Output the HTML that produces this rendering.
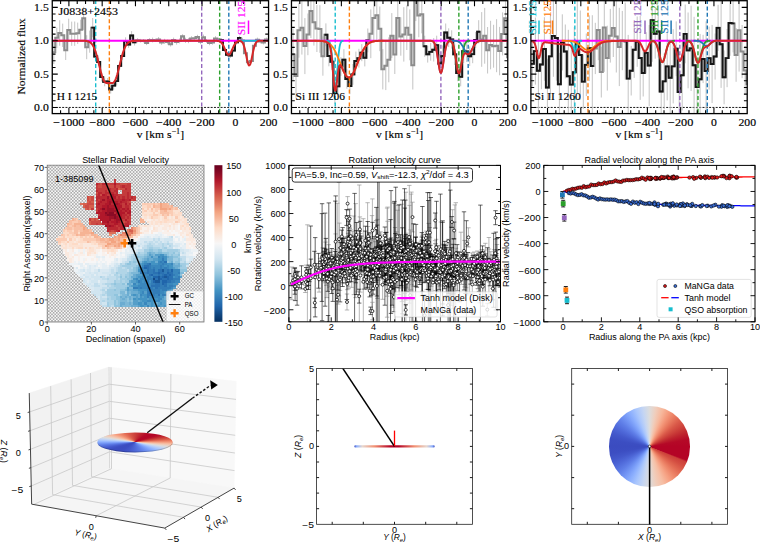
<!DOCTYPE html>
<html><head><meta charset="utf-8"><style>
html,body{margin:0;padding:0;background:#fff;width:760px;height:545px;overflow:hidden;position:relative}
svg{display:block}
</style></head><body>
<svg width="760" height="545" viewBox="0 0 760 545">
<rect width="760" height="545" fill="#fff"/>
<clipPath id="sp0"><rect x="52.26" y="0" width="216.3" height="113.6"/></clipPath>
<g clip-path="url(#sp0)">
<line x1="52.26" y1="107.45" x2="268.56" y2="107.45" stroke="#000" stroke-width="0.9" stroke-dasharray="2,1.3"/>
<path d="M53.8 40.6V64.1M56.8 27.6V48.1M59.7 20.2V45.7M62.7 23.6V47M65.7 40.7V60M68.7 18.7V41.4M71.7 21.6V45.8M74.7 21.5V45.9M77.7 22.6V44M80.7 19.7V39.7M83.7 6.8V29.9M86.7 35.2V59.2M89.7 30.6V52.7M92.7 18V37.3M95.7 52.7V60.4M98.7 58V66.1M101.7 72.8V81.4M104.7 77.5V86.3M107.7 78V85M110.7 85.4V93.6M113.7 81.7V89.6M116.7 76.7V85.5M119.7 62.2V69.6M122.6 51.8V60.2M125.6 37.3V44.7M128.6 41.1V47.8M131.6 31.1V39.8M134.6 38.8V45.5M137.6 38.2V42.3M140.6 38.9V42.5M143.6 39V42.5M146.6 40.9V45.1M149.6 38.1V42.1M152.6 37.6V42.4M155.6 38.5V42M158.6 37V42.1M161.6 39.9V44.9M164.6 38.8V43.9M167.6 39.6V44.5M170.6 41.8V46.5M173.6 37.6V42.4M176.6 39.5V44.6M179.6 38.4V43.4M182.6 34.2V38.2M185.5 37.7V42.9M188.5 37.9V43.2M191.5 36.2V41M194.5 36V40.6M197.5 34.8V39.4M200.5 39.4V44.2M203.5 34.6V39.7M206.5 39V43M209.5 41V45.2M212.5 40.6V44.6M215.5 36.2V41M218.5 37.7V41.3M221.5 38.1V42.4M224.5 47.8V52.1M227.5 52.6V56.9M230.5 53.2V57.8M233.5 48.6V52.6M236.5 39.7V44.8M239.5 35.8V40M242.5 37.8V43M245.5 50.6V55.8M248.4 60.1V64.2M251.4 58.8V63M254.4 43.4V48M257.4 37.6V41.8M260.4 39.7V43.4M263.4 40.5V44.5M266.4 37.5V41.4M269.4 39V43.2" stroke="#c4c4c4" stroke-width="1" fill="none"/>
<polyline points="52.26,52.33 55.26,52.33 55.26,37.85 58.25,37.85 58.25,32.94 61.25,32.94 61.25,35.31 64.24,35.31 64.24,50.37 67.24,50.37 67.24,30.03 70.23,30.03 70.23,33.73 73.23,33.73 73.23,33.7 76.22,33.7 76.22,33.3 79.22,33.3 79.22,29.71 82.21,29.71 82.21,18.37 85.21,18.37 85.21,47.18 88.2,47.18 88.2,41.63 91.2,41.63 91.2,27.66 94.19,27.66 94.19,56.57 97.19,56.57 97.19,62.01 100.18,62.01 100.18,77.1 103.18,77.1 103.18,81.88 106.17,81.88 106.17,81.52 109.17,81.52 109.17,89.52 112.16,89.52 112.16,85.65 115.16,85.65 115.16,81.11 118.15,81.11 118.15,65.91 121.15,65.91 121.15,55.99 124.14,55.99 124.14,41 127.14,41 127.14,44.44 130.14,44.44 130.14,35.44 133.13,35.44 133.13,42.18 136.13,42.18 136.13,40.22 139.12,40.22 139.12,40.67 142.12,40.67 142.12,40.73 145.11,40.73 145.11,43.01 148.11,43.01 148.11,40.08 151.1,40.08 151.1,39.98 154.1,39.98 154.1,40.27 157.09,40.27 157.09,39.51 160.09,39.51 160.09,42.39 163.08,42.39 163.08,41.35 166.08,41.35 166.08,42.07 169.07,42.07 169.07,44.16 172.07,44.16 172.07,40.01 175.06,40.01 175.06,42.02 178.06,42.02 178.06,40.91 181.05,40.91 181.05,36.25 184.05,36.25 184.05,40.29 187.04,40.29 187.04,40.54 190.04,40.54 190.04,38.6 193.03,38.6 193.03,38.26 196.03,38.26 196.03,37.12 199.02,37.12 199.02,41.79 202.02,41.79 202.02,37.16 205.02,37.16 205.02,41.01 208.01,41.01 208.01,43.07 211.01,43.07 211.01,42.61 214,42.61 214,38.56 217,38.56 217,39.52 219.99,39.52 219.99,40.26 222.99,40.26 222.99,49.94 225.98,49.94 225.98,54.75 228.98,54.75 228.98,55.51 231.97,55.51 231.97,50.58 234.97,50.58 234.97,42.22 237.96,42.22 237.96,37.88 240.96,37.88 240.96,40.38 243.95,40.38 243.95,53.21 246.95,53.21 246.95,62.16 249.94,62.16 249.94,60.92 252.94,60.92 252.94,45.73 255.93,45.73 255.93,39.7 258.93,39.7 258.93,41.59 261.92,41.59 261.92,42.52 264.92,42.52 264.92,39.45 267.91,39.45 267.91,41.1 270.91,41.1" fill="none" stroke="#8c8c8c" stroke-width="2.0" />
<polyline points="91.2,27.66 94.19,27.66 94.19,56.57 97.19,56.57 97.19,62.01 100.18,62.01 100.18,77.1 103.18,77.1 103.18,81.88 106.17,81.88 106.17,81.52 109.17,81.52 109.17,89.52 112.16,89.52 112.16,85.65 115.16,85.65 115.16,81.11 118.15,81.11 118.15,65.91 121.15,65.91 121.15,55.99 124.14,55.99 124.14,41 127.14,41 127.14,44.44 130.14,44.44 130.14,35.44 133.13,35.44 133.13,42.18 136.13,42.18" fill="none" stroke="#161616" stroke-width="1.9" />
<polyline points="219.99,40.26 222.99,40.26 222.99,49.94 225.98,49.94 225.98,54.75 228.98,54.75 228.98,55.51 231.97,55.51 231.97,50.58 234.97,50.58 234.97,42.22 237.96,42.22 237.96,37.88 240.96,37.88" fill="none" stroke="#161616" stroke-width="1.9" />
<line x1="95.69" y1="0" x2="95.69" y2="114" stroke="#17becf" stroke-width="1.4" stroke-dasharray="4,2.4"/>
<line x1="109.34" y1="0" x2="109.34" y2="114" stroke="#ff7f0e" stroke-width="1.4" stroke-dasharray="4,2.4"/>
<line x1="201.69" y1="0" x2="201.69" y2="114" stroke="#9467bd" stroke-width="1.4" stroke-dasharray="4,2.4"/>
<line x1="219.66" y1="0" x2="219.66" y2="114" stroke="#2ca02c" stroke-width="1.4" stroke-dasharray="4,2.4"/>
<line x1="228.81" y1="0" x2="228.81" y2="114" stroke="#1f77b4" stroke-width="1.4" stroke-dasharray="4,2.4"/>
<polyline points="52.26,40.75 268.58,40.75" fill="none" stroke="#ff00ff" stroke-width="2.0" />
<polyline points="238.63,40.75 268.58,40.75" fill="none" stroke="#17becf" stroke-width="2.0" />
<polyline points="52.26,40.75 52.69,40.75 53.13,40.75 53.56,40.75 53.99,40.75 54.43,40.75 54.86,40.75 55.29,40.75 55.73,40.75 56.16,40.75 56.6,40.75 57.03,40.75 57.46,40.75 57.9,40.75 58.33,40.75 58.76,40.75 59.2,40.75 59.63,40.75 60.06,40.75 60.5,40.75 60.93,40.75 61.36,40.75 61.8,40.75 62.23,40.75 62.66,40.75 63.1,40.75 63.53,40.75 63.96,40.75 64.4,40.75 64.83,40.75 65.27,40.75 65.7,40.75 66.13,40.75 66.57,40.75 67,40.75 67.43,40.75 67.87,40.75 68.3,40.75 68.73,40.75 69.17,40.75 69.6,40.75 70.03,40.75 70.47,40.75 70.9,40.75 71.33,40.75 71.77,40.75 72.2,40.75 72.63,40.75 73.07,40.75 73.5,40.75 73.94,40.75 74.37,40.75 74.8,40.75 75.24,40.75 75.67,40.75 76.1,40.75 76.54,40.75 76.97,40.75 77.4,40.75 77.84,40.75 78.27,40.75 78.7,40.75 79.14,40.75 79.57,40.75 80,40.75 80.44,40.76 80.87,40.76 81.3,40.76 81.74,40.77 82.17,40.77 82.61,40.78 83.04,40.79 83.47,40.8 83.91,40.81 84.34,40.83 84.77,40.86 85.21,40.89 85.64,40.93 86.07,40.97 86.51,41.03 86.94,41.11 87.37,41.2 87.81,41.3 88.24,41.44 88.67,41.59 89.11,41.78 89.54,42.01 89.98,42.27 90.41,42.58 90.84,42.95 91.28,43.37 91.71,43.85 92.14,44.4 92.58,45.02 93.01,45.73 93.44,46.52 93.88,47.4 94.31,48.37 94.74,49.44 95.18,50.61 95.61,51.87 96.04,53.22 96.48,54.66 96.91,56.19 97.34,57.79 97.78,59.45 98.21,61.17 98.65,62.93 99.08,64.7 99.51,66.49 99.95,68.26 100.38,69.99 100.81,71.67 101.25,73.28 101.68,74.8 102.11,76.21 102.55,77.5 102.98,78.66 103.41,79.68 103.85,80.55 104.28,81.28 104.71,81.86 105.15,82.32 105.58,82.65 106.01,82.88 106.45,83.02 106.88,83.1 107.32,83.12 107.75,83.1 108.18,83.08 108.62,83.05 109.05,83.03 109.48,83.02 109.92,83.03 110.35,83.06 110.78,83.09 111.22,83.11 111.65,83.11 112.08,83.08 112.52,82.99 112.95,82.83 113.38,82.57 113.82,82.2 114.25,81.7 114.69,81.08 115.12,80.3 115.55,79.39 115.99,78.33 116.42,77.13 116.85,75.8 117.29,74.36 117.72,72.81 118.15,71.18 118.59,69.48 119.02,67.73 119.45,65.96 119.89,64.17 120.32,62.4 120.75,60.65 121.19,58.95 121.62,57.3 122.05,55.72 122.49,54.22 122.92,52.81 123.36,51.48 123.79,50.25 124.22,49.11 124.66,48.07 125.09,47.13 125.52,46.28 125.96,45.51 126.39,44.83 126.82,44.23 127.26,43.7 127.69,43.23 128.12,42.83 128.56,42.49 128.99,42.19 129.42,41.94 129.86,41.72 130.29,41.54 130.72,41.39 131.16,41.27 131.59,41.17 132.03,41.08 132.46,41.01 132.89,40.96 133.33,40.91 133.76,40.88 134.19,40.85 134.63,40.83 135.06,40.81 135.49,40.79 135.93,40.78 136.36,40.78 136.79,40.77 137.23,40.76 137.66,40.76 138.09,40.76 138.53,40.76 138.96,40.75 139.39,40.75 139.83,40.75 140.26,40.75 140.7,40.75 141.13,40.75 141.56,40.75 142,40.75 142.43,40.75 142.86,40.75 143.3,40.75 143.73,40.75 144.16,40.75 144.6,40.75 145.03,40.75 145.46,40.75 145.9,40.75 146.33,40.75 146.76,40.75 147.2,40.75 147.63,40.75 148.07,40.75 148.5,40.75 148.93,40.75 149.37,40.75 149.8,40.75 150.23,40.75 150.67,40.75 151.1,40.75 151.53,40.75 151.97,40.75 152.4,40.75 152.83,40.75 153.27,40.75 153.7,40.75 154.13,40.75 154.57,40.75 155,40.75 155.43,40.75 155.87,40.75 156.3,40.75 156.74,40.75 157.17,40.75 157.6,40.75 158.04,40.75 158.47,40.75 158.9,40.75 159.34,40.75 159.77,40.75 160.2,40.75 160.64,40.75 161.07,40.75 161.5,40.75 161.94,40.75 162.37,40.75 162.8,40.75 163.24,40.75 163.67,40.75 164.1,40.75 164.54,40.75 164.97,40.75 165.41,40.75 165.84,40.75 166.27,40.75 166.71,40.75 167.14,40.75 167.57,40.75 168.01,40.75 168.44,40.75 168.87,40.75 169.31,40.75 169.74,40.75 170.17,40.75 170.61,40.75 171.04,40.75 171.47,40.75 171.91,40.75 172.34,40.75 172.77,40.75 173.21,40.75 173.64,40.75 174.08,40.75 174.51,40.75 174.94,40.75 175.38,40.75 175.81,40.75 176.24,40.75 176.68,40.75 177.11,40.75 177.54,40.75 177.98,40.75 178.41,40.75 178.84,40.75 179.28,40.75 179.71,40.75 180.14,40.75 180.58,40.75 181.01,40.75 181.45,40.75 181.88,40.75 182.31,40.75 182.75,40.75 183.18,40.75 183.61,40.75 184.05,40.75 184.48,40.75 184.91,40.75 185.35,40.75 185.78,40.75 186.21,40.75 186.65,40.75 187.08,40.75 187.51,40.75 187.95,40.75 188.38,40.75 188.81,40.75 189.25,40.75 189.68,40.75 190.12,40.75 190.55,40.75 190.98,40.75 191.42,40.75 191.85,40.75 192.28,40.75 192.72,40.75 193.15,40.75 193.58,40.75 194.02,40.75 194.45,40.75 194.88,40.75 195.32,40.75 195.75,40.75 196.18,40.75 196.62,40.75 197.05,40.75 197.48,40.75 197.92,40.75 198.35,40.75 198.79,40.75 199.22,40.75 199.65,40.75 200.09,40.75 200.52,40.75 200.95,40.75 201.39,40.75 201.82,40.75 202.25,40.75 202.69,40.75 203.12,40.75 203.55,40.75 203.99,40.75 204.42,40.75 204.85,40.75 205.29,40.75 205.72,40.75 206.15,40.75 206.59,40.75 207.02,40.75 207.46,40.75 207.89,40.75 208.32,40.75 208.76,40.75 209.19,40.75 209.62,40.75 210.06,40.75 210.49,40.75 210.92,40.75 211.36,40.75 211.79,40.75 212.22,40.75 212.66,40.75 213.09,40.75 213.52,40.75 213.96,40.75 214.39,40.76 214.83,40.76 215.26,40.77 215.69,40.78 216.13,40.79 216.56,40.81 216.99,40.84 217.43,40.88 217.86,40.93 218.29,41.01 218.73,41.11 219.16,41.24 219.59,41.41 220.03,41.63 220.46,41.9 220.89,42.24 221.33,42.65 221.76,43.14 222.19,43.72 222.63,44.38 223.06,45.13 223.5,45.96 223.93,46.86 224.36,47.82 224.8,48.81 225.23,49.82 225.66,50.8 226.1,51.74 226.53,52.61 226.96,53.36 227.4,53.97 227.83,54.42 228.26,54.68 228.7,54.76 229.13,54.63 229.56,54.32 230,53.83 230.43,53.18 230.86,52.4 231.3,51.52 231.73,50.56 232.17,49.57 232.6,48.56 233.03,47.58 233.47,46.63 233.9,45.75 234.33,44.94 234.77,44.21 235.2,43.57 235.63,43.01 236.07,42.54 236.5,42.15 236.93,41.83 237.37,41.58 237.8,41.38 238.23,41.23 238.67,41.13 239.1,41.06 239.54,41.04 239.97,41.06 240.4,41.14 240.84,41.27 241.27,41.48 241.7,41.78 242.14,42.2 242.57,42.77 243,43.51 243.44,44.44 243.87,45.59 244.3,46.97 244.74,48.57 245.17,50.39 245.6,52.38 246.04,54.5 246.47,56.66 246.9,58.78 247.34,60.76 247.77,62.5 248.21,63.9 248.64,64.87 249.07,65.37 249.51,65.36 249.94,64.83 250.37,63.83 250.81,62.42 251.24,60.66 251.67,58.67 252.11,56.55 252.54,54.39 252.97,52.28 253.41,50.29 253.84,48.48 254.27,46.89 254.71,45.52 255.14,44.38 255.57,43.46 256.01,42.73 256.44,42.16 256.88,41.74 257.31,41.43 257.74,41.2 258.18,41.05 258.61,40.94 259.04,40.87 259.48,40.82 259.91,40.8 260.34,40.78 260.78,40.77 261.21,40.76 261.64,40.75 262.08,40.75 262.51,40.75 262.94,40.75 263.38,40.75 263.81,40.75 264.24,40.75 264.68,40.75 265.11,40.75 265.55,40.75 265.98,40.75 266.41,40.75 266.85,40.75 267.28,40.75 267.71,40.75 268.15,40.75 268.58,40.75" fill="none" stroke="#d62728" stroke-width="2.0" />
</g>
<rect x="52.26" y="0.7" width="216.3" height="112.9" fill="none" stroke="#000" stroke-width="1.3"/>
<path d="M60.58 113.6v-3.3M60.58 0.7v3.3M68.9 113.6v-5.5M68.9 0.7v5.5M77.22 113.6v-3.3M77.22 0.7v3.3M85.54 113.6v-3.3M85.54 0.7v3.3M93.86 113.6v-3.3M93.86 0.7v3.3M102.18 113.6v-5.5M102.18 0.7v5.5M110.5 113.6v-3.3M110.5 0.7v3.3M118.82 113.6v-3.3M118.82 0.7v3.3M127.14 113.6v-3.3M127.14 0.7v3.3M135.46 113.6v-5.5M135.46 0.7v5.5M143.78 113.6v-3.3M143.78 0.7v3.3M152.1 113.6v-3.3M152.1 0.7v3.3M160.42 113.6v-3.3M160.42 0.7v3.3M168.74 113.6v-5.5M168.74 0.7v5.5M177.06 113.6v-3.3M177.06 0.7v3.3M185.38 113.6v-3.3M185.38 0.7v3.3M193.7 113.6v-3.3M193.7 0.7v3.3M202.02 113.6v-5.5M202.02 0.7v5.5M210.34 113.6v-3.3M210.34 0.7v3.3M218.66 113.6v-3.3M218.66 0.7v3.3M226.98 113.6v-3.3M226.98 0.7v3.3M235.3 113.6v-5.5M235.3 0.7v5.5M243.62 113.6v-3.3M243.62 0.7v3.3M251.94 113.6v-3.3M251.94 0.7v3.3M260.26 113.6v-3.3M260.26 0.7v3.3M52.26 107.45h5.5M268.56 107.45h-5.5M52.26 100.78h3.3M268.56 100.78h-3.3M52.26 94.11h3.3M268.56 94.11h-3.3M52.26 87.44h3.3M268.56 87.44h-3.3M52.26 80.77h3.3M268.56 80.77h-3.3M52.26 74.1h5.5M268.56 74.1h-5.5M52.26 67.43h3.3M268.56 67.43h-3.3M52.26 60.76h3.3M268.56 60.76h-3.3M52.26 54.09h3.3M268.56 54.09h-3.3M52.26 47.42h3.3M268.56 47.42h-3.3M52.26 40.75h5.5M268.56 40.75h-5.5M52.26 34.08h3.3M268.56 34.08h-3.3M52.26 27.41h3.3M268.56 27.41h-3.3M52.26 20.74h3.3M268.56 20.74h-3.3M52.26 14.07h3.3M268.56 14.07h-3.3M52.26 7.4h5.5M268.56 7.4h-5.5" stroke="#000" stroke-width="1.1" fill="none"/>
<text x="68.9" y="125.7" font-size="10.24" text-anchor="middle" font-family="'Liberation Serif', serif" fill="#000" stroke="#000" stroke-width="0.15" textLength="31.12" lengthAdjust="spacingAndGlyphs" >−1000</text>
<text x="102.18" y="125.7" font-size="10.24" text-anchor="middle" font-family="'Liberation Serif', serif" fill="#000" stroke="#000" stroke-width="0.15" textLength="25.27" lengthAdjust="spacingAndGlyphs" >−800</text>
<text x="135.46" y="125.7" font-size="10.24" text-anchor="middle" font-family="'Liberation Serif', serif" fill="#000" stroke="#000" stroke-width="0.15" textLength="25.27" lengthAdjust="spacingAndGlyphs" >−600</text>
<text x="168.74" y="125.7" font-size="10.24" text-anchor="middle" font-family="'Liberation Serif', serif" fill="#000" stroke="#000" stroke-width="0.15" textLength="25.27" lengthAdjust="spacingAndGlyphs" >−400</text>
<text x="202.02" y="125.7" font-size="10.24" text-anchor="middle" font-family="'Liberation Serif', serif" fill="#000" stroke="#000" stroke-width="0.15" textLength="25.27" lengthAdjust="spacingAndGlyphs" >−200</text>
<text x="235.3" y="125.7" font-size="10.24" text-anchor="middle" font-family="'Liberation Serif', serif" fill="#000" stroke="#000" stroke-width="0.15" textLength="5.85" lengthAdjust="spacingAndGlyphs" >0</text>
<text x="268.58" y="125.7" font-size="10.24" text-anchor="middle" font-family="'Liberation Serif', serif" fill="#000" stroke="#000" stroke-width="0.15" textLength="17.56" lengthAdjust="spacingAndGlyphs" >200</text>
<text x="48.76" y="110.85" font-size="10.24" text-anchor="end" font-family="'Liberation Serif', serif" fill="#000" stroke="#000" stroke-width="0.15" textLength="14.63" lengthAdjust="spacingAndGlyphs" >0.0</text>
<text x="48.76" y="77.5" font-size="10.24" text-anchor="end" font-family="'Liberation Serif', serif" fill="#000" stroke="#000" stroke-width="0.15" textLength="14.63" lengthAdjust="spacingAndGlyphs" >0.5</text>
<text x="48.76" y="44.15" font-size="10.24" text-anchor="end" font-family="'Liberation Serif', serif" fill="#000" stroke="#000" stroke-width="0.15" textLength="14.63" lengthAdjust="spacingAndGlyphs" >1.0</text>
<text x="48.76" y="10.8" font-size="10.24" text-anchor="end" font-family="'Liberation Serif', serif" fill="#000" stroke="#000" stroke-width="0.15" textLength="14.63" lengthAdjust="spacingAndGlyphs" >1.5</text>
<text x="160.41" y="137.7" font-size="10.35" text-anchor="middle" font-family="'Liberation Serif', serif" fill="#000" stroke="#000" stroke-width="0.15" textLength="47.25" lengthAdjust="spacingAndGlyphs" ><tspan>v [km s</tspan><tspan font-size="7.25" dy="-3.8">−1</tspan><tspan dy="3.8">]</tspan></text>
<clipPath id="sp1"><rect x="291.46" y="0" width="216.3" height="113.6"/></clipPath>
<g clip-path="url(#sp1)">
<line x1="291.46" y1="107.45" x2="507.76" y2="107.45" stroke="#000" stroke-width="0.9" stroke-dasharray="2,1.3"/>
<path d="M293 28.7V80.2M296 53.9V98.1M298.9 2.9V57.7M301.9 1.1V54.6M304.9 18.1V74.1M307.9 13.5V55.2M310.9 -15.8V38M313.9 -0.8V45.6M316.9 5V52M319.9 5.2V52.8M322.9 36.5V75.7M325.9 23.4V46.2M328.9 45.7V66.3M331.9 53.4V70M334.9 82.3V104M337.9 78V94.7M340.9 57.1V75.9M343.9 49.2V70.3M346.9 69.2V88.7M349.9 77.9V94.2M352.9 64V84.8M355.9 51.6V70.3M358.9 48.8V67.6M361.8 44.1V61.2M364.8 49.1V66.4M367.8 28.5V52.3M370.8 9.4V58.2M373.8 -6.2V42.3M376.8 -10.9V41.2M379.8 6.5V51.2M382.8 49.1V89.4M385.8 41.2V90.1M388.8 37.3V82.3M391.8 13.1V58.1M394.8 34.9V74M397.8 -4.6V40.7M400.8 17.3V55.7M403.8 7.2V61.6M406.8 5.5V50M409.8 9.4V60.3M412.8 41V89.5M415.8 -24.6V21.1M418.8 -6.5V37.3M421.8 -4.7V33.4M424.7 35.7V56.8M427.7 46V62.6M430.7 43V60.7M433.7 38.1V61.5M436.7 35.7V54.5M439.7 54.2V72.9M442.7 45.4V66.7M445.7 23.5V41.5M448.7 28.3V47.1M451.7 30.3V48.6M454.7 43.7V65M457.7 64.7V81.2M460.7 67.4V86.3M463.7 39.2V63M466.7 41V62M469.7 46.4V66M472.7 45.1V63.2M475.7 32V48.1M478.7 20.2V43.3M481.7 12.1V66.8M484.7 7.9V63.7M487.6 27V73.5M490.6 20.8V69.3M493.6 24.8V67.7M496.6 19.2V72.2M499.6 26.9V75.3M502.6 12.4V55.4M505.6 -3.3V39.7M508.6 35.1V79.2" stroke="#c4c4c4" stroke-width="1" fill="none"/>
<polyline points="291.46,54.45 294.46,54.45 294.46,76.03 297.45,76.03 297.45,30.29 300.45,30.29 300.45,27.84 303.44,27.84 303.44,46.12 306.44,46.12 306.44,34.38 309.43,34.38 309.43,11.09 312.43,11.09 312.43,22.36 315.42,22.36 315.42,28.52 318.42,28.52 318.42,28.96 321.41,28.96 321.41,56.13 324.41,56.13 324.41,34.77 327.4,34.77 327.4,56.03 330.4,56.03 330.4,61.69 333.39,61.69 333.39,93.17 336.39,93.17 336.39,86.34 339.38,86.34 339.38,66.5 342.38,66.5 342.38,59.76 345.37,59.76 345.37,78.97 348.37,78.97 348.37,86.05 351.36,86.05 351.36,74.4 354.36,74.4 354.36,60.96 357.35,60.96 357.35,58.19 360.35,58.19 360.35,52.68 363.34,52.68 363.34,57.76 366.34,57.76 366.34,40.39 369.34,40.39 369.34,33.79 372.33,33.79 372.33,18.06 375.33,18.06 375.33,15.13 378.32,15.13 378.32,28.87 381.32,28.87 381.32,69.25 384.31,69.25 384.31,65.65 387.31,65.65 387.31,59.79 390.3,59.79 390.3,35.64 393.3,35.64 393.3,54.4 396.29,54.4 396.29,18.04 399.29,18.04 399.29,36.52 402.28,36.52 402.28,34.42 405.28,34.42 405.28,27.73 408.27,27.73 408.27,34.85 411.27,34.85 411.27,65.21 414.26,65.21 414.26,-1.77 417.26,-1.77 417.26,15.38 420.25,15.38 420.25,14.34 423.25,14.34 423.25,46.23 426.24,46.23 426.24,54.31 429.24,54.31 429.24,51.86 432.23,51.86 432.23,49.79 435.23,49.79 435.23,45.14 438.22,45.14 438.22,63.56 441.22,63.56 441.22,56.02 444.22,56.02 444.22,32.5 447.21,32.5 447.21,37.68 450.21,37.68 450.21,39.48 453.2,39.48 453.2,54.33 456.2,54.33 456.2,72.94 459.19,72.94 459.19,76.83 462.19,76.83 462.19,51.09 465.18,51.09 465.18,51.49 468.18,51.49 468.18,56.24 471.17,56.24 471.17,54.14 474.17,54.14 474.17,40.04 477.16,40.04 477.16,31.72 480.16,31.72 480.16,39.41 483.15,39.41 483.15,35.83 486.15,35.83 486.15,50.26 489.14,50.26 489.14,45.06 492.14,45.06 492.14,46.24 495.13,46.24 495.13,45.69 498.13,45.69 498.13,51.11 501.12,51.11 501.12,33.88 504.12,33.88 504.12,18.21 507.11,18.21 507.11,57.18 510.11,57.18" fill="none" stroke="#8c8c8c" stroke-width="2.0" />
<polyline points="324.41,34.77 327.4,34.77 327.4,56.03 330.4,56.03 330.4,61.69 333.39,61.69 333.39,93.17 336.39,93.17 336.39,86.34 339.38,86.34 339.38,66.5 342.38,66.5 342.38,59.76 345.37,59.76 345.37,78.97 348.37,78.97 348.37,86.05 351.36,86.05 351.36,74.4 354.36,74.4 354.36,60.96 357.35,60.96 357.35,58.19 360.35,58.19 360.35,52.68 363.34,52.68 363.34,57.76 366.34,57.76 366.34,40.39 369.34,40.39" fill="none" stroke="#161616" stroke-width="1.9" />
<polyline points="423.25,46.23 426.24,46.23 426.24,54.31 429.24,54.31 429.24,51.86 432.23,51.86 432.23,49.79 435.23,49.79 435.23,45.14 438.22,45.14 438.22,63.56 441.22,63.56 441.22,56.02 444.22,56.02 444.22,32.5 447.21,32.5 447.21,37.68 450.21,37.68 450.21,39.48 453.2,39.48 453.2,54.33 456.2,54.33 456.2,72.94 459.19,72.94 459.19,76.83 462.19,76.83 462.19,51.09 465.18,51.09 465.18,51.49 468.18,51.49 468.18,56.24 471.17,56.24 471.17,54.14 474.17,54.14 474.17,40.04 477.16,40.04 477.16,31.72 480.16,31.72" fill="none" stroke="#161616" stroke-width="1.9" />
<line x1="335.22" y1="0" x2="335.22" y2="114" stroke="#17becf" stroke-width="1.4" stroke-dasharray="4,2.4"/>
<line x1="349.37" y1="0" x2="349.37" y2="114" stroke="#ff7f0e" stroke-width="1.4" stroke-dasharray="4,2.4"/>
<line x1="440.89" y1="0" x2="440.89" y2="114" stroke="#9467bd" stroke-width="1.4" stroke-dasharray="4,2.4"/>
<line x1="458.86" y1="0" x2="458.86" y2="114" stroke="#2ca02c" stroke-width="1.4" stroke-dasharray="4,2.4"/>
<line x1="468.18" y1="0" x2="468.18" y2="114" stroke="#1f77b4" stroke-width="1.4" stroke-dasharray="4,2.4"/>
<polyline points="291.46,40.75 507.78,40.75" fill="none" stroke="#ff00ff" stroke-width="2.0" />
<polyline points="326.57,40.77 327.01,40.78 327.44,40.82 327.87,40.9 328.31,41.03 328.74,41.27 329.18,41.69 329.61,42.36 330.04,43.4 330.48,44.95 330.91,47.14 331.34,50.09 331.78,53.87 332.21,58.44 332.64,63.68 333.08,69.29 333.51,74.87 333.94,79.95 334.38,84 334.81,86.6 335.24,87.44 335.68,86.42 336.11,83.67 336.54,79.49 336.98,74.35 337.41,68.74 337.85,63.15 338.28,57.97 338.71,53.46 339.15,49.77 339.58,46.9 340.01,44.77 340.45,43.28 340.88,42.28 341.31,41.64 341.75,41.24 342.18,41.01 342.61,40.89 343.05,40.82 343.48,40.78" fill="none" stroke="#17becf" stroke-width="1.8" />
<polyline points="314.44,40.76 314.87,40.77 315.3,40.77 315.74,40.77 316.17,40.78 316.6,40.79 317.04,40.79 317.47,40.8 317.9,40.81 318.34,40.82 318.77,40.84 319.2,40.85 319.64,40.87 320.07,40.89 320.5,40.92 320.94,40.95 321.37,40.99 321.81,41.03 322.24,41.07 322.67,41.13 323.11,41.19 323.54,41.26 323.97,41.33 324.41,41.42 324.84,41.53 325.27,41.64 325.71,41.77 326.14,41.92 326.57,42.08 327.01,42.26 327.44,42.46 327.87,42.68 328.31,42.93 328.74,43.2 329.18,43.5 329.61,43.83 330.04,44.19 330.48,44.58 330.91,45.01 331.34,45.47 331.78,45.96 332.21,46.5 332.64,47.07 333.08,47.69 333.51,48.34 333.94,49.04 334.38,49.78 334.81,50.55 335.24,51.37 335.68,52.23 336.11,53.12 336.54,54.06 336.98,55.02 337.41,56.02 337.85,57.05 338.28,58.1 338.71,59.17 339.15,60.26 339.58,61.37 340.01,62.48 340.45,63.59 340.88,64.71 341.31,65.81 341.75,66.9 342.18,67.96 342.61,69 343.05,70.01 343.48,70.97 343.91,71.89 344.35,72.76 344.78,73.56 345.21,74.31 345.65,74.98 346.08,75.58 346.52,76.1 346.95,76.54 347.38,76.9 347.82,77.16 348.25,77.34 348.68,77.43 349.12,77.42 349.55,77.32 349.98,77.13 350.42,76.85 350.85,76.48 351.28,76.03 351.72,75.5 352.15,74.89 352.58,74.2 353.02,73.45 353.45,72.63 353.89,71.76 354.32,70.83 354.75,69.86 355.19,68.85 355.62,67.81 356.05,66.74 356.49,65.65 356.92,64.54 357.35,63.43 357.79,62.32 358.22,61.21 358.65,60.1 359.09,59.01 359.52,57.94 359.95,56.89 360.39,55.87 360.82,54.88 361.25,53.92 361.69,52.99 362.12,52.1 362.56,51.25 362.99,50.44 363.42,49.67 363.86,48.93 364.29,48.24 364.72,47.6 365.16,46.99 365.59,46.42 366.02,45.89 366.46,45.4 366.89,44.94 367.32,44.52 367.76,44.14 368.19,43.78 368.62,43.46 369.06,43.16 369.49,42.89 369.92,42.65 370.36,42.43 370.79,42.23 371.23,42.05 371.66,41.89 372.09,41.75 372.53,41.62 372.96,41.51 373.39,41.41 373.83,41.32 374.26,41.24 374.69,41.18 375.13,41.12 375.56,41.06 375.99,41.02 376.43,40.98 376.86,40.95 377.29,40.92 377.73,40.89 378.16,40.87 378.59,40.85 379.03,40.83 379.46,40.82 379.9,40.81 380.33,40.8 380.76,40.79 381.2,40.78 381.63,40.78 382.06,40.77 382.5,40.77 382.93,40.77 383.36,40.76" fill="none" stroke="#ff7f0e" stroke-width="1.8" />
<polyline points="429.75,40.76 430.18,40.77 430.62,40.79 431.05,40.83 431.48,40.88 431.92,40.96 432.35,41.09 432.78,41.28 433.22,41.56 433.65,41.96 434.08,42.53 434.52,43.29 434.95,44.29 435.38,45.58 435.82,47.18 436.25,49.11 436.68,51.37 437.12,53.93 437.55,56.73 437.99,59.67 438.42,62.63 438.85,65.47 439.29,68.03 439.72,70.15 440.15,71.71 440.59,72.59 441.02,72.73 441.45,72.13 441.89,70.83 442.32,68.91 442.75,66.5 443.19,63.75 443.62,60.82 444.05,57.86 444.49,54.99 444.92,52.33 445.35,49.95 445.79,47.89 446.22,46.16 446.66,44.75 447.09,43.64 447.52,42.79 447.96,42.16 448.39,41.7 448.82,41.38 449.26,41.15 449.69,41 450.12,40.91 450.56,40.84 450.99,40.8 451.42,40.78 451.86,40.77" fill="none" stroke="#9467bd" stroke-width="1.8" />
<polyline points="447.96,40.77 448.39,40.78 448.82,40.81 449.26,40.85 449.69,40.92 450.12,41.02 450.56,41.18 450.99,41.42 451.42,41.76 451.86,42.25 452.29,42.91 452.72,43.8 453.16,44.95 453.59,46.41 454.03,48.19 454.46,50.3 454.89,52.73 455.33,55.43 455.76,58.32 456.19,61.29 456.63,64.2 457.06,66.91 457.49,69.25 457.93,71.08 458.36,72.27 458.79,72.76 459.23,72.5 459.66,71.5 460.09,69.85 460.53,67.65 460.96,65.04 461.39,62.17 461.83,59.2 462.26,56.28 462.7,53.51 463.13,50.99 463.56,48.78 464,46.9 464.43,45.35 464.86,44.12 465.3,43.15 465.73,42.43 466.16,41.89 466.6,41.51 467.03,41.24 467.46,41.06 467.9,40.94 468.33,40.87 468.76,40.82 469.2,40.79 469.63,40.77 470.06,40.76" fill="none" stroke="#2ca02c" stroke-width="1.8" />
<polyline points="451.86,40.76 452.29,40.76 452.72,40.76 453.16,40.77 453.59,40.78 454.03,40.79 454.46,40.81 454.89,40.83 455.33,40.86 455.76,40.9 456.19,40.96 456.63,41.03 457.06,41.13 457.49,41.24 457.93,41.39 458.36,41.57 458.79,41.8 459.23,42.07 459.66,42.39 460.09,42.77 460.53,43.21 460.96,43.71 461.39,44.28 461.83,44.91 462.26,45.6 462.7,46.35 463.13,47.14 463.56,47.96 464,48.8 464.43,49.64 464.86,50.46 465.3,51.25 465.73,51.97 466.16,52.62 466.6,53.16 467.03,53.59 467.46,53.9 467.9,54.06 468.33,54.08 468.76,53.96 469.2,53.69 469.63,53.3 470.06,52.78 470.5,52.17 470.93,51.46 471.37,50.69 471.8,49.88 472.23,49.04 472.67,48.2 473.1,47.37 473.53,46.57 473.97,45.81 474.4,45.11 474.83,44.46 475.27,43.87 475.7,43.35 476.13,42.89 476.57,42.49 477,42.16 477.43,41.87 477.87,41.63 478.3,41.44 478.74,41.28 479.17,41.16 479.6,41.06 480.04,40.98 480.47,40.92 480.9,40.87 481.34,40.84 481.77,40.81 482.2,40.8 482.64,40.78 483.07,40.77 483.5,40.77 483.94,40.76 484.37,40.76 484.8,40.75" fill="none" stroke="#1f77b4" stroke-width="1.8" />
<polyline points="291.46,40.75 291.89,40.75 292.33,40.75 292.76,40.75 293.19,40.75 293.63,40.75 294.06,40.75 294.49,40.75 294.93,40.75 295.36,40.75 295.8,40.75 296.23,40.75 296.66,40.75 297.1,40.75 297.53,40.75 297.96,40.75 298.4,40.75 298.83,40.75 299.26,40.75 299.7,40.75 300.13,40.75 300.56,40.75 301,40.75 301.43,40.75 301.86,40.75 302.3,40.75 302.73,40.75 303.16,40.75 303.6,40.75 304.03,40.75 304.47,40.75 304.9,40.75 305.33,40.75 305.77,40.75 306.2,40.75 306.63,40.75 307.07,40.75 307.5,40.75 307.93,40.75 308.37,40.75 308.8,40.75 309.23,40.75 309.67,40.75 310.1,40.75 310.53,40.75 310.97,40.75 311.4,40.75 311.83,40.75 312.27,40.75 312.7,40.76 313.14,40.76 313.57,40.76 314,40.76 314.44,40.76 314.87,40.77 315.3,40.77 315.74,40.77 316.17,40.78 316.6,40.79 317.04,40.79 317.47,40.8 317.9,40.81 318.34,40.82 318.77,40.84 319.2,40.85 319.64,40.87 320.07,40.89 320.5,40.92 320.94,40.95 321.37,40.99 321.81,41.03 322.24,41.07 322.67,41.13 323.11,41.19 323.54,41.26 323.97,41.33 324.41,41.42 324.84,41.53 325.27,41.64 325.71,41.77 326.14,41.92 326.57,42.09 327.01,42.29 327.44,42.53 327.87,42.82 328.31,43.2 328.74,43.71 329.18,44.4 329.61,45.37 330.04,46.71 330.48,48.54 330.91,50.99 331.34,54.15 331.78,58.06 332.21,62.67 332.64,67.83 333.08,73.26 333.51,78.58 333.94,83.36 334.38,87.18 334.81,89.66 335.24,90.62 335.68,90.04 336.11,88.08 336.54,85.07 336.98,81.43 337.41,77.6 337.85,73.97 338.28,70.84 338.71,68.38 339.15,66.65 339.58,65.62 340.01,65.19 340.45,65.26 340.88,65.69 341.31,66.36 341.75,67.2 342.18,68.12 342.61,69.08 343.05,70.04 343.48,70.99 343.91,71.9 344.35,72.76 344.78,73.56 345.21,74.31 345.65,74.98 346.08,75.58 346.52,76.1 346.95,76.54 347.38,76.9 347.82,77.16 348.25,77.34 348.68,77.43 349.12,77.42 349.55,77.32 349.98,77.13 350.42,76.85 350.85,76.48 351.28,76.03 351.72,75.5 352.15,74.89 352.58,74.2 353.02,73.45 353.45,72.63 353.89,71.76 354.32,70.83 354.75,69.86 355.19,68.85 355.62,67.81 356.05,66.74 356.49,65.65 356.92,64.54 357.35,63.43 357.79,62.32 358.22,61.21 358.65,60.1 359.09,59.01 359.52,57.94 359.95,56.89 360.39,55.87 360.82,54.88 361.25,53.92 361.69,52.99 362.12,52.1 362.56,51.25 362.99,50.44 363.42,49.67 363.86,48.93 364.29,48.24 364.72,47.6 365.16,46.99 365.59,46.42 366.02,45.89 366.46,45.4 366.89,44.94 367.32,44.52 367.76,44.14 368.19,43.78 368.62,43.46 369.06,43.16 369.49,42.89 369.92,42.65 370.36,42.43 370.79,42.23 371.23,42.05 371.66,41.89 372.09,41.75 372.53,41.62 372.96,41.51 373.39,41.41 373.83,41.32 374.26,41.24 374.69,41.18 375.13,41.12 375.56,41.06 375.99,41.02 376.43,40.98 376.86,40.95 377.29,40.92 377.73,40.89 378.16,40.87 378.59,40.85 379.03,40.83 379.46,40.82 379.9,40.81 380.33,40.8 380.76,40.79 381.2,40.78 381.63,40.78 382.06,40.77 382.5,40.77 382.93,40.77 383.36,40.76 383.8,40.76 384.23,40.76 384.66,40.76 385.1,40.76 385.53,40.75 385.96,40.75 386.4,40.75 386.83,40.75 387.27,40.75 387.7,40.75 388.13,40.75 388.57,40.75 389,40.75 389.43,40.75 389.87,40.75 390.3,40.75 390.73,40.75 391.17,40.75 391.6,40.75 392.03,40.75 392.47,40.75 392.9,40.75 393.33,40.75 393.77,40.75 394.2,40.75 394.63,40.75 395.07,40.75 395.5,40.75 395.94,40.75 396.37,40.75 396.8,40.75 397.24,40.75 397.67,40.75 398.1,40.75 398.54,40.75 398.97,40.75 399.4,40.75 399.84,40.75 400.27,40.75 400.7,40.75 401.14,40.75 401.57,40.75 402,40.75 402.44,40.75 402.87,40.75 403.3,40.75 403.74,40.75 404.17,40.75 404.61,40.75 405.04,40.75 405.47,40.75 405.91,40.75 406.34,40.75 406.77,40.75 407.21,40.75 407.64,40.75 408.07,40.75 408.51,40.75 408.94,40.75 409.37,40.75 409.81,40.75 410.24,40.75 410.67,40.75 411.11,40.75 411.54,40.75 411.97,40.75 412.41,40.75 412.84,40.75 413.28,40.75 413.71,40.75 414.14,40.75 414.58,40.75 415.01,40.75 415.44,40.75 415.88,40.75 416.31,40.75 416.74,40.75 417.18,40.75 417.61,40.75 418.04,40.75 418.48,40.75 418.91,40.75 419.34,40.75 419.78,40.75 420.21,40.75 420.65,40.75 421.08,40.75 421.51,40.75 421.95,40.75 422.38,40.75 422.81,40.75 423.25,40.75 423.68,40.75 424.11,40.75 424.55,40.75 424.98,40.75 425.41,40.75 425.85,40.75 426.28,40.75 426.71,40.75 427.15,40.75 427.58,40.75 428.01,40.75 428.45,40.75 428.88,40.75 429.32,40.76 429.75,40.76 430.18,40.77 430.62,40.79 431.05,40.83 431.48,40.88 431.92,40.96 432.35,41.09 432.78,41.28 433.22,41.56 433.65,41.96 434.08,42.53 434.52,43.29 434.95,44.29 435.38,45.58 435.82,47.18 436.25,49.11 436.68,51.37 437.12,53.93 437.55,56.73 437.99,59.67 438.42,62.63 438.85,65.47 439.29,68.03 439.72,70.15 440.15,71.71 440.59,72.59 441.02,72.73 441.45,72.13 441.89,70.83 442.32,68.91 442.75,66.5 443.19,63.75 443.62,60.82 444.05,57.86 444.49,54.99 444.92,52.33 445.35,49.95 445.79,47.89 446.22,46.16 446.66,44.76 447.09,43.65 447.52,42.8 447.96,42.18 448.39,41.73 448.82,41.43 449.26,41.25 449.69,41.17 450.12,41.18 450.56,41.28 450.99,41.48 451.42,41.8 451.86,42.27 452.29,42.93 452.72,43.82 453.16,44.97 453.59,46.44 454.03,48.22 454.46,50.35 454.89,52.8 455.33,55.52 455.76,58.43 456.19,61.43 456.63,64.38 457.06,67.13 457.49,69.53 457.93,71.43 458.36,72.71 458.79,73.3 459.23,73.19 459.66,72.39 460.09,70.99 460.53,69.12 460.96,66.92 461.39,64.57 461.83,62.21 462.26,60 462.7,58.04 463.13,56.4 463.56,55.13 464,54.21 464.43,53.63 464.86,53.34 465.3,53.27 465.73,53.36 466.16,53.55 466.6,53.78 467.03,53.99 467.46,54.15 467.9,54.22 468.33,54.17 468.76,54.01 469.2,53.73 469.63,53.32 470.06,52.79 470.5,52.17 470.93,51.47 471.37,50.7 471.8,49.88 472.23,49.04 472.67,48.2 473.1,47.37 473.53,46.57 473.97,45.81 474.4,45.11 474.83,44.46 475.27,43.87 475.7,43.35 476.13,42.89 476.57,42.49 477,42.16 477.43,41.87 477.87,41.63 478.3,41.44 478.74,41.28 479.17,41.16 479.6,41.06 480.04,40.98 480.47,40.92 480.9,40.87 481.34,40.84 481.77,40.81 482.2,40.8 482.64,40.78 483.07,40.77 483.5,40.77 483.94,40.76 484.37,40.76 484.8,40.75 485.24,40.75 485.67,40.75 486.1,40.75 486.54,40.75 486.97,40.75 487.41,40.75 487.84,40.75 488.27,40.75 488.71,40.75 489.14,40.75 489.57,40.75 490.01,40.75 490.44,40.75 490.87,40.75 491.31,40.75 491.74,40.75 492.17,40.75 492.61,40.75 493.04,40.75 493.47,40.75 493.91,40.75 494.34,40.75 494.77,40.75 495.21,40.75 495.64,40.75 496.08,40.75 496.51,40.75 496.94,40.75 497.38,40.75 497.81,40.75 498.24,40.75 498.68,40.75 499.11,40.75 499.54,40.75 499.98,40.75 500.41,40.75 500.84,40.75 501.28,40.75 501.71,40.75 502.14,40.75 502.58,40.75 503.01,40.75 503.44,40.75 503.88,40.75 504.31,40.75 504.75,40.75 505.18,40.75 505.61,40.75 506.05,40.75 506.48,40.75 506.91,40.75 507.35,40.75 507.78,40.75" fill="none" stroke="#d62728" stroke-width="2.0" />
</g>
<rect x="291.46" y="0.7" width="216.3" height="112.9" fill="none" stroke="#000" stroke-width="1.3"/>
<path d="M299.78 113.6v-3.3M299.78 0.7v3.3M308.1 113.6v-5.5M308.1 0.7v5.5M316.42 113.6v-3.3M316.42 0.7v3.3M324.74 113.6v-3.3M324.74 0.7v3.3M333.06 113.6v-3.3M333.06 0.7v3.3M341.38 113.6v-5.5M341.38 0.7v5.5M349.7 113.6v-3.3M349.7 0.7v3.3M358.02 113.6v-3.3M358.02 0.7v3.3M366.34 113.6v-3.3M366.34 0.7v3.3M374.66 113.6v-5.5M374.66 0.7v5.5M382.98 113.6v-3.3M382.98 0.7v3.3M391.3 113.6v-3.3M391.3 0.7v3.3M399.62 113.6v-3.3M399.62 0.7v3.3M407.94 113.6v-5.5M407.94 0.7v5.5M416.26 113.6v-3.3M416.26 0.7v3.3M424.58 113.6v-3.3M424.58 0.7v3.3M432.9 113.6v-3.3M432.9 0.7v3.3M441.22 113.6v-5.5M441.22 0.7v5.5M449.54 113.6v-3.3M449.54 0.7v3.3M457.86 113.6v-3.3M457.86 0.7v3.3M466.18 113.6v-3.3M466.18 0.7v3.3M474.5 113.6v-5.5M474.5 0.7v5.5M482.82 113.6v-3.3M482.82 0.7v3.3M491.14 113.6v-3.3M491.14 0.7v3.3M499.46 113.6v-3.3M499.46 0.7v3.3M291.46 107.45h5.5M507.76 107.45h-5.5M291.46 100.78h3.3M507.76 100.78h-3.3M291.46 94.11h3.3M507.76 94.11h-3.3M291.46 87.44h3.3M507.76 87.44h-3.3M291.46 80.77h3.3M507.76 80.77h-3.3M291.46 74.1h5.5M507.76 74.1h-5.5M291.46 67.43h3.3M507.76 67.43h-3.3M291.46 60.76h3.3M507.76 60.76h-3.3M291.46 54.09h3.3M507.76 54.09h-3.3M291.46 47.42h3.3M507.76 47.42h-3.3M291.46 40.75h5.5M507.76 40.75h-5.5M291.46 34.08h3.3M507.76 34.08h-3.3M291.46 27.41h3.3M507.76 27.41h-3.3M291.46 20.74h3.3M507.76 20.74h-3.3M291.46 14.07h3.3M507.76 14.07h-3.3M291.46 7.4h5.5M507.76 7.4h-5.5" stroke="#000" stroke-width="1.1" fill="none"/>
<text x="308.1" y="125.7" font-size="10.24" text-anchor="middle" font-family="'Liberation Serif', serif" fill="#000" stroke="#000" stroke-width="0.15" textLength="31.12" lengthAdjust="spacingAndGlyphs" >−1000</text>
<text x="341.38" y="125.7" font-size="10.24" text-anchor="middle" font-family="'Liberation Serif', serif" fill="#000" stroke="#000" stroke-width="0.15" textLength="25.27" lengthAdjust="spacingAndGlyphs" >−800</text>
<text x="374.66" y="125.7" font-size="10.24" text-anchor="middle" font-family="'Liberation Serif', serif" fill="#000" stroke="#000" stroke-width="0.15" textLength="25.27" lengthAdjust="spacingAndGlyphs" >−600</text>
<text x="407.94" y="125.7" font-size="10.24" text-anchor="middle" font-family="'Liberation Serif', serif" fill="#000" stroke="#000" stroke-width="0.15" textLength="25.27" lengthAdjust="spacingAndGlyphs" >−400</text>
<text x="441.22" y="125.7" font-size="10.24" text-anchor="middle" font-family="'Liberation Serif', serif" fill="#000" stroke="#000" stroke-width="0.15" textLength="25.27" lengthAdjust="spacingAndGlyphs" >−200</text>
<text x="474.5" y="125.7" font-size="10.24" text-anchor="middle" font-family="'Liberation Serif', serif" fill="#000" stroke="#000" stroke-width="0.15" textLength="5.85" lengthAdjust="spacingAndGlyphs" >0</text>
<text x="507.78" y="125.7" font-size="10.24" text-anchor="middle" font-family="'Liberation Serif', serif" fill="#000" stroke="#000" stroke-width="0.15" textLength="17.56" lengthAdjust="spacingAndGlyphs" >200</text>
<text x="287.96" y="110.85" font-size="10.24" text-anchor="end" font-family="'Liberation Serif', serif" fill="#000" stroke="#000" stroke-width="0.15" textLength="14.63" lengthAdjust="spacingAndGlyphs" >0.0</text>
<text x="287.96" y="77.5" font-size="10.24" text-anchor="end" font-family="'Liberation Serif', serif" fill="#000" stroke="#000" stroke-width="0.15" textLength="14.63" lengthAdjust="spacingAndGlyphs" >0.5</text>
<text x="287.96" y="44.15" font-size="10.24" text-anchor="end" font-family="'Liberation Serif', serif" fill="#000" stroke="#000" stroke-width="0.15" textLength="14.63" lengthAdjust="spacingAndGlyphs" >1.0</text>
<text x="287.96" y="10.8" font-size="10.24" text-anchor="end" font-family="'Liberation Serif', serif" fill="#000" stroke="#000" stroke-width="0.15" textLength="14.63" lengthAdjust="spacingAndGlyphs" >1.5</text>
<text x="399.61" y="137.7" font-size="10.35" text-anchor="middle" font-family="'Liberation Serif', serif" fill="#000" stroke="#000" stroke-width="0.15" textLength="47.25" lengthAdjust="spacingAndGlyphs" ><tspan>v [km s</tspan><tspan font-size="7.25" dy="-3.8">−1</tspan><tspan dy="3.8">]</tspan></text>
<clipPath id="sp2"><rect x="530.9" y="0" width="216.3" height="113.6"/></clipPath>
<g clip-path="url(#sp2)">
<line x1="530.9" y1="107.45" x2="747.2" y2="107.45" stroke="#000" stroke-width="0.9" stroke-dasharray="2,1.3"/>
<path d="M532.4 41V86.7M535.4 17.5V84.7M538.4 30.4V111.3M541.4 39.8V89.2M544.4 17.2V80.8M547.4 58.7V116.1M550.4 14.1V98.6M553.4 -5V76.8M556.4 -4.7V80.7M559.4 52.9V115.5M562.3 14.3V70.5M565.3 24.5V78.4M568.3 29.8V122.7M571.3 49.9V119.3M574.3 27.1V117.4M577.3 -10.5V93M580.3 10.5V99.6M583.3 54.5V108.8M586.3 33.5V96.1M589.3 15.4V81.1M592.3 15.2V116.9M595.3 22.8V74.1M598.3 -0.5V60.2M601.3 46.7V97.5M604.3 -17V71.9M607.3 25.7V90.6M610.3 8.9V62.6M613.3 -1.1V57M616.3 0.5V72.5M619.3 7.8V86.1M622.3 10.9V70.2M625.2 2.6V79.7M628.2 34.9V122.3M631.2 45.9V95.5M634.2 21.5V77.9M637.2 16.5V66.8M640.2 16V99.9M643.2 49.5V96.5M646.2 32.2V73.5M649.2 25V106M652.2 -21.3V61.8M655.2 8.9V58.7M658.2 5.3V57.7M661.2 63.4V119.6M664.2 53.5V109.2M667.2 32.4V100.4M670.2 40.2V115.2M673.2 29.2V103.4M676.2 21.4V76.2M679.2 53.9V130.1M682.2 40V110.5M685.2 4.5V63.3M688.1 12.5V88.3M691.1 5.7V91M694.1 16.8V113.5M697.1 57.6V116.6M700.1 33.9V124.5M703.1 34.8V83.1M706.1 21.4V120.6M709.1 26.6V89.7M712.1 24.9V103.1M715.1 33.5V79.6M718.1 4.8V51M721.1 0.5V87.9M724.1 50.4V104.3M727.1 29V87.2M730.1 -9.7V55.8M733.1 -5.7V52.4M736.1 28V81.8M739.1 -11V71.6M742.1 25V78.2M745.1 45.8V95.1M748.1 45.9V122.3" stroke="#c4c4c4" stroke-width="1" fill="none"/>
<polyline points="530.9,63.84 533.9,63.84 533.9,51.1 536.89,51.1 536.89,70.82 539.89,70.82 539.89,64.47 542.88,64.47 542.88,49.02 545.88,49.02 545.88,87.43 548.87,87.43 548.87,56.37 551.87,56.37 551.87,35.88 554.86,35.88 554.86,38.03 557.86,38.03 557.86,84.25 560.85,84.25 560.85,42.39 563.85,42.39 563.85,51.44 566.84,51.44 566.84,76.24 569.84,76.24 569.84,84.62 572.83,84.62 572.83,72.22 575.83,72.22 575.83,41.24 578.82,41.24 578.82,55.03 581.82,55.03 581.82,81.64 584.81,81.64 584.81,64.83 587.81,64.83 587.81,48.28 590.8,48.28 590.8,66.05 593.8,66.05 593.8,48.42 596.79,48.42 596.79,29.89 599.79,29.89 599.79,72.1 602.78,72.1 602.78,27.48 605.78,27.48 605.78,58.12 608.78,58.12 608.78,35.77 611.77,35.77 611.77,27.93 614.77,27.93 614.77,36.51 617.76,36.51 617.76,46.93 620.76,46.93 620.76,40.58 623.75,40.58 623.75,41.19 626.75,41.19 626.75,78.59 629.74,78.59 629.74,70.68 632.74,70.68 632.74,49.72 635.73,49.72 635.73,41.65 638.73,41.65 638.73,57.94 641.72,57.94 641.72,72.99 644.72,72.99 644.72,52.84 647.71,52.84 647.71,65.51 650.71,65.51 650.71,20.29 653.7,20.29 653.7,33.8 656.7,33.8 656.7,31.5 659.69,31.5 659.69,91.51 662.69,91.51 662.69,81.37 665.68,81.37 665.68,66.41 668.68,66.41 668.68,77.71 671.67,77.71 671.67,66.35 674.67,66.35 674.67,48.81 677.66,48.81 677.66,92.02 680.66,92.02 680.66,75.27 683.66,75.27 683.66,33.91 686.65,33.91 686.65,50.39 689.65,50.39 689.65,48.37 692.64,48.37 692.64,65.19 695.64,65.19 695.64,87.09 698.63,87.09 698.63,79.22 701.63,79.22 701.63,58.96 704.62,58.96 704.62,71 707.62,71 707.62,58.13 710.61,58.13 710.61,64.02 713.61,64.02 713.61,56.57 716.6,56.57 716.6,27.87 719.6,27.87 719.6,44.2 722.59,44.2 722.59,77.31 725.59,77.31 725.59,58.08 728.58,58.08 728.58,23.04 731.58,23.04 731.58,23.39 734.57,23.39 734.57,54.9 737.57,54.9 737.57,30.3 740.56,30.3 740.56,51.61 743.56,51.61 743.56,70.48 746.55,70.48 746.55,84.11 749.55,84.11" fill="none" stroke="#8c8c8c" stroke-width="2.0" />
<polyline points="530.9,63.84 533.9,63.84 533.9,51.1 536.89,51.1 536.89,70.82 539.89,70.82 539.89,64.47 542.88,64.47 542.88,49.02 545.88,49.02 545.88,87.43 548.87,87.43 548.87,56.37 551.87,56.37 551.87,35.88 554.86,35.88 554.86,38.03 557.86,38.03 557.86,84.25 560.85,84.25 560.85,42.39 563.85,42.39 563.85,51.44 566.84,51.44 566.84,76.24 569.84,76.24 569.84,84.62 572.83,84.62 572.83,72.22 575.83,72.22 575.83,41.24 578.82,41.24 578.82,55.03 581.82,55.03 581.82,81.64 584.81,81.64 584.81,64.83 587.81,64.83 587.81,48.28 590.8,48.28 590.8,66.05 593.8,66.05" fill="none" stroke="#161616" stroke-width="1.9" />
<polyline points="623.75,41.19 626.75,41.19 626.75,78.59 629.74,78.59 629.74,70.68 632.74,70.68 632.74,49.72 635.73,49.72 635.73,41.65 638.73,41.65 638.73,57.94 641.72,57.94 641.72,72.99 644.72,72.99 644.72,52.84 647.71,52.84 647.71,65.51 650.71,65.51 650.71,20.29 653.7,20.29 653.7,33.8 656.7,33.8 656.7,31.5 659.69,31.5 659.69,91.51 662.69,91.51 662.69,81.37 665.68,81.37 665.68,66.41 668.68,66.41 668.68,77.71 671.67,77.71 671.67,66.35 674.67,66.35 674.67,48.81 677.66,48.81 677.66,92.02 680.66,92.02 680.66,75.27 683.66,75.27 683.66,33.91 686.65,33.91 686.65,50.39 689.65,50.39 689.65,48.37 692.64,48.37 692.64,65.19 695.64,65.19 695.64,87.09 698.63,87.09 698.63,79.22 701.63,79.22 701.63,58.96 704.62,58.96 704.62,71 707.62,71 707.62,58.13 710.61,58.13 710.61,64.02 713.61,64.02 713.61,56.57 716.6,56.57 716.6,27.87 719.6,27.87 719.6,44.2 722.59,44.2 722.59,77.31 725.59,77.31 725.59,58.08 728.58,58.08 728.58,23.04 731.58,23.04 731.58,23.39 734.57,23.39" fill="none" stroke="#161616" stroke-width="1.9" />
<line x1="574.83" y1="0" x2="574.83" y2="114" stroke="#17becf" stroke-width="1.4" stroke-dasharray="4,2.4"/>
<line x1="587.98" y1="0" x2="587.98" y2="114" stroke="#ff7f0e" stroke-width="1.4" stroke-dasharray="4,2.4"/>
<line x1="679.83" y1="0" x2="679.83" y2="114" stroke="#9467bd" stroke-width="1.4" stroke-dasharray="4,2.4"/>
<line x1="697.97" y1="0" x2="697.97" y2="114" stroke="#2ca02c" stroke-width="1.4" stroke-dasharray="4,2.4"/>
<line x1="707.28" y1="0" x2="707.28" y2="114" stroke="#1f77b4" stroke-width="1.4" stroke-dasharray="4,2.4"/>
<polyline points="530.9,40.75 747.22,40.75" fill="none" stroke="#ff00ff" stroke-width="2.0" />
<polyline points="567.75,40.76 568.18,40.76 568.62,40.78 569.05,40.82 569.48,40.9 569.92,41.04 570.35,41.28 570.78,41.68 571.22,42.27 571.65,43.11 572.08,44.21 572.52,45.55 572.95,47.05 573.38,48.56 573.82,49.91 574.25,50.9 574.68,51.39 575.12,51.29 575.55,50.62 575.98,49.5 576.42,48.07 576.85,46.55 577.29,45.09 577.72,43.82 578.15,42.8 578.59,42.05 579.02,41.53 579.45,41.19 579.89,40.98 580.32,40.87 580.75,40.81 581.19,40.78 581.62,40.76 582.05,40.75" fill="none" stroke="#17becf" stroke-width="1.8" />
<polyline points="561.68,40.75 562.11,40.75 562.55,40.76 562.98,40.76 563.41,40.76 563.85,40.76 564.28,40.77 564.71,40.77 565.15,40.78 565.58,40.78 566.01,40.79 566.45,40.8 566.88,40.81 567.31,40.83 567.75,40.84 568.18,40.86 568.62,40.89 569.05,40.91 569.48,40.95 569.92,40.99 570.35,41.03 570.78,41.08 571.22,41.14 571.65,41.21 572.08,41.29 572.52,41.38 572.95,41.48 573.38,41.59 573.82,41.72 574.25,41.86 574.68,42.02 575.12,42.2 575.55,42.39 575.98,42.59 576.42,42.82 576.85,43.06 577.29,43.32 577.72,43.6 578.15,43.89 578.59,44.2 579.02,44.53 579.45,44.86 579.89,45.21 580.32,45.57 580.75,45.93 581.19,46.3 581.62,46.67 582.05,47.04 582.49,47.4 582.92,47.75 583.35,48.09 583.79,48.41 584.22,48.71 584.65,49 585.09,49.25 585.52,49.47 585.96,49.67 586.39,49.83 586.82,49.95 587.26,50.03 587.69,50.08 588.12,50.09 588.56,50.05 588.99,49.98 589.42,49.87 589.86,49.72 590.29,49.54 590.72,49.32 591.16,49.08 591.59,48.81 592.02,48.51 592.46,48.19 592.89,47.86 593.33,47.51 593.76,47.15 594.19,46.79 594.63,46.42 595.06,46.05 595.49,45.68 595.93,45.33 596.36,44.97 596.79,44.63 597.23,44.3 597.66,43.99 598.09,43.69 598.53,43.41 598.96,43.14 599.39,42.89 599.83,42.66 600.26,42.45 600.69,42.25 601.13,42.08 601.56,41.91 602,41.77 602.43,41.63 602.86,41.52 603.3,41.41 603.73,41.32 604.16,41.24 604.6,41.16 605.03,41.1 605.46,41.05 605.9,41 606.33,40.96 606.76,40.92 607.2,40.89 607.63,40.87 608.06,40.85 608.5,40.83 608.93,40.82 609.36,40.8 609.8,40.79 610.23,40.78 610.67,40.78 611.1,40.77 611.53,40.77 611.97,40.76 612.4,40.76 612.83,40.76 613.27,40.76 613.7,40.76 614.13,40.75 614.57,40.75" fill="none" stroke="#ff7f0e" stroke-width="1.8" />
<polyline points="650.11,40.76 650.55,40.77 650.98,40.78 651.41,40.8 651.85,40.84 652.28,40.88 652.72,40.95 653.15,41.06 653.58,41.2 654.02,41.41 654.45,41.69 654.88,42.06 655.32,42.54 655.75,43.16 656.18,43.92 656.62,44.86 657.05,45.97 657.48,47.26 657.92,48.72 658.35,50.32 658.78,52.03 659.22,53.79 659.65,55.55 660.09,57.24 660.52,58.78 660.95,60.09 661.39,61.11 661.82,61.79 662.25,62.08 662.69,61.98 663.12,61.48 663.55,60.62 663.99,59.44 664.42,58 664.85,56.37 665.29,54.64 665.72,52.87 666.15,51.12 666.59,49.46 667.02,47.94 667.45,46.56 667.89,45.37 668.32,44.35 668.76,43.5 669.19,42.82 669.62,42.27 670.06,41.85 670.49,41.53 670.92,41.29 671.36,41.12 671.79,41 672.22,40.91 672.66,40.86 673.09,40.82 673.52,40.79 673.96,40.78 674.39,40.77 674.82,40.76" fill="none" stroke="#2ca02c" stroke-width="1.8" />
<polyline points="667.45,40.76 667.89,40.77 668.32,40.78 668.76,40.79 669.19,40.82 669.62,40.86 670.06,40.92 670.49,41.01 670.92,41.13 671.36,41.3 671.79,41.54 672.22,41.86 672.66,42.28 673.09,42.82 673.52,43.49 673.96,44.32 674.39,45.31 674.82,46.47 675.26,47.79 675.69,49.25 676.12,50.83 676.56,52.47 676.99,54.13 677.43,55.74 677.86,57.23 678.29,58.53 678.73,59.58 679.16,60.32 679.59,60.7 680.03,60.72 680.46,60.36 680.89,59.66 681.33,58.63 681.76,57.35 682.19,55.87 682.63,54.27 683.06,52.61 683.49,50.96 683.93,49.38 684.36,47.91 684.79,46.57 685.23,45.4 685.66,44.4 686.1,43.55 686.53,42.87 686.96,42.32 687.4,41.89 687.83,41.56 688.26,41.32 688.7,41.14 689.13,41.01 689.56,40.92 690,40.86 690.43,40.82 690.86,40.8 691.3,40.78 691.73,40.77 692.16,40.76" fill="none" stroke="#9467bd" stroke-width="1.8" />
<polyline points="685.66,40.76 686.1,40.77 686.53,40.78 686.96,40.8 687.4,40.83 687.83,40.88 688.26,40.95 688.7,41.05 689.13,41.19 689.56,41.39 690,41.67 690.43,42.04 690.86,42.52 691.3,43.13 691.73,43.9 692.16,44.84 692.6,45.96 693.03,47.26 693.47,48.74 693.9,50.37 694.33,52.12 694.77,53.94 695.2,55.76 695.63,57.52 696.07,59.13 696.5,60.52 696.93,61.62 697.37,62.37 697.8,62.73 698.23,62.68 698.67,62.23 699.1,61.39 699.53,60.21 699.97,58.76 700.4,57.11 700.83,55.33 701.27,53.51 701.7,51.7 702.14,49.97 702.57,48.38 703,46.94 703.44,45.68 703.87,44.6 704.3,43.7 704.74,42.97 705.17,42.39 705.6,41.94 706.04,41.6 706.47,41.34 706.9,41.15 707.34,41.02 707.77,40.93 708.2,40.87 708.64,40.82 709.07,40.8 709.5,40.78 709.94,40.77 710.37,40.76" fill="none" stroke="#2ca02c" stroke-width="1.8" />
<polyline points="693.47,40.75 693.9,40.75 694.33,40.76 694.77,40.76 695.2,40.76 695.63,40.77 696.07,40.79 696.5,40.8 696.93,40.83 697.37,40.86 697.8,40.91 698.23,40.97 698.67,41.06 699.1,41.17 699.53,41.3 699.97,41.47 700.4,41.68 700.83,41.93 701.27,42.22 701.7,42.54 702.14,42.9 702.57,43.3 703,43.71 703.44,44.13 703.87,44.54 704.3,44.94 704.74,45.3 705.17,45.6 705.6,45.84 706.04,46.01 706.47,46.08 706.9,46.07 707.34,45.96 707.77,45.78 708.2,45.51 708.64,45.19 709.07,44.82 709.5,44.41 709.94,43.99 710.37,43.57 710.81,43.17 711.24,42.79 711.67,42.43 712.11,42.12 712.54,41.85 712.97,41.61 713.41,41.42 713.84,41.26 714.27,41.13 714.71,41.03 715.14,40.95 715.57,40.89 716.01,40.85 716.44,40.82 716.87,40.8 717.31,40.78 717.74,40.77 718.18,40.76 718.61,40.76 719.04,40.76 719.48,40.75 719.91,40.75" fill="none" stroke="#1f77b4" stroke-width="1.8" />
<polyline points="530.9,41.13 531.33,41.16 531.77,41.2 532.2,41.26 532.63,41.36 533.07,41.53 533.5,41.79 533.93,42.21 534.37,42.84 534.8,43.73 535.24,44.95 535.67,46.52 536.1,48.4 536.54,50.51 536.97,52.7 537.4,54.76 537.84,56.48 538.27,57.63 538.7,58.07 539.14,57.74 539.57,56.7 540,55.09 540.44,53.11 540.87,50.99 541.3,48.94 541.74,47.12 542.17,45.61 542.6,44.44 543.04,43.59 543.47,43.02 543.91,42.67 544.34,42.47 544.77,42.37 545.21,42.33 545.64,42.34 546.07,42.37 546.51,42.41 546.94,42.46 547.37,42.51 547.81,42.56 548.24,42.62 548.67,42.67 549.11,42.73 549.54,42.78 549.97,42.84 550.41,42.9 550.84,42.95 551.27,43.01 551.71,43.07 552.14,43.13 552.58,43.18 553.01,43.24 553.44,43.3 553.88,43.36 554.31,43.41 554.74,43.47 555.18,43.53 555.61,43.58 556.04,43.64 556.48,43.69 556.91,43.75 557.34,43.8 557.78,43.85 558.21,43.91 558.64,43.96 559.08,44.01 559.51,44.06 559.94,44.1 560.38,44.15 560.81,44.2 561.25,44.24 561.68,44.28 562.11,44.33 562.55,44.37 562.98,44.41 563.41,44.45 563.85,44.48 564.28,44.52 564.71,44.55 565.15,44.59 565.58,44.62 566.01,44.65 566.45,44.69 566.88,44.72 567.31,44.75 567.75,44.79 568.18,44.83 568.62,44.88 569.05,44.96 569.48,45.07 569.92,45.24 570.35,45.51 570.78,45.93 571.22,46.54 571.65,47.38 572.08,48.48 572.52,49.8 572.95,51.27 573.38,52.76 573.82,54.1 574.25,55.12 574.68,55.68 575.12,55.72 575.55,55.23 575.98,54.35 576.42,53.21 576.85,52 577.29,50.87 577.72,49.94 578.15,49.26 578.59,48.84 579.02,48.64 579.45,48.62 579.89,48.72 580.32,48.92 580.75,49.17 581.19,49.45 581.62,49.75 582.05,50.04 582.49,50.34 582.92,50.63 583.35,50.91 583.79,51.17 584.22,51.41 584.65,51.63 585.09,51.83 585.52,52 585.96,52.13 586.39,52.24 586.82,52.31 587.26,52.34 587.69,52.33 588.12,52.29 588.56,52.21 588.99,52.09 589.42,51.93 589.86,51.74 590.29,51.51 590.72,51.26 591.16,50.97 591.59,50.66 592.02,50.32 592.46,49.96 592.89,49.59 593.33,49.2 593.76,48.8 594.19,48.4 594.63,47.99 595.06,47.58 595.49,47.18 595.93,46.78 596.36,46.39 596.79,46.01 597.23,45.64 597.66,45.29 598.09,44.95 598.53,44.63 598.96,44.33 599.39,44.04 599.83,43.77 600.26,43.52 600.69,43.29 601.13,43.07 601.56,42.87 602,42.69 602.43,42.52 602.86,42.37 603.3,42.23 603.73,42.11 604.16,41.99 604.6,41.89 605.03,41.8 605.46,41.71 605.9,41.64 606.33,41.57 606.76,41.51 607.2,41.45 607.63,41.4 608.06,41.35 608.5,41.31 608.93,41.27 609.36,41.24 609.8,41.21 610.23,41.18 610.67,41.15 611.1,41.13 611.53,41.11 611.97,41.08 612.4,41.06 612.83,41.05 613.27,41.03 613.7,41.01 614.13,41 614.57,40.98 615,40.97 615.43,40.96 615.87,40.95 616.3,40.93 616.73,40.92 617.17,40.91 617.6,40.9 618.03,40.89 618.47,40.89 618.9,40.88 619.34,40.87 619.77,40.86 620.2,40.86 620.64,40.85 621.07,40.84 621.5,40.84 621.94,40.83 622.37,40.83 622.8,40.82 623.24,40.82 623.67,40.81 624.1,40.81 624.54,40.8 624.97,40.8 625.4,40.8 625.84,40.79 626.27,40.79 626.71,40.79 627.14,40.79 627.57,40.78 628.01,40.78 628.44,40.78 628.87,40.78 629.31,40.77 629.74,40.77 630.17,40.77 630.61,40.77 631.04,40.77 631.47,40.77 631.91,40.77 632.34,40.76 632.77,40.76 633.21,40.76 633.64,40.76 634.07,40.77 634.51,40.77 634.94,40.78 635.38,40.79 635.81,40.81 636.24,40.84 636.68,40.89 637.11,40.96 637.54,41.07 637.98,41.22 638.41,41.43 638.84,41.71 639.28,42.08 639.71,42.55 640.14,43.12 640.58,43.81 641.01,44.6 641.44,45.49 641.88,46.44 642.31,47.43 642.74,48.41 643.18,49.32 643.61,50.13 644.05,50.77 644.48,51.21 644.91,51.41 645.35,51.36 645.78,51.07 646.21,50.56 646.65,49.85 647.08,49 647.51,48.06 647.95,47.07 648.38,46.09 648.81,45.16 649.25,44.3 649.68,43.55 650.11,42.91 650.55,42.38 650.98,41.97 651.41,41.65 651.85,41.43 652.28,41.29 652.72,41.23 653.15,41.23 653.58,41.32 654.02,41.48 654.45,41.73 654.88,42.08 655.32,42.55 655.75,43.16 656.18,43.93 656.62,44.86 657.05,45.97 657.48,47.26 657.92,48.72 658.35,50.32 658.78,52.03 659.22,53.79 659.65,55.55 660.09,57.24 660.52,58.78 660.95,60.09 661.39,61.11 661.82,61.79 662.25,62.08 662.69,61.98 663.12,61.48 663.55,60.62 663.99,59.44 664.42,58 664.85,56.37 665.29,54.64 665.72,52.87 666.15,51.12 666.59,49.47 667.02,47.94 667.45,46.57 667.89,45.38 668.32,44.37 668.76,43.54 669.19,42.88 669.62,42.38 670.06,42.02 670.49,41.78 670.92,41.67 671.36,41.67 671.79,41.79 672.22,42.02 672.66,42.38 673.09,42.88 673.52,43.53 673.96,44.34 674.39,45.32 674.82,46.48 675.26,47.79 675.69,49.25 676.12,50.83 676.56,52.47 676.99,54.13 677.43,55.74 677.86,57.23 678.29,58.53 678.73,59.58 679.16,60.32 679.59,60.7 680.03,60.72 680.46,60.36 680.89,59.66 681.33,58.63 681.76,57.35 682.19,55.87 682.63,54.27 683.06,52.61 683.49,50.96 683.93,49.38 684.36,47.91 684.79,46.58 685.23,45.41 685.66,44.41 686.1,43.57 686.53,42.9 686.96,42.37 687.4,41.97 687.83,41.69 688.26,41.52 688.7,41.44 689.13,41.46 689.56,41.57 690,41.78 690.43,42.11 690.86,42.56 691.3,43.16 691.73,43.92 692.16,44.85 692.6,45.97 693.03,47.27 693.47,48.75 693.9,50.38 694.33,52.13 694.77,53.95 695.2,55.77 695.63,57.53 696.07,59.15 696.5,60.55 696.93,61.67 697.37,62.45 697.8,62.84 698.23,62.83 698.67,62.43 699.1,61.67 699.53,60.6 699.97,59.29 700.4,57.81 700.83,56.25 701.27,54.69 701.7,53.2 702.14,51.83 702.57,50.63 703,49.62 703.44,48.81 703.87,48.17 704.3,47.71 704.74,47.37 705.17,47.13 705.6,46.94 706.04,46.78 706.47,46.62 706.9,46.44 707.34,46.21 707.77,45.94 708.2,45.62 708.64,45.26 709.07,44.86 709.5,44.44 709.94,44.01 710.37,43.58 710.81,43.17 711.24,42.79 711.67,42.44 712.11,42.12 712.54,41.85 712.97,41.61 713.41,41.42 713.84,41.26 714.27,41.13 714.71,41.03 715.14,40.95 715.57,40.89 716.01,40.85 716.44,40.82 716.87,40.8 717.31,40.78 717.74,40.77 718.18,40.76 718.61,40.76 719.04,40.76 719.48,40.75 719.91,40.75 720.34,40.75 720.78,40.75 721.21,40.75 721.64,40.75 722.08,40.75 722.51,40.75 722.94,40.75 723.38,40.75 723.81,40.75 724.24,40.75 724.68,40.75 725.11,40.75 725.54,40.75 725.98,40.75 726.41,40.75 726.85,40.75 727.28,40.75 727.71,40.75 728.15,40.75 728.58,40.75 729.01,40.75 729.45,40.75 729.88,40.75 730.31,40.75 730.75,40.75 731.18,40.75 731.61,40.75 732.05,40.75 732.48,40.75 732.91,40.75 733.35,40.75 733.78,40.75 734.21,40.75 734.65,40.75 735.08,40.75 735.52,40.75 735.95,40.75 736.38,40.75 736.82,40.75 737.25,40.75 737.68,40.75 738.12,40.75 738.55,40.75 738.98,40.75 739.42,40.75 739.85,40.75 740.28,40.75 740.72,40.75 741.15,40.75 741.58,40.75 742.02,40.75 742.45,40.75 742.88,40.75 743.32,40.75 743.75,40.75 744.19,40.75 744.62,40.75 745.05,40.75 745.49,40.75 745.92,40.75 746.35,40.75 746.79,40.75 747.22,40.75" fill="none" stroke="#d62728" stroke-width="2.0" />
</g>
<rect x="530.9" y="0.7" width="216.3" height="112.9" fill="none" stroke="#000" stroke-width="1.3"/>
<path d="M539.22 113.6v-3.3M539.22 0.7v3.3M547.54 113.6v-5.5M547.54 0.7v5.5M555.86 113.6v-3.3M555.86 0.7v3.3M564.18 113.6v-3.3M564.18 0.7v3.3M572.5 113.6v-3.3M572.5 0.7v3.3M580.82 113.6v-5.5M580.82 0.7v5.5M589.14 113.6v-3.3M589.14 0.7v3.3M597.46 113.6v-3.3M597.46 0.7v3.3M605.78 113.6v-3.3M605.78 0.7v3.3M614.1 113.6v-5.5M614.1 0.7v5.5M622.42 113.6v-3.3M622.42 0.7v3.3M630.74 113.6v-3.3M630.74 0.7v3.3M639.06 113.6v-3.3M639.06 0.7v3.3M647.38 113.6v-5.5M647.38 0.7v5.5M655.7 113.6v-3.3M655.7 0.7v3.3M664.02 113.6v-3.3M664.02 0.7v3.3M672.34 113.6v-3.3M672.34 0.7v3.3M680.66 113.6v-5.5M680.66 0.7v5.5M688.98 113.6v-3.3M688.98 0.7v3.3M697.3 113.6v-3.3M697.3 0.7v3.3M705.62 113.6v-3.3M705.62 0.7v3.3M713.94 113.6v-5.5M713.94 0.7v5.5M722.26 113.6v-3.3M722.26 0.7v3.3M730.58 113.6v-3.3M730.58 0.7v3.3M738.9 113.6v-3.3M738.9 0.7v3.3M530.9 107.45h5.5M747.2 107.45h-5.5M530.9 100.78h3.3M747.2 100.78h-3.3M530.9 94.11h3.3M747.2 94.11h-3.3M530.9 87.44h3.3M747.2 87.44h-3.3M530.9 80.77h3.3M747.2 80.77h-3.3M530.9 74.1h5.5M747.2 74.1h-5.5M530.9 67.43h3.3M747.2 67.43h-3.3M530.9 60.76h3.3M747.2 60.76h-3.3M530.9 54.09h3.3M747.2 54.09h-3.3M530.9 47.42h3.3M747.2 47.42h-3.3M530.9 40.75h5.5M747.2 40.75h-5.5M530.9 34.08h3.3M747.2 34.08h-3.3M530.9 27.41h3.3M747.2 27.41h-3.3M530.9 20.74h3.3M747.2 20.74h-3.3M530.9 14.07h3.3M747.2 14.07h-3.3M530.9 7.4h5.5M747.2 7.4h-5.5" stroke="#000" stroke-width="1.1" fill="none"/>
<text x="547.54" y="125.7" font-size="10.24" text-anchor="middle" font-family="'Liberation Serif', serif" fill="#000" stroke="#000" stroke-width="0.15" textLength="31.12" lengthAdjust="spacingAndGlyphs" >−1000</text>
<text x="580.82" y="125.7" font-size="10.24" text-anchor="middle" font-family="'Liberation Serif', serif" fill="#000" stroke="#000" stroke-width="0.15" textLength="25.27" lengthAdjust="spacingAndGlyphs" >−800</text>
<text x="614.1" y="125.7" font-size="10.24" text-anchor="middle" font-family="'Liberation Serif', serif" fill="#000" stroke="#000" stroke-width="0.15" textLength="25.27" lengthAdjust="spacingAndGlyphs" >−600</text>
<text x="647.38" y="125.7" font-size="10.24" text-anchor="middle" font-family="'Liberation Serif', serif" fill="#000" stroke="#000" stroke-width="0.15" textLength="25.27" lengthAdjust="spacingAndGlyphs" >−400</text>
<text x="680.66" y="125.7" font-size="10.24" text-anchor="middle" font-family="'Liberation Serif', serif" fill="#000" stroke="#000" stroke-width="0.15" textLength="25.27" lengthAdjust="spacingAndGlyphs" >−200</text>
<text x="713.94" y="125.7" font-size="10.24" text-anchor="middle" font-family="'Liberation Serif', serif" fill="#000" stroke="#000" stroke-width="0.15" textLength="5.85" lengthAdjust="spacingAndGlyphs" >0</text>
<text x="747.22" y="125.7" font-size="10.24" text-anchor="middle" font-family="'Liberation Serif', serif" fill="#000" stroke="#000" stroke-width="0.15" textLength="17.56" lengthAdjust="spacingAndGlyphs" >200</text>
<text x="527.4" y="110.85" font-size="10.24" text-anchor="end" font-family="'Liberation Serif', serif" fill="#000" stroke="#000" stroke-width="0.15" textLength="14.63" lengthAdjust="spacingAndGlyphs" >0.0</text>
<text x="527.4" y="77.5" font-size="10.24" text-anchor="end" font-family="'Liberation Serif', serif" fill="#000" stroke="#000" stroke-width="0.15" textLength="14.63" lengthAdjust="spacingAndGlyphs" >0.5</text>
<text x="527.4" y="44.15" font-size="10.24" text-anchor="end" font-family="'Liberation Serif', serif" fill="#000" stroke="#000" stroke-width="0.15" textLength="14.63" lengthAdjust="spacingAndGlyphs" >1.0</text>
<text x="527.4" y="10.8" font-size="10.24" text-anchor="end" font-family="'Liberation Serif', serif" fill="#000" stroke="#000" stroke-width="0.15" textLength="14.63" lengthAdjust="spacingAndGlyphs" >1.5</text>
<text x="639.05" y="137.7" font-size="10.35" text-anchor="middle" font-family="'Liberation Serif', serif" fill="#000" stroke="#000" stroke-width="0.15" textLength="47.25" lengthAdjust="spacingAndGlyphs" ><tspan>v [km s</tspan><tspan font-size="7.25" dy="-3.8">−1</tspan><tspan dy="3.8">]</tspan></text>
<text x="25.4" y="56.5" font-size="10.46" text-anchor="middle" font-family="'Liberation Serif', serif" fill="#000" stroke="#000" stroke-width="0.15" textLength="76.06" lengthAdjust="spacingAndGlyphs" transform="rotate(-90 25.4 56.5)">Normalized flux</text>
<text x="58.5" y="14.7" font-size="10.46" text-anchor="start" font-family="'Liberation Serif', serif" fill="#000" stroke="#000" stroke-width="0.15" textLength="59.49" lengthAdjust="spacingAndGlyphs" >J0838+2453</text>
<text x="56.8" y="99.5" font-size="10.13" text-anchor="start" font-family="'Liberation Serif', serif" fill="#000" stroke="#000" stroke-width="0.15" textLength="40.48" lengthAdjust="spacingAndGlyphs" >H I 1215</text>
<text x="295.6" y="100.2" font-size="10.24" text-anchor="start" font-family="'Liberation Serif', serif" fill="#000" stroke="#000" stroke-width="0.15" textLength="49.41" lengthAdjust="spacingAndGlyphs" >Si III 1206</text>
<text x="534.6" y="99.8" font-size="10.35" text-anchor="start" font-family="'Liberation Serif', serif" fill="#000" stroke="#000" stroke-width="0.15" textLength="46.27" lengthAdjust="spacingAndGlyphs" >Si II 1260</text>
<text x="244.8" y="35.2" font-size="10.35" text-anchor="start" font-family="'Liberation Serif', serif" fill="#ff00ff" stroke="#ff00ff" stroke-width="0.15" textLength="40.34" lengthAdjust="spacingAndGlyphs" transform="rotate(-90 244.8 35.2)">SII 1250</text>
<line x1="248.5" y1="20.5" x2="248.5" y2="34" stroke="#ff00ff" stroke-width="1.5" />
<text x="535.8" y="34.6" font-size="10.35" text-anchor="start" font-family="'Liberation Serif', serif" fill="#17becf" stroke="#17becf" stroke-width="0.15" textLength="40.34" lengthAdjust="spacingAndGlyphs" transform="rotate(-90 535.8 34.6)">SII 1253</text>
<line x1="539" y1="20.5" x2="539" y2="34" stroke="#17becf" stroke-width="1.5" />
<text x="550.6" y="34.4" font-size="10.35" text-anchor="start" font-family="'Liberation Serif', serif" fill="#ff7f0e" stroke="#ff7f0e" stroke-width="0.15" textLength="40.34" lengthAdjust="spacingAndGlyphs" transform="rotate(-90 550.6 34.4)">SII 1250</text>
<line x1="552.5" y1="20.5" x2="552.5" y2="34" stroke="#ff7f0e" stroke-width="1.5" />
<text x="641.3" y="33.8" font-size="10.35" text-anchor="start" font-family="'Liberation Serif', serif" fill="#9467bd" stroke="#9467bd" stroke-width="0.15" textLength="40.34" lengthAdjust="spacingAndGlyphs" transform="rotate(-90 641.3 33.8)">SII 1259</text>
<line x1="645" y1="20.5" x2="645" y2="34" stroke="#9467bd" stroke-width="1.5" />
<text x="658" y="33.8" font-size="10.35" text-anchor="start" font-family="'Liberation Serif', serif" fill="#2ca02c" stroke="#2ca02c" stroke-width="0.15" textLength="40.34" lengthAdjust="spacingAndGlyphs" transform="rotate(-90 658 33.8)">SII 1259</text>
<line x1="661.7" y1="20.5" x2="661.7" y2="34" stroke="#2ca02c" stroke-width="1.5" />
<text x="668.3" y="33.8" font-size="10.35" text-anchor="start" font-family="'Liberation Serif', serif" fill="#1f77b4" stroke="#1f77b4" stroke-width="0.15" textLength="40.34" lengthAdjust="spacingAndGlyphs" transform="rotate(-90 668.3 33.8)">SII 1259</text>
<line x1="671.1" y1="20.5" x2="671.1" y2="34" stroke="#1f77b4" stroke-width="1.5" />
<defs><pattern id="chk" patternUnits="userSpaceOnUse" width="3.2" height="3.2"><rect width="3.2" height="3.2" fill="#f8f8f8"/><rect width="1.6" height="1.6" fill="#ababab"/><rect x="1.6" y="1.6" width="1.6" height="1.6" fill="#ababab"/></pattern></defs>
<rect x="47.2" y="165.2" width="156.8" height="156.8" fill="url(#chk)"/>
<g shape-rendering="crispEdges"><rect x="102.4" y="304.3" width="4.7" height="2.5" fill="#c2ddec"/><rect x="106.8" y="304.3" width="2.5" height="2.5" fill="#a2cde3"/><rect x="109" y="304.3" width="2.5" height="2.5" fill="#b1d5e7"/><rect x="111.2" y="304.3" width="2.5" height="2.5" fill="#c2ddec"/><rect x="113.5" y="304.3" width="6.9" height="2.5" fill="#90c4dd"/><rect x="120.1" y="304.3" width="2.5" height="2.5" fill="#6bacd1"/><rect x="122.3" y="304.3" width="9.1" height="2.5" fill="#7eb8d7"/><rect x="131.1" y="304.3" width="6.9" height="2.5" fill="#6bacd1"/><rect x="137.7" y="304.3" width="2.5" height="2.5" fill="#569fc9"/><rect x="140" y="304.3" width="4.7" height="2.5" fill="#4393c3"/><rect x="144.4" y="304.3" width="2.5" height="2.5" fill="#569fc9"/><rect x="146.6" y="304.3" width="2.5" height="2.5" fill="#3a87bd"/><rect x="148.8" y="304.3" width="2.5" height="2.5" fill="#569fc9"/><rect x="151" y="304.3" width="2.5" height="2.5" fill="#4393c3"/><rect x="153.2" y="304.3" width="4.7" height="2.5" fill="#569fc9"/><rect x="157.6" y="304.3" width="2.5" height="2.5" fill="#4393c3"/><rect x="159.8" y="304.3" width="4.7" height="2.5" fill="#569fc9"/><rect x="164.2" y="304.3" width="2.5" height="2.5" fill="#4393c3"/><rect x="100.2" y="302.1" width="2.5" height="2.5" fill="#c2ddec"/><rect x="102.4" y="302.1" width="4.7" height="2.5" fill="#d1e5f0"/><rect x="106.8" y="302.1" width="2.5" height="2.5" fill="#a2cde3"/><rect x="109" y="302.1" width="4.7" height="2.5" fill="#b1d5e7"/><rect x="113.5" y="302.1" width="2.5" height="2.5" fill="#90c4dd"/><rect x="115.7" y="302.1" width="2.5" height="2.5" fill="#a2cde3"/><rect x="117.9" y="302.1" width="2.5" height="2.5" fill="#90c4dd"/><rect x="120.1" y="302.1" width="4.7" height="2.5" fill="#6bacd1"/><rect x="124.5" y="302.1" width="4.7" height="2.5" fill="#7eb8d7"/><rect x="128.9" y="302.1" width="2.5" height="2.5" fill="#6bacd1"/><rect x="131.1" y="302.1" width="2.5" height="2.5" fill="#7eb8d7"/><rect x="133.3" y="302.1" width="4.7" height="2.5" fill="#569fc9"/><rect x="137.7" y="302.1" width="4.7" height="2.5" fill="#4393c3"/><rect x="142.2" y="302.1" width="2.5" height="2.5" fill="#569fc9"/><rect x="144.4" y="302.1" width="2.5" height="2.5" fill="#3a87bd"/><rect x="146.6" y="302.1" width="4.7" height="2.5" fill="#569fc9"/><rect x="151" y="302.1" width="2.5" height="2.5" fill="#4393c3"/><rect x="153.2" y="302.1" width="2.5" height="2.5" fill="#569fc9"/><rect x="155.4" y="302.1" width="2.5" height="2.5" fill="#6bacd1"/><rect x="157.6" y="302.1" width="2.5" height="2.5" fill="#569fc9"/><rect x="159.8" y="302.1" width="2.5" height="2.5" fill="#4393c3"/><rect x="162" y="302.1" width="4.7" height="2.5" fill="#569fc9"/><rect x="100.2" y="299.9" width="2.5" height="2.5" fill="#c2ddec"/><rect x="102.4" y="299.9" width="2.5" height="2.5" fill="#b1d5e7"/><rect x="104.6" y="299.9" width="2.5" height="2.5" fill="#c2ddec"/><rect x="106.8" y="299.9" width="6.9" height="2.5" fill="#b1d5e7"/><rect x="113.5" y="299.9" width="2.5" height="2.5" fill="#90c4dd"/><rect x="115.7" y="299.9" width="2.5" height="2.5" fill="#a2cde3"/><rect x="117.9" y="299.9" width="2.5" height="2.5" fill="#90c4dd"/><rect x="120.1" y="299.9" width="6.9" height="2.5" fill="#7eb8d7"/><rect x="126.7" y="299.9" width="2.5" height="2.5" fill="#90c4dd"/><rect x="128.9" y="299.9" width="2.5" height="2.5" fill="#7eb8d7"/><rect x="131.1" y="299.9" width="2.5" height="2.5" fill="#90c4dd"/><rect x="133.3" y="299.9" width="4.7" height="2.5" fill="#569fc9"/><rect x="137.7" y="299.9" width="2.5" height="2.5" fill="#6bacd1"/><rect x="140" y="299.9" width="2.5" height="2.5" fill="#569fc9"/><rect x="142.2" y="299.9" width="4.7" height="2.5" fill="#4393c3"/><rect x="146.6" y="299.9" width="4.7" height="2.5" fill="#3a87bd"/><rect x="151" y="299.9" width="4.7" height="2.5" fill="#4393c3"/><rect x="155.4" y="299.9" width="4.7" height="2.5" fill="#3a87bd"/><rect x="159.8" y="299.9" width="6.9" height="2.5" fill="#569fc9"/><rect x="98" y="297.7" width="2.5" height="2.5" fill="#dae9f2"/><rect x="100.2" y="297.7" width="6.9" height="2.5" fill="#c2ddec"/><rect x="106.8" y="297.7" width="2.5" height="2.5" fill="#a2cde3"/><rect x="109" y="297.7" width="2.5" height="2.5" fill="#b1d5e7"/><rect x="111.2" y="297.7" width="4.7" height="2.5" fill="#a2cde3"/><rect x="115.7" y="297.7" width="4.7" height="2.5" fill="#90c4dd"/><rect x="120.1" y="297.7" width="2.5" height="2.5" fill="#7eb8d7"/><rect x="122.3" y="297.7" width="2.5" height="2.5" fill="#6bacd1"/><rect x="124.5" y="297.7" width="2.5" height="2.5" fill="#7eb8d7"/><rect x="126.7" y="297.7" width="2.5" height="2.5" fill="#90c4dd"/><rect x="128.9" y="297.7" width="2.5" height="2.5" fill="#6bacd1"/><rect x="131.1" y="297.7" width="2.5" height="2.5" fill="#7eb8d7"/><rect x="133.3" y="297.7" width="2.5" height="2.5" fill="#4393c3"/><rect x="135.5" y="297.7" width="2.5" height="2.5" fill="#569fc9"/><rect x="137.7" y="297.7" width="9.1" height="2.5" fill="#4393c3"/><rect x="146.6" y="297.7" width="2.5" height="2.5" fill="#569fc9"/><rect x="148.8" y="297.7" width="9.1" height="2.5" fill="#4393c3"/><rect x="157.6" y="297.7" width="4.7" height="2.5" fill="#3a87bd"/><rect x="162" y="297.7" width="2.5" height="2.5" fill="#569fc9"/><rect x="164.2" y="297.7" width="2.5" height="2.5" fill="#6bacd1"/><rect x="166.5" y="297.7" width="2.5" height="2.5" fill="#569fc9"/><rect x="95.8" y="295.5" width="2.5" height="2.5" fill="#d1e5f0"/><rect x="98" y="295.5" width="2.5" height="2.5" fill="#dae9f2"/><rect x="100.2" y="295.5" width="2.5" height="2.5" fill="#c2ddec"/><rect x="102.4" y="295.5" width="4.7" height="2.5" fill="#d1e5f0"/><rect x="106.8" y="295.5" width="4.7" height="2.5" fill="#b1d5e7"/><rect x="111.2" y="295.5" width="4.7" height="2.5" fill="#a2cde3"/><rect x="115.7" y="295.5" width="4.7" height="2.5" fill="#90c4dd"/><rect x="120.1" y="295.5" width="2.5" height="2.5" fill="#6bacd1"/><rect x="122.3" y="295.5" width="2.5" height="2.5" fill="#7eb8d7"/><rect x="124.5" y="295.5" width="2.5" height="2.5" fill="#6bacd1"/><rect x="126.7" y="295.5" width="2.5" height="2.5" fill="#7eb8d7"/><rect x="128.9" y="295.5" width="2.5" height="2.5" fill="#6bacd1"/><rect x="131.1" y="295.5" width="2.5" height="2.5" fill="#7eb8d7"/><rect x="133.3" y="295.5" width="2.5" height="2.5" fill="#6bacd1"/><rect x="135.5" y="295.5" width="2.5" height="2.5" fill="#569fc9"/><rect x="137.7" y="295.5" width="2.5" height="2.5" fill="#6bacd1"/><rect x="140" y="295.5" width="2.5" height="2.5" fill="#4393c3"/><rect x="142.2" y="295.5" width="2.5" height="2.5" fill="#569fc9"/><rect x="144.4" y="295.5" width="2.5" height="2.5" fill="#4393c3"/><rect x="146.6" y="295.5" width="2.5" height="2.5" fill="#327cb7"/><rect x="148.8" y="295.5" width="2.5" height="2.5" fill="#4393c3"/><rect x="151" y="295.5" width="9.1" height="2.5" fill="#3a87bd"/><rect x="159.8" y="295.5" width="4.7" height="2.5" fill="#4393c3"/><rect x="164.2" y="295.5" width="2.5" height="2.5" fill="#6bacd1"/><rect x="166.5" y="295.5" width="2.5" height="2.5" fill="#569fc9"/><rect x="93.6" y="293.3" width="2.5" height="2.5" fill="#c2ddec"/><rect x="95.8" y="293.3" width="4.7" height="2.5" fill="#d1e5f0"/><rect x="100.2" y="293.3" width="2.5" height="2.5" fill="#c2ddec"/><rect x="102.4" y="293.3" width="2.5" height="2.5" fill="#b1d5e7"/><rect x="104.6" y="293.3" width="2.5" height="2.5" fill="#c2ddec"/><rect x="106.8" y="293.3" width="6.9" height="2.5" fill="#a2cde3"/><rect x="113.5" y="293.3" width="4.7" height="2.5" fill="#90c4dd"/><rect x="117.9" y="293.3" width="2.5" height="2.5" fill="#b1d5e7"/><rect x="120.1" y="293.3" width="2.5" height="2.5" fill="#90c4dd"/><rect x="122.3" y="293.3" width="4.7" height="2.5" fill="#7eb8d7"/><rect x="126.7" y="293.3" width="2.5" height="2.5" fill="#6bacd1"/><rect x="128.9" y="293.3" width="2.5" height="2.5" fill="#90c4dd"/><rect x="131.1" y="293.3" width="2.5" height="2.5" fill="#569fc9"/><rect x="133.3" y="293.3" width="2.5" height="2.5" fill="#4393c3"/><rect x="135.5" y="293.3" width="2.5" height="2.5" fill="#569fc9"/><rect x="137.7" y="293.3" width="2.5" height="2.5" fill="#6bacd1"/><rect x="140" y="293.3" width="2.5" height="2.5" fill="#3a87bd"/><rect x="142.2" y="293.3" width="4.7" height="2.5" fill="#4393c3"/><rect x="146.6" y="293.3" width="4.7" height="2.5" fill="#327cb7"/><rect x="151" y="293.3" width="2.5" height="2.5" fill="#3a87bd"/><rect x="153.2" y="293.3" width="2.5" height="2.5" fill="#327cb7"/><rect x="155.4" y="293.3" width="2.5" height="2.5" fill="#3a87bd"/><rect x="157.6" y="293.3" width="2.5" height="2.5" fill="#2a71b2"/><rect x="159.8" y="293.3" width="2.5" height="2.5" fill="#4393c3"/><rect x="162" y="293.3" width="4.7" height="2.5" fill="#327cb7"/><rect x="166.5" y="293.3" width="2.5" height="2.5" fill="#4393c3"/><rect x="91.4" y="291.1" width="11.3" height="2.5" fill="#d1e5f0"/><rect x="102.4" y="291.1" width="2.5" height="2.5" fill="#c2ddec"/><rect x="104.6" y="291.1" width="2.5" height="2.5" fill="#b1d5e7"/><rect x="106.8" y="291.1" width="13.5" height="2.5" fill="#a2cde3"/><rect x="120.1" y="291.1" width="4.7" height="2.5" fill="#7eb8d7"/><rect x="124.5" y="291.1" width="2.5" height="2.5" fill="#a2cde3"/><rect x="126.7" y="291.1" width="2.5" height="2.5" fill="#6bacd1"/><rect x="128.9" y="291.1" width="2.5" height="2.5" fill="#7eb8d7"/><rect x="131.1" y="291.1" width="6.9" height="2.5" fill="#6bacd1"/><rect x="137.7" y="291.1" width="2.5" height="2.5" fill="#569fc9"/><rect x="140" y="291.1" width="2.5" height="2.5" fill="#4393c3"/><rect x="142.2" y="291.1" width="2.5" height="2.5" fill="#3a87bd"/><rect x="144.4" y="291.1" width="2.5" height="2.5" fill="#569fc9"/><rect x="146.6" y="291.1" width="2.5" height="2.5" fill="#327cb7"/><rect x="148.8" y="291.1" width="2.5" height="2.5" fill="#2a71b2"/><rect x="151" y="291.1" width="2.5" height="2.5" fill="#3a87bd"/><rect x="153.2" y="291.1" width="6.9" height="2.5" fill="#327cb7"/><rect x="159.8" y="291.1" width="4.7" height="2.5" fill="#3a87bd"/><rect x="164.2" y="291.1" width="4.7" height="2.5" fill="#4393c3"/><rect x="168.7" y="291.1" width="2.5" height="2.5" fill="#3a87bd"/><rect x="91.4" y="288.9" width="2.5" height="2.5" fill="#dae9f2"/><rect x="93.6" y="288.9" width="6.9" height="2.5" fill="#d1e5f0"/><rect x="100.2" y="288.9" width="2.5" height="2.5" fill="#c2ddec"/><rect x="102.4" y="288.9" width="2.5" height="2.5" fill="#b1d5e7"/><rect x="104.6" y="288.9" width="2.5" height="2.5" fill="#d1e5f0"/><rect x="106.8" y="288.9" width="6.9" height="2.5" fill="#a2cde3"/><rect x="113.5" y="288.9" width="2.5" height="2.5" fill="#90c4dd"/><rect x="115.7" y="288.9" width="4.7" height="2.5" fill="#a2cde3"/><rect x="120.1" y="288.9" width="4.7" height="2.5" fill="#90c4dd"/><rect x="124.5" y="288.9" width="2.5" height="2.5" fill="#7eb8d7"/><rect x="126.7" y="288.9" width="2.5" height="2.5" fill="#569fc9"/><rect x="128.9" y="288.9" width="4.7" height="2.5" fill="#6bacd1"/><rect x="133.3" y="288.9" width="4.7" height="2.5" fill="#569fc9"/><rect x="137.7" y="288.9" width="9.1" height="2.5" fill="#4393c3"/><rect x="146.6" y="288.9" width="13.5" height="2.5" fill="#327cb7"/><rect x="159.8" y="288.9" width="2.5" height="2.5" fill="#3a87bd"/><rect x="162" y="288.9" width="4.7" height="2.5" fill="#327cb7"/><rect x="166.5" y="288.9" width="2.5" height="2.5" fill="#3a87bd"/><rect x="168.7" y="288.9" width="2.5" height="2.5" fill="#4393c3"/><rect x="170.9" y="288.9" width="2.5" height="2.5" fill="#569fc9"/><rect x="89.2" y="286.7" width="4.7" height="2.5" fill="#dae9f2"/><rect x="93.6" y="286.7" width="9.1" height="2.5" fill="#d1e5f0"/><rect x="102.4" y="286.7" width="6.9" height="2.5" fill="#c2ddec"/><rect x="109" y="286.7" width="6.9" height="2.5" fill="#b1d5e7"/><rect x="115.7" y="286.7" width="9.1" height="2.5" fill="#a2cde3"/><rect x="124.5" y="286.7" width="2.5" height="2.5" fill="#90c4dd"/><rect x="126.7" y="286.7" width="2.5" height="2.5" fill="#569fc9"/><rect x="128.9" y="286.7" width="4.7" height="2.5" fill="#7eb8d7"/><rect x="133.3" y="286.7" width="4.7" height="2.5" fill="#327cb7"/><rect x="137.7" y="286.7" width="2.5" height="2.5" fill="#3a87bd"/><rect x="140" y="286.7" width="2.5" height="2.5" fill="#327cb7"/><rect x="142.2" y="286.7" width="4.7" height="2.5" fill="#3a87bd"/><rect x="146.6" y="286.7" width="2.5" height="2.5" fill="#327cb7"/><rect x="148.8" y="286.7" width="2.5" height="2.5" fill="#2a71b2"/><rect x="151" y="286.7" width="2.5" height="2.5" fill="#327cb7"/><rect x="153.2" y="286.7" width="2.5" height="2.5" fill="#3a87bd"/><rect x="155.4" y="286.7" width="2.5" height="2.5" fill="#2a71b2"/><rect x="157.6" y="286.7" width="13.5" height="2.5" fill="#327cb7"/><rect x="170.9" y="286.7" width="2.5" height="2.5" fill="#3a87bd"/><rect x="173.1" y="286.7" width="2.5" height="2.5" fill="#569fc9"/><rect x="87" y="284.5" width="2.5" height="2.5" fill="#d1e5f0"/><rect x="89.2" y="284.5" width="2.5" height="2.5" fill="#dae9f2"/><rect x="91.4" y="284.5" width="2.5" height="2.5" fill="#d1e5f0"/><rect x="93.6" y="284.5" width="6.9" height="2.5" fill="#c2ddec"/><rect x="100.2" y="284.5" width="6.9" height="2.5" fill="#d1e5f0"/><rect x="106.8" y="284.5" width="2.5" height="2.5" fill="#b1d5e7"/><rect x="109" y="284.5" width="2.5" height="2.5" fill="#c2ddec"/><rect x="111.2" y="284.5" width="2.5" height="2.5" fill="#b1d5e7"/><rect x="113.5" y="284.5" width="13.5" height="2.5" fill="#a2cde3"/><rect x="126.7" y="284.5" width="2.5" height="2.5" fill="#90c4dd"/><rect x="128.9" y="284.5" width="2.5" height="2.5" fill="#6bacd1"/><rect x="131.1" y="284.5" width="2.5" height="2.5" fill="#569fc9"/><rect x="133.3" y="284.5" width="4.7" height="2.5" fill="#4393c3"/><rect x="137.7" y="284.5" width="9.1" height="2.5" fill="#3a87bd"/><rect x="146.6" y="284.5" width="2.5" height="2.5" fill="#327cb7"/><rect x="148.8" y="284.5" width="2.5" height="2.5" fill="#3a87bd"/><rect x="151" y="284.5" width="9.1" height="2.5" fill="#2a71b2"/><rect x="159.8" y="284.5" width="4.7" height="2.5" fill="#327cb7"/><rect x="164.2" y="284.5" width="2.5" height="2.5" fill="#2a71b2"/><rect x="166.5" y="284.5" width="2.5" height="2.5" fill="#3a87bd"/><rect x="168.7" y="284.5" width="4.7" height="2.5" fill="#327cb7"/><rect x="173.1" y="284.5" width="2.5" height="2.5" fill="#3a87bd"/><rect x="84.7" y="282.2" width="4.7" height="2.5" fill="#dae9f2"/><rect x="89.2" y="282.2" width="2.5" height="2.5" fill="#d1e5f0"/><rect x="91.4" y="282.2" width="2.5" height="2.5" fill="#dae9f2"/><rect x="93.6" y="282.2" width="4.7" height="2.5" fill="#c2ddec"/><rect x="98" y="282.2" width="4.7" height="2.5" fill="#d1e5f0"/><rect x="102.4" y="282.2" width="2.5" height="2.5" fill="#c2ddec"/><rect x="104.6" y="282.2" width="6.9" height="2.5" fill="#b1d5e7"/><rect x="111.2" y="282.2" width="2.5" height="2.5" fill="#a2cde3"/><rect x="113.5" y="282.2" width="2.5" height="2.5" fill="#90c4dd"/><rect x="115.7" y="282.2" width="6.9" height="2.5" fill="#a2cde3"/><rect x="122.3" y="282.2" width="2.5" height="2.5" fill="#90c4dd"/><rect x="124.5" y="282.2" width="2.5" height="2.5" fill="#b1d5e7"/><rect x="126.7" y="282.2" width="4.7" height="2.5" fill="#6bacd1"/><rect x="131.1" y="282.2" width="2.5" height="2.5" fill="#7eb8d7"/><rect x="133.3" y="282.2" width="2.5" height="2.5" fill="#3a87bd"/><rect x="135.5" y="282.2" width="2.5" height="2.5" fill="#569fc9"/><rect x="137.7" y="282.2" width="2.5" height="2.5" fill="#4393c3"/><rect x="140" y="282.2" width="6.9" height="2.5" fill="#3a87bd"/><rect x="146.6" y="282.2" width="2.5" height="2.5" fill="#327cb7"/><rect x="148.8" y="282.2" width="2.5" height="2.5" fill="#3a87bd"/><rect x="151" y="282.2" width="4.7" height="2.5" fill="#327cb7"/><rect x="155.4" y="282.2" width="4.7" height="2.5" fill="#2a71b2"/><rect x="159.8" y="282.2" width="2.5" height="2.5" fill="#327cb7"/><rect x="162" y="282.2" width="2.5" height="2.5" fill="#2065ab"/><rect x="164.2" y="282.2" width="2.5" height="2.5" fill="#2a71b2"/><rect x="166.5" y="282.2" width="6.9" height="2.5" fill="#3a87bd"/><rect x="173.1" y="282.2" width="4.7" height="2.5" fill="#4393c3"/><rect x="82.5" y="280" width="2.5" height="2.5" fill="#d1e5f0"/><rect x="84.7" y="280" width="2.5" height="2.5" fill="#dae9f2"/><rect x="87" y="280" width="2.5" height="2.5" fill="#e4eef4"/><rect x="89.2" y="280" width="2.5" height="2.5" fill="#dae9f2"/><rect x="91.4" y="280" width="6.9" height="2.5" fill="#d1e5f0"/><rect x="98" y="280" width="2.5" height="2.5" fill="#e4eef4"/><rect x="100.2" y="280" width="6.9" height="2.5" fill="#d1e5f0"/><rect x="106.8" y="280" width="6.9" height="2.5" fill="#c2ddec"/><rect x="113.5" y="280" width="2.5" height="2.5" fill="#a2cde3"/><rect x="115.7" y="280" width="4.7" height="2.5" fill="#b1d5e7"/><rect x="120.1" y="280" width="2.5" height="2.5" fill="#a2cde3"/><rect x="122.3" y="280" width="2.5" height="2.5" fill="#b1d5e7"/><rect x="124.5" y="280" width="4.7" height="2.5" fill="#a2cde3"/><rect x="128.9" y="280" width="2.5" height="2.5" fill="#6bacd1"/><rect x="131.1" y="280" width="4.7" height="2.5" fill="#569fc9"/><rect x="135.5" y="280" width="2.5" height="2.5" fill="#4393c3"/><rect x="137.7" y="280" width="2.5" height="2.5" fill="#327cb7"/><rect x="140" y="280" width="2.5" height="2.5" fill="#3a87bd"/><rect x="142.2" y="280" width="2.5" height="2.5" fill="#4393c3"/><rect x="144.4" y="280" width="2.5" height="2.5" fill="#3a87bd"/><rect x="146.6" y="280" width="2.5" height="2.5" fill="#327cb7"/><rect x="148.8" y="280" width="2.5" height="2.5" fill="#4393c3"/><rect x="151" y="280" width="2.5" height="2.5" fill="#327cb7"/><rect x="153.2" y="280" width="2.5" height="2.5" fill="#2065ab"/><rect x="155.4" y="280" width="4.7" height="2.5" fill="#1a5899"/><rect x="159.8" y="280" width="2.5" height="2.5" fill="#327cb7"/><rect x="162" y="280" width="4.7" height="2.5" fill="#2065ab"/><rect x="166.5" y="280" width="4.7" height="2.5" fill="#2a71b2"/><rect x="170.9" y="280" width="4.7" height="2.5" fill="#327cb7"/><rect x="175.3" y="280" width="4.7" height="2.5" fill="#3a87bd"/><rect x="82.5" y="277.8" width="2.5" height="2.5" fill="#d1e5f0"/><rect x="84.7" y="277.8" width="4.7" height="2.5" fill="#dae9f2"/><rect x="89.2" y="277.8" width="2.5" height="2.5" fill="#d1e5f0"/><rect x="91.4" y="277.8" width="2.5" height="2.5" fill="#dae9f2"/><rect x="93.6" y="277.8" width="9.1" height="2.5" fill="#d1e5f0"/><rect x="102.4" y="277.8" width="4.7" height="2.5" fill="#c2ddec"/><rect x="106.8" y="277.8" width="2.5" height="2.5" fill="#b1d5e7"/><rect x="109" y="277.8" width="6.9" height="2.5" fill="#c2ddec"/><rect x="115.7" y="277.8" width="2.5" height="2.5" fill="#b1d5e7"/><rect x="117.9" y="277.8" width="2.5" height="2.5" fill="#c2ddec"/><rect x="120.1" y="277.8" width="6.9" height="2.5" fill="#a2cde3"/><rect x="126.7" y="277.8" width="4.7" height="2.5" fill="#90c4dd"/><rect x="131.1" y="277.8" width="2.5" height="2.5" fill="#7eb8d7"/><rect x="133.3" y="277.8" width="2.5" height="2.5" fill="#4393c3"/><rect x="135.5" y="277.8" width="2.5" height="2.5" fill="#3a87bd"/><rect x="137.7" y="277.8" width="2.5" height="2.5" fill="#569fc9"/><rect x="140" y="277.8" width="4.7" height="2.5" fill="#3a87bd"/><rect x="144.4" y="277.8" width="2.5" height="2.5" fill="#4393c3"/><rect x="146.6" y="277.8" width="6.9" height="2.5" fill="#327cb7"/><rect x="153.2" y="277.8" width="2.5" height="2.5" fill="#124984"/><rect x="155.4" y="277.8" width="2.5" height="2.5" fill="#2a71b2"/><rect x="157.6" y="277.8" width="2.5" height="2.5" fill="#1a5899"/><rect x="159.8" y="277.8" width="2.5" height="2.5" fill="#2065ab"/><rect x="162" y="277.8" width="4.7" height="2.5" fill="#2a71b2"/><rect x="166.5" y="277.8" width="2.5" height="2.5" fill="#2065ab"/><rect x="168.7" y="277.8" width="4.7" height="2.5" fill="#2a71b2"/><rect x="173.1" y="277.8" width="6.9" height="2.5" fill="#327cb7"/><rect x="80.3" y="275.6" width="2.5" height="2.5" fill="#dae9f2"/><rect x="82.5" y="275.6" width="2.5" height="2.5" fill="#e4eef4"/><rect x="84.7" y="275.6" width="4.7" height="2.5" fill="#d1e5f0"/><rect x="89.2" y="275.6" width="2.5" height="2.5" fill="#dae9f2"/><rect x="91.4" y="275.6" width="9.1" height="2.5" fill="#d1e5f0"/><rect x="100.2" y="275.6" width="2.5" height="2.5" fill="#b1d5e7"/><rect x="102.4" y="275.6" width="2.5" height="2.5" fill="#c2ddec"/><rect x="104.6" y="275.6" width="2.5" height="2.5" fill="#d1e5f0"/><rect x="106.8" y="275.6" width="9.1" height="2.5" fill="#c2ddec"/><rect x="115.7" y="275.6" width="4.7" height="2.5" fill="#b1d5e7"/><rect x="120.1" y="275.6" width="2.5" height="2.5" fill="#90c4dd"/><rect x="122.3" y="275.6" width="2.5" height="2.5" fill="#b1d5e7"/><rect x="124.5" y="275.6" width="2.5" height="2.5" fill="#90c4dd"/><rect x="126.7" y="275.6" width="2.5" height="2.5" fill="#a2cde3"/><rect x="128.9" y="275.6" width="2.5" height="2.5" fill="#90c4dd"/><rect x="131.1" y="275.6" width="4.7" height="2.5" fill="#6bacd1"/><rect x="135.5" y="275.6" width="2.5" height="2.5" fill="#569fc9"/><rect x="137.7" y="275.6" width="4.7" height="2.5" fill="#4393c3"/><rect x="142.2" y="275.6" width="4.7" height="2.5" fill="#3a87bd"/><rect x="146.6" y="275.6" width="4.7" height="2.5" fill="#327cb7"/><rect x="151" y="275.6" width="2.5" height="2.5" fill="#3a87bd"/><rect x="153.2" y="275.6" width="4.7" height="2.5" fill="#2065ab"/><rect x="157.6" y="275.6" width="2.5" height="2.5" fill="#1a5899"/><rect x="159.8" y="275.6" width="2.5" height="2.5" fill="#2a71b2"/><rect x="162" y="275.6" width="2.5" height="2.5" fill="#2065ab"/><rect x="164.2" y="275.6" width="2.5" height="2.5" fill="#1a5899"/><rect x="166.5" y="275.6" width="2.5" height="2.5" fill="#2065ab"/><rect x="168.7" y="275.6" width="4.7" height="2.5" fill="#2a71b2"/><rect x="173.1" y="275.6" width="2.5" height="2.5" fill="#4393c3"/><rect x="175.3" y="275.6" width="2.5" height="2.5" fill="#3a87bd"/><rect x="177.5" y="275.6" width="2.5" height="2.5" fill="#327cb7"/><rect x="179.7" y="275.6" width="2.5" height="2.5" fill="#569fc9"/><rect x="78.1" y="273.4" width="2.5" height="2.5" fill="#edf2f5"/><rect x="80.3" y="273.4" width="2.5" height="2.5" fill="#e4eef4"/><rect x="82.5" y="273.4" width="2.5" height="2.5" fill="#d1e5f0"/><rect x="84.7" y="273.4" width="6.9" height="2.5" fill="#dae9f2"/><rect x="91.4" y="273.4" width="2.5" height="2.5" fill="#d1e5f0"/><rect x="93.6" y="273.4" width="2.5" height="2.5" fill="#e4eef4"/><rect x="95.8" y="273.4" width="2.5" height="2.5" fill="#d1e5f0"/><rect x="98" y="273.4" width="9.1" height="2.5" fill="#dae9f2"/><rect x="106.8" y="273.4" width="2.5" height="2.5" fill="#d1e5f0"/><rect x="109" y="273.4" width="2.5" height="2.5" fill="#c2ddec"/><rect x="111.2" y="273.4" width="2.5" height="2.5" fill="#d1e5f0"/><rect x="113.5" y="273.4" width="4.7" height="2.5" fill="#b1d5e7"/><rect x="117.9" y="273.4" width="2.5" height="2.5" fill="#c2ddec"/><rect x="120.1" y="273.4" width="2.5" height="2.5" fill="#a2cde3"/><rect x="122.3" y="273.4" width="2.5" height="2.5" fill="#b1d5e7"/><rect x="124.5" y="273.4" width="4.7" height="2.5" fill="#a2cde3"/><rect x="128.9" y="273.4" width="4.7" height="2.5" fill="#90c4dd"/><rect x="133.3" y="273.4" width="2.5" height="2.5" fill="#6bacd1"/><rect x="135.5" y="273.4" width="6.9" height="2.5" fill="#569fc9"/><rect x="142.2" y="273.4" width="6.9" height="2.5" fill="#3a87bd"/><rect x="148.8" y="273.4" width="2.5" height="2.5" fill="#2a71b2"/><rect x="151" y="273.4" width="2.5" height="2.5" fill="#2065ab"/><rect x="153.2" y="273.4" width="4.7" height="2.5" fill="#327cb7"/><rect x="157.6" y="273.4" width="2.5" height="2.5" fill="#2a71b2"/><rect x="159.8" y="273.4" width="2.5" height="2.5" fill="#327cb7"/><rect x="162" y="273.4" width="2.5" height="2.5" fill="#2a71b2"/><rect x="164.2" y="273.4" width="2.5" height="2.5" fill="#2065ab"/><rect x="166.5" y="273.4" width="2.5" height="2.5" fill="#2a71b2"/><rect x="168.7" y="273.4" width="2.5" height="2.5" fill="#2065ab"/><rect x="170.9" y="273.4" width="2.5" height="2.5" fill="#2a71b2"/><rect x="173.1" y="273.4" width="2.5" height="2.5" fill="#327cb7"/><rect x="175.3" y="273.4" width="2.5" height="2.5" fill="#3a87bd"/><rect x="177.5" y="273.4" width="2.5" height="2.5" fill="#4393c3"/><rect x="179.7" y="273.4" width="2.5" height="2.5" fill="#90c4dd"/><rect x="75.9" y="271.2" width="6.9" height="2.5" fill="#e4eef4"/><rect x="82.5" y="271.2" width="2.5" height="2.5" fill="#edf2f5"/><rect x="84.7" y="271.2" width="4.7" height="2.5" fill="#dae9f2"/><rect x="89.2" y="271.2" width="2.5" height="2.5" fill="#d1e5f0"/><rect x="91.4" y="271.2" width="2.5" height="2.5" fill="#dae9f2"/><rect x="93.6" y="271.2" width="4.7" height="2.5" fill="#d1e5f0"/><rect x="98" y="271.2" width="4.7" height="2.5" fill="#dae9f2"/><rect x="102.4" y="271.2" width="9.1" height="2.5" fill="#d1e5f0"/><rect x="111.2" y="271.2" width="4.7" height="2.5" fill="#c2ddec"/><rect x="115.7" y="271.2" width="2.5" height="2.5" fill="#a2cde3"/><rect x="117.9" y="271.2" width="9.1" height="2.5" fill="#b1d5e7"/><rect x="126.7" y="271.2" width="2.5" height="2.5" fill="#a2cde3"/><rect x="128.9" y="271.2" width="2.5" height="2.5" fill="#90c4dd"/><rect x="131.1" y="271.2" width="6.9" height="2.5" fill="#7eb8d7"/><rect x="137.7" y="271.2" width="2.5" height="2.5" fill="#6bacd1"/><rect x="140" y="271.2" width="6.9" height="2.5" fill="#327cb7"/><rect x="146.6" y="271.2" width="2.5" height="2.5" fill="#2a71b2"/><rect x="148.8" y="271.2" width="4.7" height="2.5" fill="#327cb7"/><rect x="153.2" y="271.2" width="4.7" height="2.5" fill="#2a71b2"/><rect x="157.6" y="271.2" width="2.5" height="2.5" fill="#2065ab"/><rect x="159.8" y="271.2" width="4.7" height="2.5" fill="#2a71b2"/><rect x="164.2" y="271.2" width="2.5" height="2.5" fill="#327cb7"/><rect x="166.5" y="271.2" width="2.5" height="2.5" fill="#2065ab"/><rect x="168.7" y="271.2" width="4.7" height="2.5" fill="#2a71b2"/><rect x="173.1" y="271.2" width="4.7" height="2.5" fill="#3a87bd"/><rect x="177.5" y="271.2" width="2.5" height="2.5" fill="#327cb7"/><rect x="179.7" y="271.2" width="4.7" height="2.5" fill="#7eb8d7"/><rect x="73.7" y="269" width="4.7" height="2.5" fill="#edf2f5"/><rect x="78.1" y="269" width="2.5" height="2.5" fill="#e4eef4"/><rect x="80.3" y="269" width="2.5" height="2.5" fill="#dae9f2"/><rect x="82.5" y="269" width="2.5" height="2.5" fill="#d1e5f0"/><rect x="84.7" y="269" width="2.5" height="2.5" fill="#e4eef4"/><rect x="87" y="269" width="4.7" height="2.5" fill="#dae9f2"/><rect x="91.4" y="269" width="2.5" height="2.5" fill="#e4eef4"/><rect x="93.6" y="269" width="4.7" height="2.5" fill="#dae9f2"/><rect x="98" y="269" width="2.5" height="2.5" fill="#c2ddec"/><rect x="100.2" y="269" width="9.1" height="2.5" fill="#dae9f2"/><rect x="109" y="269" width="2.5" height="2.5" fill="#d1e5f0"/><rect x="111.2" y="269" width="2.5" height="2.5" fill="#c2ddec"/><rect x="113.5" y="269" width="2.5" height="2.5" fill="#d1e5f0"/><rect x="115.7" y="269" width="2.5" height="2.5" fill="#c2ddec"/><rect x="117.9" y="269" width="9.1" height="2.5" fill="#b1d5e7"/><rect x="126.7" y="269" width="2.5" height="2.5" fill="#c2ddec"/><rect x="128.9" y="269" width="4.7" height="2.5" fill="#a2cde3"/><rect x="133.3" y="269" width="2.5" height="2.5" fill="#90c4dd"/><rect x="135.5" y="269" width="2.5" height="2.5" fill="#7eb8d7"/><rect x="137.7" y="269" width="2.5" height="2.5" fill="#4393c3"/><rect x="140" y="269" width="2.5" height="2.5" fill="#327cb7"/><rect x="142.2" y="269" width="4.7" height="2.5" fill="#3a87bd"/><rect x="146.6" y="269" width="2.5" height="2.5" fill="#2a71b2"/><rect x="148.8" y="269" width="4.7" height="2.5" fill="#327cb7"/><rect x="153.2" y="269" width="2.5" height="2.5" fill="#2a71b2"/><rect x="155.4" y="269" width="2.5" height="2.5" fill="#3a87bd"/><rect x="157.6" y="269" width="4.7" height="2.5" fill="#2a71b2"/><rect x="162" y="269" width="2.5" height="2.5" fill="#1a5899"/><rect x="164.2" y="269" width="2.5" height="2.5" fill="#327cb7"/><rect x="166.5" y="269" width="2.5" height="2.5" fill="#2a71b2"/><rect x="168.7" y="269" width="2.5" height="2.5" fill="#327cb7"/><rect x="170.9" y="269" width="2.5" height="2.5" fill="#2065ab"/><rect x="173.1" y="269" width="6.9" height="2.5" fill="#3a87bd"/><rect x="179.7" y="269" width="6.9" height="2.5" fill="#90c4dd"/><rect x="73.7" y="266.8" width="2.5" height="2.5" fill="#edf2f5"/><rect x="75.9" y="266.8" width="2.5" height="2.5" fill="#dae9f2"/><rect x="78.1" y="266.8" width="2.5" height="2.5" fill="#f7f6f6"/><rect x="80.3" y="266.8" width="2.5" height="2.5" fill="#edf2f5"/><rect x="82.5" y="266.8" width="2.5" height="2.5" fill="#e4eef4"/><rect x="84.7" y="266.8" width="2.5" height="2.5" fill="#edf2f5"/><rect x="87" y="266.8" width="2.5" height="2.5" fill="#e4eef4"/><rect x="89.2" y="266.8" width="2.5" height="2.5" fill="#dae9f2"/><rect x="91.4" y="266.8" width="4.7" height="2.5" fill="#e4eef4"/><rect x="95.8" y="266.8" width="2.5" height="2.5" fill="#edf2f5"/><rect x="98" y="266.8" width="2.5" height="2.5" fill="#e4eef4"/><rect x="100.2" y="266.8" width="2.5" height="2.5" fill="#edf2f5"/><rect x="102.4" y="266.8" width="6.9" height="2.5" fill="#e4eef4"/><rect x="109" y="266.8" width="2.5" height="2.5" fill="#dae9f2"/><rect x="111.2" y="266.8" width="4.7" height="2.5" fill="#d1e5f0"/><rect x="115.7" y="266.8" width="2.5" height="2.5" fill="#c2ddec"/><rect x="117.9" y="266.8" width="4.7" height="2.5" fill="#b1d5e7"/><rect x="122.3" y="266.8" width="2.5" height="2.5" fill="#c2ddec"/><rect x="124.5" y="266.8" width="2.5" height="2.5" fill="#b1d5e7"/><rect x="126.7" y="266.8" width="4.7" height="2.5" fill="#a2cde3"/><rect x="131.1" y="266.8" width="2.5" height="2.5" fill="#b1d5e7"/><rect x="133.3" y="266.8" width="2.5" height="2.5" fill="#90c4dd"/><rect x="135.5" y="266.8" width="2.5" height="2.5" fill="#7eb8d7"/><rect x="137.7" y="266.8" width="2.5" height="2.5" fill="#569fc9"/><rect x="140" y="266.8" width="2.5" height="2.5" fill="#4393c3"/><rect x="142.2" y="266.8" width="2.5" height="2.5" fill="#327cb7"/><rect x="144.4" y="266.8" width="2.5" height="2.5" fill="#2065ab"/><rect x="146.6" y="266.8" width="2.5" height="2.5" fill="#2a71b2"/><rect x="148.8" y="266.8" width="2.5" height="2.5" fill="#327cb7"/><rect x="151" y="266.8" width="2.5" height="2.5" fill="#3a87bd"/><rect x="153.2" y="266.8" width="2.5" height="2.5" fill="#327cb7"/><rect x="155.4" y="266.8" width="4.7" height="2.5" fill="#3a87bd"/><rect x="159.8" y="266.8" width="2.5" height="2.5" fill="#327cb7"/><rect x="162" y="266.8" width="2.5" height="2.5" fill="#3a87bd"/><rect x="164.2" y="266.8" width="2.5" height="2.5" fill="#327cb7"/><rect x="166.5" y="266.8" width="2.5" height="2.5" fill="#3a87bd"/><rect x="168.7" y="266.8" width="4.7" height="2.5" fill="#4393c3"/><rect x="173.1" y="266.8" width="2.5" height="2.5" fill="#569fc9"/><rect x="175.3" y="266.8" width="2.5" height="2.5" fill="#6bacd1"/><rect x="177.5" y="266.8" width="2.5" height="2.5" fill="#7eb8d7"/><rect x="179.7" y="266.8" width="6.9" height="2.5" fill="#a2cde3"/><rect x="71.5" y="264.6" width="2.5" height="2.5" fill="#edf2f5"/><rect x="73.7" y="264.6" width="6.9" height="2.5" fill="#f7f6f6"/><rect x="80.3" y="264.6" width="2.5" height="2.5" fill="#e4eef4"/><rect x="82.5" y="264.6" width="2.5" height="2.5" fill="#edf2f5"/><rect x="84.7" y="264.6" width="2.5" height="2.5" fill="#f7f6f6"/><rect x="87" y="264.6" width="2.5" height="2.5" fill="#e4eef4"/><rect x="89.2" y="264.6" width="2.5" height="2.5" fill="#dae9f2"/><rect x="91.4" y="264.6" width="2.5" height="2.5" fill="#e4eef4"/><rect x="93.6" y="264.6" width="2.5" height="2.5" fill="#dae9f2"/><rect x="95.8" y="264.6" width="2.5" height="2.5" fill="#e4eef4"/><rect x="98" y="264.6" width="2.5" height="2.5" fill="#f7f6f6"/><rect x="100.2" y="264.6" width="2.5" height="2.5" fill="#edf2f5"/><rect x="102.4" y="264.6" width="4.7" height="2.5" fill="#e4eef4"/><rect x="106.8" y="264.6" width="2.5" height="2.5" fill="#edf2f5"/><rect x="109" y="264.6" width="2.5" height="2.5" fill="#dae9f2"/><rect x="111.2" y="264.6" width="2.5" height="2.5" fill="#e4eef4"/><rect x="113.5" y="264.6" width="4.7" height="2.5" fill="#d1e5f0"/><rect x="117.9" y="264.6" width="2.5" height="2.5" fill="#c2ddec"/><rect x="120.1" y="264.6" width="2.5" height="2.5" fill="#b1d5e7"/><rect x="122.3" y="264.6" width="13.5" height="2.5" fill="#a2cde3"/><rect x="135.5" y="264.6" width="2.5" height="2.5" fill="#90c4dd"/><rect x="137.7" y="264.6" width="2.5" height="2.5" fill="#6bacd1"/><rect x="140" y="264.6" width="2.5" height="2.5" fill="#569fc9"/><rect x="142.2" y="264.6" width="2.5" height="2.5" fill="#3a87bd"/><rect x="144.4" y="264.6" width="4.7" height="2.5" fill="#2a71b2"/><rect x="148.8" y="264.6" width="2.5" height="2.5" fill="#327cb7"/><rect x="151" y="264.6" width="9.1" height="2.5" fill="#3a87bd"/><rect x="159.8" y="264.6" width="2.5" height="2.5" fill="#327cb7"/><rect x="162" y="264.6" width="2.5" height="2.5" fill="#3a87bd"/><rect x="164.2" y="264.6" width="2.5" height="2.5" fill="#4393c3"/><rect x="166.5" y="264.6" width="2.5" height="2.5" fill="#3a87bd"/><rect x="168.7" y="264.6" width="4.7" height="2.5" fill="#4393c3"/><rect x="173.1" y="264.6" width="6.9" height="2.5" fill="#6bacd1"/><rect x="179.7" y="264.6" width="2.5" height="2.5" fill="#90c4dd"/><rect x="181.9" y="264.6" width="4.7" height="2.5" fill="#a2cde3"/><rect x="186.3" y="264.6" width="2.5" height="2.5" fill="#d1e5f0"/><rect x="69.3" y="262.4" width="9.1" height="2.5" fill="#edf2f5"/><rect x="78.1" y="262.4" width="4.7" height="2.5" fill="#e4eef4"/><rect x="82.5" y="262.4" width="2.5" height="2.5" fill="#f7f6f6"/><rect x="84.7" y="262.4" width="4.7" height="2.5" fill="#e4eef4"/><rect x="89.2" y="262.4" width="6.9" height="2.5" fill="#edf2f5"/><rect x="95.8" y="262.4" width="2.5" height="2.5" fill="#e4eef4"/><rect x="98" y="262.4" width="4.7" height="2.5" fill="#edf2f5"/><rect x="102.4" y="262.4" width="2.5" height="2.5" fill="#e4eef4"/><rect x="104.6" y="262.4" width="2.5" height="2.5" fill="#edf2f5"/><rect x="106.8" y="262.4" width="2.5" height="2.5" fill="#f7f6f6"/><rect x="109" y="262.4" width="2.5" height="2.5" fill="#edf2f5"/><rect x="111.2" y="262.4" width="2.5" height="2.5" fill="#e4eef4"/><rect x="113.5" y="262.4" width="2.5" height="2.5" fill="#dae9f2"/><rect x="115.7" y="262.4" width="2.5" height="2.5" fill="#d1e5f0"/><rect x="117.9" y="262.4" width="2.5" height="2.5" fill="#dae9f2"/><rect x="120.1" y="262.4" width="2.5" height="2.5" fill="#b1d5e7"/><rect x="122.3" y="262.4" width="2.5" height="2.5" fill="#c2ddec"/><rect x="124.5" y="262.4" width="2.5" height="2.5" fill="#a2cde3"/><rect x="126.7" y="262.4" width="4.7" height="2.5" fill="#90c4dd"/><rect x="131.1" y="262.4" width="4.7" height="2.5" fill="#a2cde3"/><rect x="135.5" y="262.4" width="2.5" height="2.5" fill="#b1d5e7"/><rect x="137.7" y="262.4" width="2.5" height="2.5" fill="#6bacd1"/><rect x="140" y="262.4" width="2.5" height="2.5" fill="#569fc9"/><rect x="142.2" y="262.4" width="2.5" height="2.5" fill="#4393c3"/><rect x="144.4" y="262.4" width="2.5" height="2.5" fill="#3a87bd"/><rect x="146.6" y="262.4" width="2.5" height="2.5" fill="#327cb7"/><rect x="148.8" y="262.4" width="2.5" height="2.5" fill="#2a71b2"/><rect x="151" y="262.4" width="6.9" height="2.5" fill="#4393c3"/><rect x="157.6" y="262.4" width="4.7" height="2.5" fill="#3a87bd"/><rect x="162" y="262.4" width="2.5" height="2.5" fill="#327cb7"/><rect x="164.2" y="262.4" width="2.5" height="2.5" fill="#3a87bd"/><rect x="166.5" y="262.4" width="4.7" height="2.5" fill="#4393c3"/><rect x="170.9" y="262.4" width="2.5" height="2.5" fill="#3a87bd"/><rect x="173.1" y="262.4" width="2.5" height="2.5" fill="#6bacd1"/><rect x="175.3" y="262.4" width="2.5" height="2.5" fill="#7eb8d7"/><rect x="177.5" y="262.4" width="2.5" height="2.5" fill="#6bacd1"/><rect x="179.7" y="262.4" width="6.9" height="2.5" fill="#a2cde3"/><rect x="186.3" y="262.4" width="2.5" height="2.5" fill="#b1d5e7"/><rect x="69.3" y="260.2" width="2.5" height="2.5" fill="#fae9df"/><rect x="71.5" y="260.2" width="2.5" height="2.5" fill="#f9f0eb"/><rect x="73.7" y="260.2" width="2.5" height="2.5" fill="#edf2f5"/><rect x="75.9" y="260.2" width="2.5" height="2.5" fill="#f7f6f6"/><rect x="78.1" y="260.2" width="2.5" height="2.5" fill="#edf2f5"/><rect x="80.3" y="260.2" width="2.5" height="2.5" fill="#f7f6f6"/><rect x="82.5" y="260.2" width="2.5" height="2.5" fill="#f9f0eb"/><rect x="84.7" y="260.2" width="11.3" height="2.5" fill="#f7f6f6"/><rect x="95.8" y="260.2" width="2.5" height="2.5" fill="#edf2f5"/><rect x="98" y="260.2" width="2.5" height="2.5" fill="#f7f6f6"/><rect x="100.2" y="260.2" width="2.5" height="2.5" fill="#edf2f5"/><rect x="102.4" y="260.2" width="2.5" height="2.5" fill="#f7f6f6"/><rect x="104.6" y="260.2" width="2.5" height="2.5" fill="#edf2f5"/><rect x="106.8" y="260.2" width="4.7" height="2.5" fill="#f7f6f6"/><rect x="111.2" y="260.2" width="2.5" height="2.5" fill="#edf2f5"/><rect x="113.5" y="260.2" width="4.7" height="2.5" fill="#e4eef4"/><rect x="117.9" y="260.2" width="2.5" height="2.5" fill="#edf2f5"/><rect x="120.1" y="260.2" width="2.5" height="2.5" fill="#e4eef4"/><rect x="122.3" y="260.2" width="2.5" height="2.5" fill="#d1e5f0"/><rect x="124.5" y="260.2" width="4.7" height="2.5" fill="#c2ddec"/><rect x="128.9" y="260.2" width="2.5" height="2.5" fill="#90c4dd"/><rect x="131.1" y="260.2" width="2.5" height="2.5" fill="#a2cde3"/><rect x="133.3" y="260.2" width="2.5" height="2.5" fill="#90c4dd"/><rect x="135.5" y="260.2" width="2.5" height="2.5" fill="#a2cde3"/><rect x="137.7" y="260.2" width="4.7" height="2.5" fill="#7eb8d7"/><rect x="142.2" y="260.2" width="2.5" height="2.5" fill="#569fc9"/><rect x="144.4" y="260.2" width="2.5" height="2.5" fill="#4393c3"/><rect x="146.6" y="260.2" width="4.7" height="2.5" fill="#569fc9"/><rect x="151" y="260.2" width="4.7" height="2.5" fill="#4393c3"/><rect x="155.4" y="260.2" width="2.5" height="2.5" fill="#6bacd1"/><rect x="157.6" y="260.2" width="2.5" height="2.5" fill="#3a87bd"/><rect x="159.8" y="260.2" width="2.5" height="2.5" fill="#327cb7"/><rect x="162" y="260.2" width="2.5" height="2.5" fill="#3a87bd"/><rect x="164.2" y="260.2" width="2.5" height="2.5" fill="#2a71b2"/><rect x="166.5" y="260.2" width="2.5" height="2.5" fill="#90c4dd"/><rect x="168.7" y="260.2" width="2.5" height="2.5" fill="#7eb8d7"/><rect x="170.9" y="260.2" width="2.5" height="2.5" fill="#6bacd1"/><rect x="173.1" y="260.2" width="2.5" height="2.5" fill="#a2cde3"/><rect x="175.3" y="260.2" width="4.7" height="2.5" fill="#90c4dd"/><rect x="179.7" y="260.2" width="4.7" height="2.5" fill="#c2ddec"/><rect x="184.1" y="260.2" width="2.5" height="2.5" fill="#b1d5e7"/><rect x="186.3" y="260.2" width="2.5" height="2.5" fill="#dae9f2"/><rect x="188.5" y="260.2" width="2.5" height="2.5" fill="#d1e5f0"/><rect x="67.1" y="258" width="2.5" height="2.5" fill="#f9f0eb"/><rect x="69.3" y="258" width="2.5" height="2.5" fill="#fae9df"/><rect x="71.5" y="258" width="2.5" height="2.5" fill="#f9f0eb"/><rect x="73.7" y="258" width="4.7" height="2.5" fill="#f7f6f6"/><rect x="78.1" y="258" width="2.5" height="2.5" fill="#f9f0eb"/><rect x="80.3" y="258" width="2.5" height="2.5" fill="#f7f6f6"/><rect x="82.5" y="258" width="2.5" height="2.5" fill="#edf2f5"/><rect x="84.7" y="258" width="2.5" height="2.5" fill="#f9f0eb"/><rect x="87" y="258" width="4.7" height="2.5" fill="#f7f6f6"/><rect x="91.4" y="258" width="2.5" height="2.5" fill="#f9f0eb"/><rect x="93.6" y="258" width="2.5" height="2.5" fill="#f7f6f6"/><rect x="95.8" y="258" width="2.5" height="2.5" fill="#f9f0eb"/><rect x="98" y="258" width="2.5" height="2.5" fill="#edf2f5"/><rect x="100.2" y="258" width="2.5" height="2.5" fill="#f7f6f6"/><rect x="102.4" y="258" width="2.5" height="2.5" fill="#edf2f5"/><rect x="104.6" y="258" width="9.1" height="2.5" fill="#f7f6f6"/><rect x="113.5" y="258" width="2.5" height="2.5" fill="#e4eef4"/><rect x="115.7" y="258" width="2.5" height="2.5" fill="#dae9f2"/><rect x="117.9" y="258" width="2.5" height="2.5" fill="#edf2f5"/><rect x="120.1" y="258" width="2.5" height="2.5" fill="#e4eef4"/><rect x="122.3" y="258" width="4.7" height="2.5" fill="#dae9f2"/><rect x="126.7" y="258" width="4.7" height="2.5" fill="#c2ddec"/><rect x="131.1" y="258" width="2.5" height="2.5" fill="#b1d5e7"/><rect x="133.3" y="258" width="6.9" height="2.5" fill="#a2cde3"/><rect x="140" y="258" width="2.5" height="2.5" fill="#90c4dd"/><rect x="142.2" y="258" width="2.5" height="2.5" fill="#7eb8d7"/><rect x="144.4" y="258" width="2.5" height="2.5" fill="#6bacd1"/><rect x="146.6" y="258" width="2.5" height="2.5" fill="#569fc9"/><rect x="148.8" y="258" width="4.7" height="2.5" fill="#6bacd1"/><rect x="153.2" y="258" width="4.7" height="2.5" fill="#569fc9"/><rect x="157.6" y="258" width="4.7" height="2.5" fill="#4393c3"/><rect x="162" y="258" width="2.5" height="2.5" fill="#327cb7"/><rect x="164.2" y="258" width="2.5" height="2.5" fill="#4393c3"/><rect x="166.5" y="258" width="6.9" height="2.5" fill="#7eb8d7"/><rect x="173.1" y="258" width="4.7" height="2.5" fill="#a2cde3"/><rect x="177.5" y="258" width="2.5" height="2.5" fill="#90c4dd"/><rect x="179.7" y="258" width="2.5" height="2.5" fill="#b1d5e7"/><rect x="181.9" y="258" width="4.7" height="2.5" fill="#c2ddec"/><rect x="186.3" y="258" width="2.5" height="2.5" fill="#e4eef4"/><rect x="188.5" y="258" width="4.7" height="2.5" fill="#dae9f2"/><rect x="67.1" y="255.7" width="2.5" height="2.5" fill="#fae9df"/><rect x="69.3" y="255.7" width="2.5" height="2.5" fill="#f9f0eb"/><rect x="71.5" y="255.7" width="2.5" height="2.5" fill="#fae9df"/><rect x="73.7" y="255.7" width="4.7" height="2.5" fill="#f7f6f6"/><rect x="78.1" y="255.7" width="2.5" height="2.5" fill="#f9f0eb"/><rect x="80.3" y="255.7" width="13.5" height="2.5" fill="#f7f6f6"/><rect x="93.6" y="255.7" width="2.5" height="2.5" fill="#f9f0eb"/><rect x="95.8" y="255.7" width="4.7" height="2.5" fill="#e4eef4"/><rect x="100.2" y="255.7" width="2.5" height="2.5" fill="#edf2f5"/><rect x="102.4" y="255.7" width="2.5" height="2.5" fill="#e4eef4"/><rect x="104.6" y="255.7" width="4.7" height="2.5" fill="#f7f6f6"/><rect x="109" y="255.7" width="2.5" height="2.5" fill="#f9f0eb"/><rect x="111.2" y="255.7" width="2.5" height="2.5" fill="#f7f6f6"/><rect x="113.5" y="255.7" width="2.5" height="2.5" fill="#f9f0eb"/><rect x="115.7" y="255.7" width="4.7" height="2.5" fill="#f7f6f6"/><rect x="120.1" y="255.7" width="4.7" height="2.5" fill="#edf2f5"/><rect x="124.5" y="255.7" width="2.5" height="2.5" fill="#e4eef4"/><rect x="126.7" y="255.7" width="2.5" height="2.5" fill="#d1e5f0"/><rect x="128.9" y="255.7" width="2.5" height="2.5" fill="#c2ddec"/><rect x="131.1" y="255.7" width="4.7" height="2.5" fill="#b1d5e7"/><rect x="135.5" y="255.7" width="2.5" height="2.5" fill="#7eb8d7"/><rect x="137.7" y="255.7" width="6.9" height="2.5" fill="#90c4dd"/><rect x="144.4" y="255.7" width="2.5" height="2.5" fill="#7eb8d7"/><rect x="146.6" y="255.7" width="4.7" height="2.5" fill="#6bacd1"/><rect x="151" y="255.7" width="2.5" height="2.5" fill="#4393c3"/><rect x="153.2" y="255.7" width="4.7" height="2.5" fill="#6bacd1"/><rect x="157.6" y="255.7" width="2.5" height="2.5" fill="#3a87bd"/><rect x="159.8" y="255.7" width="2.5" height="2.5" fill="#4393c3"/><rect x="162" y="255.7" width="2.5" height="2.5" fill="#3a87bd"/><rect x="164.2" y="255.7" width="2.5" height="2.5" fill="#4393c3"/><rect x="166.5" y="255.7" width="2.5" height="2.5" fill="#6bacd1"/><rect x="168.7" y="255.7" width="4.7" height="2.5" fill="#7eb8d7"/><rect x="173.1" y="255.7" width="4.7" height="2.5" fill="#90c4dd"/><rect x="177.5" y="255.7" width="2.5" height="2.5" fill="#a2cde3"/><rect x="179.7" y="255.7" width="6.9" height="2.5" fill="#c2ddec"/><rect x="186.3" y="255.7" width="6.9" height="2.5" fill="#dae9f2"/><rect x="193" y="255.7" width="2.5" height="2.5" fill="#e4eef4"/><rect x="64.9" y="253.5" width="4.7" height="2.5" fill="#fae9df"/><rect x="69.3" y="253.5" width="2.5" height="2.5" fill="#f9f0eb"/><rect x="71.5" y="253.5" width="2.5" height="2.5" fill="#f7f6f6"/><rect x="73.7" y="253.5" width="4.7" height="2.5" fill="#fae9df"/><rect x="78.1" y="253.5" width="6.9" height="2.5" fill="#f9f0eb"/><rect x="84.7" y="253.5" width="2.5" height="2.5" fill="#f7f6f6"/><rect x="87" y="253.5" width="2.5" height="2.5" fill="#fce2d2"/><rect x="89.2" y="253.5" width="2.5" height="2.5" fill="#fae9df"/><rect x="91.4" y="253.5" width="4.7" height="2.5" fill="#f9f0eb"/><rect x="95.8" y="253.5" width="2.5" height="2.5" fill="#edf2f5"/><rect x="98" y="253.5" width="4.7" height="2.5" fill="#f7f6f6"/><rect x="102.4" y="253.5" width="4.7" height="2.5" fill="#f9f0eb"/><rect x="106.8" y="253.5" width="2.5" height="2.5" fill="#f7f6f6"/><rect x="109" y="253.5" width="2.5" height="2.5" fill="#f9f0eb"/><rect x="111.2" y="253.5" width="2.5" height="2.5" fill="#fae9df"/><rect x="113.5" y="253.5" width="2.5" height="2.5" fill="#f9f0eb"/><rect x="115.7" y="253.5" width="2.5" height="2.5" fill="#edf2f5"/><rect x="117.9" y="253.5" width="2.5" height="2.5" fill="#f7f6f6"/><rect x="120.1" y="253.5" width="2.5" height="2.5" fill="#edf2f5"/><rect x="122.3" y="253.5" width="2.5" height="2.5" fill="#f7f6f6"/><rect x="124.5" y="253.5" width="2.5" height="2.5" fill="#e4eef4"/><rect x="126.7" y="253.5" width="2.5" height="2.5" fill="#dae9f2"/><rect x="128.9" y="253.5" width="2.5" height="2.5" fill="#d1e5f0"/><rect x="131.1" y="253.5" width="2.5" height="2.5" fill="#c2ddec"/><rect x="133.3" y="253.5" width="2.5" height="2.5" fill="#b1d5e7"/><rect x="135.5" y="253.5" width="9.1" height="2.5" fill="#a2cde3"/><rect x="144.4" y="253.5" width="2.5" height="2.5" fill="#90c4dd"/><rect x="146.6" y="253.5" width="2.5" height="2.5" fill="#7eb8d7"/><rect x="148.8" y="253.5" width="2.5" height="2.5" fill="#569fc9"/><rect x="151" y="253.5" width="2.5" height="2.5" fill="#6bacd1"/><rect x="153.2" y="253.5" width="2.5" height="2.5" fill="#7eb8d7"/><rect x="155.4" y="253.5" width="4.7" height="2.5" fill="#569fc9"/><rect x="159.8" y="253.5" width="4.7" height="2.5" fill="#4393c3"/><rect x="164.2" y="253.5" width="2.5" height="2.5" fill="#6bacd1"/><rect x="166.5" y="253.5" width="2.5" height="2.5" fill="#90c4dd"/><rect x="168.7" y="253.5" width="2.5" height="2.5" fill="#a2cde3"/><rect x="170.9" y="253.5" width="2.5" height="2.5" fill="#90c4dd"/><rect x="173.1" y="253.5" width="4.7" height="2.5" fill="#a2cde3"/><rect x="177.5" y="253.5" width="2.5" height="2.5" fill="#90c4dd"/><rect x="179.7" y="253.5" width="2.5" height="2.5" fill="#e4eef4"/><rect x="181.9" y="253.5" width="4.7" height="2.5" fill="#dae9f2"/><rect x="186.3" y="253.5" width="2.5" height="2.5" fill="#e4eef4"/><rect x="188.5" y="253.5" width="4.7" height="2.5" fill="#edf2f5"/><rect x="193" y="253.5" width="2.5" height="2.5" fill="#f7f6f6"/><rect x="62.7" y="251.3" width="2.5" height="2.5" fill="#f7f6f6"/><rect x="64.9" y="251.3" width="4.7" height="2.5" fill="#fae9df"/><rect x="69.3" y="251.3" width="4.7" height="2.5" fill="#f9f0eb"/><rect x="73.7" y="251.3" width="2.5" height="2.5" fill="#edf2f5"/><rect x="75.9" y="251.3" width="2.5" height="2.5" fill="#f7f6f6"/><rect x="78.1" y="251.3" width="2.5" height="2.5" fill="#f9f0eb"/><rect x="80.3" y="251.3" width="2.5" height="2.5" fill="#fae9df"/><rect x="82.5" y="251.3" width="2.5" height="2.5" fill="#edf2f5"/><rect x="84.7" y="251.3" width="2.5" height="2.5" fill="#f7f6f6"/><rect x="87" y="251.3" width="4.7" height="2.5" fill="#fce2d2"/><rect x="91.4" y="251.3" width="2.5" height="2.5" fill="#fae9df"/><rect x="93.6" y="251.3" width="2.5" height="2.5" fill="#fce2d2"/><rect x="95.8" y="251.3" width="2.5" height="2.5" fill="#f9f0eb"/><rect x="98" y="251.3" width="4.7" height="2.5" fill="#f7f6f6"/><rect x="102.4" y="251.3" width="2.5" height="2.5" fill="#f9f0eb"/><rect x="104.6" y="251.3" width="2.5" height="2.5" fill="#f7f6f6"/><rect x="106.8" y="251.3" width="2.5" height="2.5" fill="#fce2d2"/><rect x="109" y="251.3" width="2.5" height="2.5" fill="#f9f0eb"/><rect x="111.2" y="251.3" width="2.5" height="2.5" fill="#fae9df"/><rect x="113.5" y="251.3" width="2.5" height="2.5" fill="#fce2d2"/><rect x="115.7" y="251.3" width="4.7" height="2.5" fill="#f7f6f6"/><rect x="120.1" y="251.3" width="2.5" height="2.5" fill="#e4eef4"/><rect x="122.3" y="251.3" width="2.5" height="2.5" fill="#edf2f5"/><rect x="124.5" y="251.3" width="9.1" height="2.5" fill="#e4eef4"/><rect x="133.3" y="251.3" width="2.5" height="2.5" fill="#d1e5f0"/><rect x="135.5" y="251.3" width="2.5" height="2.5" fill="#c2ddec"/><rect x="137.7" y="251.3" width="2.5" height="2.5" fill="#a2cde3"/><rect x="140" y="251.3" width="4.7" height="2.5" fill="#b1d5e7"/><rect x="144.4" y="251.3" width="2.5" height="2.5" fill="#a2cde3"/><rect x="146.6" y="251.3" width="2.5" height="2.5" fill="#7eb8d7"/><rect x="148.8" y="251.3" width="2.5" height="2.5" fill="#6bacd1"/><rect x="151" y="251.3" width="4.7" height="2.5" fill="#7eb8d7"/><rect x="155.4" y="251.3" width="2.5" height="2.5" fill="#90c4dd"/><rect x="157.6" y="251.3" width="4.7" height="2.5" fill="#7eb8d7"/><rect x="162" y="251.3" width="6.9" height="2.5" fill="#90c4dd"/><rect x="168.7" y="251.3" width="4.7" height="2.5" fill="#a2cde3"/><rect x="173.1" y="251.3" width="2.5" height="2.5" fill="#90c4dd"/><rect x="175.3" y="251.3" width="2.5" height="2.5" fill="#b1d5e7"/><rect x="177.5" y="251.3" width="2.5" height="2.5" fill="#a2cde3"/><rect x="179.7" y="251.3" width="2.5" height="2.5" fill="#dae9f2"/><rect x="181.9" y="251.3" width="2.5" height="2.5" fill="#c2ddec"/><rect x="184.1" y="251.3" width="2.5" height="2.5" fill="#d1e5f0"/><rect x="186.3" y="251.3" width="6.9" height="2.5" fill="#e4eef4"/><rect x="193" y="251.3" width="4.7" height="2.5" fill="#f7f6f6"/><rect x="62.7" y="249.1" width="2.5" height="2.5" fill="#f9f0eb"/><rect x="64.9" y="249.1" width="2.5" height="2.5" fill="#fae9df"/><rect x="67.1" y="249.1" width="2.5" height="2.5" fill="#f7f6f6"/><rect x="69.3" y="249.1" width="2.5" height="2.5" fill="#f9f0eb"/><rect x="71.5" y="249.1" width="2.5" height="2.5" fill="#fae9df"/><rect x="73.7" y="249.1" width="4.7" height="2.5" fill="#f7f6f6"/><rect x="78.1" y="249.1" width="2.5" height="2.5" fill="#edf2f5"/><rect x="80.3" y="249.1" width="2.5" height="2.5" fill="#f9f0eb"/><rect x="82.5" y="249.1" width="2.5" height="2.5" fill="#edf2f5"/><rect x="84.7" y="249.1" width="2.5" height="2.5" fill="#f9f0eb"/><rect x="87" y="249.1" width="2.5" height="2.5" fill="#fae9df"/><rect x="89.2" y="249.1" width="4.7" height="2.5" fill="#fce2d2"/><rect x="93.6" y="249.1" width="2.5" height="2.5" fill="#fae9df"/><rect x="95.8" y="249.1" width="4.7" height="2.5" fill="#f9f0eb"/><rect x="100.2" y="249.1" width="2.5" height="2.5" fill="#f7f6f6"/><rect x="102.4" y="249.1" width="4.7" height="2.5" fill="#fae9df"/><rect x="106.8" y="249.1" width="4.7" height="2.5" fill="#fce2d2"/><rect x="111.2" y="249.1" width="2.5" height="2.5" fill="#fddbc7"/><rect x="113.5" y="249.1" width="2.5" height="2.5" fill="#fce2d2"/><rect x="115.7" y="249.1" width="2.5" height="2.5" fill="#fae9df"/><rect x="117.9" y="249.1" width="2.5" height="2.5" fill="#f7f6f6"/><rect x="120.1" y="249.1" width="2.5" height="2.5" fill="#f9f0eb"/><rect x="122.3" y="249.1" width="2.5" height="2.5" fill="#f7f6f6"/><rect x="124.5" y="249.1" width="2.5" height="2.5" fill="#e4eef4"/><rect x="126.7" y="249.1" width="2.5" height="2.5" fill="#edf2f5"/><rect x="128.9" y="249.1" width="2.5" height="2.5" fill="#e4eef4"/><rect x="131.1" y="249.1" width="2.5" height="2.5" fill="#dae9f2"/><rect x="133.3" y="249.1" width="2.5" height="2.5" fill="#e4eef4"/><rect x="135.5" y="249.1" width="2.5" height="2.5" fill="#d1e5f0"/><rect x="137.7" y="249.1" width="6.9" height="2.5" fill="#c2ddec"/><rect x="144.4" y="249.1" width="4.7" height="2.5" fill="#a2cde3"/><rect x="148.8" y="249.1" width="4.7" height="2.5" fill="#90c4dd"/><rect x="153.2" y="249.1" width="4.7" height="2.5" fill="#a2cde3"/><rect x="157.6" y="249.1" width="4.7" height="2.5" fill="#90c4dd"/><rect x="162" y="249.1" width="4.7" height="2.5" fill="#b1d5e7"/><rect x="166.5" y="249.1" width="11.3" height="2.5" fill="#a2cde3"/><rect x="177.5" y="249.1" width="2.5" height="2.5" fill="#b1d5e7"/><rect x="179.7" y="249.1" width="4.7" height="2.5" fill="#d1e5f0"/><rect x="184.1" y="249.1" width="4.7" height="2.5" fill="#dae9f2"/><rect x="188.5" y="249.1" width="2.5" height="2.5" fill="#e4eef4"/><rect x="190.7" y="249.1" width="6.9" height="2.5" fill="#edf2f5"/><rect x="60.5" y="246.9" width="2.5" height="2.5" fill="#fae9df"/><rect x="62.7" y="246.9" width="4.7" height="2.5" fill="#fce2d2"/><rect x="67.1" y="246.9" width="4.7" height="2.5" fill="#fae9df"/><rect x="71.5" y="246.9" width="2.5" height="2.5" fill="#fddbc7"/><rect x="73.7" y="246.9" width="2.5" height="2.5" fill="#fae9df"/><rect x="75.9" y="246.9" width="2.5" height="2.5" fill="#fce2d2"/><rect x="78.1" y="246.9" width="4.7" height="2.5" fill="#fddbc7"/><rect x="82.5" y="246.9" width="2.5" height="2.5" fill="#fae9df"/><rect x="84.7" y="246.9" width="2.5" height="2.5" fill="#fddbc7"/><rect x="87" y="246.9" width="2.5" height="2.5" fill="#fae9df"/><rect x="89.2" y="246.9" width="2.5" height="2.5" fill="#fddbc7"/><rect x="91.4" y="246.9" width="2.5" height="2.5" fill="#fce2d2"/><rect x="93.6" y="246.9" width="2.5" height="2.5" fill="#fae9df"/><rect x="95.8" y="246.9" width="4.7" height="2.5" fill="#fce2d2"/><rect x="100.2" y="246.9" width="2.5" height="2.5" fill="#fae9df"/><rect x="102.4" y="246.9" width="2.5" height="2.5" fill="#fbccb4"/><rect x="104.6" y="246.9" width="2.5" height="2.5" fill="#fddbc7"/><rect x="106.8" y="246.9" width="2.5" height="2.5" fill="#f8bfa4"/><rect x="109" y="246.9" width="2.5" height="2.5" fill="#fbccb4"/><rect x="111.2" y="246.9" width="2.5" height="2.5" fill="#fddbc7"/><rect x="113.5" y="246.9" width="2.5" height="2.5" fill="#fbccb4"/><rect x="115.7" y="246.9" width="4.7" height="2.5" fill="#f8bfa4"/><rect x="120.1" y="246.9" width="2.5" height="2.5" fill="#fbccb4"/><rect x="122.3" y="246.9" width="2.5" height="2.5" fill="#fae9df"/><rect x="124.5" y="246.9" width="2.5" height="2.5" fill="#f7f6f6"/><rect x="126.7" y="246.9" width="6.9" height="2.5" fill="#e4eef4"/><rect x="133.3" y="246.9" width="2.5" height="2.5" fill="#d1e5f0"/><rect x="135.5" y="246.9" width="2.5" height="2.5" fill="#e4eef4"/><rect x="137.7" y="246.9" width="2.5" height="2.5" fill="#dae9f2"/><rect x="140" y="246.9" width="2.5" height="2.5" fill="#e4eef4"/><rect x="142.2" y="246.9" width="4.7" height="2.5" fill="#c2ddec"/><rect x="146.6" y="246.9" width="2.5" height="2.5" fill="#b1d5e7"/><rect x="148.8" y="246.9" width="4.7" height="2.5" fill="#a2cde3"/><rect x="153.2" y="246.9" width="6.9" height="2.5" fill="#b1d5e7"/><rect x="159.8" y="246.9" width="2.5" height="2.5" fill="#c2ddec"/><rect x="162" y="246.9" width="2.5" height="2.5" fill="#b1d5e7"/><rect x="164.2" y="246.9" width="2.5" height="2.5" fill="#a2cde3"/><rect x="166.5" y="246.9" width="6.9" height="2.5" fill="#c2ddec"/><rect x="173.1" y="246.9" width="2.5" height="2.5" fill="#e4eef4"/><rect x="175.3" y="246.9" width="2.5" height="2.5" fill="#dae9f2"/><rect x="177.5" y="246.9" width="2.5" height="2.5" fill="#e4eef4"/><rect x="179.7" y="246.9" width="2.5" height="2.5" fill="#dae9f2"/><rect x="181.9" y="246.9" width="4.7" height="2.5" fill="#e4eef4"/><rect x="186.3" y="246.9" width="4.7" height="2.5" fill="#f9f0eb"/><rect x="190.7" y="246.9" width="2.5" height="2.5" fill="#f7f6f6"/><rect x="193" y="246.9" width="2.5" height="2.5" fill="#f9f0eb"/><rect x="60.5" y="244.7" width="2.5" height="2.5" fill="#fce2d2"/><rect x="62.7" y="244.7" width="2.5" height="2.5" fill="#fae9df"/><rect x="64.9" y="244.7" width="2.5" height="2.5" fill="#fce2d2"/><rect x="67.1" y="244.7" width="2.5" height="2.5" fill="#fae9df"/><rect x="69.3" y="244.7" width="13.5" height="2.5" fill="#fce2d2"/><rect x="82.5" y="244.7" width="15.7" height="2.5" fill="#fae9df"/><rect x="98" y="244.7" width="4.7" height="2.5" fill="#fddbc7"/><rect x="102.4" y="244.7" width="2.5" height="2.5" fill="#fbccb4"/><rect x="104.6" y="244.7" width="2.5" height="2.5" fill="#f3a481"/><rect x="106.8" y="244.7" width="2.5" height="2.5" fill="#f6b394"/><rect x="109" y="244.7" width="4.7" height="2.5" fill="#f8bfa4"/><rect x="113.5" y="244.7" width="2.5" height="2.5" fill="#f3a481"/><rect x="115.7" y="244.7" width="2.5" height="2.5" fill="#f6b394"/><rect x="117.9" y="244.7" width="2.5" height="2.5" fill="#f3a481"/><rect x="120.1" y="244.7" width="2.5" height="2.5" fill="#f8bfa4"/><rect x="122.3" y="244.7" width="2.5" height="2.5" fill="#fddbc7"/><rect x="124.5" y="244.7" width="2.5" height="2.5" fill="#f7f6f6"/><rect x="126.7" y="244.7" width="2.5" height="2.5" fill="#edf2f5"/><rect x="128.9" y="244.7" width="2.5" height="2.5" fill="#dae9f2"/><rect x="131.1" y="244.7" width="4.7" height="2.5" fill="#e4eef4"/><rect x="135.5" y="244.7" width="2.5" height="2.5" fill="#dae9f2"/><rect x="137.7" y="244.7" width="2.5" height="2.5" fill="#c2ddec"/><rect x="140" y="244.7" width="2.5" height="2.5" fill="#dae9f2"/><rect x="142.2" y="244.7" width="2.5" height="2.5" fill="#d1e5f0"/><rect x="144.4" y="244.7" width="2.5" height="2.5" fill="#c2ddec"/><rect x="146.6" y="244.7" width="6.9" height="2.5" fill="#b1d5e7"/><rect x="153.2" y="244.7" width="9.1" height="2.5" fill="#c2ddec"/><rect x="162" y="244.7" width="2.5" height="2.5" fill="#b1d5e7"/><rect x="164.2" y="244.7" width="2.5" height="2.5" fill="#c2ddec"/><rect x="166.5" y="244.7" width="2.5" height="2.5" fill="#d1e5f0"/><rect x="168.7" y="244.7" width="2.5" height="2.5" fill="#b1d5e7"/><rect x="170.9" y="244.7" width="2.5" height="2.5" fill="#c2ddec"/><rect x="173.1" y="244.7" width="4.7" height="2.5" fill="#d1e5f0"/><rect x="177.5" y="244.7" width="2.5" height="2.5" fill="#dae9f2"/><rect x="179.7" y="244.7" width="2.5" height="2.5" fill="#edf2f5"/><rect x="181.9" y="244.7" width="4.7" height="2.5" fill="#e4eef4"/><rect x="186.3" y="244.7" width="2.5" height="2.5" fill="#f9f0eb"/><rect x="188.5" y="244.7" width="2.5" height="2.5" fill="#f7f6f6"/><rect x="190.7" y="244.7" width="4.7" height="2.5" fill="#f9f0eb"/><rect x="58.2" y="242.5" width="2.5" height="2.5" fill="#fddbc7"/><rect x="60.5" y="242.5" width="2.5" height="2.5" fill="#fae9df"/><rect x="62.7" y="242.5" width="2.5" height="2.5" fill="#fce2d2"/><rect x="64.9" y="242.5" width="2.5" height="2.5" fill="#fddbc7"/><rect x="67.1" y="242.5" width="2.5" height="2.5" fill="#fae9df"/><rect x="69.3" y="242.5" width="2.5" height="2.5" fill="#fce2d2"/><rect x="71.5" y="242.5" width="6.9" height="2.5" fill="#fddbc7"/><rect x="78.1" y="242.5" width="2.5" height="2.5" fill="#fae9df"/><rect x="80.3" y="242.5" width="2.5" height="2.5" fill="#fce2d2"/><rect x="82.5" y="242.5" width="9.1" height="2.5" fill="#fae9df"/><rect x="91.4" y="242.5" width="2.5" height="2.5" fill="#fce2d2"/><rect x="93.6" y="242.5" width="2.5" height="2.5" fill="#fddbc7"/><rect x="95.8" y="242.5" width="2.5" height="2.5" fill="#fce2d2"/><rect x="98" y="242.5" width="9.1" height="2.5" fill="#fbccb4"/><rect x="106.8" y="242.5" width="4.7" height="2.5" fill="#f3a481"/><rect x="111.2" y="242.5" width="6.9" height="2.5" fill="#f6b394"/><rect x="117.9" y="242.5" width="2.5" height="2.5" fill="#f3a481"/><rect x="120.1" y="242.5" width="2.5" height="2.5" fill="#f8bfa4"/><rect x="122.3" y="242.5" width="2.5" height="2.5" fill="#fbccb4"/><rect x="124.5" y="242.5" width="2.5" height="2.5" fill="#fae9df"/><rect x="126.7" y="242.5" width="2.5" height="2.5" fill="#edf2f5"/><rect x="128.9" y="242.5" width="2.5" height="2.5" fill="#e4eef4"/><rect x="131.1" y="242.5" width="2.5" height="2.5" fill="#edf2f5"/><rect x="133.3" y="242.5" width="6.9" height="2.5" fill="#dae9f2"/><rect x="140" y="242.5" width="2.5" height="2.5" fill="#d1e5f0"/><rect x="142.2" y="242.5" width="2.5" height="2.5" fill="#dae9f2"/><rect x="144.4" y="242.5" width="2.5" height="2.5" fill="#d1e5f0"/><rect x="146.6" y="242.5" width="2.5" height="2.5" fill="#c2ddec"/><rect x="148.8" y="242.5" width="2.5" height="2.5" fill="#b1d5e7"/><rect x="151" y="242.5" width="4.7" height="2.5" fill="#c2ddec"/><rect x="155.4" y="242.5" width="2.5" height="2.5" fill="#d1e5f0"/><rect x="157.6" y="242.5" width="4.7" height="2.5" fill="#c2ddec"/><rect x="162" y="242.5" width="2.5" height="2.5" fill="#b1d5e7"/><rect x="164.2" y="242.5" width="2.5" height="2.5" fill="#c2ddec"/><rect x="166.5" y="242.5" width="2.5" height="2.5" fill="#b1d5e7"/><rect x="168.7" y="242.5" width="4.7" height="2.5" fill="#c2ddec"/><rect x="173.1" y="242.5" width="2.5" height="2.5" fill="#e4eef4"/><rect x="175.3" y="242.5" width="4.7" height="2.5" fill="#dae9f2"/><rect x="179.7" y="242.5" width="2.5" height="2.5" fill="#e4eef4"/><rect x="181.9" y="242.5" width="2.5" height="2.5" fill="#edf2f5"/><rect x="184.1" y="242.5" width="2.5" height="2.5" fill="#dae9f2"/><rect x="186.3" y="242.5" width="2.5" height="2.5" fill="#f9f0eb"/><rect x="188.5" y="242.5" width="2.5" height="2.5" fill="#fae9df"/><rect x="190.7" y="242.5" width="2.5" height="2.5" fill="#f9f0eb"/><rect x="193" y="242.5" width="2.5" height="2.5" fill="#fae9df"/><rect x="58.2" y="240.3" width="2.5" height="2.5" fill="#fbccb4"/><rect x="60.5" y="240.3" width="4.7" height="2.5" fill="#fddbc7"/><rect x="64.9" y="240.3" width="2.5" height="2.5" fill="#fce2d2"/><rect x="67.1" y="240.3" width="2.5" height="2.5" fill="#fbccb4"/><rect x="69.3" y="240.3" width="4.7" height="2.5" fill="#fce2d2"/><rect x="73.7" y="240.3" width="2.5" height="2.5" fill="#fae9df"/><rect x="75.9" y="240.3" width="2.5" height="2.5" fill="#fce2d2"/><rect x="78.1" y="240.3" width="9.1" height="2.5" fill="#fddbc7"/><rect x="87" y="240.3" width="2.5" height="2.5" fill="#f8bfa4"/><rect x="89.2" y="240.3" width="2.5" height="2.5" fill="#fbccb4"/><rect x="91.4" y="240.3" width="4.7" height="2.5" fill="#fddbc7"/><rect x="95.8" y="240.3" width="4.7" height="2.5" fill="#fbccb4"/><rect x="100.2" y="240.3" width="4.7" height="2.5" fill="#f8bfa4"/><rect x="104.6" y="240.3" width="4.7" height="2.5" fill="#f6b394"/><rect x="109" y="240.3" width="2.5" height="2.5" fill="#f8bfa4"/><rect x="111.2" y="240.3" width="4.7" height="2.5" fill="#f3a481"/><rect x="115.7" y="240.3" width="2.5" height="2.5" fill="#f8bfa4"/><rect x="117.9" y="240.3" width="4.7" height="2.5" fill="#f6b394"/><rect x="122.3" y="240.3" width="2.5" height="2.5" fill="#f8bfa4"/><rect x="124.5" y="240.3" width="2.5" height="2.5" fill="#fddbc7"/><rect x="126.7" y="240.3" width="2.5" height="2.5" fill="#f7f6f6"/><rect x="128.9" y="240.3" width="6.9" height="2.5" fill="#edf2f5"/><rect x="135.5" y="240.3" width="2.5" height="2.5" fill="#dae9f2"/><rect x="137.7" y="240.3" width="2.5" height="2.5" fill="#e4eef4"/><rect x="140" y="240.3" width="4.7" height="2.5" fill="#dae9f2"/><rect x="144.4" y="240.3" width="2.5" height="2.5" fill="#c2ddec"/><rect x="146.6" y="240.3" width="2.5" height="2.5" fill="#d1e5f0"/><rect x="148.8" y="240.3" width="4.7" height="2.5" fill="#c2ddec"/><rect x="153.2" y="240.3" width="2.5" height="2.5" fill="#d1e5f0"/><rect x="155.4" y="240.3" width="2.5" height="2.5" fill="#c2ddec"/><rect x="157.6" y="240.3" width="2.5" height="2.5" fill="#d1e5f0"/><rect x="159.8" y="240.3" width="2.5" height="2.5" fill="#c2ddec"/><rect x="162" y="240.3" width="2.5" height="2.5" fill="#dae9f2"/><rect x="164.2" y="240.3" width="2.5" height="2.5" fill="#d1e5f0"/><rect x="166.5" y="240.3" width="2.5" height="2.5" fill="#c2ddec"/><rect x="168.7" y="240.3" width="4.7" height="2.5" fill="#dae9f2"/><rect x="173.1" y="240.3" width="2.5" height="2.5" fill="#e4eef4"/><rect x="175.3" y="240.3" width="9.1" height="2.5" fill="#edf2f5"/><rect x="184.1" y="240.3" width="2.5" height="2.5" fill="#f7f6f6"/><rect x="186.3" y="240.3" width="4.7" height="2.5" fill="#f9f0eb"/><rect x="190.7" y="240.3" width="2.5" height="2.5" fill="#fae9df"/><rect x="193" y="240.3" width="2.5" height="2.5" fill="#f9f0eb"/><rect x="56" y="238.1" width="11.3" height="2.5" fill="#fbccb4"/><rect x="67.1" y="238.1" width="2.5" height="2.5" fill="#fae9df"/><rect x="69.3" y="238.1" width="2.5" height="2.5" fill="#fbccb4"/><rect x="71.5" y="238.1" width="2.5" height="2.5" fill="#fce2d2"/><rect x="73.7" y="238.1" width="2.5" height="2.5" fill="#fddbc7"/><rect x="75.9" y="238.1" width="2.5" height="2.5" fill="#fae9df"/><rect x="78.1" y="238.1" width="2.5" height="2.5" fill="#fce2d2"/><rect x="80.3" y="238.1" width="2.5" height="2.5" fill="#fddbc7"/><rect x="82.5" y="238.1" width="13.5" height="2.5" fill="#fbccb4"/><rect x="95.8" y="238.1" width="4.7" height="2.5" fill="#f8bfa4"/><rect x="100.2" y="238.1" width="4.7" height="2.5" fill="#f6b394"/><rect x="104.6" y="238.1" width="2.5" height="2.5" fill="#f8bfa4"/><rect x="106.8" y="238.1" width="2.5" height="2.5" fill="#f6b394"/><rect x="109" y="238.1" width="4.7" height="2.5" fill="#f3a481"/><rect x="113.5" y="238.1" width="4.7" height="2.5" fill="#f6b394"/><rect x="117.9" y="238.1" width="2.5" height="2.5" fill="#f3a481"/><rect x="120.1" y="238.1" width="4.7" height="2.5" fill="#f8bfa4"/><rect x="124.5" y="238.1" width="2.5" height="2.5" fill="#fbccb4"/><rect x="126.7" y="238.1" width="2.5" height="2.5" fill="#fddbc7"/><rect x="128.9" y="238.1" width="2.5" height="2.5" fill="#fce2d2"/><rect x="131.1" y="238.1" width="2.5" height="2.5" fill="#fae9df"/><rect x="133.3" y="238.1" width="2.5" height="2.5" fill="#f9f0eb"/><rect x="135.5" y="238.1" width="2.5" height="2.5" fill="#f7f6f6"/><rect x="137.7" y="238.1" width="2.5" height="2.5" fill="#edf2f5"/><rect x="140" y="238.1" width="13.5" height="2.5" fill="#dae9f2"/><rect x="153.2" y="238.1" width="2.5" height="2.5" fill="#c2ddec"/><rect x="155.4" y="238.1" width="2.5" height="2.5" fill="#d1e5f0"/><rect x="157.6" y="238.1" width="2.5" height="2.5" fill="#c2ddec"/><rect x="159.8" y="238.1" width="4.7" height="2.5" fill="#dae9f2"/><rect x="164.2" y="238.1" width="9.1" height="2.5" fill="#d1e5f0"/><rect x="173.1" y="238.1" width="2.5" height="2.5" fill="#edf2f5"/><rect x="175.3" y="238.1" width="2.5" height="2.5" fill="#f7f6f6"/><rect x="177.5" y="238.1" width="2.5" height="2.5" fill="#e4eef4"/><rect x="179.7" y="238.1" width="2.5" height="2.5" fill="#f7f6f6"/><rect x="181.9" y="238.1" width="2.5" height="2.5" fill="#edf2f5"/><rect x="184.1" y="238.1" width="2.5" height="2.5" fill="#e4eef4"/><rect x="186.3" y="238.1" width="9.1" height="2.5" fill="#fae9df"/><rect x="58.2" y="235.9" width="2.5" height="2.5" fill="#fce2d2"/><rect x="60.5" y="235.9" width="2.5" height="2.5" fill="#fddbc7"/><rect x="62.7" y="235.9" width="2.5" height="2.5" fill="#fbccb4"/><rect x="64.9" y="235.9" width="2.5" height="2.5" fill="#fce2d2"/><rect x="67.1" y="235.9" width="6.9" height="2.5" fill="#fddbc7"/><rect x="73.7" y="235.9" width="2.5" height="2.5" fill="#fce2d2"/><rect x="75.9" y="235.9" width="2.5" height="2.5" fill="#fddbc7"/><rect x="78.1" y="235.9" width="2.5" height="2.5" fill="#fce2d2"/><rect x="80.3" y="235.9" width="2.5" height="2.5" fill="#fbccb4"/><rect x="82.5" y="235.9" width="2.5" height="2.5" fill="#fddbc7"/><rect x="84.7" y="235.9" width="2.5" height="2.5" fill="#fbccb4"/><rect x="87" y="235.9" width="2.5" height="2.5" fill="#fddbc7"/><rect x="89.2" y="235.9" width="2.5" height="2.5" fill="#fbccb4"/><rect x="91.4" y="235.9" width="2.5" height="2.5" fill="#fddbc7"/><rect x="93.6" y="235.9" width="4.7" height="2.5" fill="#f6b394"/><rect x="98" y="235.9" width="2.5" height="2.5" fill="#f8bfa4"/><rect x="113.5" y="235.9" width="2.5" height="2.5" fill="#f3a481"/><rect x="115.7" y="235.9" width="2.5" height="2.5" fill="#f6b394"/><rect x="117.9" y="235.9" width="2.5" height="2.5" fill="#f3a481"/><rect x="120.1" y="235.9" width="2.5" height="2.5" fill="#f6b394"/><rect x="122.3" y="235.9" width="4.7" height="2.5" fill="#f3a481"/><rect x="126.7" y="235.9" width="4.7" height="2.5" fill="#f6b394"/><rect x="131.1" y="235.9" width="2.5" height="2.5" fill="#f8bfa4"/><rect x="133.3" y="235.9" width="2.5" height="2.5" fill="#fae9df"/><rect x="135.5" y="235.9" width="2.5" height="2.5" fill="#fce2d2"/><rect x="137.7" y="235.9" width="2.5" height="2.5" fill="#f7f6f6"/><rect x="140" y="235.9" width="4.7" height="2.5" fill="#edf2f5"/><rect x="144.4" y="235.9" width="2.5" height="2.5" fill="#e4eef4"/><rect x="146.6" y="235.9" width="2.5" height="2.5" fill="#dae9f2"/><rect x="148.8" y="235.9" width="2.5" height="2.5" fill="#e4eef4"/><rect x="151" y="235.9" width="2.5" height="2.5" fill="#edf2f5"/><rect x="153.2" y="235.9" width="4.7" height="2.5" fill="#e4eef4"/><rect x="157.6" y="235.9" width="2.5" height="2.5" fill="#dae9f2"/><rect x="159.8" y="235.9" width="2.5" height="2.5" fill="#e4eef4"/><rect x="162" y="235.9" width="4.7" height="2.5" fill="#edf2f5"/><rect x="166.5" y="235.9" width="2.5" height="2.5" fill="#e4eef4"/><rect x="168.7" y="235.9" width="2.5" height="2.5" fill="#d1e5f0"/><rect x="170.9" y="235.9" width="2.5" height="2.5" fill="#c2ddec"/><rect x="173.1" y="235.9" width="2.5" height="2.5" fill="#f7f6f6"/><rect x="175.3" y="235.9" width="2.5" height="2.5" fill="#e4eef4"/><rect x="177.5" y="235.9" width="2.5" height="2.5" fill="#edf2f5"/><rect x="179.7" y="235.9" width="2.5" height="2.5" fill="#f7f6f6"/><rect x="181.9" y="235.9" width="2.5" height="2.5" fill="#fae9df"/><rect x="184.1" y="235.9" width="2.5" height="2.5" fill="#edf2f5"/><rect x="186.3" y="235.9" width="2.5" height="2.5" fill="#f9f0eb"/><rect x="188.5" y="235.9" width="4.7" height="2.5" fill="#fae9df"/><rect x="60.5" y="233.7" width="2.5" height="2.5" fill="#f8bfa4"/><rect x="62.7" y="233.7" width="2.5" height="2.5" fill="#fbccb4"/><rect x="64.9" y="233.7" width="2.5" height="2.5" fill="#fddbc7"/><rect x="67.1" y="233.7" width="2.5" height="2.5" fill="#fbccb4"/><rect x="69.3" y="233.7" width="2.5" height="2.5" fill="#fddbc7"/><rect x="71.5" y="233.7" width="4.7" height="2.5" fill="#fbccb4"/><rect x="75.9" y="233.7" width="2.5" height="2.5" fill="#f6b394"/><rect x="78.1" y="233.7" width="2.5" height="2.5" fill="#f8bfa4"/><rect x="80.3" y="233.7" width="4.7" height="2.5" fill="#f6b394"/><rect x="84.7" y="233.7" width="4.7" height="2.5" fill="#f8bfa4"/><rect x="89.2" y="233.7" width="2.5" height="2.5" fill="#fbccb4"/><rect x="91.4" y="233.7" width="4.7" height="2.5" fill="#f6b394"/><rect x="95.8" y="233.7" width="2.5" height="2.5" fill="#f8bfa4"/><rect x="109" y="233.7" width="2.5" height="2.5" fill="#ec9374"/><rect x="117.9" y="233.7" width="2.5" height="2.5" fill="#f3a481"/><rect x="120.1" y="233.7" width="2.5" height="2.5" fill="#e48066"/><rect x="122.3" y="233.7" width="2.5" height="2.5" fill="#ec9374"/><rect x="124.5" y="233.7" width="2.5" height="2.5" fill="#e48066"/><rect x="126.7" y="233.7" width="2.5" height="2.5" fill="#dd7059"/><rect x="128.9" y="233.7" width="2.5" height="2.5" fill="#e48066"/><rect x="131.1" y="233.7" width="2.5" height="2.5" fill="#f6b394"/><rect x="133.3" y="233.7" width="2.5" height="2.5" fill="#f8bfa4"/><rect x="135.5" y="233.7" width="4.7" height="2.5" fill="#fddbc7"/><rect x="140" y="233.7" width="4.7" height="2.5" fill="#f7f6f6"/><rect x="144.4" y="233.7" width="11.3" height="2.5" fill="#edf2f5"/><rect x="155.4" y="233.7" width="2.5" height="2.5" fill="#e4eef4"/><rect x="157.6" y="233.7" width="2.5" height="2.5" fill="#edf2f5"/><rect x="159.8" y="233.7" width="2.5" height="2.5" fill="#e4eef4"/><rect x="162" y="233.7" width="2.5" height="2.5" fill="#edf2f5"/><rect x="164.2" y="233.7" width="2.5" height="2.5" fill="#f7f6f6"/><rect x="166.5" y="233.7" width="6.9" height="2.5" fill="#f9f0eb"/><rect x="173.1" y="233.7" width="2.5" height="2.5" fill="#fae9df"/><rect x="175.3" y="233.7" width="4.7" height="2.5" fill="#f7f6f6"/><rect x="179.7" y="233.7" width="2.5" height="2.5" fill="#fae9df"/><rect x="181.9" y="233.7" width="4.7" height="2.5" fill="#f9f0eb"/><rect x="186.3" y="233.7" width="2.5" height="2.5" fill="#fce2d2"/><rect x="188.5" y="233.7" width="4.7" height="2.5" fill="#fae9df"/><rect x="62.7" y="231.5" width="6.9" height="2.5" fill="#fddbc7"/><rect x="69.3" y="231.5" width="4.7" height="2.5" fill="#fbccb4"/><rect x="73.7" y="231.5" width="4.7" height="2.5" fill="#f8bfa4"/><rect x="78.1" y="231.5" width="2.5" height="2.5" fill="#fddbc7"/><rect x="80.3" y="231.5" width="11.3" height="2.5" fill="#f6b394"/><rect x="91.4" y="231.5" width="2.5" height="2.5" fill="#f3a481"/><rect x="109" y="231.5" width="6.9" height="2.5" fill="#dd7059"/><rect x="122.3" y="231.5" width="2.5" height="2.5" fill="#e48066"/><rect x="124.5" y="231.5" width="2.5" height="2.5" fill="#dd7059"/><rect x="126.7" y="231.5" width="4.7" height="2.5" fill="#e48066"/><rect x="131.1" y="231.5" width="2.5" height="2.5" fill="#dd7059"/><rect x="133.3" y="231.5" width="2.5" height="2.5" fill="#f3a481"/><rect x="135.5" y="231.5" width="2.5" height="2.5" fill="#f8bfa4"/><rect x="137.7" y="231.5" width="2.5" height="2.5" fill="#fbccb4"/><rect x="140" y="231.5" width="2.5" height="2.5" fill="#fddbc7"/><rect x="142.2" y="231.5" width="2.5" height="2.5" fill="#fae9df"/><rect x="144.4" y="231.5" width="4.7" height="2.5" fill="#f9f0eb"/><rect x="148.8" y="231.5" width="2.5" height="2.5" fill="#f7f6f6"/><rect x="151" y="231.5" width="2.5" height="2.5" fill="#fae9df"/><rect x="153.2" y="231.5" width="4.7" height="2.5" fill="#f7f6f6"/><rect x="157.6" y="231.5" width="4.7" height="2.5" fill="#edf2f5"/><rect x="162" y="231.5" width="9.1" height="2.5" fill="#f9f0eb"/><rect x="170.9" y="231.5" width="6.9" height="2.5" fill="#f7f6f6"/><rect x="177.5" y="231.5" width="2.5" height="2.5" fill="#f9f0eb"/><rect x="179.7" y="231.5" width="4.7" height="2.5" fill="#fae9df"/><rect x="184.1" y="231.5" width="2.5" height="2.5" fill="#f9f0eb"/><rect x="186.3" y="231.5" width="2.5" height="2.5" fill="#fae9df"/><rect x="188.5" y="231.5" width="2.5" height="2.5" fill="#fce2d2"/><rect x="62.7" y="229.2" width="2.5" height="2.5" fill="#fbccb4"/><rect x="64.9" y="229.2" width="2.5" height="2.5" fill="#fddbc7"/><rect x="67.1" y="229.2" width="4.7" height="2.5" fill="#fbccb4"/><rect x="71.5" y="229.2" width="2.5" height="2.5" fill="#fddbc7"/><rect x="73.7" y="229.2" width="4.7" height="2.5" fill="#f8bfa4"/><rect x="78.1" y="229.2" width="2.5" height="2.5" fill="#fbccb4"/><rect x="80.3" y="229.2" width="2.5" height="2.5" fill="#f8bfa4"/><rect x="82.5" y="229.2" width="6.9" height="2.5" fill="#f6b394"/><rect x="89.2" y="229.2" width="2.5" height="2.5" fill="#f8bfa4"/><rect x="106.8" y="229.2" width="2.5" height="2.5" fill="#ba2832"/><rect x="109" y="229.2" width="2.5" height="2.5" fill="#c43b3c"/><rect x="111.2" y="229.2" width="2.5" height="2.5" fill="#cc4c44"/><rect x="113.5" y="229.2" width="2.5" height="2.5" fill="#c43b3c"/><rect x="115.7" y="229.2" width="2.5" height="2.5" fill="#ba2832"/><rect x="117.9" y="229.2" width="2.5" height="2.5" fill="#b1182b"/><rect x="126.7" y="229.2" width="2.5" height="2.5" fill="#e48066"/><rect x="128.9" y="229.2" width="4.7" height="2.5" fill="#d6604d"/><rect x="133.3" y="229.2" width="2.5" height="2.5" fill="#ec9374"/><rect x="135.5" y="229.2" width="2.5" height="2.5" fill="#f8bfa4"/><rect x="137.7" y="229.2" width="2.5" height="2.5" fill="#fbccb4"/><rect x="140" y="229.2" width="4.7" height="2.5" fill="#f9f0eb"/><rect x="144.4" y="229.2" width="4.7" height="2.5" fill="#fae9df"/><rect x="148.8" y="229.2" width="2.5" height="2.5" fill="#f7f6f6"/><rect x="151" y="229.2" width="6.9" height="2.5" fill="#fae9df"/><rect x="157.6" y="229.2" width="4.7" height="2.5" fill="#f9f0eb"/><rect x="162" y="229.2" width="2.5" height="2.5" fill="#f7f6f6"/><rect x="164.2" y="229.2" width="2.5" height="2.5" fill="#f9f0eb"/><rect x="166.5" y="229.2" width="2.5" height="2.5" fill="#fae9df"/><rect x="168.7" y="229.2" width="2.5" height="2.5" fill="#f7f6f6"/><rect x="170.9" y="229.2" width="2.5" height="2.5" fill="#f9f0eb"/><rect x="173.1" y="229.2" width="2.5" height="2.5" fill="#f7f6f6"/><rect x="175.3" y="229.2" width="4.7" height="2.5" fill="#f9f0eb"/><rect x="179.7" y="229.2" width="2.5" height="2.5" fill="#f7f6f6"/><rect x="181.9" y="229.2" width="9.1" height="2.5" fill="#fae9df"/><rect x="64.9" y="227" width="2.5" height="2.5" fill="#fbccb4"/><rect x="67.1" y="227" width="4.7" height="2.5" fill="#f8bfa4"/><rect x="71.5" y="227" width="2.5" height="2.5" fill="#fbccb4"/><rect x="73.7" y="227" width="9.1" height="2.5" fill="#f8bfa4"/><rect x="82.5" y="227" width="2.5" height="2.5" fill="#f3a481"/><rect x="84.7" y="227" width="2.5" height="2.5" fill="#f6b394"/><rect x="106.8" y="227" width="11.3" height="2.5" fill="#ba2832"/><rect x="117.9" y="227" width="2.5" height="2.5" fill="#c43b3c"/><rect x="120.1" y="227" width="4.7" height="2.5" fill="#ba2832"/><rect x="131.1" y="227" width="2.5" height="2.5" fill="#e48066"/><rect x="133.3" y="227" width="2.5" height="2.5" fill="#f3a481"/><rect x="135.5" y="227" width="2.5" height="2.5" fill="#f8bfa4"/><rect x="137.7" y="227" width="2.5" height="2.5" fill="#fbccb4"/><rect x="140" y="227" width="2.5" height="2.5" fill="#fce2d2"/><rect x="142.2" y="227" width="4.7" height="2.5" fill="#f9f0eb"/><rect x="146.6" y="227" width="2.5" height="2.5" fill="#fae9df"/><rect x="148.8" y="227" width="2.5" height="2.5" fill="#f9f0eb"/><rect x="151" y="227" width="2.5" height="2.5" fill="#f7f6f6"/><rect x="153.2" y="227" width="2.5" height="2.5" fill="#fce2d2"/><rect x="155.4" y="227" width="2.5" height="2.5" fill="#fae9df"/><rect x="157.6" y="227" width="4.7" height="2.5" fill="#f9f0eb"/><rect x="162" y="227" width="4.7" height="2.5" fill="#fae9df"/><rect x="166.5" y="227" width="2.5" height="2.5" fill="#f9f0eb"/><rect x="168.7" y="227" width="2.5" height="2.5" fill="#fae9df"/><rect x="170.9" y="227" width="2.5" height="2.5" fill="#f9f0eb"/><rect x="173.1" y="227" width="2.5" height="2.5" fill="#fae9df"/><rect x="175.3" y="227" width="2.5" height="2.5" fill="#f9f0eb"/><rect x="177.5" y="227" width="2.5" height="2.5" fill="#f7f6f6"/><rect x="179.7" y="227" width="2.5" height="2.5" fill="#fce2d2"/><rect x="181.9" y="227" width="2.5" height="2.5" fill="#fae9df"/><rect x="184.1" y="227" width="2.5" height="2.5" fill="#fce2d2"/><rect x="186.3" y="227" width="2.5" height="2.5" fill="#fae9df"/><rect x="188.5" y="227" width="2.5" height="2.5" fill="#fddbc7"/><rect x="67.1" y="224.8" width="2.5" height="2.5" fill="#f8bfa4"/><rect x="69.3" y="224.8" width="2.5" height="2.5" fill="#fbccb4"/><rect x="71.5" y="224.8" width="2.5" height="2.5" fill="#f8bfa4"/><rect x="73.7" y="224.8" width="2.5" height="2.5" fill="#f6b394"/><rect x="75.9" y="224.8" width="4.7" height="2.5" fill="#f8bfa4"/><rect x="80.3" y="224.8" width="4.7" height="2.5" fill="#f6b394"/><rect x="104.6" y="224.8" width="2.5" height="2.5" fill="#9f1228"/><rect x="106.8" y="224.8" width="2.5" height="2.5" fill="#b1182b"/><rect x="109" y="224.8" width="2.5" height="2.5" fill="#9f1228"/><rect x="111.2" y="224.8" width="2.5" height="2.5" fill="#b1182b"/><rect x="113.5" y="224.8" width="2.5" height="2.5" fill="#ba2832"/><rect x="115.7" y="224.8" width="2.5" height="2.5" fill="#c43b3c"/><rect x="117.9" y="224.8" width="4.7" height="2.5" fill="#ba2832"/><rect x="122.3" y="224.8" width="2.5" height="2.5" fill="#b1182b"/><rect x="124.5" y="224.8" width="2.5" height="2.5" fill="#ba2832"/><rect x="126.7" y="224.8" width="2.5" height="2.5" fill="#b1182b"/><rect x="137.7" y="224.8" width="2.5" height="2.5" fill="#fddbc7"/><rect x="140" y="224.8" width="4.7" height="2.5" fill="#fae9df"/><rect x="144.4" y="224.8" width="2.5" height="2.5" fill="#fce2d2"/><rect x="146.6" y="224.8" width="4.7" height="2.5" fill="#fae9df"/><rect x="151" y="224.8" width="2.5" height="2.5" fill="#f9f0eb"/><rect x="153.2" y="224.8" width="2.5" height="2.5" fill="#fae9df"/><rect x="155.4" y="224.8" width="2.5" height="2.5" fill="#f9f0eb"/><rect x="157.6" y="224.8" width="2.5" height="2.5" fill="#fae9df"/><rect x="159.8" y="224.8" width="4.7" height="2.5" fill="#f9f0eb"/><rect x="164.2" y="224.8" width="4.7" height="2.5" fill="#fae9df"/><rect x="168.7" y="224.8" width="2.5" height="2.5" fill="#fce2d2"/><rect x="170.9" y="224.8" width="2.5" height="2.5" fill="#f9f0eb"/><rect x="173.1" y="224.8" width="2.5" height="2.5" fill="#fae9df"/><rect x="175.3" y="224.8" width="2.5" height="2.5" fill="#f9f0eb"/><rect x="177.5" y="224.8" width="2.5" height="2.5" fill="#f7f6f6"/><rect x="179.7" y="224.8" width="2.5" height="2.5" fill="#fce2d2"/><rect x="181.9" y="224.8" width="2.5" height="2.5" fill="#fddbc7"/><rect x="184.1" y="224.8" width="2.5" height="2.5" fill="#fae9df"/><rect x="186.3" y="224.8" width="2.5" height="2.5" fill="#fce2d2"/><rect x="67.1" y="222.6" width="2.5" height="2.5" fill="#f6b394"/><rect x="69.3" y="222.6" width="2.5" height="2.5" fill="#f8bfa4"/><rect x="71.5" y="222.6" width="2.5" height="2.5" fill="#fbccb4"/><rect x="73.7" y="222.6" width="9.1" height="2.5" fill="#f6b394"/><rect x="89.2" y="222.6" width="2.5" height="2.5" fill="#d6604d"/><rect x="91.4" y="222.6" width="4.7" height="2.5" fill="#cc4c44"/><rect x="95.8" y="222.6" width="2.5" height="2.5" fill="#c43b3c"/><rect x="98" y="222.6" width="4.7" height="2.5" fill="#cc4c44"/><rect x="102.4" y="222.6" width="4.7" height="2.5" fill="#ba2832"/><rect x="106.8" y="222.6" width="2.5" height="2.5" fill="#b1182b"/><rect x="109" y="222.6" width="4.7" height="2.5" fill="#ba2832"/><rect x="113.5" y="222.6" width="4.7" height="2.5" fill="#b1182b"/><rect x="117.9" y="222.6" width="4.7" height="2.5" fill="#ba2832"/><rect x="122.3" y="222.6" width="2.5" height="2.5" fill="#c43b3c"/><rect x="124.5" y="222.6" width="4.7" height="2.5" fill="#ba2832"/><rect x="128.9" y="222.6" width="2.5" height="2.5" fill="#c43b3c"/><rect x="148.8" y="222.6" width="2.5" height="2.5" fill="#fae9df"/><rect x="151" y="222.6" width="2.5" height="2.5" fill="#fce2d2"/><rect x="153.2" y="222.6" width="2.5" height="2.5" fill="#fae9df"/><rect x="155.4" y="222.6" width="2.5" height="2.5" fill="#fce2d2"/><rect x="157.6" y="222.6" width="2.5" height="2.5" fill="#fae9df"/><rect x="159.8" y="222.6" width="2.5" height="2.5" fill="#fce2d2"/><rect x="162" y="222.6" width="6.9" height="2.5" fill="#fae9df"/><rect x="168.7" y="222.6" width="2.5" height="2.5" fill="#f9f0eb"/><rect x="170.9" y="222.6" width="2.5" height="2.5" fill="#fae9df"/><rect x="173.1" y="222.6" width="2.5" height="2.5" fill="#fce2d2"/><rect x="175.3" y="222.6" width="2.5" height="2.5" fill="#fae9df"/><rect x="177.5" y="222.6" width="2.5" height="2.5" fill="#f9f0eb"/><rect x="179.7" y="222.6" width="4.7" height="2.5" fill="#fae9df"/><rect x="184.1" y="222.6" width="2.5" height="2.5" fill="#fce2d2"/><rect x="186.3" y="222.6" width="2.5" height="2.5" fill="#fddbc7"/><rect x="69.3" y="220.4" width="2.5" height="2.5" fill="#f8bfa4"/><rect x="71.5" y="220.4" width="6.9" height="2.5" fill="#fbccb4"/><rect x="78.1" y="220.4" width="2.5" height="2.5" fill="#f8bfa4"/><rect x="89.2" y="220.4" width="2.5" height="2.5" fill="#d6604d"/><rect x="91.4" y="220.4" width="9.1" height="2.5" fill="#cc4c44"/><rect x="102.4" y="220.4" width="4.7" height="2.5" fill="#b1182b"/><rect x="106.8" y="220.4" width="2.5" height="2.5" fill="#9f1228"/><rect x="109" y="220.4" width="2.5" height="2.5" fill="#ba2832"/><rect x="111.2" y="220.4" width="4.7" height="2.5" fill="#b1182b"/><rect x="115.7" y="220.4" width="2.5" height="2.5" fill="#9f1228"/><rect x="117.9" y="220.4" width="2.5" height="2.5" fill="#b1182b"/><rect x="120.1" y="220.4" width="2.5" height="2.5" fill="#ba2832"/><rect x="122.3" y="220.4" width="2.5" height="2.5" fill="#cc4c44"/><rect x="124.5" y="220.4" width="2.5" height="2.5" fill="#c43b3c"/><rect x="126.7" y="220.4" width="2.5" height="2.5" fill="#ba2832"/><rect x="128.9" y="220.4" width="2.5" height="2.5" fill="#c43b3c"/><rect x="140" y="220.4" width="4.7" height="2.5" fill="#f6b394"/><rect x="146.6" y="220.4" width="2.5" height="2.5" fill="#fce2d2"/><rect x="148.8" y="220.4" width="2.5" height="2.5" fill="#fae9df"/><rect x="151" y="220.4" width="2.5" height="2.5" fill="#fce2d2"/><rect x="153.2" y="220.4" width="2.5" height="2.5" fill="#fae9df"/><rect x="155.4" y="220.4" width="4.7" height="2.5" fill="#fce2d2"/><rect x="159.8" y="220.4" width="2.5" height="2.5" fill="#fddbc7"/><rect x="162" y="220.4" width="2.5" height="2.5" fill="#fce2d2"/><rect x="164.2" y="220.4" width="2.5" height="2.5" fill="#fddbc7"/><rect x="166.5" y="220.4" width="6.9" height="2.5" fill="#fce2d2"/><rect x="173.1" y="220.4" width="2.5" height="2.5" fill="#fae9df"/><rect x="175.3" y="220.4" width="2.5" height="2.5" fill="#fbccb4"/><rect x="177.5" y="220.4" width="2.5" height="2.5" fill="#fddbc7"/><rect x="179.7" y="220.4" width="2.5" height="2.5" fill="#fae9df"/><rect x="181.9" y="220.4" width="4.7" height="2.5" fill="#fce2d2"/><rect x="71.5" y="218.2" width="2.5" height="2.5" fill="#f6b394"/><rect x="73.7" y="218.2" width="2.5" height="2.5" fill="#f8bfa4"/><rect x="75.9" y="218.2" width="2.5" height="2.5" fill="#fbccb4"/><rect x="89.2" y="218.2" width="2.5" height="2.5" fill="#c43b3c"/><rect x="91.4" y="218.2" width="2.5" height="2.5" fill="#d6604d"/><rect x="93.6" y="218.2" width="2.5" height="2.5" fill="#cc4c44"/><rect x="95.8" y="218.2" width="2.5" height="2.5" fill="#d6604d"/><rect x="100.2" y="218.2" width="9.1" height="2.5" fill="#b1182b"/><rect x="109" y="218.2" width="2.5" height="2.5" fill="#9f1228"/><rect x="111.2" y="218.2" width="2.5" height="2.5" fill="#ba2832"/><rect x="113.5" y="218.2" width="2.5" height="2.5" fill="#b1182b"/><rect x="115.7" y="218.2" width="4.7" height="2.5" fill="#9f1228"/><rect x="120.1" y="218.2" width="2.5" height="2.5" fill="#ba2832"/><rect x="122.3" y="218.2" width="2.5" height="2.5" fill="#c43b3c"/><rect x="124.5" y="218.2" width="2.5" height="2.5" fill="#b1182b"/><rect x="126.7" y="218.2" width="4.7" height="2.5" fill="#c43b3c"/><rect x="140" y="218.2" width="4.7" height="2.5" fill="#f6b394"/><rect x="144.4" y="218.2" width="2.5" height="2.5" fill="#fae9df"/><rect x="146.6" y="218.2" width="4.7" height="2.5" fill="#f9f0eb"/><rect x="151" y="218.2" width="2.5" height="2.5" fill="#fae9df"/><rect x="153.2" y="218.2" width="2.5" height="2.5" fill="#fce2d2"/><rect x="155.4" y="218.2" width="2.5" height="2.5" fill="#fae9df"/><rect x="157.6" y="218.2" width="2.5" height="2.5" fill="#fce2d2"/><rect x="159.8" y="218.2" width="2.5" height="2.5" fill="#fae9df"/><rect x="162" y="218.2" width="2.5" height="2.5" fill="#fce2d2"/><rect x="164.2" y="218.2" width="4.7" height="2.5" fill="#fddbc7"/><rect x="168.7" y="218.2" width="9.1" height="2.5" fill="#fce2d2"/><rect x="177.5" y="218.2" width="2.5" height="2.5" fill="#fddbc7"/><rect x="179.7" y="218.2" width="2.5" height="2.5" fill="#fce2d2"/><rect x="181.9" y="218.2" width="2.5" height="2.5" fill="#fae9df"/><rect x="184.1" y="218.2" width="2.5" height="2.5" fill="#fce2d2"/><rect x="98" y="216" width="11.3" height="2.5" fill="#b1182b"/><rect x="109" y="216" width="4.7" height="2.5" fill="#9f1228"/><rect x="113.5" y="216" width="2.5" height="2.5" fill="#8a0b25"/><rect x="115.7" y="216" width="2.5" height="2.5" fill="#9f1228"/><rect x="117.9" y="216" width="4.7" height="2.5" fill="#b1182b"/><rect x="122.3" y="216" width="2.5" height="2.5" fill="#ba2832"/><rect x="124.5" y="216" width="2.5" height="2.5" fill="#c43b3c"/><rect x="126.7" y="216" width="2.5" height="2.5" fill="#ba2832"/><rect x="128.9" y="216" width="2.5" height="2.5" fill="#c43b3c"/><rect x="142.2" y="216" width="2.5" height="2.5" fill="#fae9df"/><rect x="144.4" y="216" width="2.5" height="2.5" fill="#fce2d2"/><rect x="146.6" y="216" width="2.5" height="2.5" fill="#fae9df"/><rect x="148.8" y="216" width="2.5" height="2.5" fill="#fce2d2"/><rect x="151" y="216" width="2.5" height="2.5" fill="#fbccb4"/><rect x="153.2" y="216" width="4.7" height="2.5" fill="#fddbc7"/><rect x="157.6" y="216" width="2.5" height="2.5" fill="#fce2d2"/><rect x="159.8" y="216" width="2.5" height="2.5" fill="#fae9df"/><rect x="162" y="216" width="2.5" height="2.5" fill="#fce2d2"/><rect x="164.2" y="216" width="2.5" height="2.5" fill="#fbccb4"/><rect x="166.5" y="216" width="2.5" height="2.5" fill="#fce2d2"/><rect x="168.7" y="216" width="2.5" height="2.5" fill="#fae9df"/><rect x="170.9" y="216" width="2.5" height="2.5" fill="#fce2d2"/><rect x="173.1" y="216" width="2.5" height="2.5" fill="#fae9df"/><rect x="175.3" y="216" width="2.5" height="2.5" fill="#fbccb4"/><rect x="177.5" y="216" width="2.5" height="2.5" fill="#fce2d2"/><rect x="179.7" y="216" width="2.5" height="2.5" fill="#fae9df"/><rect x="181.9" y="216" width="2.5" height="2.5" fill="#fce2d2"/><rect x="98" y="213.8" width="2.5" height="2.5" fill="#c43b3c"/><rect x="100.2" y="213.8" width="4.7" height="2.5" fill="#b1182b"/><rect x="104.6" y="213.8" width="2.5" height="2.5" fill="#9f1228"/><rect x="106.8" y="213.8" width="9.1" height="2.5" fill="#8a0b25"/><rect x="115.7" y="213.8" width="6.9" height="2.5" fill="#b1182b"/><rect x="122.3" y="213.8" width="4.7" height="2.5" fill="#ba2832"/><rect x="126.7" y="213.8" width="2.5" height="2.5" fill="#c43b3c"/><rect x="128.9" y="213.8" width="2.5" height="2.5" fill="#ba2832"/><rect x="142.2" y="213.8" width="2.5" height="2.5" fill="#fce2d2"/><rect x="144.4" y="213.8" width="2.5" height="2.5" fill="#fddbc7"/><rect x="146.6" y="213.8" width="2.5" height="2.5" fill="#fce2d2"/><rect x="148.8" y="213.8" width="4.7" height="2.5" fill="#fddbc7"/><rect x="153.2" y="213.8" width="4.7" height="2.5" fill="#fbccb4"/><rect x="157.6" y="213.8" width="4.7" height="2.5" fill="#fddbc7"/><rect x="162" y="213.8" width="2.5" height="2.5" fill="#f8bfa4"/><rect x="164.2" y="213.8" width="2.5" height="2.5" fill="#fbccb4"/><rect x="166.5" y="213.8" width="2.5" height="2.5" fill="#f8bfa4"/><rect x="168.7" y="213.8" width="2.5" height="2.5" fill="#fddbc7"/><rect x="170.9" y="213.8" width="2.5" height="2.5" fill="#fbccb4"/><rect x="173.1" y="213.8" width="6.9" height="2.5" fill="#fddbc7"/><rect x="179.7" y="213.8" width="2.5" height="2.5" fill="#fce2d2"/><rect x="95.8" y="211.6" width="9.1" height="2.5" fill="#b1182b"/><rect x="104.6" y="211.6" width="2.5" height="2.5" fill="#8a0b25"/><rect x="106.8" y="211.6" width="2.5" height="2.5" fill="#9f1228"/><rect x="109" y="211.6" width="4.7" height="2.5" fill="#8a0b25"/><rect x="113.5" y="211.6" width="2.5" height="2.5" fill="#ba2832"/><rect x="115.7" y="211.6" width="2.5" height="2.5" fill="#9f1228"/><rect x="117.9" y="211.6" width="6.9" height="2.5" fill="#b1182b"/><rect x="124.5" y="211.6" width="2.5" height="2.5" fill="#c43b3c"/><rect x="126.7" y="211.6" width="4.7" height="2.5" fill="#b1182b"/><rect x="142.2" y="211.6" width="2.5" height="2.5" fill="#fddbc7"/><rect x="144.4" y="211.6" width="9.1" height="2.5" fill="#fce2d2"/><rect x="153.2" y="211.6" width="2.5" height="2.5" fill="#fbccb4"/><rect x="155.4" y="211.6" width="2.5" height="2.5" fill="#fce2d2"/><rect x="157.6" y="211.6" width="2.5" height="2.5" fill="#fddbc7"/><rect x="159.8" y="211.6" width="9.1" height="2.5" fill="#f8bfa4"/><rect x="168.7" y="211.6" width="4.7" height="2.5" fill="#fbccb4"/><rect x="173.1" y="211.6" width="2.5" height="2.5" fill="#fddbc7"/><rect x="175.3" y="211.6" width="2.5" height="2.5" fill="#fce2d2"/><rect x="177.5" y="211.6" width="4.7" height="2.5" fill="#fddbc7"/><rect x="95.8" y="209.4" width="2.5" height="2.5" fill="#c43b3c"/><rect x="98" y="209.4" width="2.5" height="2.5" fill="#b1182b"/><rect x="100.2" y="209.4" width="2.5" height="2.5" fill="#ba2832"/><rect x="102.4" y="209.4" width="4.7" height="2.5" fill="#b1182b"/><rect x="106.8" y="209.4" width="11.3" height="2.5" fill="#9f1228"/><rect x="117.9" y="209.4" width="2.5" height="2.5" fill="#ba2832"/><rect x="120.1" y="209.4" width="2.5" height="2.5" fill="#b1182b"/><rect x="122.3" y="209.4" width="2.5" height="2.5" fill="#ba2832"/><rect x="124.5" y="209.4" width="2.5" height="2.5" fill="#b1182b"/><rect x="126.7" y="209.4" width="2.5" height="2.5" fill="#ba2832"/><rect x="128.9" y="209.4" width="2.5" height="2.5" fill="#b1182b"/><rect x="142.2" y="209.4" width="2.5" height="2.5" fill="#fddbc7"/><rect x="144.4" y="209.4" width="2.5" height="2.5" fill="#fbccb4"/><rect x="146.6" y="209.4" width="2.5" height="2.5" fill="#fce2d2"/><rect x="148.8" y="209.4" width="2.5" height="2.5" fill="#fddbc7"/><rect x="151" y="209.4" width="2.5" height="2.5" fill="#fbccb4"/><rect x="153.2" y="209.4" width="2.5" height="2.5" fill="#fddbc7"/><rect x="155.4" y="209.4" width="2.5" height="2.5" fill="#fbccb4"/><rect x="157.6" y="209.4" width="2.5" height="2.5" fill="#fce2d2"/><rect x="159.8" y="209.4" width="4.7" height="2.5" fill="#f8bfa4"/><rect x="164.2" y="209.4" width="2.5" height="2.5" fill="#f6b394"/><rect x="166.5" y="209.4" width="6.9" height="2.5" fill="#fbccb4"/><rect x="173.1" y="209.4" width="6.9" height="2.5" fill="#fce2d2"/><rect x="84.7" y="207.2" width="2.5" height="2.5" fill="#d6604d"/><rect x="87" y="207.2" width="2.5" height="2.5" fill="#cc4c44"/><rect x="89.2" y="207.2" width="2.5" height="2.5" fill="#dd7059"/><rect x="91.4" y="207.2" width="2.5" height="2.5" fill="#c43b3c"/><rect x="95.8" y="207.2" width="2.5" height="2.5" fill="#c43b3c"/><rect x="98" y="207.2" width="2.5" height="2.5" fill="#ba2832"/><rect x="100.2" y="207.2" width="2.5" height="2.5" fill="#b1182b"/><rect x="102.4" y="207.2" width="2.5" height="2.5" fill="#8a0b25"/><rect x="104.6" y="207.2" width="2.5" height="2.5" fill="#b1182b"/><rect x="106.8" y="207.2" width="6.9" height="2.5" fill="#9f1228"/><rect x="113.5" y="207.2" width="6.9" height="2.5" fill="#b1182b"/><rect x="120.1" y="207.2" width="2.5" height="2.5" fill="#ba2832"/><rect x="122.3" y="207.2" width="2.5" height="2.5" fill="#b1182b"/><rect x="124.5" y="207.2" width="2.5" height="2.5" fill="#ba2832"/><rect x="126.7" y="207.2" width="2.5" height="2.5" fill="#b1182b"/><rect x="128.9" y="207.2" width="2.5" height="2.5" fill="#c43b3c"/><rect x="142.2" y="207.2" width="2.5" height="2.5" fill="#fbccb4"/><rect x="144.4" y="207.2" width="2.5" height="2.5" fill="#fce2d2"/><rect x="146.6" y="207.2" width="2.5" height="2.5" fill="#fbccb4"/><rect x="148.8" y="207.2" width="2.5" height="2.5" fill="#fce2d2"/><rect x="151" y="207.2" width="2.5" height="2.5" fill="#f8bfa4"/><rect x="153.2" y="207.2" width="2.5" height="2.5" fill="#fddbc7"/><rect x="155.4" y="207.2" width="4.7" height="2.5" fill="#fbccb4"/><rect x="159.8" y="207.2" width="6.9" height="2.5" fill="#f3a481"/><rect x="166.5" y="207.2" width="2.5" height="2.5" fill="#f6b394"/><rect x="168.7" y="207.2" width="2.5" height="2.5" fill="#f3a481"/><rect x="170.9" y="207.2" width="2.5" height="2.5" fill="#f8bfa4"/><rect x="173.1" y="207.2" width="2.5" height="2.5" fill="#fbccb4"/><rect x="175.3" y="207.2" width="2.5" height="2.5" fill="#f8bfa4"/><rect x="82.5" y="205" width="2.5" height="2.5" fill="#d6604d"/><rect x="84.7" y="205" width="4.7" height="2.5" fill="#cc4c44"/><rect x="89.2" y="205" width="4.7" height="2.5" fill="#d6604d"/><rect x="95.8" y="205" width="6.9" height="2.5" fill="#ba2832"/><rect x="102.4" y="205" width="4.7" height="2.5" fill="#b1182b"/><rect x="106.8" y="205" width="2.5" height="2.5" fill="#9f1228"/><rect x="109" y="205" width="13.5" height="2.5" fill="#b1182b"/><rect x="122.3" y="205" width="2.5" height="2.5" fill="#c43b3c"/><rect x="124.5" y="205" width="4.7" height="2.5" fill="#ba2832"/><rect x="128.9" y="205" width="2.5" height="2.5" fill="#c43b3c"/><rect x="142.2" y="205" width="4.7" height="2.5" fill="#fddbc7"/><rect x="146.6" y="205" width="4.7" height="2.5" fill="#fbccb4"/><rect x="151" y="205" width="2.5" height="2.5" fill="#fddbc7"/><rect x="153.2" y="205" width="2.5" height="2.5" fill="#f6b394"/><rect x="155.4" y="205" width="4.7" height="2.5" fill="#f8bfa4"/><rect x="159.8" y="205" width="2.5" height="2.5" fill="#f3a481"/><rect x="162" y="205" width="6.9" height="2.5" fill="#f6b394"/><rect x="168.7" y="205" width="2.5" height="2.5" fill="#f8bfa4"/><rect x="170.9" y="205" width="2.5" height="2.5" fill="#f6b394"/><rect x="80.3" y="202.7" width="2.5" height="2.5" fill="#dd7059"/><rect x="82.5" y="202.7" width="4.7" height="2.5" fill="#d6604d"/><rect x="87" y="202.7" width="6.9" height="2.5" fill="#cc4c44"/><rect x="95.8" y="202.7" width="2.5" height="2.5" fill="#ba2832"/><rect x="98" y="202.7" width="2.5" height="2.5" fill="#b1182b"/><rect x="100.2" y="202.7" width="4.7" height="2.5" fill="#ba2832"/><rect x="104.6" y="202.7" width="4.7" height="2.5" fill="#b1182b"/><rect x="109" y="202.7" width="2.5" height="2.5" fill="#9f1228"/><rect x="111.2" y="202.7" width="2.5" height="2.5" fill="#ba2832"/><rect x="113.5" y="202.7" width="4.7" height="2.5" fill="#9f1228"/><rect x="117.9" y="202.7" width="2.5" height="2.5" fill="#b1182b"/><rect x="120.1" y="202.7" width="2.5" height="2.5" fill="#ba2832"/><rect x="122.3" y="202.7" width="2.5" height="2.5" fill="#c43b3c"/><rect x="124.5" y="202.7" width="2.5" height="2.5" fill="#b1182b"/><rect x="126.7" y="202.7" width="2.5" height="2.5" fill="#c43b3c"/><rect x="128.9" y="202.7" width="2.5" height="2.5" fill="#ba2832"/><rect x="142.2" y="202.7" width="11.3" height="2.5" fill="#fbccb4"/><rect x="153.2" y="202.7" width="2.5" height="2.5" fill="#f8bfa4"/><rect x="155.4" y="202.7" width="2.5" height="2.5" fill="#fbccb4"/><rect x="157.6" y="202.7" width="2.5" height="2.5" fill="#f8bfa4"/><rect x="159.8" y="202.7" width="2.5" height="2.5" fill="#f3a481"/><rect x="162" y="202.7" width="4.7" height="2.5" fill="#f6b394"/><rect x="166.5" y="202.7" width="2.5" height="2.5" fill="#f8bfa4"/><rect x="87" y="200.5" width="2.5" height="2.5" fill="#d6604d"/><rect x="89.2" y="200.5" width="2.5" height="2.5" fill="#cc4c44"/><rect x="91.4" y="200.5" width="2.5" height="2.5" fill="#d6604d"/><rect x="95.8" y="200.5" width="2.5" height="2.5" fill="#c43b3c"/><rect x="98" y="200.5" width="2.5" height="2.5" fill="#ba2832"/><rect x="100.2" y="200.5" width="2.5" height="2.5" fill="#b1182b"/><rect x="102.4" y="200.5" width="4.7" height="2.5" fill="#ba2832"/><rect x="106.8" y="200.5" width="2.5" height="2.5" fill="#b1182b"/><rect x="109" y="200.5" width="2.5" height="2.5" fill="#9f1228"/><rect x="111.2" y="200.5" width="6.9" height="2.5" fill="#b1182b"/><rect x="117.9" y="200.5" width="2.5" height="2.5" fill="#ba2832"/><rect x="120.1" y="200.5" width="2.5" height="2.5" fill="#b1182b"/><rect x="122.3" y="200.5" width="4.7" height="2.5" fill="#ba2832"/><rect x="126.7" y="200.5" width="2.5" height="2.5" fill="#c43b3c"/><rect x="128.9" y="200.5" width="2.5" height="2.5" fill="#cc4c44"/><rect x="87" y="198.3" width="2.5" height="2.5" fill="#cc4c44"/><rect x="89.2" y="198.3" width="2.5" height="2.5" fill="#d6604d"/><rect x="91.4" y="198.3" width="2.5" height="2.5" fill="#cc4c44"/><rect x="95.8" y="198.3" width="2.5" height="2.5" fill="#ba2832"/><rect x="98" y="198.3" width="2.5" height="2.5" fill="#c43b3c"/><rect x="100.2" y="198.3" width="2.5" height="2.5" fill="#ba2832"/><rect x="102.4" y="198.3" width="2.5" height="2.5" fill="#9f1228"/><rect x="104.6" y="198.3" width="2.5" height="2.5" fill="#ba2832"/><rect x="106.8" y="198.3" width="6.9" height="2.5" fill="#b1182b"/><rect x="113.5" y="198.3" width="9.1" height="2.5" fill="#ba2832"/><rect x="122.3" y="198.3" width="2.5" height="2.5" fill="#b1182b"/><rect x="124.5" y="198.3" width="4.7" height="2.5" fill="#ba2832"/><rect x="128.9" y="198.3" width="2.5" height="2.5" fill="#b1182b"/><rect x="131.1" y="198.3" width="2.5" height="2.5" fill="#cc4c44"/><rect x="133.3" y="198.3" width="2.5" height="2.5" fill="#c43b3c"/><rect x="87" y="196.1" width="2.5" height="2.5" fill="#cc4c44"/><rect x="89.2" y="196.1" width="2.5" height="2.5" fill="#d6604d"/><rect x="91.4" y="196.1" width="2.5" height="2.5" fill="#cc4c44"/><rect x="95.8" y="196.1" width="11.3" height="2.5" fill="#ba2832"/><rect x="106.8" y="196.1" width="2.5" height="2.5" fill="#9f1228"/><rect x="109" y="196.1" width="2.5" height="2.5" fill="#ba2832"/><rect x="111.2" y="196.1" width="4.7" height="2.5" fill="#b1182b"/><rect x="115.7" y="196.1" width="2.5" height="2.5" fill="#c43b3c"/><rect x="117.9" y="196.1" width="2.5" height="2.5" fill="#ba2832"/><rect x="120.1" y="196.1" width="2.5" height="2.5" fill="#c43b3c"/><rect x="122.3" y="196.1" width="2.5" height="2.5" fill="#ba2832"/><rect x="124.5" y="196.1" width="2.5" height="2.5" fill="#c43b3c"/><rect x="126.7" y="196.1" width="2.5" height="2.5" fill="#ba2832"/><rect x="128.9" y="196.1" width="2.5" height="2.5" fill="#c43b3c"/><rect x="131.1" y="196.1" width="2.5" height="2.5" fill="#ba2832"/><rect x="133.3" y="196.1" width="2.5" height="2.5" fill="#c43b3c"/><rect x="95.8" y="193.9" width="2.5" height="2.5" fill="#c43b3c"/><rect x="98" y="193.9" width="2.5" height="2.5" fill="#ba2832"/><rect x="100.2" y="193.9" width="2.5" height="2.5" fill="#cc4c44"/><rect x="102.4" y="193.9" width="2.5" height="2.5" fill="#b1182b"/><rect x="104.6" y="193.9" width="2.5" height="2.5" fill="#ba2832"/><rect x="106.8" y="193.9" width="4.7" height="2.5" fill="#c43b3c"/><rect x="111.2" y="193.9" width="2.5" height="2.5" fill="#b1182b"/><rect x="113.5" y="193.9" width="4.7" height="2.5" fill="#ba2832"/><rect x="117.9" y="193.9" width="9.1" height="2.5" fill="#c43b3c"/><rect x="126.7" y="193.9" width="2.5" height="2.5" fill="#ba2832"/><rect x="128.9" y="193.9" width="2.5" height="2.5" fill="#c43b3c"/><rect x="95.8" y="191.7" width="2.5" height="2.5" fill="#cc4c44"/><rect x="98" y="191.7" width="4.7" height="2.5" fill="#ba2832"/><rect x="102.4" y="191.7" width="2.5" height="2.5" fill="#c43b3c"/><rect x="104.6" y="191.7" width="4.7" height="2.5" fill="#ba2832"/><rect x="109" y="191.7" width="2.5" height="2.5" fill="#c43b3c"/><rect x="111.2" y="191.7" width="2.5" height="2.5" fill="#ba2832"/><rect x="113.5" y="191.7" width="2.5" height="2.5" fill="#c43b3c"/><rect x="115.7" y="191.7" width="2.5" height="2.5" fill="#ba2832"/><rect x="122.3" y="191.7" width="4.7" height="2.5" fill="#c43b3c"/><rect x="126.7" y="191.7" width="2.5" height="2.5" fill="#ba2832"/><rect x="128.9" y="191.7" width="2.5" height="2.5" fill="#c43b3c"/><rect x="95.8" y="189.5" width="2.5" height="2.5" fill="#ba2832"/><rect x="98" y="189.5" width="6.9" height="2.5" fill="#c43b3c"/><rect x="104.6" y="189.5" width="2.5" height="2.5" fill="#ba2832"/><rect x="106.8" y="189.5" width="2.5" height="2.5" fill="#cc4c44"/><rect x="109" y="189.5" width="2.5" height="2.5" fill="#ba2832"/><rect x="111.2" y="189.5" width="2.5" height="2.5" fill="#c43b3c"/><rect x="113.5" y="189.5" width="4.7" height="2.5" fill="#ba2832"/><rect x="122.3" y="189.5" width="9.1" height="2.5" fill="#c43b3c"/><rect x="95.8" y="187.3" width="13.5" height="2.5" fill="#c43b3c"/><rect x="109" y="187.3" width="2.5" height="2.5" fill="#ba2832"/><rect x="111.2" y="187.3" width="4.7" height="2.5" fill="#c43b3c"/><rect x="115.7" y="187.3" width="2.5" height="2.5" fill="#ba2832"/><rect x="117.9" y="187.3" width="2.5" height="2.5" fill="#d6604d"/><rect x="120.1" y="187.3" width="4.7" height="2.5" fill="#cc4c44"/><rect x="124.5" y="187.3" width="2.5" height="2.5" fill="#ba2832"/><rect x="126.7" y="187.3" width="4.7" height="2.5" fill="#c43b3c"/><rect x="95.8" y="185.1" width="2.5" height="2.5" fill="#c43b3c"/><rect x="98" y="185.1" width="4.7" height="2.5" fill="#cc4c44"/><rect x="102.4" y="185.1" width="4.7" height="2.5" fill="#c43b3c"/><rect x="106.8" y="185.1" width="6.9" height="2.5" fill="#cc4c44"/><rect x="113.5" y="185.1" width="2.5" height="2.5" fill="#ba2832"/><rect x="115.7" y="185.1" width="4.7" height="2.5" fill="#cc4c44"/><rect x="120.1" y="185.1" width="2.5" height="2.5" fill="#c43b3c"/><rect x="122.3" y="185.1" width="2.5" height="2.5" fill="#ba2832"/><rect x="124.5" y="185.1" width="6.9" height="2.5" fill="#c43b3c"/><rect x="95.8" y="182.9" width="2.5" height="2.5" fill="#ba2832"/><rect x="98" y="182.9" width="2.5" height="2.5" fill="#c43b3c"/><rect x="100.2" y="182.9" width="2.5" height="2.5" fill="#cc4c44"/><rect x="102.4" y="182.9" width="4.7" height="2.5" fill="#ba2832"/><rect x="106.8" y="182.9" width="6.9" height="2.5" fill="#c43b3c"/><rect x="113.5" y="182.9" width="2.5" height="2.5" fill="#b1182b"/><rect x="115.7" y="182.9" width="4.7" height="2.5" fill="#c43b3c"/><rect x="120.1" y="182.9" width="6.9" height="2.5" fill="#cc4c44"/><rect x="126.7" y="182.9" width="4.7" height="2.5" fill="#c43b3c"/><rect x="113.5" y="180.7" width="2.5" height="2.5" fill="#c43b3c"/><rect x="113.5" y="178.5" width="2.5" height="2.5" fill="#c43b3c"/></g>
<clipPath id="mapclip"><rect x="47.2" y="165.2" width="156.8" height="156.8"/></clipPath>
<line x1="96.5" y1="160" x2="164.3" y2="325" stroke="#000" stroke-width="1.4" clip-path="url(#mapclip)"/>
<path d="M120.5 243.3H128.9M124.7 239.1V247.5" stroke="#ff7f0e" stroke-width="2.6"/>
<path d="M127.9 243.3H136.3M132.1 239.1V247.5" stroke="#000" stroke-width="2.6"/>
<rect x="166.4" y="291" width="37.3" height="30.6" rx="1.5" fill="#fff" fill-opacity="0.8" stroke="#d0d0d0" stroke-width="0.6"/>
<path d="M170.6 296.2H178.6M174.6 292.2V300.2" stroke="#000" stroke-width="2.4"/>
<line x1="168.8" y1="304.5" x2="180.5" y2="304.5" stroke="#000" stroke-width="0.9" />
<path d="M170.6 313.3H178.6M174.6 309.3V317.3" stroke="#ff7f0e" stroke-width="2.4"/>
<text x="184.8" y="298.3" font-size="6.57" text-anchor="start" font-family="'Liberation Sans', sans-serif" fill="#000" textLength="9.13" lengthAdjust="spacingAndGlyphs" >GC</text>
<text x="184.8" y="306.8" font-size="6.57" text-anchor="start" font-family="'Liberation Sans', sans-serif" fill="#000" textLength="7.58" lengthAdjust="spacingAndGlyphs" >PA</text>
<text x="184.8" y="315.8" font-size="6.57" text-anchor="start" font-family="'Liberation Sans', sans-serif" fill="#000" textLength="13.7" lengthAdjust="spacingAndGlyphs" >QSO</text>
<text x="55" y="181.6" font-size="8.48" text-anchor="start" font-family="'Liberation Sans', sans-serif" fill="#000" textLength="38.52" lengthAdjust="spacingAndGlyphs" >1-385099</text>
<rect x="47.2" y="165.2" width="156.8" height="156.8" fill="none" stroke="#777" stroke-width="0.8"/>
<path d="M44.7 322h2.5M44.7 299.9h2.5M44.7 277.8h2.5M44.7 255.7h2.5M44.7 233.7h2.5M44.7 211.6h2.5M44.7 189.5h2.5M44.7 167.4h2.5M47.2 322v2.5M91.4 322v2.5M135.5 322v2.5M179.7 322v2.5" stroke="#222" stroke-width="0.7" fill="none"/>
<text x="47.2" y="331.5" font-size="8.48" text-anchor="middle" font-family="'Liberation Sans', sans-serif" fill="#000" textLength="5.09" lengthAdjust="spacingAndGlyphs" >0</text>
<text x="91.37" y="331.5" font-size="8.48" text-anchor="middle" font-family="'Liberation Sans', sans-serif" fill="#000" textLength="10.18" lengthAdjust="spacingAndGlyphs" >20</text>
<text x="135.54" y="331.5" font-size="8.48" text-anchor="middle" font-family="'Liberation Sans', sans-serif" fill="#000" textLength="10.18" lengthAdjust="spacingAndGlyphs" >40</text>
<text x="179.71" y="331.5" font-size="8.48" text-anchor="middle" font-family="'Liberation Sans', sans-serif" fill="#000" textLength="10.18" lengthAdjust="spacingAndGlyphs" >60</text>
<text x="44.2" y="325.9" font-size="8.48" text-anchor="end" font-family="'Liberation Sans', sans-serif" fill="#000" textLength="5.09" lengthAdjust="spacingAndGlyphs" >0</text>
<text x="44.2" y="303.82" font-size="8.48" text-anchor="end" font-family="'Liberation Sans', sans-serif" fill="#000" textLength="10.18" lengthAdjust="spacingAndGlyphs" >10</text>
<text x="44.2" y="281.73" font-size="8.48" text-anchor="end" font-family="'Liberation Sans', sans-serif" fill="#000" textLength="10.18" lengthAdjust="spacingAndGlyphs" >20</text>
<text x="44.2" y="259.65" font-size="8.48" text-anchor="end" font-family="'Liberation Sans', sans-serif" fill="#000" textLength="10.18" lengthAdjust="spacingAndGlyphs" >30</text>
<text x="44.2" y="237.56" font-size="8.48" text-anchor="end" font-family="'Liberation Sans', sans-serif" fill="#000" textLength="10.18" lengthAdjust="spacingAndGlyphs" >40</text>
<text x="44.2" y="215.48" font-size="8.48" text-anchor="end" font-family="'Liberation Sans', sans-serif" fill="#000" textLength="10.18" lengthAdjust="spacingAndGlyphs" >50</text>
<text x="44.2" y="193.39" font-size="8.48" text-anchor="end" font-family="'Liberation Sans', sans-serif" fill="#000" textLength="10.18" lengthAdjust="spacingAndGlyphs" >60</text>
<text x="44.2" y="171.31" font-size="8.48" text-anchor="end" font-family="'Liberation Sans', sans-serif" fill="#000" textLength="10.18" lengthAdjust="spacingAndGlyphs" >70</text>
<text x="125.6" y="162.6" font-size="8.48" text-anchor="middle" font-family="'Liberation Sans', sans-serif" fill="#000" textLength="86.95" lengthAdjust="spacingAndGlyphs" >Stellar Radial Velocity</text>
<text x="125.6" y="341.5" font-size="8.48" text-anchor="middle" font-family="'Liberation Sans', sans-serif" fill="#000" textLength="79.79" lengthAdjust="spacingAndGlyphs" >Declination (spaxel)</text>
<text x="30.3" y="243.6" font-size="8.48" text-anchor="middle" font-family="'Liberation Sans', sans-serif" fill="#000" textLength="96.02" lengthAdjust="spacingAndGlyphs" transform="rotate(-90 30.3 243.6)">Right Ascension(spaxel)</text>
<defs><linearGradient id="cbar" x1="0" y1="0" x2="0" y2="1"><stop offset="0.00" stop-color="#67001f"/><stop offset="0.05" stop-color="#8a0b25"/><stop offset="0.10" stop-color="#b1182b"/><stop offset="0.15" stop-color="#c43b3c"/><stop offset="0.20" stop-color="#d6604d"/><stop offset="0.25" stop-color="#e48066"/><stop offset="0.30" stop-color="#f3a481"/><stop offset="0.35" stop-color="#f8bfa4"/><stop offset="0.40" stop-color="#fddbc7"/><stop offset="0.45" stop-color="#fae9df"/><stop offset="0.50" stop-color="#f7f6f6"/><stop offset="0.55" stop-color="#e4eef4"/><stop offset="0.60" stop-color="#d1e5f0"/><stop offset="0.65" stop-color="#b1d5e7"/><stop offset="0.70" stop-color="#90c4dd"/><stop offset="0.75" stop-color="#6bacd1"/><stop offset="0.80" stop-color="#4393c3"/><stop offset="0.85" stop-color="#327cb7"/><stop offset="0.90" stop-color="#2065ab"/><stop offset="0.95" stop-color="#124984"/><stop offset="1.00" stop-color="#053061"/></linearGradient></defs>
<rect x="214.4" y="165.2" width="8" height="156.6" fill="url(#cbar)"/>
<text x="233.8" y="169.4" font-size="8.48" text-anchor="middle" font-family="'Liberation Sans', sans-serif" fill="#000" textLength="15.27" lengthAdjust="spacingAndGlyphs" >150</text>
<text x="233.8" y="195.5" font-size="8.48" text-anchor="middle" font-family="'Liberation Sans', sans-serif" fill="#000" textLength="15.27" lengthAdjust="spacingAndGlyphs" >100</text>
<text x="233.8" y="221.6" font-size="8.48" text-anchor="middle" font-family="'Liberation Sans', sans-serif" fill="#000" textLength="10.18" lengthAdjust="spacingAndGlyphs" >50</text>
<text x="233.8" y="247.7" font-size="8.48" text-anchor="middle" font-family="'Liberation Sans', sans-serif" fill="#000" textLength="5.09" lengthAdjust="spacingAndGlyphs" >0</text>
<text x="233.8" y="273.8" font-size="8.48" text-anchor="middle" font-family="'Liberation Sans', sans-serif" fill="#000" textLength="13.07" lengthAdjust="spacingAndGlyphs" >-50</text>
<text x="233.8" y="299.9" font-size="8.48" text-anchor="middle" font-family="'Liberation Sans', sans-serif" fill="#000" textLength="18.16" lengthAdjust="spacingAndGlyphs" >-100</text>
<text x="233.8" y="326" font-size="8.48" text-anchor="middle" font-family="'Liberation Sans', sans-serif" fill="#000" textLength="18.16" lengthAdjust="spacingAndGlyphs" >-150</text>
<text x="251.3" y="243.3" font-size="8.48" text-anchor="middle" font-family="'Liberation Sans', sans-serif" fill="#000" textLength="19.29" lengthAdjust="spacingAndGlyphs" transform="rotate(-90 251.3 243.3)">km/s</text>
<clipPath id="rotclip"><rect x="288.9" y="165.4" width="211.6" height="156.4"/></clipPath>
<g clip-path="url(#rotclip)">
<path d="M291.9 267V299.7M289.7 267h4.4M289.7 299.7h4.4M295.4 270.2V282M293.2 270.2h4.4M293.2 282h4.4M305.3 285.3V292.5M303.1 285.3h4.4M303.1 292.5h4.4M305.8 275.6V288.8M303.6 275.6h4.4M303.6 288.8h4.4M306.2 265.1V277.6M304 265.1h4.4M304 277.6h4.4M307.4 224.8V350.9M305.2 224.8h4.4M305.2 350.9h4.4M319.1 266.5V292.1M316.9 266.5h4.4M316.9 292.1h4.4M320.1 258.4V266.4M317.9 258.4h4.4M317.9 266.4h4.4M321 261.6V273.8M318.8 261.6h4.4M318.8 273.8h4.4M321.6 262.9V280.4M319.4 262.9h4.4M319.4 280.4h4.4M322.7 247.9V269.3M320.5 247.9h4.4M320.5 269.3h4.4M322.8 252.4V272M320.6 252.4h4.4M320.6 272h4.4M325.2 253.5V282.8M323 253.5h4.4M323 282.8h4.4M325.5 242.1V276.5M323.3 242.1h4.4M323.3 276.5h4.4M325.5 250V274.6M323.3 250h4.4M323.3 274.6h4.4M325.8 265V270.4M323.6 265h4.4M323.6 270.4h4.4M326.3 259.5V285.3M324.1 259.5h4.4M324.1 285.3h4.4M326.8 254.9V267.7M324.6 254.9h4.4M324.6 267.7h4.4M326.9 259.4V297.6M324.7 259.4h4.4M324.7 297.6h4.4M327 257.5V274.8M324.8 257.5h4.4M324.8 274.8h4.4M328.6 250.1V276.7M326.4 250.1h4.4M326.4 276.7h4.4M328.7 244.7V267.4M326.5 244.7h4.4M326.5 267.4h4.4M328.8 252.6V269.4M326.6 252.6h4.4M326.6 269.4h4.4M329.4 271.5V287.1M327.2 271.5h4.4M327.2 287.1h4.4M330.3 252.5V268.5M328.1 252.5h4.4M328.1 268.5h4.4M330.5 258.8V267.6M328.3 258.8h4.4M328.3 267.6h4.4M330.9 264.6V289M328.7 264.6h4.4M328.7 289h4.4M331.8 269.5V277.3M329.6 269.5h4.4M329.6 277.3h4.4M331.9 254.7V266.4M329.7 254.7h4.4M329.7 266.4h4.4M332.6 258.4V262.4M330.4 258.4h4.4M330.4 262.4h4.4M332.8 264.9V274.4M330.6 264.9h4.4M330.6 274.4h4.4M332.8 262.2V271.9M330.6 262.2h4.4M330.6 271.9h4.4M333.3 255.9V282.9M331.1 255.9h4.4M331.1 282.9h4.4M334.3 268.5V280.6M332.1 268.5h4.4M332.1 280.6h4.4M335.6 233.9V249.4M333.4 233.9h4.4M333.4 249.4h4.4M336.1 257.5V266.2M333.9 257.5h4.4M333.9 266.2h4.4M336.5 255.2V277.6M334.3 255.2h4.4M334.3 277.6h4.4M336.7 251.4V264.2M334.5 251.4h4.4M334.5 264.2h4.4M337.3 203.3V325.1M335.1 203.3h4.4M335.1 325.1h4.4M337.3 254.2V263.5M335.1 254.2h4.4M335.1 263.5h4.4M337.7 254.7V269.4M335.5 254.7h4.4M335.5 269.4h4.4M338.2 285.5V304.1M336 285.5h4.4M336 304.1h4.4M339 182.4V295.8M336.8 182.4h4.4M336.8 295.8h4.4M339.4 223.1V284.4M337.2 223.1h4.4M337.2 284.4h4.4M340 268.8V290.4M337.8 268.8h4.4M337.8 290.4h4.4M341 253.8V276.2M338.8 253.8h4.4M338.8 276.2h4.4M341.3 237.2V268M339.1 237.2h4.4M339.1 268h4.4M341.4 255.8V270M339.2 255.8h4.4M339.2 270h4.4M342.6 238.5V278.2M340.4 238.5h4.4M340.4 278.2h4.4M343.4 238.2V261.5M341.2 238.2h4.4M341.2 261.5h4.4M343.5 261.8V271.6M341.3 261.8h4.4M341.3 271.6h4.4M343.6 236.8V255.2M341.4 236.8h4.4M341.4 255.2h4.4M343.7 237.6V250.8M341.5 237.6h4.4M341.5 250.8h4.4M344.5 262.1V268.9M342.3 262.1h4.4M342.3 268.9h4.4M344.6 267V279.8M342.4 267h4.4M342.4 279.8h4.4M344.8 260.1V266.1M342.6 260.1h4.4M342.6 266.1h4.4M345.4 247.1V262.7M343.2 247.1h4.4M343.2 262.7h4.4M345.6 249.6V267M343.4 249.6h4.4M343.4 267h4.4M346.5 256.6V264.4M344.3 256.6h4.4M344.3 264.4h4.4M346.5 254.6V270.4M344.3 254.6h4.4M344.3 270.4h4.4M346.5 240.7V266.6M344.3 240.7h4.4M344.3 266.6h4.4M347 294V310M344.8 294h4.4M344.8 310h4.4M347.3 278.1V289.7M345.1 278.1h4.4M345.1 289.7h4.4M347.6 196.6V210.6M345.4 196.6h4.4M345.4 210.6h4.4M347.7 258.2V265.3M345.5 258.2h4.4M345.5 265.3h4.4M347.9 263.4V273.7M345.7 263.4h4.4M345.7 273.7h4.4M348.1 233.3V250M345.9 233.3h4.4M345.9 250h4.4M348.2 257.6V262.4M346 257.6h4.4M346 262.4h4.4M348.3 261.4V268.5M346.1 261.4h4.4M346.1 268.5h4.4M348.3 274.4V286.2M346.1 274.4h4.4M346.1 286.2h4.4M348.7 267V288.7M346.5 267h4.4M346.5 288.7h4.4M349.3 246.1V260M347.1 246.1h4.4M347.1 260h4.4M349.3 247.1V254.3M347.1 247.1h4.4M347.1 254.3h4.4M349.4 245V267.3M347.2 245h4.4M347.2 267.3h4.4M349.4 215.6V236.2M347.2 215.6h4.4M347.2 236.2h4.4M349.5 260.6V282M347.3 260.6h4.4M347.3 282h4.4M349.9 257.3V274.3M347.7 257.3h4.4M347.7 274.3h4.4M350 241.2V271M347.8 241.2h4.4M347.8 271h4.4M350.2 237.9V246.9M348 237.9h4.4M348 246.9h4.4M350.7 244.6V261.2M348.5 244.6h4.4M348.5 261.2h4.4M350.7 229.8V242.6M348.5 229.8h4.4M348.5 242.6h4.4M350.9 235.2V259M348.7 235.2h4.4M348.7 259h4.4M351 260.8V265.4M348.8 260.8h4.4M348.8 265.4h4.4M351.7 236.3V287.4M349.5 236.3h4.4M349.5 287.4h4.4M352.3 259V269.2M350.1 259h4.4M350.1 269.2h4.4M352.4 231.3V245.9M350.2 231.3h4.4M350.2 245.9h4.4M352.5 244.8V256.3M350.3 244.8h4.4M350.3 256.3h4.4M352.9 261.6V270.8M350.7 261.6h4.4M350.7 270.8h4.4M353.1 266.5V275.9M350.9 266.5h4.4M350.9 275.9h4.4M353.8 240.4V254.3M351.6 240.4h4.4M351.6 254.3h4.4M353.9 216V294.6M351.7 216h4.4M351.7 294.6h4.4M355.6 203.6V297.6M353.4 203.6h4.4M353.4 297.6h4.4M356.1 249.8V256.4M353.9 249.8h4.4M353.9 256.4h4.4M356.8 243.9V266.8M354.6 243.9h4.4M354.6 266.8h4.4M357.2 250.8V291.9M355 250.8h4.4M355 291.9h4.4M357.9 243.4V268.3M355.7 243.4h4.4M355.7 268.3h4.4M359.3 185V338.7M357.1 185h4.4M357.1 338.7h4.4M359.7 235.7V251.3M357.5 235.7h4.4M357.5 251.3h4.4M359.9 216.9V241.6M357.7 216.9h4.4M357.7 241.6h4.4M360.3 233.5V252.3M358.1 233.5h4.4M358.1 252.3h4.4M360.4 238.3V257.2M358.2 238.3h4.4M358.2 257.2h4.4M360.4 258.7V292.1M358.2 258.7h4.4M358.2 292.1h4.4M361.6 258.8V270.3M359.4 258.8h4.4M359.4 270.3h4.4M361.6 255.7V265.2M359.4 255.7h4.4M359.4 265.2h4.4M361.7 249.8V274.5M359.5 249.8h4.4M359.5 274.5h4.4M361.7 251.9V260.6M359.5 251.9h4.4M359.5 260.6h4.4M362.3 260.7V267.4M360.1 260.7h4.4M360.1 267.4h4.4M362.7 247.3V257.8M360.5 247.3h4.4M360.5 257.8h4.4M363.3 218.7V344.9M361.1 218.7h4.4M361.1 344.9h4.4M365.1 253.2V263.3M362.9 253.2h4.4M362.9 263.3h4.4M365.4 263V281.4M363.2 263h4.4M363.2 281.4h4.4M365.9 266.4V287.6M363.7 266.4h4.4M363.7 287.6h4.4M366.6 237.7V275.7M364.4 237.7h4.4M364.4 275.7h4.4M367 268.2V278.3M364.8 268.2h4.4M364.8 278.3h4.4M367.1 255.6V271.6M364.9 255.6h4.4M364.9 271.6h4.4M367.3 258.5V264.3M365.1 258.5h4.4M365.1 264.3h4.4M367.6 202.7V284M365.4 202.7h4.4M365.4 284h4.4M368 259.6V271.4M365.8 259.6h4.4M365.8 271.4h4.4M368.1 226.5V246.1M365.9 226.5h4.4M365.9 246.1h4.4M368.5 234.3V265.1M366.3 234.3h4.4M366.3 265.1h4.4M370.4 253.1V262.8M368.2 253.1h4.4M368.2 262.8h4.4M370.5 250.5V276.3M368.3 250.5h4.4M368.3 276.3h4.4M370.8 233V276.5M368.6 233h4.4M368.6 276.5h4.4M371.3 240.6V261M369.1 240.6h4.4M369.1 261h4.4M371.3 269.3V283.7M369.1 269.3h4.4M369.1 283.7h4.4M371.4 252.8V269.6M369.2 252.8h4.4M369.2 269.6h4.4M372 215.6V311.8M369.8 215.6h4.4M369.8 311.8h4.4M372.4 302.3V319.8M370.2 302.3h4.4M370.2 319.8h4.4M372.4 198.9V347.1M370.2 198.9h4.4M370.2 347.1h4.4M372.4 252.5V271.8M370.2 252.5h4.4M370.2 271.8h4.4M372.4 267.5V276.9M370.2 267.5h4.4M370.2 276.9h4.4M372.5 261.4V267.3M370.3 261.4h4.4M370.3 267.3h4.4M373.1 250.7V261.1M370.9 250.7h4.4M370.9 261.1h4.4M373.3 254.6V264.4M371.1 254.6h4.4M371.1 264.4h4.4M373.4 263.6V289.3M371.2 263.6h4.4M371.2 289.3h4.4M374.4 251.2V257.8M372.2 251.2h4.4M372.2 257.8h4.4M375.2 241.7V257M373 241.7h4.4M373 257h4.4M375.6 253.4V276.5M373.4 253.4h4.4M373.4 276.5h4.4M376.1 220.5V236M373.9 220.5h4.4M373.9 236h4.4M376.4 267.8V277.5M374.2 267.8h4.4M374.2 277.5h4.4M376.9 237.9V264.4M374.7 237.9h4.4M374.7 264.4h4.4M377.1 230.2V241M374.9 230.2h4.4M374.9 241h4.4M377.3 219.4V298.4M375.1 219.4h4.4M375.1 298.4h4.4M378.3 245.8V256.4M376.1 245.8h4.4M376.1 256.4h4.4M378.9 270.5V280.3M376.7 270.5h4.4M376.7 280.3h4.4M379 253.7V274.7M376.8 253.7h4.4M376.8 274.7h4.4M379.2 250V257.2M377 250h4.4M377 257.2h4.4M379.6 266.8V284.6M377.4 266.8h4.4M377.4 284.6h4.4M380.1 234.7V252.7M377.9 234.7h4.4M377.9 252.7h4.4M380.1 233V241M377.9 233h4.4M377.9 241h4.4M380.5 237.1V249.4M378.3 237.1h4.4M378.3 249.4h4.4M380.5 231.8V254.9M378.3 231.8h4.4M378.3 254.9h4.4M381.5 264V274M379.3 264h4.4M379.3 274h4.4M381.7 240.4V266.4M379.5 240.4h4.4M379.5 266.4h4.4M382.4 261.8V269.5M380.2 261.8h4.4M380.2 269.5h4.4M382.6 270.1V299.3M380.4 270.1h4.4M380.4 299.3h4.4M382.8 246.9V265.9M380.6 246.9h4.4M380.6 265.9h4.4M383 259.4V270.3M380.8 259.4h4.4M380.8 270.3h4.4M383.1 248.8V261.8M380.9 248.8h4.4M380.9 261.8h4.4M383.2 246.6V258M381 246.6h4.4M381 258h4.4M383.2 244.7V256.2M381 244.7h4.4M381 256.2h4.4M383.4 263.5V275.8M381.2 263.5h4.4M381.2 275.8h4.4M383.5 258.7V261.4M381.3 258.7h4.4M381.3 261.4h4.4M384.4 256.1V266.9M382.2 256.1h4.4M382.2 266.9h4.4M385.3 258.6V267.5M383.1 258.6h4.4M383.1 267.5h4.4M385.7 259.3V265.4M383.5 259.3h4.4M383.5 265.4h4.4M386.1 239V256.7M383.9 239h4.4M383.9 256.7h4.4M386.3 271.7V282.1M384.1 271.7h4.4M384.1 282.1h4.4M387.1 208.1V317.2M384.9 208.1h4.4M384.9 317.2h4.4M387.2 285.5V296.2M385 285.5h4.4M385 296.2h4.4M387.6 207.1V325M385.4 207.1h4.4M385.4 325h4.4M387.6 221.3V342.5M385.4 221.3h4.4M385.4 342.5h4.4M388 243.3V268.8M385.8 243.3h4.4M385.8 268.8h4.4M388.3 277.6V285.2M386.1 277.6h4.4M386.1 285.2h4.4M389.1 239V278.2M386.9 239h4.4M386.9 278.2h4.4M389.5 259.8V265.3M387.3 259.8h4.4M387.3 265.3h4.4M390 253.9V275.8M387.8 253.9h4.4M387.8 275.8h4.4M391.6 261.8V269.8M389.4 261.8h4.4M389.4 269.8h4.4M391.7 239.6V288.7M389.5 239.6h4.4M389.5 288.7h4.4M392.6 262.1V267.1M390.4 262.1h4.4M390.4 267.1h4.4M392.6 246.1V270M390.4 246.1h4.4M390.4 270h4.4M393.5 240.4V254.2M391.3 240.4h4.4M391.3 254.2h4.4M393.6 245.5V261.7M391.4 245.5h4.4M391.4 261.7h4.4M393.6 245.5V259.1M391.4 245.5h4.4M391.4 259.1h4.4M393.8 240.4V252.8M391.6 240.4h4.4M391.6 252.8h4.4M393.9 266.4V274.1M391.7 266.4h4.4M391.7 274.1h4.4M393.9 286.8V307.2M391.7 286.8h4.4M391.7 307.2h4.4M394 239.9V252.4M391.8 239.9h4.4M391.8 252.4h4.4M394.8 251.9V263.9M392.6 251.9h4.4M392.6 263.9h4.4M395.1 227.5V336.1M392.9 227.5h4.4M392.9 336.1h4.4M395.4 264.3V272.5M393.2 264.3h4.4M393.2 272.5h4.4M395.9 261.3V275.9M393.7 261.3h4.4M393.7 275.9h4.4M396.4 231.8V255M394.2 231.8h4.4M394.2 255h4.4M397.4 210.2V262.4M395.2 210.2h4.4M395.2 262.4h4.4M397.5 265.2V279.5M395.3 265.2h4.4M395.3 279.5h4.4M398 205.4V278.8M395.8 205.4h4.4M395.8 278.8h4.4M399.1 262.4V288.1M396.9 262.4h4.4M396.9 288.1h4.4M399.1 257.4V264M396.9 257.4h4.4M396.9 264h4.4M399.5 261.7V285.5M397.3 261.7h4.4M397.3 285.5h4.4M400.1 262.9V268.9M397.9 262.9h4.4M397.9 268.9h4.4M400.2 244.3V257.3M398 244.3h4.4M398 257.3h4.4M401.2 242.9V253M399 242.9h4.4M399 253h4.4M401.3 237.5V258.6M399.1 237.5h4.4M399.1 258.6h4.4M401.3 250.5V265.6M399.1 250.5h4.4M399.1 265.6h4.4M401.4 239.7V286.4M399.2 239.7h4.4M399.2 286.4h4.4M401.6 204.2V343.3M399.4 204.2h4.4M399.4 343.3h4.4M401.8 270.8V287.8M399.6 270.8h4.4M399.6 287.8h4.4M402 255.2V268.7M399.8 255.2h4.4M399.8 268.7h4.4M402.5 244.6V264.2M400.3 244.6h4.4M400.3 264.2h4.4M403.3 252.9V274M401.1 252.9h4.4M401.1 274h4.4M404.3 252.6V264M402.1 252.6h4.4M402.1 264h4.4M404.5 258.8V275.3M402.3 258.8h4.4M402.3 275.3h4.4M404.5 264.4V282.1M402.3 264.4h4.4M402.3 282.1h4.4M404.6 262.5V271.7M402.4 262.5h4.4M402.4 271.7h4.4M405 268.6V281.7M402.8 268.6h4.4M402.8 281.7h4.4M405.9 192.2V322M403.7 192.2h4.4M403.7 322h4.4M406.4 233.2V281.3M404.2 233.2h4.4M404.2 281.3h4.4M406.5 268.1V282.9M404.3 268.1h4.4M404.3 282.9h4.4M407.2 262.1V288M405 262.1h4.4M405 288h4.4M407.3 243.7V267.3M405.1 243.7h4.4M405.1 267.3h4.4M407.5 257.1V275.2M405.3 257.1h4.4M405.3 275.2h4.4M407.9 240.5V254.4M405.7 240.5h4.4M405.7 254.4h4.4M408.1 259.8V274.2M405.9 259.8h4.4M405.9 274.2h4.4M408.3 268.7V291.9M406.1 268.7h4.4M406.1 291.9h4.4M409.2 240.4V253.7M407 240.4h4.4M407 253.7h4.4M409.3 242.5V265.5M407.1 242.5h4.4M407.1 265.5h4.4M409.3 185.4V303.2M407.1 185.4h4.4M407.1 303.2h4.4M409.6 244.3V303.1M407.4 244.3h4.4M407.4 303.1h4.4M409.6 205.4V329.2M407.4 205.4h4.4M407.4 329.2h4.4M410 251V261.8M407.8 251h4.4M407.8 261.8h4.4M410.2 289.7V300.7M408 289.7h4.4M408 300.7h4.4M410.3 244.8V250.8M408.1 244.8h4.4M408.1 250.8h4.4M410.5 268.1V276.2M408.3 268.1h4.4M408.3 276.2h4.4M410.5 229.9V278.5M408.3 229.9h4.4M408.3 278.5h4.4M410.7 261.4V273.8M408.5 261.4h4.4M408.5 273.8h4.4M411 247.4V272.4M408.8 247.4h4.4M408.8 272.4h4.4M411.1 194.1V317.3M408.9 194.1h4.4M408.9 317.3h4.4M411.2 253.7V267.2M409 253.7h4.4M409 267.2h4.4M411.3 264.7V284.6M409.1 264.7h4.4M409.1 284.6h4.4M411.4 192.1V324.5M409.2 192.1h4.4M409.2 324.5h4.4M412.3 256.4V280.1M410.1 256.4h4.4M410.1 280.1h4.4M412.5 202.2V231.9M410.3 202.2h4.4M410.3 231.9h4.4M412.8 252.5V265.4M410.6 252.5h4.4M410.6 265.4h4.4M413 263.9V286.1M410.8 263.9h4.4M410.8 286.1h4.4M413.2 254.1V263.8M411 254.1h4.4M411 263.8h4.4M413.6 249.5V266.3M411.4 249.5h4.4M411.4 266.3h4.4M414.8 269.6V281.6M412.6 269.6h4.4M412.6 281.6h4.4M415.2 263.9V277.1M413 263.9h4.4M413 277.1h4.4M415.5 246V267.8M413.3 246h4.4M413.3 267.8h4.4M416.5 242.4V259.3M414.3 242.4h4.4M414.3 259.3h4.4M417.1 266.6V279.1M414.9 266.6h4.4M414.9 279.1h4.4M417.1 268.9V275.2M414.9 268.9h4.4M414.9 275.2h4.4M417.2 254.3V258.1M415 254.3h4.4M415 258.1h4.4M417.5 251.4V267.6M415.3 251.4h4.4M415.3 267.6h4.4M419.8 252.3V270.3M417.6 252.3h4.4M417.6 270.3h4.4M419.8 271.6V282.2M417.6 271.6h4.4M417.6 282.2h4.4M420.1 268.7V282.4M417.9 268.7h4.4M417.9 282.4h4.4M420.5 263.2V273.6M418.3 263.2h4.4M418.3 273.6h4.4M420.6 255.8V272M418.4 255.8h4.4M418.4 272h4.4M420.8 258.1V280.1M418.6 258.1h4.4M418.6 280.1h4.4M421 241.2V277.3M418.8 241.2h4.4M418.8 277.3h4.4M421.3 244.2V267.5M419.1 244.2h4.4M419.1 267.5h4.4M421.6 255V269.4M419.4 255h4.4M419.4 269.4h4.4M422.3 235.2V291.3M420.1 235.2h4.4M420.1 291.3h4.4M422.8 269.5V274.7M420.6 269.5h4.4M420.6 274.7h4.4M424.1 261.5V269.1M421.9 261.5h4.4M421.9 269.1h4.4M424.1 315.3V332.9M421.9 315.3h4.4M421.9 332.9h4.4M424.3 250.1V272.6M422.1 250.1h4.4M422.1 272.6h4.4M425.9 231.1V244.8M423.7 231.1h4.4M423.7 244.8h4.4M426.3 245.6V262.9M424.1 245.6h4.4M424.1 262.9h4.4M426.8 262.2V289.4M424.6 262.2h4.4M424.6 289.4h4.4M426.8 268V277.4M424.6 268h4.4M424.6 277.4h4.4M427 253.9V266.2M424.8 253.9h4.4M424.8 266.2h4.4M427.5 264.3V271.7M425.3 264.3h4.4M425.3 271.7h4.4M428.1 261.4V269.2M425.9 261.4h4.4M425.9 269.2h4.4M428.3 264.8V274.5M426.1 264.8h4.4M426.1 274.5h4.4M428.7 223.4V301.1M426.5 223.4h4.4M426.5 301.1h4.4M429 236.7V247.6M426.8 236.7h4.4M426.8 247.6h4.4M429.5 249.3V270.2M427.3 249.3h4.4M427.3 270.2h4.4M429.9 227.5V237.7M427.7 227.5h4.4M427.7 237.7h4.4M430 259.2V266.8M427.8 259.2h4.4M427.8 266.8h4.4M430.3 255.2V271.5M428.1 255.2h4.4M428.1 271.5h4.4M431.3 266.4V286.3M429.1 266.4h4.4M429.1 286.3h4.4M431.6 257.1V259.6M429.4 257.1h4.4M429.4 259.6h4.4M432.9 271.8V293.5M430.7 271.8h4.4M430.7 293.5h4.4M433.2 263.5V267.7M431 263.5h4.4M431 267.7h4.4M434.6 262.9V273M432.4 262.9h4.4M432.4 273h4.4M434.8 258.3V281.9M432.6 258.3h4.4M432.6 281.9h4.4M435.1 240.6V261.9M432.9 240.6h4.4M432.9 261.9h4.4M435.2 243.6V275.1M433 243.6h4.4M433 275.1h4.4M435.5 263.5V290.5M433.3 263.5h4.4M433.3 290.5h4.4M435.8 243.8V278.6M433.6 243.8h4.4M433.6 278.6h4.4M436.2 239.3V255.3M434 239.3h4.4M434 255.3h4.4M436.6 253.9V262.7M434.4 253.9h4.4M434.4 262.7h4.4M437.1 274V291.3M434.9 274h4.4M434.9 291.3h4.4M438.7 252.6V258.4M436.5 252.6h4.4M436.5 258.4h4.4M439.8 268.1V286.1M437.6 268.1h4.4M437.6 286.1h4.4M440 266.7V284.8M437.8 266.7h4.4M437.8 284.8h4.4M440.9 222V276.7M438.7 222h4.4M438.7 276.7h4.4M441.3 265V272M439.1 265h4.4M439.1 272h4.4M441.8 255.2V265.5M439.6 255.2h4.4M439.6 265.5h4.4M441.8 247.9V272.3M439.6 247.9h4.4M439.6 272.3h4.4M442.3 248V258.1M440.1 248h4.4M440.1 258.1h4.4M442.6 244.1V257.7M440.4 244.1h4.4M440.4 257.7h4.4M442.8 266.7V272.8M440.6 266.7h4.4M440.6 272.8h4.4M443.3 244.6V264.9M441.1 244.6h4.4M441.1 264.9h4.4M443.4 252.1V269.8M441.2 252.1h4.4M441.2 269.8h4.4M443.5 253V259.8M441.3 253h4.4M441.3 259.8h4.4M443.6 245.4V269M441.4 245.4h4.4M441.4 269h4.4M443.8 252.3V269.6M441.6 252.3h4.4M441.6 269.6h4.4M444 254.9V261.8M441.8 254.9h4.4M441.8 261.8h4.4M444.9 250.5V275.4M442.7 250.5h4.4M442.7 275.4h4.4M445 262.1V283.2M442.8 262.1h4.4M442.8 283.2h4.4M445.2 247.6V279.2M443 247.6h4.4M443 279.2h4.4M445.3 244.7V269.4M443.1 244.7h4.4M443.1 269.4h4.4M446.1 276.5V292M443.9 276.5h4.4M443.9 292h4.4M447.7 274.5V287.8M445.5 274.5h4.4M445.5 287.8h4.4M447.9 261.7V275.1M445.7 261.7h4.4M445.7 275.1h4.4M448.2 239.3V243.2M446 239.3h4.4M446 243.2h4.4M449.2 244.8V262.7M447 244.8h4.4M447 262.7h4.4M450.5 265.5V291.2M448.3 265.5h4.4M448.3 291.2h4.4M450.6 257.6V263.7M448.4 257.6h4.4M448.4 263.7h4.4M451.3 263.5V278M449.1 263.5h4.4M449.1 278h4.4M451.4 226.9V305.6M449.2 226.9h4.4M449.2 305.6h4.4M452.6 209.7V308.7M450.4 209.7h4.4M450.4 308.7h4.4M454.1 258.7V298.9M451.9 258.7h4.4M451.9 298.9h4.4M454.3 260.2V289M452.1 260.2h4.4M452.1 289h4.4M454.8 264.5V277.6M452.6 264.5h4.4M452.6 277.6h4.4M454.8 204.9V334.7M452.6 204.9h4.4M452.6 334.7h4.4M455.5 253.8V282.4M453.3 253.8h4.4M453.3 282.4h4.4M455.8 202.7V327.8M453.6 202.7h4.4M453.6 327.8h4.4M456 248.2V258.2M453.8 248.2h4.4M453.8 258.2h4.4M457.2 270.4V283.3M455 270.4h4.4M455 283.3h4.4M457.4 273.1V290.7M455.2 273.1h4.4M455.2 290.7h4.4M457.7 265.2V290.6M455.5 265.2h4.4M455.5 290.6h4.4M460.9 232.2V274.9M458.7 232.2h4.4M458.7 274.9h4.4M461.1 269.8V281.2M458.9 269.8h4.4M458.9 281.2h4.4M461.5 274.1V284.4M459.3 274.1h4.4M459.3 284.4h4.4M461.6 255.7V261M459.4 255.7h4.4M459.4 261h4.4M462.1 257.5V262.5M459.9 257.5h4.4M459.9 262.5h4.4M462.7 255.9V277.8M460.5 255.9h4.4M460.5 277.8h4.4M462.7 258.8V272.7M460.5 258.8h4.4M460.5 272.7h4.4M464.4 267.9V274.6M462.2 267.9h4.4M462.2 274.6h4.4M464.5 240.4V286.9M462.3 240.4h4.4M462.3 286.9h4.4M464.6 267.7V284.4M462.4 267.7h4.4M462.4 284.4h4.4M466.2 254.7V287.7M464 254.7h4.4M464 287.7h4.4M466.5 255.2V264.4M464.3 255.2h4.4M464.3 264.4h4.4M467.2 240.8V246.3M465 240.8h4.4M465 246.3h4.4M467.8 261.1V295M465.6 261.1h4.4M465.6 295h4.4M468.4 227.8V247M466.2 227.8h4.4M466.2 247h4.4M469.6 258.4V293.3M467.4 258.4h4.4M467.4 293.3h4.4M471.6 252.9V264.9M469.4 252.9h4.4M469.4 264.9h4.4M472.3 274.8V294.1M470.1 274.8h4.4M470.1 294.1h4.4M472.9 268.2V284.1M470.7 268.2h4.4M470.7 284.1h4.4M473 310.4V314.8M470.8 310.4h4.4M470.8 314.8h4.4M474.2 252V275.5M472 252h4.4M472 275.5h4.4M476.3 271.1V282.5M474.1 271.1h4.4M474.1 282.5h4.4M477.2 259.5V280.9M475 259.5h4.4M475 280.9h4.4M477.3 251V262.6M475.1 251h4.4M475.1 262.6h4.4M477.8 266.1V288.5M475.6 266.1h4.4M475.6 288.5h4.4M478 255.8V265.7M475.8 255.8h4.4M475.8 265.7h4.4M478.1 275.2V288.9M475.9 275.2h4.4M475.9 288.9h4.4M478.5 261V270.9M476.3 261h4.4M476.3 270.9h4.4M479.2 269.2V297.9M477 269.2h4.4M477 297.9h4.4M479.4 258.1V302.9M477.2 258.1h4.4M477.2 302.9h4.4M481.6 271.9V284M479.4 271.9h4.4M479.4 284h4.4M481.7 255.3V265.1M479.5 255.3h4.4M479.5 265.1h4.4M481.8 249.5V259.3M479.6 249.5h4.4M479.6 259.3h4.4M481.8 266.9V285.3M479.6 266.9h4.4M479.6 285.3h4.4M481.8 260.8V272.9M479.6 260.8h4.4M479.6 272.9h4.4M482.2 258.7V264.9M480 258.7h4.4M480 264.9h4.4M483.6 266.7V280M481.4 266.7h4.4M481.4 280h4.4M483.8 258.5V273.5M481.6 258.5h4.4M481.6 273.5h4.4M484.6 250V279.4M482.4 250h4.4M482.4 279.4h4.4M484.8 264.1V271.8M482.6 264.1h4.4M482.6 271.8h4.4M485.1 265.2V278.5M482.9 265.2h4.4M482.9 278.5h4.4M485.3 243.3V271M483.1 243.3h4.4M483.1 271h4.4M486.1 255.6V270M483.9 255.6h4.4M483.9 270h4.4M487.3 303.3V315.9M485.1 303.3h4.4M485.1 315.9h4.4M487.8 269.7V280.9M485.6 269.7h4.4M485.6 280.9h4.4M488.9 237.5V303.7M486.7 237.5h4.4M486.7 303.7h4.4M489 269.8V282.1M486.8 269.8h4.4M486.8 282.1h4.4M489 249V271.6M486.8 249h4.4M486.8 271.6h4.4M489.3 257V273M487.1 257h4.4M487.1 273h4.4M490.2 258V280.5M488 258h4.4M488 280.5h4.4M490.8 251.7V274.6M488.6 251.7h4.4M488.6 274.6h4.4M493.2 267.4V291.7M491 267.4h4.4M491 291.7h4.4M493.9 264.6V269.3M491.7 264.6h4.4M491.7 269.3h4.4M494.1 249.7V269.7M491.9 249.7h4.4M491.9 269.7h4.4M494.7 263.7V275M492.5 263.7h4.4M492.5 275h4.4M494.7 263V291.4M492.5 263h4.4M492.5 291.4h4.4M495.2 239.4V266.9M493 239.4h4.4M493 266.9h4.4M496 261V268.9M493.8 261h4.4M493.8 268.9h4.4M496.6 255.4V261.6M494.4 255.4h4.4M494.4 261.6h4.4M497 244.5V277M494.8 244.5h4.4M494.8 277h4.4M497 257.4V284.9M494.8 257.4h4.4M494.8 284.9h4.4M498.2 272.4V282.8M496 272.4h4.4M496 282.8h4.4M498.9 264.9V278M496.7 264.9h4.4M496.7 278h4.4" stroke="#888" stroke-width="0.6" fill="none"/>
<path d="M293.1 276.1V284.7M290.9 276.1h4.4M290.9 284.7h4.4M294.8 268.3V290.3M292.6 268.3h4.4M292.6 290.3h4.4M294.8 279.3V294.2M292.6 279.3h4.4M292.6 294.2h4.4M294.9 267.8V280.6M292.7 267.8h4.4M292.7 280.6h4.4M295.1 272.1V300.6M292.9 272.1h4.4M292.9 300.6h4.4M297.1 272.1V305.2M294.9 272.1h4.4M294.9 305.2h4.4M298 271.4V283.4M295.8 271.4h4.4M295.8 283.4h4.4M299.2 279.2V287.6M297 279.2h4.4M297 287.6h4.4M301.5 265.8V288.9M299.3 265.8h4.4M299.3 288.9h4.4M301.9 278.1V284.2M299.7 278.1h4.4M299.7 284.2h4.4M306.2 267.5V282.1M304 267.5h4.4M304 282.1h4.4M307.3 281.5V286.1M305.1 281.5h4.4M305.1 286.1h4.4M308.5 269.6V289.5M306.3 269.6h4.4M306.3 289.5h4.4M308.8 265.1V285.4M306.6 265.1h4.4M306.6 285.4h4.4M309.4 273.7V281.7M307.2 273.7h4.4M307.2 281.7h4.4M310.7 226V330.5M308.5 226h4.4M308.5 330.5h4.4M310.9 259.1V275.7M308.7 259.1h4.4M308.7 275.7h4.4M314.4 251.3V278.2M312.2 251.3h4.4M312.2 278.2h4.4M314.8 298.1V307.6M312.6 298.1h4.4M312.6 307.6h4.4M315.2 237.6V316.9M313 237.6h4.4M313 316.9h4.4M316.7 263.5V275.8M314.5 263.5h4.4M314.5 275.8h4.4M318.5 253.4V288.2M316.3 253.4h4.4M316.3 288.2h4.4M321.9 213.6V301.4M319.7 213.6h4.4M319.7 301.4h4.4M322.1 203.7V320.7M319.9 203.7h4.4M319.9 320.7h4.4M322.7 255.7V266.7M320.5 255.7h4.4M320.5 266.7h4.4M323.5 273.1V280.9M321.3 273.1h4.4M321.3 280.9h4.4M323.7 265.9V274.6M321.5 265.9h4.4M321.5 274.6h4.4M323.9 254.7V273.8M321.7 254.7h4.4M321.7 273.8h4.4M323.9 269.1V277.1M321.7 269.1h4.4M321.7 277.1h4.4M324 258.4V275.3M321.8 258.4h4.4M321.8 275.3h4.4M324 251.3V276.8M321.8 251.3h4.4M321.8 276.8h4.4M324.5 248.3V263.2M322.3 248.3h4.4M322.3 263.2h4.4M324.5 255.3V258.3M322.3 255.3h4.4M322.3 258.3h4.4M325.1 213.1V306.2M322.9 213.1h4.4M322.9 306.2h4.4M325.9 238.4V272.7M323.7 238.4h4.4M323.7 272.7h4.4M325.9 253.4V271.5M323.7 253.4h4.4M323.7 271.5h4.4M326.5 249.2V262.6M324.3 249.2h4.4M324.3 262.6h4.4M326.6 261.9V274.6M324.4 261.9h4.4M324.4 274.6h4.4M327.1 267.2V280.3M324.9 267.2h4.4M324.9 280.3h4.4M327.6 270.4V277.3M325.4 270.4h4.4M325.4 277.3h4.4M327.8 271.8V291.3M325.6 271.8h4.4M325.6 291.3h4.4M328.1 315.5V330.4M325.9 315.5h4.4M325.9 330.4h4.4M328.1 258.8V275M325.9 258.8h4.4M325.9 275h4.4M328.8 202.9V329.9M326.6 202.9h4.4M326.6 329.9h4.4M329.5 252.1V274.8M327.3 252.1h4.4M327.3 274.8h4.4M329.8 257.4V279.7M327.6 257.4h4.4M327.6 279.7h4.4M331.6 268.2V293.5M329.4 268.2h4.4M329.4 293.5h4.4M331.8 248.5V267.1M329.6 248.5h4.4M329.6 267.1h4.4M332.7 275.2V289.5M330.5 275.2h4.4M330.5 289.5h4.4M332.8 275.4V301.4M330.6 275.4h4.4M330.6 301.4h4.4M333.5 256.8V264.4M331.3 256.8h4.4M331.3 264.4h4.4M333.9 261.1V269.4M331.7 261.1h4.4M331.7 269.4h4.4M334.8 261V282.3M332.6 261h4.4M332.6 282.3h4.4M334.9 251.4V272.7M332.7 251.4h4.4M332.7 272.7h4.4M335 257.3V268M332.8 257.3h4.4M332.8 268h4.4M335.3 201.1V326.9M333.1 201.1h4.4M333.1 326.9h4.4M335.7 195.9V335.3M333.5 195.9h4.4M333.5 335.3h4.4M336.2 268.7V276.3M334 268.7h4.4M334 276.3h4.4M337 259.2V340.3M334.8 259.2h4.4M334.8 340.3h4.4M337.9 272V290M335.7 272h4.4M335.7 290h4.4M339.9 255.8V269.3M337.7 255.8h4.4M337.7 269.3h4.4M340.1 247.8V301.9M337.9 247.8h4.4M337.9 301.9h4.4M340.5 242.3V253.6M338.3 242.3h4.4M338.3 253.6h4.4M340.9 351.5V363.2M338.7 351.5h4.4M338.7 363.2h4.4M341.4 248.1V272M339.2 248.1h4.4M339.2 272h4.4M341.4 238.6V268.9M339.2 238.6h4.4M339.2 268.9h4.4M341.8 230.1V242.9M339.6 230.1h4.4M339.6 242.9h4.4M342.2 261.3V282.9M340 261.3h4.4M340 282.9h4.4M342.5 264.7V286.5M340.3 264.7h4.4M340.3 286.5h4.4M342.6 227.6V264.7M340.4 227.6h4.4M340.4 264.7h4.4M343.2 259.2V264.1M341 259.2h4.4M341 264.1h4.4M343.5 271.6V275.7M341.3 271.6h4.4M341.3 275.7h4.4M344.1 238.4V250.2M341.9 238.4h4.4M341.9 250.2h4.4M344.6 269.3V277.2M342.4 269.3h4.4M342.4 277.2h4.4M345.2 247.4V261M343 247.4h4.4M343 261h4.4M345.4 269.6V282.9M343.2 269.6h4.4M343.2 282.9h4.4M345.6 253.3V267.2M343.4 253.3h4.4M343.4 267.2h4.4M345.9 255.8V263M343.7 255.8h4.4M343.7 263h4.4M346.6 209.5V225.4M344.4 209.5h4.4M344.4 225.4h4.4M346.9 215.7V299.5M344.7 215.7h4.4M344.7 299.5h4.4M347.1 253.2V258.1M344.9 253.2h4.4M344.9 258.1h4.4M347.2 257.4V265.4M345 257.4h4.4M345 265.4h4.4M347.6 237V248.9M345.4 237h4.4M345.4 248.9h4.4M347.7 243.3V255.6M345.5 243.3h4.4M345.5 255.6h4.4M348.5 221.2V256.2M346.3 221.2h4.4M346.3 256.2h4.4M349 245.2V282M346.8 245.2h4.4M346.8 282h4.4M349.2 236V268.2M347 236h4.4M347 268.2h4.4M349.2 249.7V260.7M347 249.7h4.4M347 260.7h4.4M349.4 230.4V259.5M347.2 230.4h4.4M347.2 259.5h4.4M349.7 209.1V228.1M347.5 209.1h4.4M347.5 228.1h4.4M349.9 255.5V271.8M347.7 255.5h4.4M347.7 271.8h4.4M350.3 263.8V271.6M348.1 263.8h4.4M348.1 271.6h4.4M350.5 260.4V274.9M348.3 260.4h4.4M348.3 274.9h4.4M350.5 236.4V265.3M348.3 236.4h4.4M348.3 265.3h4.4M350.9 248.8V264.3M348.7 248.8h4.4M348.7 264.3h4.4M351 252.7V260.6M348.8 252.7h4.4M348.8 260.6h4.4M351.3 259.2V263.3M349.1 259.2h4.4M349.1 263.3h4.4M351.4 269V281.7M349.2 269h4.4M349.2 281.7h4.4M351.4 253.5V264.6M349.2 253.5h4.4M349.2 264.6h4.4M351.5 251.8V270.6M349.3 251.8h4.4M349.3 270.6h4.4M352.8 246.3V249M350.6 246.3h4.4M350.6 249h4.4M353.1 253.8V270.8M350.9 253.8h4.4M350.9 270.8h4.4M353.2 251.6V260.4M351 251.6h4.4M351 260.4h4.4M353.5 259.7V266.4M351.3 259.7h4.4M351.3 266.4h4.4M353.6 250.9V271.5M351.4 250.9h4.4M351.4 271.5h4.4M354.1 266.1V275.3M351.9 266.1h4.4M351.9 275.3h4.4M354.6 193.4V334.7M352.4 193.4h4.4M352.4 334.7h4.4M354.6 255V278.6M352.4 255h4.4M352.4 278.6h4.4M354.8 236.2V270.1M352.6 236.2h4.4M352.6 270.1h4.4M355.1 269.6V276.2M352.9 269.6h4.4M352.9 276.2h4.4M355.4 246.5V275.6M353.2 246.5h4.4M353.2 275.6h4.4M355.8 249.6V267.6M353.6 249.6h4.4M353.6 267.6h4.4M355.8 256.9V282.8M353.6 256.9h4.4M353.6 282.8h4.4M356 262.2V270.4M353.8 262.2h4.4M353.8 270.4h4.4M356 245.3V269.5M353.8 245.3h4.4M353.8 269.5h4.4M356.2 243.4V254.4M354 243.4h4.4M354 254.4h4.4M356.3 230.6V239.3M354.1 230.6h4.4M354.1 239.3h4.4M356.4 254.8V294.5M354.2 254.8h4.4M354.2 294.5h4.4M356.7 222.5V261.2M354.5 222.5h4.4M354.5 261.2h4.4M357 244.2V263.9M354.8 244.2h4.4M354.8 263.9h4.4M357 250V260.5M354.8 250h4.4M354.8 260.5h4.4M357.5 246V279.5M355.3 246h4.4M355.3 279.5h4.4M358.3 239.8V253.4M356.1 239.8h4.4M356.1 253.4h4.4M358.9 252.3V264.1M356.7 252.3h4.4M356.7 264.1h4.4M359.2 289.2V303.1M357 289.2h4.4M357 303.1h4.4M359.7 250.6V258.9M357.5 250.6h4.4M357.5 258.9h4.4M359.8 231.1V269.8M357.6 231.1h4.4M357.6 269.8h4.4M360.1 221.3V262.6M357.9 221.3h4.4M357.9 262.6h4.4M360.4 238V259.7M358.2 238h4.4M358.2 259.7h4.4M360.7 242.8V260.8M358.5 242.8h4.4M358.5 260.8h4.4M360.8 259.8V270.7M358.6 259.8h4.4M358.6 270.7h4.4M360.9 248.9V255M358.7 248.9h4.4M358.7 255h4.4M361.3 236.1V271.9M359.1 236.1h4.4M359.1 271.9h4.4M363.8 253.7V271.1M361.6 253.7h4.4M361.6 271.1h4.4M364.3 269V289.1M362.1 269h4.4M362.1 289.1h4.4M364.6 251.6V278M362.4 251.6h4.4M362.4 278h4.4M364.7 246V259.9M362.5 246h4.4M362.5 259.9h4.4M364.9 249.6V268M362.7 249.6h4.4M362.7 268h4.4M365.1 253.5V267.3M362.9 253.5h4.4M362.9 267.3h4.4M365.3 231.1V249.9M363.1 231.1h4.4M363.1 249.9h4.4M365.5 226.2V270.9M363.3 226.2h4.4M363.3 270.9h4.4M366.3 259.7V269.6M364.1 259.7h4.4M364.1 269.6h4.4M366.4 246.6V267.8M364.2 246.6h4.4M364.2 267.8h4.4M366.6 262.8V275.6M364.4 262.8h4.4M364.4 275.6h4.4M366.7 247.8V253.2M364.5 247.8h4.4M364.5 253.2h4.4M367.1 255V265.1M364.9 255h4.4M364.9 265.1h4.4M367.2 275.2V289M365 275.2h4.4M365 289h4.4M367.5 266.1V271.1M365.3 266.1h4.4M365.3 271.1h4.4M367.6 251.8V287.3M365.4 251.8h4.4M365.4 287.3h4.4M367.7 221.5V256.7M365.5 221.5h4.4M365.5 256.7h4.4M368.2 248.4V257.3M366 248.4h4.4M366 257.3h4.4M368.4 250.7V257M366.2 250.7h4.4M366.2 257h4.4M368.6 237.5V259.7M366.4 237.5h4.4M366.4 259.7h4.4M368.7 236.6V248.8M366.5 236.6h4.4M366.5 248.8h4.4M368.8 232.8V244.8M366.6 232.8h4.4M366.6 244.8h4.4M368.9 250.5V276.2M366.7 250.5h4.4M366.7 276.2h4.4M369.4 265V283M367.2 265h4.4M367.2 283h4.4M369.7 284.6V296.9M367.5 284.6h4.4M367.5 296.9h4.4M369.9 255V272.7M367.7 255h4.4M367.7 272.7h4.4M370.1 242.9V257.7M367.9 242.9h4.4M367.9 257.7h4.4M370.4 249V260.7M368.2 249h4.4M368.2 260.7h4.4M370.6 261.2V272.5M368.4 261.2h4.4M368.4 272.5h4.4M370.6 307.1V314.6M368.4 307.1h4.4M368.4 314.6h4.4M371.1 264.5V295.7M368.9 264.5h4.4M368.9 295.7h4.4M372 263.7V270M369.8 263.7h4.4M369.8 270h4.4M372.5 222.3V238.9M370.3 222.3h4.4M370.3 238.9h4.4M372.9 259.9V274.5M370.7 259.9h4.4M370.7 274.5h4.4M372.9 260.8V271.1M370.7 260.8h4.4M370.7 271.1h4.4M373.1 268.7V275.5M370.9 268.7h4.4M370.9 275.5h4.4M373.1 282.5V294.2M370.9 282.5h4.4M370.9 294.2h4.4M373.1 255V270M370.9 255h4.4M370.9 270h4.4M373.2 264.4V290M371 264.4h4.4M371 290h4.4M373.6 248.6V271.3M371.4 248.6h4.4M371.4 271.3h4.4M373.9 250.2V260.5M371.7 250.2h4.4M371.7 260.5h4.4M374.1 236.7V271.1M371.9 236.7h4.4M371.9 271.1h4.4M374.6 257.8V278M372.4 257.8h4.4M372.4 278h4.4M375.7 252.7V258.5M373.5 252.7h4.4M373.5 258.5h4.4M375.7 247.8V255.1M373.5 247.8h4.4M373.5 255.1h4.4M375.8 258.7V267.8M373.6 258.7h4.4M373.6 267.8h4.4M376.1 267.3V282.2M373.9 267.3h4.4M373.9 282.2h4.4M376.2 265.4V280.2M374 265.4h4.4M374 280.2h4.4M376.3 207.4V332.9M374.1 207.4h4.4M374.1 332.9h4.4M376.4 246.6V253.2M374.2 246.6h4.4M374.2 253.2h4.4M376.7 256V267.3M374.5 256h4.4M374.5 267.3h4.4M376.9 276.1V296M374.7 276.1h4.4M374.7 296h4.4M377.2 225.1V252.5M375 225.1h4.4M375 252.5h4.4M377.3 263.2V269.7M375.1 263.2h4.4M375.1 269.7h4.4M377.5 250V257.7M375.3 250h4.4M375.3 257.7h4.4M377.7 172.4V326.4M375.5 172.4h4.4M375.5 326.4h4.4M377.7 255.3V263.6M375.5 255.3h4.4M375.5 263.6h4.4M378 268.5V276.7M375.8 268.5h4.4M375.8 276.7h4.4M378.8 236V269.5M376.6 236h4.4M376.6 269.5h4.4M379.1 248.8V264.8M376.9 248.8h4.4M376.9 264.8h4.4M379.1 251.3V268.7M376.9 251.3h4.4M376.9 268.7h4.4M379.1 245.1V262.6M376.9 245.1h4.4M376.9 262.6h4.4M379.1 175.1V326.2M376.9 175.1h4.4M376.9 326.2h4.4M379.4 253.8V268.8M377.2 253.8h4.4M377.2 268.8h4.4M379.8 247.7V258M377.6 247.7h4.4M377.6 258h4.4M380.3 249.3V271.6M378.1 249.3h4.4M378.1 271.6h4.4M380.3 255.6V265.3M378.1 255.6h4.4M378.1 265.3h4.4M381 242.4V269.8M378.8 242.4h4.4M378.8 269.8h4.4M381.3 246.6V257M379.1 246.6h4.4M379.1 257h4.4M381.7 268.4V271.1M379.5 268.4h4.4M379.5 271.1h4.4M381.8 245.9V277.8M379.6 245.9h4.4M379.6 277.8h4.4M381.9 246.1V277.1M379.7 246.1h4.4M379.7 277.1h4.4M382.8 260.8V278.8M380.6 260.8h4.4M380.6 278.8h4.4M382.9 259.1V262.8M380.7 259.1h4.4M380.7 262.8h4.4M383.8 257.7V270.7M381.6 257.7h4.4M381.6 270.7h4.4M384 265.7V275.4M381.8 265.7h4.4M381.8 275.4h4.4M384.3 270.8V284.6M382.1 270.8h4.4M382.1 284.6h4.4M384.9 235.9V305.2M382.7 235.9h4.4M382.7 305.2h4.4M384.9 227V244.1M382.7 227h4.4M382.7 244.1h4.4M385.2 241V282.1M383 241h4.4M383 282.1h4.4M385.3 245.5V284.6M383.1 245.5h4.4M383.1 284.6h4.4M385.5 232.5V245.1M383.3 232.5h4.4M383.3 245.1h4.4M385.6 267.1V275.7M383.4 267.1h4.4M383.4 275.7h4.4M385.8 257.4V281.4M383.6 257.4h4.4M383.6 281.4h4.4M386 259V264.9M383.8 259h4.4M383.8 264.9h4.4M386.1 248.6V273.3M383.9 248.6h4.4M383.9 273.3h4.4M386.4 255.9V265.7M384.2 255.9h4.4M384.2 265.7h4.4M386.4 232.3V251.5M384.2 232.3h4.4M384.2 251.5h4.4M386.6 258.5V274.4M384.4 258.5h4.4M384.4 274.4h4.4M387.2 248.4V262.8M385 248.4h4.4M385 262.8h4.4M387.4 251.9V271.7M385.2 251.9h4.4M385.2 271.7h4.4M387.4 243.5V250.6M385.2 243.5h4.4M385.2 250.6h4.4M387.6 253.8V261.3M385.4 253.8h4.4M385.4 261.3h4.4M387.6 255.8V263.7M385.4 255.8h4.4M385.4 263.7h4.4M387.7 243.2V255.1M385.5 243.2h4.4M385.5 255.1h4.4M387.8 247.7V252.6M385.6 247.7h4.4M385.6 252.6h4.4M387.8 247.4V280.2M385.6 247.4h4.4M385.6 280.2h4.4M388.9 241.2V254.7M386.7 241.2h4.4M386.7 254.7h4.4M389.2 239.1V257.4M387 239.1h4.4M387 257.4h4.4M389.4 244.6V252.5M387.2 244.6h4.4M387.2 252.5h4.4M389.5 262.1V266.1M387.3 262.1h4.4M387.3 266.1h4.4M389.8 256.3V285.5M387.6 256.3h4.4M387.6 285.5h4.4M389.9 275.9V293.3M387.7 275.9h4.4M387.7 293.3h4.4M389.9 259V265.7M387.7 259h4.4M387.7 265.7h4.4M390.1 267.5V279.2M387.9 267.5h4.4M387.9 279.2h4.4M390.3 247.8V257.6M388.1 247.8h4.4M388.1 257.6h4.4M390.3 254.4V265M388.1 254.4h4.4M388.1 265h4.4M390.5 219.6V358.1M388.3 219.6h4.4M388.3 358.1h4.4M390.6 250.3V289.1M388.4 250.3h4.4M388.4 289.1h4.4M390.9 277V285.3M388.7 277h4.4M388.7 285.3h4.4M391 190.6V313.4M388.8 190.6h4.4M388.8 313.4h4.4M391.1 238V269.8M388.9 238h4.4M388.9 269.8h4.4M391.6 244.6V279.8M389.4 244.6h4.4M389.4 279.8h4.4M391.7 248.7V276.4M389.5 248.7h4.4M389.5 276.4h4.4M391.8 263.8V269.8M389.6 263.8h4.4M389.6 269.8h4.4M392.1 263V305.2M389.9 263h4.4M389.9 305.2h4.4M392.4 249.1V255.1M390.2 249.1h4.4M390.2 255.1h4.4M392.4 267.4V289M390.2 267.4h4.4M390.2 289h4.4M392.5 261.2V268.5M390.3 261.2h4.4M390.3 268.5h4.4M393.3 270.3V288.9M391.1 270.3h4.4M391.1 288.9h4.4M394 203V311.7M391.8 203h4.4M391.8 311.7h4.4M394.4 201.4V294.3M392.2 201.4h4.4M392.2 294.3h4.4M394.4 261.1V273.4M392.2 261.1h4.4M392.2 273.4h4.4M394.5 259.3V265.1M392.3 259.3h4.4M392.3 265.1h4.4M395.3 233.6V264.6M393.1 233.6h4.4M393.1 264.6h4.4M395.7 187.2V299.2M393.5 187.2h4.4M393.5 299.2h4.4M396.7 251.6V270.6M394.5 251.6h4.4M394.5 270.6h4.4M397 273V287.6M394.8 273h4.4M394.8 287.6h4.4M397.7 245.6V263.1M395.5 245.6h4.4M395.5 263.1h4.4M399 263.2V271.7M396.8 263.2h4.4M396.8 271.7h4.4M399.1 204.8V294.7M396.9 204.8h4.4M396.9 294.7h4.4M399.1 270.2V280.2M396.9 270.2h4.4M396.9 280.2h4.4M400.3 252.2V277.4M398.1 252.2h4.4M398.1 277.4h4.4M400.3 248V260.5M398.1 248h4.4M398.1 260.5h4.4M400.4 234.7V251.6M398.2 234.7h4.4M398.2 251.6h4.4M401 242.7V252.4M398.8 242.7h4.4M398.8 252.4h4.4M401.2 240.7V250.6M399 240.7h4.4M399 250.6h4.4M401.3 273.7V285.4M399.1 273.7h4.4M399.1 285.4h4.4M401.9 246.5V301.6M399.7 246.5h4.4M399.7 301.6h4.4M402.4 200V349.6M400.2 200h4.4M400.2 349.6h4.4M402.4 227.8V313.8M400.2 227.8h4.4M400.2 313.8h4.4M402.5 264.8V272.4M400.3 264.8h4.4M400.3 272.4h4.4M403.2 248.8V281.4M401 248.8h4.4M401 281.4h4.4M403.3 241.6V252.9M401.1 241.6h4.4M401.1 252.9h4.4M403.6 258.8V272M401.4 258.8h4.4M401.4 272h4.4M404.1 245.7V265M401.9 245.7h4.4M401.9 265h4.4M404.3 236V311.1M402.1 236h4.4M402.1 311.1h4.4M404.3 255V266.3M402.1 255h4.4M402.1 266.3h4.4M404.5 246.2V273.8M402.3 246.2h4.4M402.3 273.8h4.4M404.5 188.7V341.8M402.3 188.7h4.4M402.3 341.8h4.4M404.9 208.1V293.3M402.7 208.1h4.4M402.7 293.3h4.4M405 238.5V265.7M402.8 238.5h4.4M402.8 265.7h4.4M405.3 200.1V310.3M403.1 200.1h4.4M403.1 310.3h4.4M405.4 258.6V275.9M403.2 258.6h4.4M403.2 275.9h4.4M405.9 234.5V300.2M403.7 234.5h4.4M403.7 300.2h4.4M406 273.7V282.6M403.8 273.7h4.4M403.8 282.6h4.4M406.1 243.2V258.9M403.9 243.2h4.4M403.9 258.9h4.4M406.9 273.6V291.8M404.7 273.6h4.4M404.7 291.8h4.4M407 265V271M404.8 265h4.4M404.8 271h4.4M407.2 254V278.3M405 254h4.4M405 278.3h4.4M407.5 239.8V252.9M405.3 239.8h4.4M405.3 252.9h4.4M408.1 237.7V261.8M405.9 237.7h4.4M405.9 261.8h4.4M408.5 249.9V256.4M406.3 249.9h4.4M406.3 256.4h4.4M408.9 249.9V261.8M406.7 249.9h4.4M406.7 261.8h4.4M409.1 235.8V238.4M406.9 235.8h4.4M406.9 238.4h4.4M409.7 259.4V271.3M407.5 259.4h4.4M407.5 271.3h4.4M409.9 239.6V248M407.7 239.6h4.4M407.7 248h4.4M411.3 241.1V254.1M409.1 241.1h4.4M409.1 254.1h4.4M411.8 256.2V269.2M409.6 256.2h4.4M409.6 269.2h4.4M412 247.7V262.4M409.8 247.7h4.4M409.8 262.4h4.4M412.6 256.9V263.5M410.4 256.9h4.4M410.4 263.5h4.4M412.7 256.6V260.9M410.5 256.6h4.4M410.5 260.9h4.4M412.8 276.9V424.8M410.6 276.9h4.4M410.6 424.8h4.4M413 246.7V274M410.8 246.7h4.4M410.8 274h4.4M413.5 223.8V273.2M411.3 223.8h4.4M411.3 273.2h4.4M413.9 271.6V276.7M411.7 271.6h4.4M411.7 276.7h4.4M414 244.4V270M411.8 244.4h4.4M411.8 270h4.4M414 245.5V262.5M411.8 245.5h4.4M411.8 262.5h4.4M414.3 243.6V260.8M412.1 243.6h4.4M412.1 260.8h4.4M414.8 256.5V262.1M412.6 256.5h4.4M412.6 262.1h4.4M415.1 242.7V258.6M412.9 242.7h4.4M412.9 258.6h4.4M415.6 237.3V321.3M413.4 237.3h4.4M413.4 321.3h4.4M415.7 237V272.8M413.5 237h4.4M413.5 272.8h4.4M415.7 255.8V286.3M413.5 255.8h4.4M413.5 286.3h4.4M416 245V258.3M413.8 245h4.4M413.8 258.3h4.4M416 224.4V264.7M413.8 224.4h4.4M413.8 264.7h4.4M416.9 263.1V287.2M414.7 263.1h4.4M414.7 287.2h4.4M417.8 256.7V266.3M415.6 256.7h4.4M415.6 266.3h4.4M418 252.8V267.2M415.8 252.8h4.4M415.8 267.2h4.4M418.1 244.9V269.5M415.9 244.9h4.4M415.9 269.5h4.4M418.8 253.6V259.4M416.6 253.6h4.4M416.6 259.4h4.4M418.9 243.3V248.4M416.7 243.3h4.4M416.7 248.4h4.4M419.4 255.4V272.3M417.2 255.4h4.4M417.2 272.3h4.4M419.8 272.2V284.5M417.6 272.2h4.4M417.6 284.5h4.4M420.1 267.7V273.3M417.9 267.7h4.4M417.9 273.3h4.4M420.1 256.5V265.8M417.9 256.5h4.4M417.9 265.8h4.4M420.2 243.4V262.1M418 243.4h4.4M418 262.1h4.4M420.3 255.2V280.6M418.1 255.2h4.4M418.1 280.6h4.4M420.5 259.4V278M418.3 259.4h4.4M418.3 278h4.4M421.1 249.8V271.2M418.9 249.8h4.4M418.9 271.2h4.4M421.2 249V271.1M419 249h4.4M419 271.1h4.4M421.6 257.7V268.9M419.4 257.7h4.4M419.4 268.9h4.4M421.9 237V254.7M419.7 237h4.4M419.7 254.7h4.4M421.9 232.6V295.8M419.7 232.6h4.4M419.7 295.8h4.4M422 240V271.3M419.8 240h4.4M419.8 271.3h4.4M422.4 264.6V272.2M420.2 264.6h4.4M420.2 272.2h4.4M422.4 206.5V330.3M420.2 206.5h4.4M420.2 330.3h4.4M422.8 258.5V269M420.6 258.5h4.4M420.6 269h4.4M423.1 267.2V272.7M420.9 267.2h4.4M420.9 272.7h4.4M424.1 253.7V282.7M421.9 253.7h4.4M421.9 282.7h4.4M424.1 240.4V263.1M421.9 240.4h4.4M421.9 263.1h4.4M424.6 294.9V335.7M422.4 294.9h4.4M422.4 335.7h4.4M425.3 258.3V282.1M423.1 258.3h4.4M423.1 282.1h4.4M425.5 234.4V250M423.3 234.4h4.4M423.3 250h4.4M426.3 245.5V266.5M424.1 245.5h4.4M424.1 266.5h4.4M426.4 256.5V267.4M424.2 256.5h4.4M424.2 267.4h4.4M426.4 252.2V259.2M424.2 252.2h4.4M424.2 259.2h4.4M427.1 244.6V267.9M424.9 244.6h4.4M424.9 267.9h4.4M427.2 261.4V275.4M425 261.4h4.4M425 275.4h4.4M427.4 252V280.5M425.2 252h4.4M425.2 280.5h4.4M427.5 254.9V277.6M425.3 254.9h4.4M425.3 277.6h4.4M427.6 192.6V272.7M425.4 192.6h4.4M425.4 272.7h4.4M427.8 275.6V281.5M425.6 275.6h4.4M425.6 281.5h4.4M428.1 273.8V289.4M425.9 273.8h4.4M425.9 289.4h4.4M428.3 200.5V341.6M426.1 200.5h4.4M426.1 341.6h4.4M428.6 260.1V289.7M426.4 260.1h4.4M426.4 289.7h4.4M428.9 262.2V275.8M426.7 262.2h4.4M426.7 275.8h4.4M428.9 257V273.8M426.7 257h4.4M426.7 273.8h4.4M429 263V280.9M426.8 263h4.4M426.8 280.9h4.4M429.6 254.4V268M427.4 254.4h4.4M427.4 268h4.4M429.8 192.6V346.1M427.6 192.6h4.4M427.6 346.1h4.4M430.4 245.3V253.4M428.2 245.3h4.4M428.2 253.4h4.4M430.5 259.8V277.9M428.3 259.8h4.4M428.3 277.9h4.4M430.6 254V267.6M428.4 254h4.4M428.4 267.6h4.4M430.8 197.5V324.3M428.6 197.5h4.4M428.6 324.3h4.4M431 257V277.5M428.8 257h4.4M428.8 277.5h4.4M431.6 256.6V268.5M429.4 256.6h4.4M429.4 268.5h4.4M432 256.8V272.5M429.8 256.8h4.4M429.8 272.5h4.4M432 255.2V274.6M429.8 255.2h4.4M429.8 274.6h4.4M432.1 259.7V270.2M429.9 259.7h4.4M429.9 270.2h4.4M432.6 270.2V277.5M430.4 270.2h4.4M430.4 277.5h4.4M432.9 254.7V270.2M430.7 254.7h4.4M430.7 270.2h4.4M433.3 276.8V282.7M431.1 276.8h4.4M431.1 282.7h4.4M433.4 263.7V273.8M431.2 263.7h4.4M431.2 273.8h4.4M433.8 257V260.1M431.6 257h4.4M431.6 260.1h4.4M434.8 256.8V264.5M432.6 256.8h4.4M432.6 264.5h4.4M434.8 260.3V276M432.6 260.3h4.4M432.6 276h4.4M434.9 265.2V273.7M432.7 265.2h4.4M432.7 273.7h4.4M435.1 260.1V278.7M432.9 260.1h4.4M432.9 278.7h4.4M435.2 213V228.1M433 213h4.4M433 228.1h4.4M435.6 250.7V269M433.4 250.7h4.4M433.4 269h4.4M435.6 272.6V283.4M433.4 272.6h4.4M433.4 283.4h4.4M435.9 271.3V281.4M433.7 271.3h4.4M433.7 281.4h4.4M436.4 250.6V312.9M434.2 250.6h4.4M434.2 312.9h4.4M436.5 201.3V307.3M434.3 201.3h4.4M434.3 307.3h4.4M437.5 263V273.4M435.3 263h4.4M435.3 273.4h4.4M437.8 245.8V259.1M435.6 245.8h4.4M435.6 259.1h4.4M439.1 273.4V289.8M436.9 273.4h4.4M436.9 289.8h4.4M439.6 268.2V273.9M437.4 268.2h4.4M437.4 273.9h4.4M440.4 194.1V350.4M438.2 194.1h4.4M438.2 350.4h4.4M441.2 262.5V267.8M439 262.5h4.4M439 267.8h4.4M441.7 265.6V273.5M439.5 265.6h4.4M439.5 273.5h4.4M442.3 269.1V280.8M440.1 269.1h4.4M440.1 280.8h4.4M442.4 272.8V280.1M440.2 272.8h4.4M440.2 280.1h4.4M442.6 222.3V315.9M440.4 222.3h4.4M440.4 315.9h4.4M442.6 220.8V304M440.4 220.8h4.4M440.4 304h4.4M443.1 257.1V270.9M440.9 257.1h4.4M440.9 270.9h4.4M443.6 252.6V276M441.4 252.6h4.4M441.4 276h4.4M444.1 264V270M441.9 264h4.4M441.9 270h4.4M444.2 244.8V259.6M442 244.8h4.4M442 259.6h4.4M444.3 280.9V288.7M442.1 280.9h4.4M442.1 288.7h4.4M444.6 271.9V278.4M442.4 271.9h4.4M442.4 278.4h4.4M444.8 241.4V266M442.6 241.4h4.4M442.6 266h4.4M445.7 268.3V275.5M443.5 268.3h4.4M443.5 275.5h4.4M445.8 245.7V274.3M443.6 245.7h4.4M443.6 274.3h4.4M446.1 258.6V277.3M443.9 258.6h4.4M443.9 277.3h4.4M446.4 249.1V286M444.2 249.1h4.4M444.2 286h4.4M446.6 247.6V266.4M444.4 247.6h4.4M444.4 266.4h4.4M446.8 258.5V295.6M444.6 258.5h4.4M444.6 295.6h4.4M446.8 262.8V277.8M444.6 262.8h4.4M444.6 277.8h4.4M447.5 255.4V266.9M445.3 255.4h4.4M445.3 266.9h4.4M447.6 273.2V282.7M445.4 273.2h4.4M445.4 282.7h4.4M447.8 259.4V264.7M445.6 259.4h4.4M445.6 264.7h4.4M447.8 260.1V274M445.6 260.1h4.4M445.6 274h4.4M448.1 274.5V335.6M445.9 274.5h4.4M445.9 335.6h4.4M448.2 273.9V277.7M446 273.9h4.4M446 277.7h4.4M448.5 264.9V286.9M446.3 264.9h4.4M446.3 286.9h4.4M448.6 267V275.1M446.4 267h4.4M446.4 275.1h4.4M448.6 260.7V293.5M446.4 260.7h4.4M446.4 293.5h4.4M449.1 266.2V275.6M446.9 266.2h4.4M446.9 275.6h4.4M449.5 264.1V270.2M447.3 264.1h4.4M447.3 270.2h4.4M449.6 257.1V267M447.4 257.1h4.4M447.4 267h4.4M449.8 265.3V277.9M447.6 265.3h4.4M447.6 277.9h4.4M449.9 173.8V328.9M447.7 173.8h4.4M447.7 328.9h4.4M450.3 190.1V341.8M448.1 190.1h4.4M448.1 341.8h4.4M451.4 255.7V268.7M449.2 255.7h4.4M449.2 268.7h4.4M451.6 254.9V275.5M449.4 254.9h4.4M449.4 275.5h4.4M451.7 247.7V284.9M449.5 247.7h4.4M449.5 284.9h4.4M451.9 216.6V227.5M449.7 216.6h4.4M449.7 227.5h4.4M452 266.5V294.8M449.8 266.5h4.4M449.8 294.8h4.4M452.8 265V272.6M450.6 265h4.4M450.6 272.6h4.4M453.3 244.3V286.2M451.1 244.3h4.4M451.1 286.2h4.4M453.6 238.8V326.9M451.4 238.8h4.4M451.4 326.9h4.4M453.6 276.6V293.8M451.4 276.6h4.4M451.4 293.8h4.4M454.1 222.1V238.9M451.9 222.1h4.4M451.9 238.9h4.4M454.4 260.5V281.8M452.2 260.5h4.4M452.2 281.8h4.4M454.5 276.2V284.8M452.3 276.2h4.4M452.3 284.8h4.4M454.6 263.9V280.8M452.4 263.9h4.4M452.4 280.8h4.4M454.9 264.9V272.1M452.7 264.9h4.4M452.7 272.1h4.4M455.4 268.8V277.9M453.2 268.8h4.4M453.2 277.9h4.4M455.4 269.4V276.3M453.2 269.4h4.4M453.2 276.3h4.4M455.9 261.7V276.8M453.7 261.7h4.4M453.7 276.8h4.4M456.5 262.9V269.8M454.3 262.9h4.4M454.3 269.8h4.4M457 255.6V277.9M454.8 255.6h4.4M454.8 277.9h4.4M457.1 269.2V278.2M454.9 269.2h4.4M454.9 278.2h4.4M457.2 244.6V274.4M455 244.6h4.4M455 274.4h4.4M457.4 269.8V283.1M455.2 269.8h4.4M455.2 283.1h4.4M457.5 252.3V273.6M455.3 252.3h4.4M455.3 273.6h4.4M458 251.8V262.9M455.8 251.8h4.4M455.8 262.9h4.4M458.5 261.3V275.7M456.3 261.3h4.4M456.3 275.7h4.4M459.6 260.3V301.8M457.4 260.3h4.4M457.4 301.8h4.4M460.7 265.1V275.4M458.5 265.1h4.4M458.5 275.4h4.4M462 253.3V261.9M459.8 253.3h4.4M459.8 261.9h4.4M462.1 266V276.2M459.9 266h4.4M459.9 276.2h4.4M463.1 253.8V263.8M460.9 253.8h4.4M460.9 263.8h4.4M464 211.8V290M461.8 211.8h4.4M461.8 290h4.4M464.3 264.6V274.1M462.1 264.6h4.4M462.1 274.1h4.4M464.3 254.8V260.9M462.1 254.8h4.4M462.1 260.9h4.4M464.9 270.5V278.8M462.7 270.5h4.4M462.7 278.8h4.4M465.1 254.3V275.9M462.9 254.3h4.4M462.9 275.9h4.4M465.4 258V293.5M463.2 258h4.4M463.2 293.5h4.4M465.5 256.4V266.2M463.3 256.4h4.4M463.3 266.2h4.4M465.6 266.2V279.7M463.4 266.2h4.4M463.4 279.7h4.4M465.7 264.5V271.3M463.5 264.5h4.4M463.5 271.3h4.4M466.1 266.4V271.9M463.9 266.4h4.4M463.9 271.9h4.4M466.4 220.7V333.4M464.2 220.7h4.4M464.2 333.4h4.4M467.8 252.5V279.7M465.6 252.5h4.4M465.6 279.7h4.4M470.2 260.4V272.2M468 260.4h4.4M468 272.2h4.4M470.6 267V284.1M468.4 267h4.4M468.4 284.1h4.4M471.6 257.6V280.8M469.4 257.6h4.4M469.4 280.8h4.4M472.7 260.5V273M470.5 260.5h4.4M470.5 273h4.4M472.8 255.7V274.6M470.6 255.7h4.4M470.6 274.6h4.4M473 258.3V273.5M470.8 258.3h4.4M470.8 273.5h4.4M473.4 268.3V274.4M471.2 268.3h4.4M471.2 274.4h4.4M473.9 255V263.6M471.7 255h4.4M471.7 263.6h4.4M474 260.9V266.2M471.8 260.9h4.4M471.8 266.2h4.4M475.7 264.6V276.4M473.5 264.6h4.4M473.5 276.4h4.4M476.4 254.9V285.3M474.2 254.9h4.4M474.2 285.3h4.4M476.6 260.4V282.5M474.4 260.4h4.4M474.4 282.5h4.4M476.8 256.2V268.8M474.6 256.2h4.4M474.6 268.8h4.4M477.2 278.1V282.2M475 278.1h4.4M475 282.2h4.4M477.3 266.1V278.4M475.1 266.1h4.4M475.1 278.4h4.4M478.3 253.9V278.5M476.1 253.9h4.4M476.1 278.5h4.4M478.3 259.7V280M476.1 259.7h4.4M476.1 280h4.4M479 256.9V291.4M476.8 256.9h4.4M476.8 291.4h4.4M480.2 252.1V266M478 252.1h4.4M478 266h4.4M480.3 259.1V275.5M478.1 259.1h4.4M478.1 275.5h4.4M480.4 205.1V339.6M478.2 205.1h4.4M478.2 339.6h4.4M480.6 252.8V271.6M478.4 252.8h4.4M478.4 271.6h4.4M480.8 266.6V282.3M478.6 266.6h4.4M478.6 282.3h4.4M480.9 267.7V281.2M478.7 267.7h4.4M478.7 281.2h4.4M482.5 245.9V260.8M480.3 245.9h4.4M480.3 260.8h4.4M482.8 267.2V306.2M480.6 267.2h4.4M480.6 306.2h4.4M482.8 251.7V284.3M480.6 251.7h4.4M480.6 284.3h4.4M482.8 262.1V266.4M480.6 262.1h4.4M480.6 266.4h4.4M482.9 275.6V284.3M480.7 275.6h4.4M480.7 284.3h4.4M483 254.5V277.6M480.8 254.5h4.4M480.8 277.6h4.4M483.4 260V275.2M481.2 260h4.4M481.2 275.2h4.4M483.5 256.2V271.3M481.3 256.2h4.4M481.3 271.3h4.4M484.2 269.6V277.5M482 269.6h4.4M482 277.5h4.4M485.2 261.3V297.6M483 261.3h4.4M483 297.6h4.4M485.7 253.9V268.3M483.5 253.9h4.4M483.5 268.3h4.4M486.4 268.9V279M484.2 268.9h4.4M484.2 279h4.4M487.3 266.3V277.1M485.1 266.3h4.4M485.1 277.1h4.4M487.5 247.7V280M485.3 247.7h4.4M485.3 280h4.4M488.5 258.8V279.1M486.3 258.8h4.4M486.3 279.1h4.4M488.6 258.8V277.6M486.4 258.8h4.4M486.4 277.6h4.4M489.9 262.9V278.3M487.7 262.9h4.4M487.7 278.3h4.4M489.9 274.8V285.8M487.7 274.8h4.4M487.7 285.8h4.4M490 271.3V275.3M487.8 271.3h4.4M487.8 275.3h4.4M492.2 266.4V277.2M490 266.4h4.4M490 277.2h4.4M492.4 255V268.1M490.2 255h4.4M490.2 268.1h4.4M492.5 259.6V276.9M490.3 259.6h4.4M490.3 276.9h4.4M492.8 270.3V278.5M490.6 270.3h4.4M490.6 278.5h4.4M492.8 277.5V299.8M490.6 277.5h4.4M490.6 299.8h4.4M492.9 266.2V288.6M490.7 266.2h4.4M490.7 288.6h4.4M493.6 233.3V307.3M491.4 233.3h4.4M491.4 307.3h4.4M495.2 255.2V279M493 255.2h4.4M493 279h4.4M495.5 210.7V224.7M493.3 210.7h4.4M493.3 224.7h4.4M495.8 232.1V310M493.6 232.1h4.4M493.6 310h4.4M495.9 271.3V285.6M493.7 271.3h4.4M493.7 285.6h4.4M496.4 253.6V279.8M494.2 253.6h4.4M494.2 279.8h4.4M496.8 238.6V284.9M494.6 238.6h4.4M494.6 284.9h4.4M496.9 249.9V276.9M494.7 249.9h4.4M494.7 276.9h4.4M497.1 262.8V281.6M494.9 262.8h4.4M494.9 281.6h4.4M498 278.8V285.5M495.8 278.8h4.4M495.8 285.5h4.4M498.6 259.9V280.6M496.4 259.9h4.4M496.4 280.6h4.4M499.9 268.6V287.1M497.7 268.6h4.4M497.7 287.1h4.4M500.3 264.4V274.3M498.1 264.4h4.4M498.1 274.3h4.4" stroke="#000" stroke-width="0.6" fill="none"/>
<g fill="#fff" stroke="#000" stroke-width="0.75"><circle cx="291.9" cy="283.3" r="1.5"/><circle cx="293.1" cy="280.4" r="1.5"/><circle cx="294.8" cy="279.3" r="1.5"/><circle cx="294.8" cy="286.7" r="1.5"/><circle cx="294.9" cy="274.2" r="1.5"/><circle cx="295.1" cy="286.4" r="1.5"/><circle cx="295.4" cy="276.1" r="1.5"/><circle cx="297.1" cy="288.6" r="1.5"/><circle cx="298" cy="277.4" r="1.5"/><circle cx="299.2" cy="283.4" r="1.5"/><circle cx="301.5" cy="277.4" r="1.5"/><circle cx="301.9" cy="281.1" r="1.5"/><circle cx="305.3" cy="288.9" r="1.5"/><circle cx="305.8" cy="282.2" r="1.5"/><circle cx="306.2" cy="274.8" r="1.5"/><circle cx="306.2" cy="271.4" r="1.5"/><circle cx="307.3" cy="283.8" r="1.5"/><circle cx="307.4" cy="287.8" r="1.5"/><circle cx="308.5" cy="279.6" r="1.5"/><circle cx="308.8" cy="275.3" r="1.5"/><circle cx="309.4" cy="277.7" r="1.5"/><circle cx="310.7" cy="278.3" r="1.5"/><circle cx="310.9" cy="267.4" r="1.5"/><circle cx="314.4" cy="264.8" r="1.5"/><circle cx="314.8" cy="302.8" r="1.5"/><circle cx="315.2" cy="277.3" r="1.5"/><circle cx="316.7" cy="269.7" r="1.5"/><circle cx="318.5" cy="270.8" r="1.5"/><circle cx="319.1" cy="279.3" r="1.5"/><circle cx="320.1" cy="262.4" r="1.5"/><circle cx="321" cy="267.7" r="1.5"/><circle cx="321.6" cy="271.7" r="1.5"/><circle cx="321.9" cy="257.5" r="1.5"/><circle cx="322.1" cy="262.2" r="1.5"/><circle cx="322.7" cy="261.2" r="1.5"/><circle cx="322.7" cy="258.6" r="1.5"/><circle cx="322.8" cy="262.2" r="1.5"/><circle cx="323.5" cy="277" r="1.5"/><circle cx="323.7" cy="270.2" r="1.5"/><circle cx="323.9" cy="264.3" r="1.5"/><circle cx="323.9" cy="273.1" r="1.5"/><circle cx="324" cy="266.9" r="1.5"/><circle cx="324" cy="264.1" r="1.5"/><circle cx="324.5" cy="255.7" r="1.5"/><circle cx="324.5" cy="256.8" r="1.5"/><circle cx="325.1" cy="259.6" r="1.5"/><circle cx="325.2" cy="268.1" r="1.5"/><circle cx="325.5" cy="259.3" r="1.5"/><circle cx="325.5" cy="262.3" r="1.5"/><circle cx="325.8" cy="267.7" r="1.5"/><circle cx="325.9" cy="255.5" r="1.5"/><circle cx="325.9" cy="262.4" r="1.5"/><circle cx="326.3" cy="272.4" r="1.5"/><circle cx="326.5" cy="255.9" r="1.5"/><circle cx="326.6" cy="268.2" r="1.5"/><circle cx="326.8" cy="261.3" r="1.5"/><circle cx="326.9" cy="278.5" r="1.5"/><circle cx="327" cy="266.2" r="1.5"/><circle cx="327.1" cy="273.7" r="1.5"/><circle cx="327.6" cy="273.8" r="1.5"/><circle cx="327.8" cy="281.6" r="1.5"/><circle cx="328.1" cy="323" r="1.5"/><circle cx="328.1" cy="266.9" r="1.5"/><circle cx="328.6" cy="263.4" r="1.5"/><circle cx="328.7" cy="256" r="1.5"/><circle cx="328.8" cy="266.4" r="1.5"/><circle cx="328.8" cy="261" r="1.5"/><circle cx="329.4" cy="279.3" r="1.5"/><circle cx="329.5" cy="263.4" r="1.5"/><circle cx="329.8" cy="268.6" r="1.5"/><circle cx="330.3" cy="260.5" r="1.5"/><circle cx="330.5" cy="263.2" r="1.5"/><circle cx="330.9" cy="276.8" r="1.5"/><circle cx="331.6" cy="280.9" r="1.5"/><circle cx="331.8" cy="273.4" r="1.5"/><circle cx="331.8" cy="257.8" r="1.5"/><circle cx="331.9" cy="260.5" r="1.5"/><circle cx="332.6" cy="260.4" r="1.5"/><circle cx="332.7" cy="282.3" r="1.5"/><circle cx="332.8" cy="288.4" r="1.5"/><circle cx="332.8" cy="269.7" r="1.5"/><circle cx="332.8" cy="267" r="1.5"/><circle cx="333.3" cy="269.4" r="1.5"/><circle cx="333.5" cy="260.6" r="1.5"/><circle cx="333.9" cy="265.3" r="1.5"/><circle cx="334.3" cy="274.6" r="1.5"/><circle cx="334.8" cy="271.7" r="1.5"/><circle cx="334.9" cy="262" r="1.5"/><circle cx="335" cy="262.7" r="1.5"/><circle cx="335.3" cy="264" r="1.5"/><circle cx="335.6" cy="241.7" r="1.5"/><circle cx="335.7" cy="265.6" r="1.5"/><circle cx="336.1" cy="261.9" r="1.5"/><circle cx="336.2" cy="272.5" r="1.5"/><circle cx="336.5" cy="266.4" r="1.5"/><circle cx="336.7" cy="257.8" r="1.5"/><circle cx="337" cy="299.7" r="1.5"/><circle cx="337.3" cy="264.2" r="1.5"/><circle cx="337.3" cy="258.8" r="1.5"/><circle cx="337.7" cy="262" r="1.5"/><circle cx="337.9" cy="281" r="1.5"/><circle cx="338.2" cy="294.8" r="1.5"/><circle cx="339" cy="239.1" r="1.5"/><circle cx="339.4" cy="253.7" r="1.5"/><circle cx="339.9" cy="262.5" r="1.5"/><circle cx="340" cy="279.6" r="1.5"/><circle cx="340.1" cy="274.9" r="1.5"/><circle cx="340.5" cy="247.9" r="1.5"/><circle cx="340.9" cy="357.3" r="1.5"/><circle cx="341" cy="265" r="1.5"/><circle cx="341.3" cy="252.6" r="1.5"/><circle cx="341.4" cy="260.1" r="1.5"/><circle cx="341.4" cy="253.7" r="1.5"/><circle cx="341.4" cy="262.9" r="1.5"/><circle cx="341.8" cy="236.5" r="1.5"/><circle cx="342.2" cy="272.1" r="1.5"/><circle cx="342.5" cy="275.6" r="1.5"/><circle cx="342.6" cy="258.3" r="1.5"/><circle cx="342.6" cy="246.1" r="1.5"/><circle cx="343.2" cy="261.7" r="1.5"/><circle cx="343.4" cy="249.8" r="1.5"/><circle cx="343.5" cy="266.7" r="1.5"/><circle cx="343.5" cy="273.7" r="1.5"/><circle cx="343.6" cy="246" r="1.5"/><circle cx="343.7" cy="244.2" r="1.5"/><circle cx="344.1" cy="244.3" r="1.5"/><circle cx="344.5" cy="265.5" r="1.5"/><circle cx="344.6" cy="273.3" r="1.5"/><circle cx="344.6" cy="273.4" r="1.5"/><circle cx="344.8" cy="263.1" r="1.5"/><circle cx="345.2" cy="254.2" r="1.5"/><circle cx="345.4" cy="254.9" r="1.5"/><circle cx="345.4" cy="276.3" r="1.5"/><circle cx="345.6" cy="258.3" r="1.5"/><circle cx="345.6" cy="260.3" r="1.5"/><circle cx="345.9" cy="259.4" r="1.5"/><circle cx="346.5" cy="260.5" r="1.5"/><circle cx="346.5" cy="262.5" r="1.5"/><circle cx="346.5" cy="253.6" r="1.5"/><circle cx="346.6" cy="217.5" r="1.5"/><circle cx="346.9" cy="257.6" r="1.5"/><circle cx="347" cy="302" r="1.5"/><circle cx="347.1" cy="255.7" r="1.5"/><circle cx="347.2" cy="261.4" r="1.5"/><circle cx="347.3" cy="283.9" r="1.5"/><circle cx="347.6" cy="203.6" r="1.5"/><circle cx="347.6" cy="242.9" r="1.5"/><circle cx="347.7" cy="249.5" r="1.5"/><circle cx="347.7" cy="261.8" r="1.5"/><circle cx="347.9" cy="268.6" r="1.5"/><circle cx="348.1" cy="241.6" r="1.5"/><circle cx="348.2" cy="260" r="1.5"/><circle cx="348.3" cy="264.9" r="1.5"/><circle cx="348.3" cy="280.3" r="1.5"/><circle cx="348.5" cy="238.7" r="1.5"/><circle cx="348.7" cy="277.8" r="1.5"/><circle cx="349" cy="263.6" r="1.5"/><circle cx="349.2" cy="252.1" r="1.5"/><circle cx="349.2" cy="255.2" r="1.5"/><circle cx="349.3" cy="253.1" r="1.5"/><circle cx="349.3" cy="250.7" r="1.5"/><circle cx="349.4" cy="245" r="1.5"/><circle cx="349.4" cy="256.1" r="1.5"/><circle cx="349.4" cy="225.9" r="1.5"/><circle cx="349.5" cy="271.3" r="1.5"/><circle cx="349.7" cy="218.6" r="1.5"/><circle cx="349.9" cy="263.7" r="1.5"/><circle cx="349.9" cy="265.8" r="1.5"/><circle cx="350" cy="256.1" r="1.5"/><circle cx="350.2" cy="242.4" r="1.5"/><circle cx="350.3" cy="267.7" r="1.5"/><circle cx="350.5" cy="267.7" r="1.5"/><circle cx="350.5" cy="250.8" r="1.5"/><circle cx="350.7" cy="252.9" r="1.5"/><circle cx="350.7" cy="236.2" r="1.5"/><circle cx="350.9" cy="247.1" r="1.5"/><circle cx="350.9" cy="256.5" r="1.5"/><circle cx="351" cy="263.1" r="1.5"/><circle cx="351" cy="256.7" r="1.5"/><circle cx="351.3" cy="261.2" r="1.5"/><circle cx="351.4" cy="275.4" r="1.5"/><circle cx="351.4" cy="259" r="1.5"/><circle cx="351.5" cy="261.2" r="1.5"/><circle cx="351.7" cy="261.8" r="1.5"/><circle cx="352.3" cy="264.1" r="1.5"/><circle cx="352.4" cy="238.6" r="1.5"/><circle cx="352.5" cy="250.5" r="1.5"/><circle cx="352.8" cy="247.7" r="1.5"/><circle cx="352.9" cy="266.2" r="1.5"/><circle cx="353.1" cy="271.2" r="1.5"/><circle cx="353.1" cy="262.3" r="1.5"/><circle cx="353.2" cy="256" r="1.5"/><circle cx="353.5" cy="263.1" r="1.5"/><circle cx="353.6" cy="261.2" r="1.5"/><circle cx="353.8" cy="247.4" r="1.5"/><circle cx="353.9" cy="255.3" r="1.5"/><circle cx="354.1" cy="270.7" r="1.5"/><circle cx="354.6" cy="264" r="1.5"/><circle cx="354.6" cy="266.8" r="1.5"/><circle cx="354.8" cy="253.2" r="1.5"/><circle cx="355.1" cy="272.9" r="1.5"/><circle cx="355.4" cy="261" r="1.5"/><circle cx="355.6" cy="250.6" r="1.5"/><circle cx="355.8" cy="258.6" r="1.5"/><circle cx="355.8" cy="269.9" r="1.5"/><circle cx="356" cy="266.3" r="1.5"/><circle cx="356" cy="257.4" r="1.5"/><circle cx="356.1" cy="253.1" r="1.5"/><circle cx="356.2" cy="248.9" r="1.5"/><circle cx="356.3" cy="234.9" r="1.5"/><circle cx="356.4" cy="274.7" r="1.5"/><circle cx="356.7" cy="241.9" r="1.5"/><circle cx="356.8" cy="255.3" r="1.5"/><circle cx="357" cy="254.1" r="1.5"/><circle cx="357" cy="255.3" r="1.5"/><circle cx="357.2" cy="271.3" r="1.5"/><circle cx="357.5" cy="262.7" r="1.5"/><circle cx="357.9" cy="255.8" r="1.5"/><circle cx="358.3" cy="246.6" r="1.5"/><circle cx="358.9" cy="258.2" r="1.5"/><circle cx="359.2" cy="296.2" r="1.5"/><circle cx="359.3" cy="261.8" r="1.5"/><circle cx="359.7" cy="254.7" r="1.5"/><circle cx="359.7" cy="243.5" r="1.5"/><circle cx="359.8" cy="250.5" r="1.5"/><circle cx="359.9" cy="229.3" r="1.5"/><circle cx="360.1" cy="242" r="1.5"/><circle cx="360.3" cy="242.9" r="1.5"/><circle cx="360.4" cy="247.7" r="1.5"/><circle cx="360.4" cy="275.4" r="1.5"/><circle cx="360.4" cy="248.9" r="1.5"/><circle cx="360.7" cy="251.8" r="1.5"/><circle cx="360.8" cy="265.2" r="1.5"/><circle cx="360.9" cy="252" r="1.5"/><circle cx="361.3" cy="254" r="1.5"/><circle cx="361.6" cy="264.5" r="1.5"/><circle cx="361.6" cy="260.5" r="1.5"/><circle cx="361.7" cy="262.1" r="1.5"/><circle cx="361.7" cy="256.2" r="1.5"/><circle cx="362.3" cy="264" r="1.5"/><circle cx="362.7" cy="252.5" r="1.5"/><circle cx="363.3" cy="281.8" r="1.5"/><circle cx="363.8" cy="262.4" r="1.5"/><circle cx="364.3" cy="279" r="1.5"/><circle cx="364.6" cy="264.8" r="1.5"/><circle cx="364.7" cy="252.9" r="1.5"/><circle cx="364.9" cy="258.8" r="1.5"/><circle cx="365.1" cy="260.4" r="1.5"/><circle cx="365.1" cy="258.3" r="1.5"/><circle cx="365.3" cy="240.5" r="1.5"/><circle cx="365.4" cy="272.2" r="1.5"/><circle cx="365.5" cy="248.6" r="1.5"/><circle cx="365.9" cy="277" r="1.5"/><circle cx="366.3" cy="264.7" r="1.5"/><circle cx="366.4" cy="257.2" r="1.5"/><circle cx="366.6" cy="269.2" r="1.5"/><circle cx="366.6" cy="256.7" r="1.5"/><circle cx="366.7" cy="250.5" r="1.5"/><circle cx="367" cy="273.3" r="1.5"/><circle cx="367.1" cy="260.1" r="1.5"/><circle cx="367.1" cy="263.6" r="1.5"/><circle cx="367.2" cy="282.1" r="1.5"/><circle cx="367.3" cy="261.4" r="1.5"/><circle cx="367.5" cy="268.6" r="1.5"/><circle cx="367.6" cy="243.4" r="1.5"/><circle cx="367.6" cy="269.5" r="1.5"/><circle cx="367.7" cy="239.1" r="1.5"/><circle cx="368" cy="265.5" r="1.5"/><circle cx="368.1" cy="236.3" r="1.5"/><circle cx="368.2" cy="252.8" r="1.5"/><circle cx="368.4" cy="253.9" r="1.5"/><circle cx="368.5" cy="249.7" r="1.5"/><circle cx="368.6" cy="248.6" r="1.5"/><circle cx="368.7" cy="242.7" r="1.5"/><circle cx="368.8" cy="238.8" r="1.5"/><circle cx="368.9" cy="263.3" r="1.5"/><circle cx="369.4" cy="274" r="1.5"/><circle cx="369.7" cy="290.8" r="1.5"/><circle cx="369.9" cy="263.8" r="1.5"/><circle cx="370.1" cy="250.3" r="1.5"/><circle cx="370.4" cy="254.9" r="1.5"/><circle cx="370.4" cy="258" r="1.5"/><circle cx="370.5" cy="263.4" r="1.5"/><circle cx="370.6" cy="266.8" r="1.5"/><circle cx="370.6" cy="310.9" r="1.5"/><circle cx="370.8" cy="254.7" r="1.5"/><circle cx="371.1" cy="280.1" r="1.5"/><circle cx="371.3" cy="250.8" r="1.5"/><circle cx="371.3" cy="276.5" r="1.5"/><circle cx="371.4" cy="261.2" r="1.5"/><circle cx="372" cy="266.8" r="1.5"/><circle cx="372" cy="263.7" r="1.5"/><circle cx="372.4" cy="311.1" r="1.5"/><circle cx="372.4" cy="273" r="1.5"/><circle cx="372.4" cy="262.2" r="1.5"/><circle cx="372.4" cy="272.2" r="1.5"/><circle cx="372.5" cy="230.6" r="1.5"/><circle cx="372.5" cy="264.4" r="1.5"/><circle cx="372.9" cy="267.2" r="1.5"/><circle cx="372.9" cy="266" r="1.5"/><circle cx="373.1" cy="272.1" r="1.5"/><circle cx="373.1" cy="288.3" r="1.5"/><circle cx="373.1" cy="262.5" r="1.5"/><circle cx="373.1" cy="255.9" r="1.5"/><circle cx="373.2" cy="277.2" r="1.5"/><circle cx="373.3" cy="259.5" r="1.5"/><circle cx="373.4" cy="276.4" r="1.5"/><circle cx="373.6" cy="260" r="1.5"/><circle cx="373.9" cy="255.4" r="1.5"/><circle cx="374.1" cy="253.9" r="1.5"/><circle cx="374.4" cy="254.5" r="1.5"/><circle cx="374.6" cy="267.9" r="1.5"/><circle cx="375.2" cy="249.4" r="1.5"/><circle cx="375.6" cy="264.9" r="1.5"/><circle cx="375.7" cy="255.6" r="1.5"/><circle cx="375.7" cy="251.4" r="1.5"/><circle cx="375.8" cy="263.3" r="1.5"/><circle cx="376.1" cy="274.7" r="1.5"/><circle cx="376.1" cy="228.2" r="1.5"/><circle cx="376.2" cy="272.8" r="1.5"/><circle cx="376.3" cy="270.2" r="1.5"/><circle cx="376.4" cy="272.6" r="1.5"/><circle cx="376.4" cy="249.9" r="1.5"/><circle cx="376.7" cy="261.7" r="1.5"/><circle cx="376.9" cy="286" r="1.5"/><circle cx="376.9" cy="251.2" r="1.5"/><circle cx="377.1" cy="235.6" r="1.5"/><circle cx="377.2" cy="238.8" r="1.5"/><circle cx="377.3" cy="266.4" r="1.5"/><circle cx="377.3" cy="258.9" r="1.5"/><circle cx="377.5" cy="253.9" r="1.5"/><circle cx="377.7" cy="249.4" r="1.5"/><circle cx="377.7" cy="259.4" r="1.5"/><circle cx="378" cy="272.6" r="1.5"/><circle cx="378.3" cy="251.1" r="1.5"/><circle cx="378.8" cy="252.7" r="1.5"/><circle cx="378.9" cy="275.4" r="1.5"/><circle cx="379" cy="264.2" r="1.5"/><circle cx="379.1" cy="256.8" r="1.5"/><circle cx="379.1" cy="260" r="1.5"/><circle cx="379.1" cy="253.8" r="1.5"/><circle cx="379.1" cy="250.7" r="1.5"/><circle cx="379.2" cy="253.6" r="1.5"/><circle cx="379.4" cy="261.3" r="1.5"/><circle cx="379.6" cy="275.7" r="1.5"/><circle cx="379.8" cy="252.8" r="1.5"/><circle cx="380.1" cy="243.7" r="1.5"/><circle cx="380.1" cy="237" r="1.5"/><circle cx="380.3" cy="260.4" r="1.5"/><circle cx="380.3" cy="260.5" r="1.5"/><circle cx="380.5" cy="243.2" r="1.5"/><circle cx="380.5" cy="243.3" r="1.5"/><circle cx="381" cy="256.1" r="1.5"/><circle cx="381.3" cy="251.8" r="1.5"/><circle cx="381.5" cy="269" r="1.5"/><circle cx="381.7" cy="253.4" r="1.5"/><circle cx="381.7" cy="269.7" r="1.5"/><circle cx="381.8" cy="261.8" r="1.5"/><circle cx="381.9" cy="261.6" r="1.5"/><circle cx="382.4" cy="265.6" r="1.5"/><circle cx="382.6" cy="284.7" r="1.5"/><circle cx="382.8" cy="269.8" r="1.5"/><circle cx="382.8" cy="256.4" r="1.5"/><circle cx="382.9" cy="261" r="1.5"/><circle cx="383" cy="264.8" r="1.5"/><circle cx="383.1" cy="255.3" r="1.5"/><circle cx="383.2" cy="252.3" r="1.5"/><circle cx="383.2" cy="250.5" r="1.5"/><circle cx="383.4" cy="269.6" r="1.5"/><circle cx="383.5" cy="260.1" r="1.5"/><circle cx="383.8" cy="264.2" r="1.5"/><circle cx="384" cy="270.5" r="1.5"/><circle cx="384.3" cy="277.7" r="1.5"/><circle cx="384.4" cy="261.5" r="1.5"/><circle cx="384.9" cy="270.5" r="1.5"/><circle cx="384.9" cy="235.5" r="1.5"/><circle cx="385.2" cy="261.6" r="1.5"/><circle cx="385.3" cy="263.1" r="1.5"/><circle cx="385.3" cy="265.1" r="1.5"/><circle cx="385.5" cy="238.8" r="1.5"/><circle cx="385.6" cy="271.4" r="1.5"/><circle cx="385.7" cy="262.3" r="1.5"/><circle cx="385.8" cy="269.4" r="1.5"/><circle cx="386" cy="262" r="1.5"/><circle cx="386.1" cy="260.9" r="1.5"/><circle cx="386.1" cy="247.8" r="1.5"/><circle cx="386.3" cy="276.9" r="1.5"/><circle cx="386.4" cy="260.8" r="1.5"/><circle cx="386.4" cy="241.9" r="1.5"/><circle cx="386.6" cy="266.4" r="1.5"/><circle cx="387.1" cy="262.6" r="1.5"/><circle cx="387.2" cy="255.6" r="1.5"/><circle cx="387.2" cy="290.8" r="1.5"/><circle cx="387.4" cy="261.8" r="1.5"/><circle cx="387.4" cy="247.1" r="1.5"/><circle cx="387.6" cy="266" r="1.5"/><circle cx="387.6" cy="281.9" r="1.5"/><circle cx="387.6" cy="257.6" r="1.5"/><circle cx="387.6" cy="259.7" r="1.5"/><circle cx="387.7" cy="249.1" r="1.5"/><circle cx="387.8" cy="250.2" r="1.5"/><circle cx="387.8" cy="263.8" r="1.5"/><circle cx="388" cy="256.1" r="1.5"/><circle cx="388.3" cy="281.4" r="1.5"/><circle cx="388.9" cy="247.9" r="1.5"/><circle cx="389.1" cy="258.6" r="1.5"/><circle cx="389.2" cy="248.3" r="1.5"/><circle cx="389.4" cy="248.6" r="1.5"/><circle cx="389.5" cy="264.1" r="1.5"/><circle cx="389.5" cy="262.5" r="1.5"/><circle cx="389.8" cy="270.9" r="1.5"/><circle cx="389.9" cy="284.6" r="1.5"/><circle cx="389.9" cy="262.4" r="1.5"/><circle cx="390" cy="264.8" r="1.5"/><circle cx="390.1" cy="273.3" r="1.5"/><circle cx="390.3" cy="252.7" r="1.5"/><circle cx="390.3" cy="259.7" r="1.5"/><circle cx="390.5" cy="288.9" r="1.5"/><circle cx="390.6" cy="269.7" r="1.5"/><circle cx="390.9" cy="281.2" r="1.5"/><circle cx="391" cy="252" r="1.5"/><circle cx="391.1" cy="253.9" r="1.5"/><circle cx="391.6" cy="262.2" r="1.5"/><circle cx="391.6" cy="265.8" r="1.5"/><circle cx="391.7" cy="264.2" r="1.5"/><circle cx="391.7" cy="262.6" r="1.5"/><circle cx="391.8" cy="266.8" r="1.5"/><circle cx="392.1" cy="284.1" r="1.5"/><circle cx="392.4" cy="252.1" r="1.5"/><circle cx="392.4" cy="278.2" r="1.5"/><circle cx="392.5" cy="264.9" r="1.5"/><circle cx="392.6" cy="264.6" r="1.5"/><circle cx="392.6" cy="258.1" r="1.5"/><circle cx="393.3" cy="279.6" r="1.5"/><circle cx="393.5" cy="247.3" r="1.5"/><circle cx="393.6" cy="253.6" r="1.5"/><circle cx="393.6" cy="252.3" r="1.5"/><circle cx="393.8" cy="246.6" r="1.5"/><circle cx="393.9" cy="270.3" r="1.5"/><circle cx="393.9" cy="297" r="1.5"/><circle cx="394" cy="257.3" r="1.5"/><circle cx="394" cy="246.1" r="1.5"/><circle cx="394.4" cy="247.9" r="1.5"/><circle cx="394.4" cy="267.3" r="1.5"/><circle cx="394.5" cy="262.2" r="1.5"/><circle cx="394.8" cy="257.9" r="1.5"/><circle cx="395.1" cy="281.8" r="1.5"/><circle cx="395.3" cy="249.1" r="1.5"/><circle cx="395.4" cy="268.4" r="1.5"/><circle cx="395.7" cy="243.2" r="1.5"/><circle cx="395.9" cy="268.6" r="1.5"/><circle cx="396.4" cy="243.4" r="1.5"/><circle cx="396.7" cy="261.1" r="1.5"/><circle cx="397" cy="280.3" r="1.5"/><circle cx="397.4" cy="236.3" r="1.5"/><circle cx="397.5" cy="272.3" r="1.5"/><circle cx="397.7" cy="254.4" r="1.5"/><circle cx="398" cy="242.1" r="1.5"/><circle cx="399" cy="267.5" r="1.5"/><circle cx="399.1" cy="275.3" r="1.5"/><circle cx="399.1" cy="249.8" r="1.5"/><circle cx="399.1" cy="260.7" r="1.5"/><circle cx="399.1" cy="275.2" r="1.5"/><circle cx="399.5" cy="273.6" r="1.5"/><circle cx="400.1" cy="265.9" r="1.5"/><circle cx="400.2" cy="250.8" r="1.5"/><circle cx="400.3" cy="264.8" r="1.5"/><circle cx="400.3" cy="254.3" r="1.5"/><circle cx="400.4" cy="243.1" r="1.5"/><circle cx="401" cy="247.5" r="1.5"/><circle cx="401.2" cy="245.7" r="1.5"/><circle cx="401.2" cy="248" r="1.5"/><circle cx="401.3" cy="279.5" r="1.5"/><circle cx="401.3" cy="248.1" r="1.5"/><circle cx="401.3" cy="258" r="1.5"/><circle cx="401.4" cy="263" r="1.5"/><circle cx="401.6" cy="273.7" r="1.5"/><circle cx="401.8" cy="279.3" r="1.5"/><circle cx="401.9" cy="274" r="1.5"/><circle cx="402" cy="262" r="1.5"/><circle cx="402.4" cy="274.8" r="1.5"/><circle cx="402.4" cy="270.8" r="1.5"/><circle cx="402.5" cy="268.6" r="1.5"/><circle cx="402.5" cy="254.4" r="1.5"/><circle cx="403.2" cy="265.1" r="1.5"/><circle cx="403.3" cy="263.5" r="1.5"/><circle cx="403.3" cy="247.2" r="1.5"/><circle cx="403.6" cy="265.4" r="1.5"/><circle cx="404.1" cy="255.3" r="1.5"/><circle cx="404.3" cy="273.5" r="1.5"/><circle cx="404.3" cy="258.3" r="1.5"/><circle cx="404.3" cy="260.6" r="1.5"/><circle cx="404.5" cy="260" r="1.5"/><circle cx="404.5" cy="267.1" r="1.5"/><circle cx="404.5" cy="273.3" r="1.5"/><circle cx="404.5" cy="265.3" r="1.5"/><circle cx="404.6" cy="267.1" r="1.5"/><circle cx="404.9" cy="250.7" r="1.5"/><circle cx="405" cy="252.1" r="1.5"/><circle cx="405" cy="275.2" r="1.5"/><circle cx="405.3" cy="255.2" r="1.5"/><circle cx="405.4" cy="267.3" r="1.5"/><circle cx="405.9" cy="257.1" r="1.5"/><circle cx="405.9" cy="267.3" r="1.5"/><circle cx="406" cy="278.1" r="1.5"/><circle cx="406.1" cy="251.1" r="1.5"/><circle cx="406.4" cy="257.2" r="1.5"/><circle cx="406.5" cy="275.5" r="1.5"/><circle cx="406.9" cy="282.7" r="1.5"/><circle cx="407" cy="268" r="1.5"/><circle cx="407.2" cy="275" r="1.5"/><circle cx="407.2" cy="266.2" r="1.5"/><circle cx="407.3" cy="255.5" r="1.5"/><circle cx="407.5" cy="246.4" r="1.5"/><circle cx="407.5" cy="266.1" r="1.5"/><circle cx="407.9" cy="247.4" r="1.5"/><circle cx="408.1" cy="249.7" r="1.5"/><circle cx="408.1" cy="267" r="1.5"/><circle cx="408.3" cy="280.3" r="1.5"/><circle cx="408.5" cy="253.2" r="1.5"/><circle cx="408.9" cy="255.8" r="1.5"/><circle cx="409.1" cy="237.1" r="1.5"/><circle cx="409.2" cy="247.1" r="1.5"/><circle cx="409.3" cy="254" r="1.5"/><circle cx="409.3" cy="244.3" r="1.5"/><circle cx="409.6" cy="273.7" r="1.5"/><circle cx="409.6" cy="267.3" r="1.5"/><circle cx="409.7" cy="265.4" r="1.5"/><circle cx="409.9" cy="243.8" r="1.5"/><circle cx="410" cy="256.4" r="1.5"/><circle cx="410.2" cy="295.2" r="1.5"/><circle cx="410.3" cy="247.8" r="1.5"/><circle cx="410.5" cy="272.2" r="1.5"/><circle cx="410.5" cy="254.2" r="1.5"/><circle cx="410.7" cy="267.6" r="1.5"/><circle cx="411" cy="259.9" r="1.5"/><circle cx="411.1" cy="255.7" r="1.5"/><circle cx="411.2" cy="260.4" r="1.5"/><circle cx="411.3" cy="274.7" r="1.5"/><circle cx="411.3" cy="247.6" r="1.5"/><circle cx="411.4" cy="258.3" r="1.5"/><circle cx="411.8" cy="262.7" r="1.5"/><circle cx="412" cy="255.1" r="1.5"/><circle cx="412.3" cy="268.2" r="1.5"/><circle cx="412.5" cy="217.1" r="1.5"/><circle cx="412.6" cy="260.2" r="1.5"/><circle cx="412.7" cy="258.7" r="1.5"/><circle cx="412.8" cy="258.9" r="1.5"/><circle cx="412.8" cy="350.8" r="1.5"/><circle cx="413" cy="275" r="1.5"/><circle cx="413" cy="260.3" r="1.5"/><circle cx="413.2" cy="258.9" r="1.5"/><circle cx="413.5" cy="248.5" r="1.5"/><circle cx="413.6" cy="257.9" r="1.5"/><circle cx="413.9" cy="274.2" r="1.5"/><circle cx="414" cy="257.2" r="1.5"/><circle cx="414" cy="254" r="1.5"/><circle cx="414.3" cy="252.2" r="1.5"/><circle cx="414.8" cy="259.3" r="1.5"/><circle cx="414.8" cy="275.6" r="1.5"/><circle cx="415.1" cy="250.7" r="1.5"/><circle cx="415.2" cy="270.5" r="1.5"/><circle cx="415.5" cy="256.9" r="1.5"/><circle cx="415.6" cy="279.3" r="1.5"/><circle cx="415.7" cy="254.9" r="1.5"/><circle cx="415.7" cy="271.1" r="1.5"/><circle cx="416" cy="251.6" r="1.5"/><circle cx="416" cy="244.5" r="1.5"/><circle cx="416.5" cy="250.8" r="1.5"/><circle cx="416.9" cy="275.1" r="1.5"/><circle cx="417.1" cy="272.8" r="1.5"/><circle cx="417.1" cy="272.1" r="1.5"/><circle cx="417.2" cy="256.2" r="1.5"/><circle cx="417.5" cy="259.5" r="1.5"/><circle cx="417.8" cy="261.5" r="1.5"/><circle cx="418" cy="260" r="1.5"/><circle cx="418.1" cy="257.2" r="1.5"/><circle cx="418.8" cy="256.5" r="1.5"/><circle cx="418.9" cy="245.9" r="1.5"/><circle cx="419.4" cy="263.9" r="1.5"/><circle cx="419.8" cy="261.3" r="1.5"/><circle cx="419.8" cy="278.4" r="1.5"/><circle cx="419.8" cy="276.9" r="1.5"/><circle cx="420.1" cy="270.5" r="1.5"/><circle cx="420.1" cy="275.5" r="1.5"/><circle cx="420.1" cy="261.2" r="1.5"/><circle cx="420.2" cy="252.8" r="1.5"/><circle cx="420.3" cy="267.9" r="1.5"/><circle cx="420.5" cy="268.4" r="1.5"/><circle cx="420.5" cy="268.7" r="1.5"/><circle cx="420.6" cy="263.9" r="1.5"/><circle cx="420.8" cy="269.1" r="1.5"/><circle cx="421" cy="259.2" r="1.5"/><circle cx="421.1" cy="260.5" r="1.5"/><circle cx="421.2" cy="260.1" r="1.5"/><circle cx="421.3" cy="255.8" r="1.5"/><circle cx="421.6" cy="263.3" r="1.5"/><circle cx="421.6" cy="262.2" r="1.5"/><circle cx="421.9" cy="245.9" r="1.5"/><circle cx="421.9" cy="264.2" r="1.5"/><circle cx="422" cy="255.6" r="1.5"/><circle cx="422.3" cy="263.2" r="1.5"/><circle cx="422.4" cy="268.4" r="1.5"/><circle cx="422.4" cy="268.4" r="1.5"/><circle cx="422.8" cy="272.1" r="1.5"/><circle cx="422.8" cy="263.7" r="1.5"/><circle cx="423.1" cy="270" r="1.5"/><circle cx="424.1" cy="268.2" r="1.5"/><circle cx="424.1" cy="251.7" r="1.5"/><circle cx="424.1" cy="265.3" r="1.5"/><circle cx="424.1" cy="324.1" r="1.5"/><circle cx="424.3" cy="261.3" r="1.5"/><circle cx="424.6" cy="315.3" r="1.5"/><circle cx="425.3" cy="270.2" r="1.5"/><circle cx="425.5" cy="242.2" r="1.5"/><circle cx="425.9" cy="238" r="1.5"/><circle cx="426.3" cy="256" r="1.5"/><circle cx="426.3" cy="254.3" r="1.5"/><circle cx="426.4" cy="261.9" r="1.5"/><circle cx="426.4" cy="255.7" r="1.5"/><circle cx="426.8" cy="275.8" r="1.5"/><circle cx="426.8" cy="272.7" r="1.5"/><circle cx="427" cy="260.1" r="1.5"/><circle cx="427.1" cy="256.2" r="1.5"/><circle cx="427.2" cy="268.4" r="1.5"/><circle cx="427.4" cy="266.2" r="1.5"/><circle cx="427.5" cy="268" r="1.5"/><circle cx="427.5" cy="266.3" r="1.5"/><circle cx="427.6" cy="232.6" r="1.5"/><circle cx="427.8" cy="278.6" r="1.5"/><circle cx="428.1" cy="265.3" r="1.5"/><circle cx="428.1" cy="281.6" r="1.5"/><circle cx="428.3" cy="269.6" r="1.5"/><circle cx="428.3" cy="271" r="1.5"/><circle cx="428.6" cy="274.9" r="1.5"/><circle cx="428.7" cy="262.3" r="1.5"/><circle cx="428.9" cy="269" r="1.5"/><circle cx="428.9" cy="265.4" r="1.5"/><circle cx="429" cy="242.2" r="1.5"/><circle cx="429" cy="271.9" r="1.5"/><circle cx="429.5" cy="259.7" r="1.5"/><circle cx="429.6" cy="261.2" r="1.5"/><circle cx="429.8" cy="269.3" r="1.5"/><circle cx="429.9" cy="232.6" r="1.5"/><circle cx="430" cy="263" r="1.5"/><circle cx="430.3" cy="263.3" r="1.5"/><circle cx="430.4" cy="249.4" r="1.5"/><circle cx="430.5" cy="268.8" r="1.5"/><circle cx="430.6" cy="260.8" r="1.5"/><circle cx="430.8" cy="260.9" r="1.5"/><circle cx="431" cy="267.3" r="1.5"/><circle cx="431.3" cy="276.3" r="1.5"/><circle cx="431.6" cy="258.4" r="1.5"/><circle cx="431.6" cy="262.5" r="1.5"/><circle cx="432" cy="264.6" r="1.5"/><circle cx="432" cy="264.9" r="1.5"/><circle cx="432.1" cy="265" r="1.5"/><circle cx="432.6" cy="273.8" r="1.5"/><circle cx="432.9" cy="262.5" r="1.5"/><circle cx="432.9" cy="282.6" r="1.5"/><circle cx="433.2" cy="265.6" r="1.5"/><circle cx="433.3" cy="279.7" r="1.5"/><circle cx="433.4" cy="268.7" r="1.5"/><circle cx="433.8" cy="258.6" r="1.5"/><circle cx="434.6" cy="268" r="1.5"/><circle cx="434.8" cy="270.1" r="1.5"/><circle cx="434.8" cy="260.7" r="1.5"/><circle cx="434.8" cy="268.1" r="1.5"/><circle cx="434.9" cy="269.5" r="1.5"/><circle cx="435.1" cy="269.4" r="1.5"/><circle cx="435.1" cy="251.2" r="1.5"/><circle cx="435.2" cy="259.3" r="1.5"/><circle cx="435.2" cy="220.5" r="1.5"/><circle cx="435.5" cy="277" r="1.5"/><circle cx="435.6" cy="259.8" r="1.5"/><circle cx="435.6" cy="278" r="1.5"/><circle cx="435.8" cy="261.2" r="1.5"/><circle cx="435.9" cy="276.3" r="1.5"/><circle cx="436.2" cy="247.3" r="1.5"/><circle cx="436.4" cy="281.7" r="1.5"/><circle cx="436.5" cy="254.3" r="1.5"/><circle cx="436.6" cy="258.3" r="1.5"/><circle cx="437.1" cy="282.6" r="1.5"/><circle cx="437.5" cy="268.2" r="1.5"/><circle cx="437.8" cy="252.4" r="1.5"/><circle cx="438.7" cy="255.5" r="1.5"/><circle cx="439.1" cy="281.6" r="1.5"/><circle cx="439.6" cy="271" r="1.5"/><circle cx="439.8" cy="277.1" r="1.5"/><circle cx="440" cy="275.8" r="1.5"/><circle cx="440.4" cy="272.3" r="1.5"/><circle cx="440.9" cy="249.3" r="1.5"/><circle cx="441.2" cy="265.2" r="1.5"/><circle cx="441.3" cy="268.5" r="1.5"/><circle cx="441.7" cy="269.5" r="1.5"/><circle cx="441.8" cy="260.3" r="1.5"/><circle cx="441.8" cy="260.1" r="1.5"/><circle cx="442.3" cy="275" r="1.5"/><circle cx="442.3" cy="253.1" r="1.5"/><circle cx="442.4" cy="276.5" r="1.5"/><circle cx="442.6" cy="269.1" r="1.5"/><circle cx="442.6" cy="262.4" r="1.5"/><circle cx="442.6" cy="250.9" r="1.5"/><circle cx="442.8" cy="269.8" r="1.5"/><circle cx="443.1" cy="264" r="1.5"/><circle cx="443.3" cy="254.8" r="1.5"/><circle cx="443.4" cy="261" r="1.5"/><circle cx="443.5" cy="256.4" r="1.5"/><circle cx="443.6" cy="257.2" r="1.5"/><circle cx="443.6" cy="264.3" r="1.5"/><circle cx="443.8" cy="261" r="1.5"/><circle cx="444" cy="258.4" r="1.5"/><circle cx="444.1" cy="267" r="1.5"/><circle cx="444.2" cy="252.2" r="1.5"/><circle cx="444.3" cy="284.8" r="1.5"/><circle cx="444.6" cy="275.1" r="1.5"/><circle cx="444.8" cy="253.7" r="1.5"/><circle cx="444.9" cy="263" r="1.5"/><circle cx="445" cy="272.6" r="1.5"/><circle cx="445.2" cy="263.4" r="1.5"/><circle cx="445.3" cy="257" r="1.5"/><circle cx="445.7" cy="271.9" r="1.5"/><circle cx="445.8" cy="260" r="1.5"/><circle cx="446.1" cy="284.2" r="1.5"/><circle cx="446.1" cy="268" r="1.5"/><circle cx="446.4" cy="267.6" r="1.5"/><circle cx="446.6" cy="257" r="1.5"/><circle cx="446.8" cy="277" r="1.5"/><circle cx="446.8" cy="270.3" r="1.5"/><circle cx="447.5" cy="261.2" r="1.5"/><circle cx="447.6" cy="278" r="1.5"/><circle cx="447.7" cy="281.2" r="1.5"/><circle cx="447.8" cy="262" r="1.5"/><circle cx="447.8" cy="267.1" r="1.5"/><circle cx="447.9" cy="268.4" r="1.5"/><circle cx="448.1" cy="305.1" r="1.5"/><circle cx="448.2" cy="275.8" r="1.5"/><circle cx="448.2" cy="241.2" r="1.5"/><circle cx="448.5" cy="275.9" r="1.5"/><circle cx="448.6" cy="271.1" r="1.5"/><circle cx="448.6" cy="277.1" r="1.5"/><circle cx="449.1" cy="270.9" r="1.5"/><circle cx="449.2" cy="253.8" r="1.5"/><circle cx="449.5" cy="267.1" r="1.5"/><circle cx="449.6" cy="262.1" r="1.5"/><circle cx="449.8" cy="271.6" r="1.5"/><circle cx="449.9" cy="251.4" r="1.5"/><circle cx="450.3" cy="265.9" r="1.5"/><circle cx="450.5" cy="278.4" r="1.5"/><circle cx="450.6" cy="260.6" r="1.5"/><circle cx="451.3" cy="270.7" r="1.5"/><circle cx="451.4" cy="262.2" r="1.5"/><circle cx="451.4" cy="266.3" r="1.5"/><circle cx="451.6" cy="265.2" r="1.5"/><circle cx="451.7" cy="266.3" r="1.5"/><circle cx="451.9" cy="222" r="1.5"/><circle cx="452" cy="280.7" r="1.5"/><circle cx="452.6" cy="259.2" r="1.5"/><circle cx="452.8" cy="268.8" r="1.5"/><circle cx="453.3" cy="265.2" r="1.5"/><circle cx="453.6" cy="282.8" r="1.5"/><circle cx="453.6" cy="285.2" r="1.5"/><circle cx="454.1" cy="278.8" r="1.5"/><circle cx="454.1" cy="230.5" r="1.5"/><circle cx="454.3" cy="274.6" r="1.5"/><circle cx="454.4" cy="271.1" r="1.5"/><circle cx="454.5" cy="280.5" r="1.5"/><circle cx="454.6" cy="272.4" r="1.5"/><circle cx="454.8" cy="271.1" r="1.5"/><circle cx="454.8" cy="269.8" r="1.5"/><circle cx="454.9" cy="268.5" r="1.5"/><circle cx="455.4" cy="273.4" r="1.5"/><circle cx="455.4" cy="272.9" r="1.5"/><circle cx="455.5" cy="268.1" r="1.5"/><circle cx="455.8" cy="265.3" r="1.5"/><circle cx="455.9" cy="269.2" r="1.5"/><circle cx="456" cy="253.2" r="1.5"/><circle cx="456.5" cy="266.3" r="1.5"/><circle cx="457" cy="266.8" r="1.5"/><circle cx="457.1" cy="273.7" r="1.5"/><circle cx="457.2" cy="259.5" r="1.5"/><circle cx="457.2" cy="276.8" r="1.5"/><circle cx="457.4" cy="281.9" r="1.5"/><circle cx="457.4" cy="276.4" r="1.5"/><circle cx="457.5" cy="263" r="1.5"/><circle cx="457.7" cy="277.9" r="1.5"/><circle cx="458" cy="257.4" r="1.5"/><circle cx="458.5" cy="268.5" r="1.5"/><circle cx="459.6" cy="281" r="1.5"/><circle cx="460.7" cy="270.3" r="1.5"/><circle cx="460.9" cy="253.5" r="1.5"/><circle cx="461.1" cy="275.5" r="1.5"/><circle cx="461.5" cy="279.2" r="1.5"/><circle cx="461.6" cy="258.4" r="1.5"/><circle cx="462" cy="257.6" r="1.5"/><circle cx="462.1" cy="260" r="1.5"/><circle cx="462.1" cy="271.1" r="1.5"/><circle cx="462.7" cy="266.9" r="1.5"/><circle cx="462.7" cy="265.7" r="1.5"/><circle cx="463.1" cy="258.8" r="1.5"/><circle cx="464" cy="250.9" r="1.5"/><circle cx="464.3" cy="269.3" r="1.5"/><circle cx="464.3" cy="257.8" r="1.5"/><circle cx="464.4" cy="271.3" r="1.5"/><circle cx="464.5" cy="263.7" r="1.5"/><circle cx="464.6" cy="276.1" r="1.5"/><circle cx="464.9" cy="274.7" r="1.5"/><circle cx="465.1" cy="265.1" r="1.5"/><circle cx="465.4" cy="275.8" r="1.5"/><circle cx="465.5" cy="261.3" r="1.5"/><circle cx="465.6" cy="272.9" r="1.5"/><circle cx="465.7" cy="267.9" r="1.5"/><circle cx="466.1" cy="269.2" r="1.5"/><circle cx="466.2" cy="271.2" r="1.5"/><circle cx="466.4" cy="277.1" r="1.5"/><circle cx="466.5" cy="259.8" r="1.5"/><circle cx="467.2" cy="243.6" r="1.5"/><circle cx="467.8" cy="278" r="1.5"/><circle cx="467.8" cy="266.1" r="1.5"/><circle cx="468.4" cy="237.4" r="1.5"/><circle cx="469.6" cy="275.8" r="1.5"/><circle cx="470.2" cy="266.3" r="1.5"/><circle cx="470.6" cy="275.5" r="1.5"/><circle cx="471.6" cy="269.2" r="1.5"/><circle cx="471.6" cy="258.9" r="1.5"/><circle cx="472.3" cy="284.4" r="1.5"/><circle cx="472.7" cy="266.7" r="1.5"/><circle cx="472.8" cy="265.2" r="1.5"/><circle cx="472.9" cy="276.1" r="1.5"/><circle cx="473" cy="312.6" r="1.5"/><circle cx="473" cy="265.9" r="1.5"/><circle cx="473.4" cy="271.4" r="1.5"/><circle cx="473.9" cy="259.3" r="1.5"/><circle cx="474" cy="263.5" r="1.5"/><circle cx="474.2" cy="263.7" r="1.5"/><circle cx="475.7" cy="270.5" r="1.5"/><circle cx="476.3" cy="276.8" r="1.5"/><circle cx="476.4" cy="270.1" r="1.5"/><circle cx="476.6" cy="271.4" r="1.5"/><circle cx="476.8" cy="262.5" r="1.5"/><circle cx="477.2" cy="280.1" r="1.5"/><circle cx="477.2" cy="270.2" r="1.5"/><circle cx="477.3" cy="272.2" r="1.5"/><circle cx="477.3" cy="256.8" r="1.5"/><circle cx="477.8" cy="277.3" r="1.5"/><circle cx="478" cy="260.8" r="1.5"/><circle cx="478.1" cy="282.1" r="1.5"/><circle cx="478.3" cy="266.2" r="1.5"/><circle cx="478.3" cy="269.8" r="1.5"/><circle cx="478.5" cy="266" r="1.5"/><circle cx="479" cy="274.1" r="1.5"/><circle cx="479.2" cy="283.5" r="1.5"/><circle cx="479.4" cy="280.5" r="1.5"/><circle cx="480.2" cy="259.1" r="1.5"/><circle cx="480.3" cy="267.3" r="1.5"/><circle cx="480.4" cy="272.3" r="1.5"/><circle cx="480.6" cy="262.2" r="1.5"/><circle cx="480.8" cy="274.5" r="1.5"/><circle cx="480.9" cy="274.4" r="1.5"/><circle cx="481.6" cy="278" r="1.5"/><circle cx="481.7" cy="260.2" r="1.5"/><circle cx="481.8" cy="254.4" r="1.5"/><circle cx="481.8" cy="276.1" r="1.5"/><circle cx="481.8" cy="266.8" r="1.5"/><circle cx="482.2" cy="261.8" r="1.5"/><circle cx="482.5" cy="253.4" r="1.5"/><circle cx="482.8" cy="286.7" r="1.5"/><circle cx="482.8" cy="268" r="1.5"/><circle cx="482.8" cy="264.3" r="1.5"/><circle cx="482.9" cy="279.9" r="1.5"/><circle cx="483" cy="266" r="1.5"/><circle cx="483.4" cy="267.6" r="1.5"/><circle cx="483.5" cy="263.8" r="1.5"/><circle cx="483.6" cy="273.3" r="1.5"/><circle cx="483.8" cy="266" r="1.5"/><circle cx="484.2" cy="273.5" r="1.5"/><circle cx="484.6" cy="264.7" r="1.5"/><circle cx="484.8" cy="268" r="1.5"/><circle cx="485.1" cy="271.9" r="1.5"/><circle cx="485.2" cy="279.4" r="1.5"/><circle cx="485.3" cy="257.2" r="1.5"/><circle cx="485.7" cy="261.1" r="1.5"/><circle cx="486.1" cy="262.8" r="1.5"/><circle cx="486.4" cy="274" r="1.5"/><circle cx="487.3" cy="271.7" r="1.5"/><circle cx="487.3" cy="309.6" r="1.5"/><circle cx="487.5" cy="263.8" r="1.5"/><circle cx="487.8" cy="275.3" r="1.5"/><circle cx="488.5" cy="269" r="1.5"/><circle cx="488.6" cy="268.2" r="1.5"/><circle cx="488.9" cy="270.6" r="1.5"/><circle cx="489" cy="275.9" r="1.5"/><circle cx="489" cy="260.3" r="1.5"/><circle cx="489.3" cy="265" r="1.5"/><circle cx="489.9" cy="270.6" r="1.5"/><circle cx="489.9" cy="280.3" r="1.5"/><circle cx="490" cy="273.3" r="1.5"/><circle cx="490.2" cy="269.2" r="1.5"/><circle cx="490.8" cy="263.1" r="1.5"/><circle cx="492.2" cy="271.8" r="1.5"/><circle cx="492.4" cy="261.5" r="1.5"/><circle cx="492.5" cy="268.3" r="1.5"/><circle cx="492.8" cy="274.4" r="1.5"/><circle cx="492.8" cy="288.6" r="1.5"/><circle cx="492.9" cy="277.4" r="1.5"/><circle cx="493.2" cy="279.6" r="1.5"/><circle cx="493.6" cy="270.3" r="1.5"/><circle cx="493.9" cy="266.9" r="1.5"/><circle cx="494.1" cy="259.7" r="1.5"/><circle cx="494.7" cy="269.3" r="1.5"/><circle cx="494.7" cy="277.2" r="1.5"/><circle cx="495.2" cy="253.2" r="1.5"/><circle cx="495.2" cy="267.1" r="1.5"/><circle cx="495.5" cy="217.7" r="1.5"/><circle cx="495.8" cy="271" r="1.5"/><circle cx="495.9" cy="278.5" r="1.5"/><circle cx="496" cy="264.9" r="1.5"/><circle cx="496.4" cy="266.7" r="1.5"/><circle cx="496.6" cy="258.5" r="1.5"/><circle cx="496.8" cy="261.8" r="1.5"/><circle cx="496.9" cy="263.4" r="1.5"/><circle cx="497" cy="260.7" r="1.5"/><circle cx="497" cy="271.2" r="1.5"/><circle cx="497.1" cy="272.2" r="1.5"/><circle cx="498" cy="282.1" r="1.5"/><circle cx="498.2" cy="277.6" r="1.5"/><circle cx="498.6" cy="270.2" r="1.5"/><circle cx="498.9" cy="271.5" r="1.5"/><circle cx="499.9" cy="277.9" r="1.5"/><circle cx="500.3" cy="269.4" r="1.5"/></g>
<polyline points="291,284.7 292.8,283.8 294.5,282.9 296.3,282.1 298.1,281.2 299.8,280.4 301.6,279.6 303.3,278.8 305.1,278 306.9,277.2 308.6,276.5 310.4,275.7 312.1,275 313.9,274.3 315.7,273.7 317.4,273 319.2,272.4 320.9,271.8 322.7,271.2 324.5,270.7 326.2,270.2 328,269.7 329.7,269.2 331.5,268.8 333.3,268.3 335,267.9 336.8,267.5 338.5,267.2 340.3,266.8 342.1,266.5 343.8,266.2 345.6,265.9 347.3,265.6 349.1,265.4 350.9,265.1 352.6,264.9 354.4,264.7 356.1,264.5 357.9,264.3 359.7,264.1 361.4,264 363.2,263.8 365,263.7 366.7,263.5 368.5,263.4 370.2,263.3 372,263.2 373.8,263.1 375.5,263 377.3,262.9 379,262.8 380.8,262.7 382.6,262.6 384.3,262.6 386.1,262.5 387.8,262.5 389.6,262.4 391.4,262.3 393.1,262.3 394.9,262.3 396.6,262.2 398.4,262.2 400.2,262.1 401.9,262.1 403.7,262.1 405.4,262 407.2,262 409,262 410.7,262 412.5,261.9 414.2,261.9 416,261.9 417.8,261.9 419.5,261.9 421.3,261.8 423,261.8 424.8,261.8 426.6,261.8 428.3,261.8 430.1,261.8 431.8,261.8 433.6,261.8 435.4,261.8 437.1,261.7 438.9,261.7 440.6,261.7 442.4,261.7 444.2,261.7 445.9,261.7 447.7,261.7 449.4,261.7 451.2,261.7 453,261.7 454.7,261.7 456.5,261.7 458.3,261.7 460,261.7 461.8,261.7 463.5,261.7 465.3,261.7 467.1,261.7 468.8,261.7 470.6,261.7 472.3,261.7 474.1,261.7 475.9,261.7 477.6,261.7 479.4,261.7 481.1,261.7 482.9,261.7 484.7,261.7 486.4,261.7 488.2,261.7 489.9,261.7 491.7,261.7 493.5,261.7 495.2,261.7 497,261.6 498.7,261.6 500.5,261.6" fill="none" stroke="#ff00ff" stroke-width="2.2"/>
</g>
<rect x="394.8" y="291.8" width="102.3" height="25.2" rx="2" fill="#fff" fill-opacity="0.8" stroke="#d0d0d0" stroke-width="0.6"/>
<line x1="397.3" y1="298.1" x2="414.9" y2="298.1" stroke="#ff00ff" stroke-width="2.2" />
<path d="M405.8 304.8V315M403.8 304.8h4M403.8 315h4" stroke="#000" stroke-width="0.8" fill="none"/><circle cx="405.8" cy="309.9" r="1.5" fill="#fff" stroke="#000" stroke-width="0.6"/>
<text x="420.6" y="301" font-size="8.48" text-anchor="start" font-family="'Liberation Sans', sans-serif" fill="#000" textLength="72.03" lengthAdjust="spacingAndGlyphs" >Tanh model (Disk)</text>
<text x="420.6" y="313" font-size="8.48" text-anchor="start" font-family="'Liberation Sans', sans-serif" fill="#000" textLength="55.7" lengthAdjust="spacingAndGlyphs" >MaNGa (data)</text>
<rect x="292.2" y="168" width="180.3" height="14.1" rx="2.5" fill="#fff" stroke="#000" stroke-width="0.8"/>
<text x="294.6" y="177.5" font-size="8.48" text-anchor="start" font-family="'Liberation Sans', sans-serif" fill="#000" textLength="174.08" lengthAdjust="spacingAndGlyphs" ><tspan>PA=5.9, Inc=0.59, </tspan><tspan font-style="italic">V</tspan><tspan font-size="5.93" dy="1.8">shift</tspan><tspan dy="-1.8">=-12.3, </tspan><tspan font-style="italic">χ</tspan><tspan font-size="5.93" dy="-3.2">2</tspan><tspan dy="3.2">/dof = 4.3</tspan></text>
<rect x="288.9" y="165.4" width="211.6" height="156.4" fill="none" stroke="#000" stroke-width="1"/>
<line x1="288.9" y1="321.8" x2="288.9" y2="317.3" stroke="#000" stroke-width="0.9" />
<line x1="288.9" y1="165.4" x2="288.9" y2="169.9" stroke="#000" stroke-width="0.9" />
<line x1="310.06" y1="321.8" x2="310.06" y2="319.3" stroke="#000" stroke-width="0.9" />
<line x1="310.06" y1="165.4" x2="310.06" y2="167.9" stroke="#000" stroke-width="0.9" />
<line x1="331.22" y1="321.8" x2="331.22" y2="317.3" stroke="#000" stroke-width="0.9" />
<line x1="331.22" y1="165.4" x2="331.22" y2="169.9" stroke="#000" stroke-width="0.9" />
<line x1="352.38" y1="321.8" x2="352.38" y2="319.3" stroke="#000" stroke-width="0.9" />
<line x1="352.38" y1="165.4" x2="352.38" y2="167.9" stroke="#000" stroke-width="0.9" />
<line x1="373.54" y1="321.8" x2="373.54" y2="317.3" stroke="#000" stroke-width="0.9" />
<line x1="373.54" y1="165.4" x2="373.54" y2="169.9" stroke="#000" stroke-width="0.9" />
<line x1="394.7" y1="321.8" x2="394.7" y2="319.3" stroke="#000" stroke-width="0.9" />
<line x1="394.7" y1="165.4" x2="394.7" y2="167.9" stroke="#000" stroke-width="0.9" />
<line x1="415.86" y1="321.8" x2="415.86" y2="317.3" stroke="#000" stroke-width="0.9" />
<line x1="415.86" y1="165.4" x2="415.86" y2="169.9" stroke="#000" stroke-width="0.9" />
<line x1="437.02" y1="321.8" x2="437.02" y2="319.3" stroke="#000" stroke-width="0.9" />
<line x1="437.02" y1="165.4" x2="437.02" y2="167.9" stroke="#000" stroke-width="0.9" />
<line x1="458.18" y1="321.8" x2="458.18" y2="317.3" stroke="#000" stroke-width="0.9" />
<line x1="458.18" y1="165.4" x2="458.18" y2="169.9" stroke="#000" stroke-width="0.9" />
<line x1="479.34" y1="321.8" x2="479.34" y2="319.3" stroke="#000" stroke-width="0.9" />
<line x1="479.34" y1="165.4" x2="479.34" y2="167.9" stroke="#000" stroke-width="0.9" />
<line x1="500.5" y1="321.8" x2="500.5" y2="317.3" stroke="#000" stroke-width="0.9" />
<line x1="500.5" y1="165.4" x2="500.5" y2="169.9" stroke="#000" stroke-width="0.9" />
<line x1="288.9" y1="321.79" x2="291.4" y2="321.79" stroke="#000" stroke-width="0.9" />
<line x1="500.5" y1="321.79" x2="498" y2="321.79" stroke="#000" stroke-width="0.9" />
<line x1="288.9" y1="309.76" x2="293.4" y2="309.76" stroke="#000" stroke-width="0.9" />
<line x1="500.5" y1="309.76" x2="496" y2="309.76" stroke="#000" stroke-width="0.9" />
<line x1="288.9" y1="297.73" x2="291.4" y2="297.73" stroke="#000" stroke-width="0.9" />
<line x1="500.5" y1="297.73" x2="498" y2="297.73" stroke="#000" stroke-width="0.9" />
<line x1="288.9" y1="285.7" x2="293.4" y2="285.7" stroke="#000" stroke-width="0.9" />
<line x1="500.5" y1="285.7" x2="496" y2="285.7" stroke="#000" stroke-width="0.9" />
<line x1="288.9" y1="273.67" x2="291.4" y2="273.67" stroke="#000" stroke-width="0.9" />
<line x1="500.5" y1="273.67" x2="498" y2="273.67" stroke="#000" stroke-width="0.9" />
<line x1="288.9" y1="261.64" x2="293.4" y2="261.64" stroke="#000" stroke-width="0.9" />
<line x1="500.5" y1="261.64" x2="496" y2="261.64" stroke="#000" stroke-width="0.9" />
<line x1="288.9" y1="249.61" x2="291.4" y2="249.61" stroke="#000" stroke-width="0.9" />
<line x1="500.5" y1="249.61" x2="498" y2="249.61" stroke="#000" stroke-width="0.9" />
<line x1="288.9" y1="237.58" x2="293.4" y2="237.58" stroke="#000" stroke-width="0.9" />
<line x1="500.5" y1="237.58" x2="496" y2="237.58" stroke="#000" stroke-width="0.9" />
<line x1="288.9" y1="225.55" x2="291.4" y2="225.55" stroke="#000" stroke-width="0.9" />
<line x1="500.5" y1="225.55" x2="498" y2="225.55" stroke="#000" stroke-width="0.9" />
<line x1="288.9" y1="213.52" x2="293.4" y2="213.52" stroke="#000" stroke-width="0.9" />
<line x1="500.5" y1="213.52" x2="496" y2="213.52" stroke="#000" stroke-width="0.9" />
<line x1="288.9" y1="201.49" x2="291.4" y2="201.49" stroke="#000" stroke-width="0.9" />
<line x1="500.5" y1="201.49" x2="498" y2="201.49" stroke="#000" stroke-width="0.9" />
<line x1="288.9" y1="189.46" x2="293.4" y2="189.46" stroke="#000" stroke-width="0.9" />
<line x1="500.5" y1="189.46" x2="496" y2="189.46" stroke="#000" stroke-width="0.9" />
<line x1="288.9" y1="177.43" x2="291.4" y2="177.43" stroke="#000" stroke-width="0.9" />
<line x1="500.5" y1="177.43" x2="498" y2="177.43" stroke="#000" stroke-width="0.9" />
<line x1="288.9" y1="165.4" x2="293.4" y2="165.4" stroke="#000" stroke-width="0.9" />
<line x1="500.5" y1="165.4" x2="496" y2="165.4" stroke="#000" stroke-width="0.9" />
<text x="288.9" y="330.2" font-size="8.48" text-anchor="middle" font-family="'Liberation Sans', sans-serif" fill="#000" textLength="5.09" lengthAdjust="spacingAndGlyphs" >0</text>
<text x="331.22" y="330.2" font-size="8.48" text-anchor="middle" font-family="'Liberation Sans', sans-serif" fill="#000" textLength="5.09" lengthAdjust="spacingAndGlyphs" >2</text>
<text x="373.54" y="330.2" font-size="8.48" text-anchor="middle" font-family="'Liberation Sans', sans-serif" fill="#000" textLength="5.09" lengthAdjust="spacingAndGlyphs" >4</text>
<text x="415.86" y="330.2" font-size="8.48" text-anchor="middle" font-family="'Liberation Sans', sans-serif" fill="#000" textLength="5.09" lengthAdjust="spacingAndGlyphs" >6</text>
<text x="458.18" y="330.2" font-size="8.48" text-anchor="middle" font-family="'Liberation Sans', sans-serif" fill="#000" textLength="5.09" lengthAdjust="spacingAndGlyphs" >8</text>
<text x="500.5" y="330.2" font-size="8.48" text-anchor="middle" font-family="'Liberation Sans', sans-serif" fill="#000" textLength="10.18" lengthAdjust="spacingAndGlyphs" >10</text>
<text x="285.7" y="313.66" font-size="8.48" text-anchor="end" font-family="'Liberation Sans', sans-serif" fill="#000" textLength="21.97" lengthAdjust="spacingAndGlyphs" >−200</text>
<text x="285.7" y="289.6" font-size="8.48" text-anchor="end" font-family="'Liberation Sans', sans-serif" fill="#000" textLength="5.09" lengthAdjust="spacingAndGlyphs" >0</text>
<text x="285.7" y="265.54" font-size="8.48" text-anchor="end" font-family="'Liberation Sans', sans-serif" fill="#000" textLength="15.27" lengthAdjust="spacingAndGlyphs" >200</text>
<text x="285.7" y="241.48" font-size="8.48" text-anchor="end" font-family="'Liberation Sans', sans-serif" fill="#000" textLength="15.27" lengthAdjust="spacingAndGlyphs" >400</text>
<text x="285.7" y="217.42" font-size="8.48" text-anchor="end" font-family="'Liberation Sans', sans-serif" fill="#000" textLength="15.27" lengthAdjust="spacingAndGlyphs" >600</text>
<text x="285.7" y="193.36" font-size="8.48" text-anchor="end" font-family="'Liberation Sans', sans-serif" fill="#000" textLength="15.27" lengthAdjust="spacingAndGlyphs" >800</text>
<text x="285.7" y="169.3" font-size="8.48" text-anchor="end" font-family="'Liberation Sans', sans-serif" fill="#000" textLength="20.36" lengthAdjust="spacingAndGlyphs" >1000</text>
<text x="394.7" y="162.6" font-size="8.48" text-anchor="middle" font-family="'Liberation Sans', sans-serif" fill="#000" textLength="92.22" lengthAdjust="spacingAndGlyphs" >Rotation velocity curve</text>
<text x="394.7" y="339.8" font-size="8.48" text-anchor="middle" font-family="'Liberation Sans', sans-serif" fill="#000" textLength="49.72" lengthAdjust="spacingAndGlyphs" >Radius (kpc)</text>
<text x="261.2" y="243.6" font-size="8.48" text-anchor="middle" font-family="'Liberation Sans', sans-serif" fill="#000" textLength="95.34" lengthAdjust="spacingAndGlyphs" transform="rotate(-90 261.2 243.6)">Rotation velocity (km/s)</text>
<clipPath id="radclip"><rect x="543.8" y="165.4" width="211.2" height="156.4"/></clipPath>
<g clip-path="url(#radclip)">
<polyline points="563,191.5 564.9,191 566.9,190.5 568.8,190.1 570.8,189.6 572.7,189.2 574.6,188.7 576.6,188.3 578.5,187.9 580.5,187.4 582.4,187 584.3,186.6 586.3,186.2 588.2,185.8 590.2,185.4 592.1,185 594,184.7 596,184.3 597.9,184 599.8,183.6 601.8,183.3 603.7,183 605.7,182.7 607.6,182.4 609.5,182.1 611.5,181.9 613.4,181.6 615.4,181.4 617.3,181.1 619.2,180.9 621.2,180.7 623.1,180.5 625.1,180.3 627,180.1 628.9,179.9 630.9,179.8 632.8,179.6 634.8,179.4 636.7,179.3 638.6,179.2 640.6,179 642.5,178.9 644.5,178.8 646.4,178.7 648.3,178.6 650.3,178.5 652.2,178.4 654.2,178.3 656.1,178.2 658,178.1 660,178.1 661.9,178 663.8,177.9 665.8,177.9 667.7,177.8 669.7,177.7 671.6,177.7 673.5,177.6 675.5,177.6 677.4,177.6 679.4,177.5 681.3,177.5 683.2,177.4 685.2,177.4 687.1,177.4 689.1,177.3 691,177.3 692.9,177.3 694.9,177.3 696.8,177.2 698.8,177.2 700.7,177.2 702.6,177.2 704.6,177.2 706.5,177.1 708.5,177.1 710.4,177.1 712.3,177.1 714.3,177.1 716.2,177.1 718.2,177.1 720.1,177 722,177 724,177 725.9,177 727.8,177 729.8,177 731.7,177 733.7,177 735.6,177 737.5,177 739.5,177 741.4,177 743.4,176.9 745.3,176.9 747.2,176.9 749.2,176.9 751.1,176.9 753.1,176.9 755,176.9" fill="none" stroke="#ff0000" stroke-width="1.3"/>
<polyline points="563,191.5 564.9,191.9 566.9,192.3 568.8,192.7 570.8,193.1 572.7,193.5 574.6,193.9 576.6,194.3 578.5,194.7 580.5,195 582.4,195.4 584.3,195.8 586.3,196.2 588.2,196.5 590.2,196.9 592.1,197.2 594,197.5 596,197.9 597.9,198.2 599.8,198.5 601.8,198.8 603.7,199.1 605.7,199.4 607.6,199.7 609.5,200 611.5,200.2 613.4,200.5 615.4,200.7 617.3,200.9 619.2,201.2 621.2,201.4 623.1,201.6 625.1,201.8 627,202 628.9,202.2 630.9,202.4 632.8,202.5 634.8,202.7 636.7,202.9 638.6,203 640.6,203.2 642.5,203.3 644.5,203.4 646.4,203.5 648.3,203.7 650.3,203.8 652.2,203.9 654.2,204 656.1,204.1 658,204.2 660,204.3 661.9,204.4 663.8,204.4 665.8,204.5 667.7,204.6 669.7,204.7 671.6,204.7 673.5,204.8 675.5,204.8 677.4,204.9 679.4,205 681.3,205 683.2,205.1 685.2,205.1 687.1,205.1 689.1,205.2 691,205.2 692.9,205.3 694.9,205.3 696.8,205.3 698.8,205.4 700.7,205.4 702.6,205.4 704.6,205.5 706.5,205.5 708.5,205.5 710.4,205.5 712.3,205.5 714.3,205.6 716.2,205.6 718.2,205.6 720.1,205.6 722,205.6 724,205.7 725.9,205.7 727.8,205.7 729.8,205.7 731.7,205.7 733.7,205.7 735.6,205.7 737.5,205.7 739.5,205.7 741.4,205.8 743.4,205.8 745.3,205.8 747.2,205.8 749.2,205.8 751.1,205.8 753.1,205.8 755,205.8" fill="none" stroke="#0000ff" stroke-width="1.3"/>
<g fill="#e31a1c" stroke="#000" stroke-width="0.6"><circle cx="566.8" cy="190.8" r="1.7"/><circle cx="568.7" cy="190" r="1.7"/><circle cx="570.6" cy="189.7" r="1.7"/><circle cx="572.5" cy="188.8" r="1.7"/><circle cx="574.3" cy="189" r="1.7"/><circle cx="576.2" cy="188.5" r="1.7"/><circle cx="578.1" cy="187.8" r="1.7"/><circle cx="580" cy="187.5" r="1.7"/><circle cx="581.9" cy="187.7" r="1.7"/><circle cx="583.7" cy="186.1" r="1.7"/><circle cx="585.6" cy="187.2" r="1.7"/><circle cx="587.5" cy="186.7" r="1.7"/><circle cx="589.4" cy="186.4" r="1.7"/><circle cx="591.2" cy="184.6" r="1.7"/><circle cx="593.1" cy="185.1" r="1.7"/><circle cx="595" cy="185.1" r="1.7"/><circle cx="596.9" cy="184.9" r="1.7"/><circle cx="598.7" cy="183.5" r="1.7"/><circle cx="600.6" cy="184.2" r="1.7"/><circle cx="602.5" cy="184" r="1.7"/><circle cx="604.4" cy="182.5" r="1.7"/><circle cx="606.2" cy="183.4" r="1.7"/><circle cx="608.1" cy="182.5" r="1.7"/><circle cx="610" cy="182.1" r="1.7"/><circle cx="611.9" cy="182.1" r="1.7"/><circle cx="613.7" cy="181.6" r="1.7"/><circle cx="615.6" cy="180.5" r="1.7"/><circle cx="617.5" cy="181.4" r="1.7"/><circle cx="619.4" cy="181.7" r="1.7"/><circle cx="621.3" cy="181.9" r="1.7"/><circle cx="623.1" cy="180.6" r="1.7"/><circle cx="625" cy="180.5" r="1.7"/><circle cx="626.9" cy="179.9" r="1.7"/><circle cx="628.8" cy="180.2" r="1.7"/><circle cx="630.6" cy="180.1" r="1.7"/><circle cx="632.5" cy="180.1" r="1.7"/><circle cx="634.4" cy="179.8" r="1.7"/><circle cx="636.3" cy="179.2" r="1.7"/><circle cx="638.1" cy="179.4" r="1.7"/><circle cx="640" cy="179" r="1.7"/><circle cx="641.9" cy="177.7" r="1.7"/><circle cx="643.8" cy="178.5" r="1.7"/><circle cx="645.6" cy="179.7" r="1.7"/><circle cx="647.5" cy="177.5" r="1.7"/><circle cx="649.4" cy="178.3" r="1.7"/><circle cx="671.8" cy="178.3" r="1.7"/><circle cx="671.9" cy="177.1" r="1.7"/><circle cx="663.7" cy="177.9" r="1.7"/><circle cx="657.4" cy="178.6" r="1.7"/><circle cx="650.9" cy="178.9" r="1.7"/><circle cx="660.1" cy="178.7" r="1.7"/><circle cx="660.8" cy="178" r="1.7"/><circle cx="650.7" cy="177.8" r="1.7"/><circle cx="650.8" cy="178.7" r="1.7"/><circle cx="677.2" cy="177.3" r="1.7"/><circle cx="667.6" cy="176.6" r="1.7"/><circle cx="655.9" cy="179" r="1.7"/><circle cx="661.5" cy="177.8" r="1.7"/><circle cx="676.5" cy="177.8" r="1.7"/><circle cx="674.4" cy="178.3" r="1.7"/><circle cx="672.9" cy="178.3" r="1.7"/><circle cx="660.3" cy="178.1" r="1.7"/><circle cx="663.1" cy="177.7" r="1.7"/><circle cx="668.2" cy="178.1" r="1.7"/><circle cx="651.1" cy="178.4" r="1.7"/><circle cx="664.9" cy="177.4" r="1.7"/><circle cx="657" cy="178" r="1.7"/><circle cx="673.9" cy="177.1" r="1.7"/><circle cx="651.2" cy="178.1" r="1.7"/><circle cx="668.3" cy="177.5" r="1.7"/><circle cx="673.6" cy="176.5" r="1.7"/><circle cx="655.7" cy="177.8" r="1.7"/><circle cx="674.3" cy="177.5" r="1.7"/><circle cx="673.7" cy="177.2" r="1.7"/><circle cx="649.9" cy="179.1" r="1.7"/><circle cx="669.1" cy="178" r="1.7"/><circle cx="649.4" cy="178" r="1.7"/><circle cx="663.4" cy="177.5" r="1.7"/><circle cx="661.6" cy="177" r="1.7"/><circle cx="655.1" cy="178.2" r="1.7"/><circle cx="705.3" cy="178.1" r="1.7"/><circle cx="729.8" cy="175.7" r="1.7"/><circle cx="704.9" cy="176.4" r="1.7"/><circle cx="696.3" cy="177.9" r="1.7"/><circle cx="724.3" cy="176.1" r="1.7"/><circle cx="711.6" cy="177.1" r="1.7"/><circle cx="729.4" cy="178.2" r="1.7"/><circle cx="700.7" cy="177.5" r="1.7"/><circle cx="705" cy="177.5" r="1.7"/><circle cx="729.5" cy="176" r="1.7"/><circle cx="714.6" cy="177.6" r="1.7"/><circle cx="714.5" cy="177.2" r="1.7"/><circle cx="700.8" cy="177.4" r="1.7"/><circle cx="689.5" cy="177.6" r="1.7"/><circle cx="736.2" cy="177.6" r="1.7"/><circle cx="693.1" cy="177.1" r="1.7"/><circle cx="731.7" cy="176.3" r="1.7"/><circle cx="707.5" cy="176.7" r="1.7"/><circle cx="737.1" cy="177.6" r="1.7"/><circle cx="709.1" cy="177.9" r="1.7"/><circle cx="736.4" cy="176.9" r="1.7"/><circle cx="717.1" cy="177.5" r="1.7"/><circle cx="701" cy="177.6" r="1.7"/><circle cx="726.5" cy="178.1" r="1.7"/><circle cx="723.1" cy="175.8" r="1.7"/><circle cx="723.6" cy="176.4" r="1.7"/><circle cx="712.4" cy="177.7" r="1.7"/><circle cx="700" cy="176.6" r="1.7"/><circle cx="721.4" cy="176.2" r="1.7"/><circle cx="694.2" cy="178.8" r="1.7"/></g>
<g fill="#3a6fd8" stroke="#000" stroke-width="0.6"><circle cx="568.8" cy="193" r="1.7"/><circle cx="570.6" cy="193.5" r="1.7"/><circle cx="572.4" cy="192.9" r="1.7"/><circle cx="574.3" cy="193.4" r="1.7"/><circle cx="576.1" cy="194.4" r="1.7"/><circle cx="577.9" cy="195.1" r="1.7"/><circle cx="579.8" cy="194.9" r="1.7"/><circle cx="581.6" cy="194.2" r="1.7"/><circle cx="583.4" cy="195.3" r="1.7"/><circle cx="585.3" cy="195.5" r="1.7"/><circle cx="587.1" cy="196.4" r="1.7"/><circle cx="588.9" cy="197.7" r="1.7"/><circle cx="590.8" cy="197.5" r="1.7"/><circle cx="592.6" cy="196.8" r="1.7"/><circle cx="594.4" cy="197.5" r="1.7"/><circle cx="596.3" cy="198.6" r="1.7"/><circle cx="598.1" cy="199.5" r="1.7"/><circle cx="599.9" cy="198.4" r="1.7"/><circle cx="601.7" cy="199.1" r="1.7"/><circle cx="603.6" cy="199.4" r="1.7"/><circle cx="605.4" cy="199.6" r="1.7"/><circle cx="607.2" cy="199.4" r="1.7"/><circle cx="609.1" cy="199.7" r="1.7"/><circle cx="610.9" cy="199.4" r="1.7"/><circle cx="612.7" cy="199.7" r="1.7"/><circle cx="614.6" cy="199.6" r="1.7"/><circle cx="616.4" cy="200.2" r="1.7"/><circle cx="618.2" cy="201.3" r="1.7"/><circle cx="620.1" cy="201.3" r="1.7"/><circle cx="621.9" cy="201.1" r="1.7"/><circle cx="623.7" cy="201.9" r="1.7"/><circle cx="625.6" cy="201.4" r="1.7"/><circle cx="627.4" cy="201.1" r="1.7"/><circle cx="629.2" cy="202.8" r="1.7"/><circle cx="631.1" cy="203.8" r="1.7"/><circle cx="632.9" cy="201.6" r="1.7"/><circle cx="634.7" cy="202.7" r="1.7"/><circle cx="636.6" cy="202.3" r="1.7"/><circle cx="638.4" cy="204" r="1.7"/><circle cx="640.2" cy="201.8" r="1.7"/><circle cx="642.1" cy="202.7" r="1.7"/><circle cx="643.9" cy="203.5" r="1.7"/><circle cx="645.7" cy="203.8" r="1.7"/><circle cx="647.6" cy="203.5" r="1.7"/><circle cx="649.4" cy="203.9" r="1.7"/><circle cx="730.1" cy="205.9" r="1.7"/><circle cx="674.2" cy="205.7" r="1.7"/><circle cx="686.9" cy="204.2" r="1.7"/><circle cx="671.5" cy="204.8" r="1.7"/><circle cx="653.3" cy="203.9" r="1.7"/><circle cx="650.8" cy="203.7" r="1.7"/><circle cx="670.2" cy="206.5" r="1.7"/><circle cx="722.2" cy="205.2" r="1.7"/><circle cx="663.2" cy="204.7" r="1.7"/><circle cx="707.7" cy="205.7" r="1.7"/><circle cx="670.5" cy="204.6" r="1.7"/><circle cx="654.9" cy="204.8" r="1.7"/><circle cx="665.7" cy="203.9" r="1.7"/><circle cx="706.7" cy="206" r="1.7"/><circle cx="691.8" cy="205.9" r="1.7"/><circle cx="695.8" cy="206" r="1.7"/><circle cx="687.7" cy="205" r="1.7"/><circle cx="672.6" cy="204.2" r="1.7"/><circle cx="690.7" cy="205.7" r="1.7"/><circle cx="727.3" cy="206.9" r="1.7"/><circle cx="666.4" cy="203.7" r="1.7"/><circle cx="711.3" cy="206.4" r="1.7"/><circle cx="670.6" cy="203.8" r="1.7"/><circle cx="665.7" cy="204.6" r="1.7"/><circle cx="676.8" cy="205.4" r="1.7"/><circle cx="657.2" cy="204.6" r="1.7"/><circle cx="728.4" cy="205.3" r="1.7"/><circle cx="680.2" cy="204.3" r="1.7"/><circle cx="664.3" cy="204.6" r="1.7"/><circle cx="649.4" cy="203" r="1.7"/><circle cx="654.5" cy="202.4" r="1.7"/><circle cx="667.5" cy="204.7" r="1.7"/><circle cx="684.7" cy="206" r="1.7"/><circle cx="700.2" cy="206.2" r="1.7"/><circle cx="732.3" cy="206.8" r="1.7"/><circle cx="724.6" cy="206.2" r="1.7"/><circle cx="669.9" cy="205.2" r="1.7"/><circle cx="701.1" cy="206.4" r="1.7"/><circle cx="727.3" cy="205.3" r="1.7"/><circle cx="658" cy="206.2" r="1.7"/><circle cx="721.5" cy="206.7" r="1.7"/><circle cx="682.9" cy="203.5" r="1.7"/><circle cx="715.4" cy="204.8" r="1.7"/><circle cx="676.7" cy="204.5" r="1.7"/><circle cx="702.3" cy="205.1" r="1.7"/><circle cx="692.2" cy="203.9" r="1.7"/><circle cx="658.2" cy="203.8" r="1.7"/><circle cx="713.6" cy="205.5" r="1.7"/><circle cx="718.9" cy="206.6" r="1.7"/><circle cx="690.2" cy="205.3" r="1.7"/><circle cx="682.2" cy="205.6" r="1.7"/><circle cx="729.4" cy="206.2" r="1.7"/><circle cx="681" cy="205.6" r="1.7"/><circle cx="723.7" cy="205.7" r="1.7"/><circle cx="684.8" cy="205.4" r="1.7"/><circle cx="681" cy="204.3" r="1.7"/><circle cx="679.9" cy="206" r="1.7"/><circle cx="654.5" cy="204.1" r="1.7"/><circle cx="672.8" cy="203.3" r="1.7"/><circle cx="668.8" cy="204.6" r="1.7"/></g>
<path d="M560.4 191.5h4M560.4 198.1h4M562.4 191.5V198.1" stroke="#222" stroke-width="1"/>
<rect x="560" y="192.4" width="4.8" height="4.8" fill="#1f77b4"/>
<path d="M561.2 200.3h4M561.2 206.9h4M563.2 200.3V206.9" stroke="#222" stroke-width="1"/>
<rect x="560.8" y="201.2" width="4.8" height="4.8" fill="#2ca02c"/>
<path d="M562.3 214.5h4M562.3 221.1h4M564.3 214.5V221.1" stroke="#222" stroke-width="1"/>
<rect x="561.9" y="215.4" width="4.8" height="4.8" fill="#9467bd"/>
<path d="M563.8 286.5h4M563.8 293.1h4M565.8 286.5V293.1" stroke="#222" stroke-width="1"/>
<rect x="563.4" y="287.4" width="4.8" height="4.8" fill="#ff7f0e"/>
<path d="M565 297.1h4M565 303.7h4M567 297.1V303.7" stroke="#222" stroke-width="1"/>
<rect x="564.6" y="298" width="4.8" height="4.8" fill="#17becf"/>
</g>
<rect x="657" y="279.4" width="94.2" height="38" rx="2" fill="#fff" fill-opacity="0.8" stroke="#d0d0d0" stroke-width="0.6"/>
<circle cx="665" cy="286" r="1.5" fill="#e31a1c" stroke="#000" stroke-width="0.6"/><circle cx="675.3" cy="286" r="1.5" fill="#3a6fd8" stroke="#000" stroke-width="0.6"/>
<line x1="661.2" y1="297.7" x2="668.6" y2="297.7" stroke="#ff0000" stroke-width="1.3" />
<line x1="671.3" y1="297.7" x2="678.8" y2="297.7" stroke="#0000ff" stroke-width="1.3" />
<rect x="668.6" y="307.3" width="4" height="4" fill="#17becf"/>
<text x="684.5" y="289" font-size="8.48" text-anchor="start" font-family="'Liberation Sans', sans-serif" fill="#000" textLength="49.45" lengthAdjust="spacingAndGlyphs" >MaNGa data</text>
<text x="684.5" y="300.8" font-size="8.48" text-anchor="start" font-family="'Liberation Sans', sans-serif" fill="#000" textLength="46.06" lengthAdjust="spacingAndGlyphs" >Tanh model</text>
<text x="684.5" y="312.6" font-size="8.48" text-anchor="start" font-family="'Liberation Sans', sans-serif" fill="#000" textLength="62.95" lengthAdjust="spacingAndGlyphs" >QSO absorption</text>
<rect x="543.8" y="165.4" width="211.2" height="156.4" fill="none" stroke="#000" stroke-width="1"/>
<line x1="543.8" y1="321.8" x2="543.8" y2="319.3" stroke="#000" stroke-width="0.9" />
<line x1="543.8" y1="165.4" x2="543.8" y2="167.9" stroke="#000" stroke-width="0.9" />
<line x1="563" y1="321.8" x2="563" y2="317.3" stroke="#000" stroke-width="0.9" />
<line x1="563" y1="165.4" x2="563" y2="169.9" stroke="#000" stroke-width="0.9" />
<line x1="582.2" y1="321.8" x2="582.2" y2="319.3" stroke="#000" stroke-width="0.9" />
<line x1="582.2" y1="165.4" x2="582.2" y2="167.9" stroke="#000" stroke-width="0.9" />
<line x1="601.4" y1="321.8" x2="601.4" y2="317.3" stroke="#000" stroke-width="0.9" />
<line x1="601.4" y1="165.4" x2="601.4" y2="169.9" stroke="#000" stroke-width="0.9" />
<line x1="620.6" y1="321.8" x2="620.6" y2="319.3" stroke="#000" stroke-width="0.9" />
<line x1="620.6" y1="165.4" x2="620.6" y2="167.9" stroke="#000" stroke-width="0.9" />
<line x1="639.8" y1="321.8" x2="639.8" y2="317.3" stroke="#000" stroke-width="0.9" />
<line x1="639.8" y1="165.4" x2="639.8" y2="169.9" stroke="#000" stroke-width="0.9" />
<line x1="659" y1="321.8" x2="659" y2="319.3" stroke="#000" stroke-width="0.9" />
<line x1="659" y1="165.4" x2="659" y2="167.9" stroke="#000" stroke-width="0.9" />
<line x1="678.2" y1="321.8" x2="678.2" y2="317.3" stroke="#000" stroke-width="0.9" />
<line x1="678.2" y1="165.4" x2="678.2" y2="169.9" stroke="#000" stroke-width="0.9" />
<line x1="697.4" y1="321.8" x2="697.4" y2="319.3" stroke="#000" stroke-width="0.9" />
<line x1="697.4" y1="165.4" x2="697.4" y2="167.9" stroke="#000" stroke-width="0.9" />
<line x1="716.6" y1="321.8" x2="716.6" y2="317.3" stroke="#000" stroke-width="0.9" />
<line x1="716.6" y1="165.4" x2="716.6" y2="169.9" stroke="#000" stroke-width="0.9" />
<line x1="735.8" y1="321.8" x2="735.8" y2="319.3" stroke="#000" stroke-width="0.9" />
<line x1="735.8" y1="165.4" x2="735.8" y2="167.9" stroke="#000" stroke-width="0.9" />
<line x1="755" y1="321.8" x2="755" y2="317.3" stroke="#000" stroke-width="0.9" />
<line x1="755" y1="165.4" x2="755" y2="169.9" stroke="#000" stroke-width="0.9" />
<line x1="543.8" y1="321.76" x2="548.3" y2="321.76" stroke="#000" stroke-width="0.9" />
<line x1="755" y1="321.76" x2="750.5" y2="321.76" stroke="#000" stroke-width="0.9" />
<line x1="543.8" y1="308.73" x2="546.3" y2="308.73" stroke="#000" stroke-width="0.9" />
<line x1="755" y1="308.73" x2="752.5" y2="308.73" stroke="#000" stroke-width="0.9" />
<line x1="543.8" y1="295.7" x2="548.3" y2="295.7" stroke="#000" stroke-width="0.9" />
<line x1="755" y1="295.7" x2="750.5" y2="295.7" stroke="#000" stroke-width="0.9" />
<line x1="543.8" y1="282.67" x2="546.3" y2="282.67" stroke="#000" stroke-width="0.9" />
<line x1="755" y1="282.67" x2="752.5" y2="282.67" stroke="#000" stroke-width="0.9" />
<line x1="543.8" y1="269.64" x2="548.3" y2="269.64" stroke="#000" stroke-width="0.9" />
<line x1="755" y1="269.64" x2="750.5" y2="269.64" stroke="#000" stroke-width="0.9" />
<line x1="543.8" y1="256.61" x2="546.3" y2="256.61" stroke="#000" stroke-width="0.9" />
<line x1="755" y1="256.61" x2="752.5" y2="256.61" stroke="#000" stroke-width="0.9" />
<line x1="543.8" y1="243.58" x2="548.3" y2="243.58" stroke="#000" stroke-width="0.9" />
<line x1="755" y1="243.58" x2="750.5" y2="243.58" stroke="#000" stroke-width="0.9" />
<line x1="543.8" y1="230.55" x2="546.3" y2="230.55" stroke="#000" stroke-width="0.9" />
<line x1="755" y1="230.55" x2="752.5" y2="230.55" stroke="#000" stroke-width="0.9" />
<line x1="543.8" y1="217.52" x2="548.3" y2="217.52" stroke="#000" stroke-width="0.9" />
<line x1="755" y1="217.52" x2="750.5" y2="217.52" stroke="#000" stroke-width="0.9" />
<line x1="543.8" y1="204.49" x2="546.3" y2="204.49" stroke="#000" stroke-width="0.9" />
<line x1="755" y1="204.49" x2="752.5" y2="204.49" stroke="#000" stroke-width="0.9" />
<line x1="543.8" y1="191.46" x2="548.3" y2="191.46" stroke="#000" stroke-width="0.9" />
<line x1="755" y1="191.46" x2="750.5" y2="191.46" stroke="#000" stroke-width="0.9" />
<line x1="543.8" y1="178.43" x2="546.3" y2="178.43" stroke="#000" stroke-width="0.9" />
<line x1="755" y1="178.43" x2="752.5" y2="178.43" stroke="#000" stroke-width="0.9" />
<line x1="543.8" y1="165.4" x2="548.3" y2="165.4" stroke="#000" stroke-width="0.9" />
<line x1="755" y1="165.4" x2="750.5" y2="165.4" stroke="#000" stroke-width="0.9" />
<text x="563" y="330.2" font-size="8.48" text-anchor="middle" font-family="'Liberation Sans', sans-serif" fill="#000" textLength="5.09" lengthAdjust="spacingAndGlyphs" >0</text>
<text x="601.4" y="330.2" font-size="8.48" text-anchor="middle" font-family="'Liberation Sans', sans-serif" fill="#000" textLength="5.09" lengthAdjust="spacingAndGlyphs" >2</text>
<text x="639.8" y="330.2" font-size="8.48" text-anchor="middle" font-family="'Liberation Sans', sans-serif" fill="#000" textLength="5.09" lengthAdjust="spacingAndGlyphs" >4</text>
<text x="678.2" y="330.2" font-size="8.48" text-anchor="middle" font-family="'Liberation Sans', sans-serif" fill="#000" textLength="5.09" lengthAdjust="spacingAndGlyphs" >6</text>
<text x="716.6" y="330.2" font-size="8.48" text-anchor="middle" font-family="'Liberation Sans', sans-serif" fill="#000" textLength="5.09" lengthAdjust="spacingAndGlyphs" >8</text>
<text x="755" y="330.2" font-size="8.48" text-anchor="middle" font-family="'Liberation Sans', sans-serif" fill="#000" textLength="10.18" lengthAdjust="spacingAndGlyphs" >10</text>
<text x="540.6" y="325.66" font-size="8.48" text-anchor="end" font-family="'Liberation Sans', sans-serif" fill="#000" textLength="27.06" lengthAdjust="spacingAndGlyphs" >−1000</text>
<text x="540.6" y="299.6" font-size="8.48" text-anchor="end" font-family="'Liberation Sans', sans-serif" fill="#000" textLength="21.97" lengthAdjust="spacingAndGlyphs" >−800</text>
<text x="540.6" y="273.54" font-size="8.48" text-anchor="end" font-family="'Liberation Sans', sans-serif" fill="#000" textLength="21.97" lengthAdjust="spacingAndGlyphs" >−600</text>
<text x="540.6" y="247.48" font-size="8.48" text-anchor="end" font-family="'Liberation Sans', sans-serif" fill="#000" textLength="21.97" lengthAdjust="spacingAndGlyphs" >−400</text>
<text x="540.6" y="221.42" font-size="8.48" text-anchor="end" font-family="'Liberation Sans', sans-serif" fill="#000" textLength="21.97" lengthAdjust="spacingAndGlyphs" >−200</text>
<text x="540.6" y="195.36" font-size="8.48" text-anchor="end" font-family="'Liberation Sans', sans-serif" fill="#000" textLength="5.09" lengthAdjust="spacingAndGlyphs" >0</text>
<text x="540.6" y="169.3" font-size="8.48" text-anchor="end" font-family="'Liberation Sans', sans-serif" fill="#000" textLength="15.27" lengthAdjust="spacingAndGlyphs" >200</text>
<text x="649.4" y="162.6" font-size="8.48" text-anchor="middle" font-family="'Liberation Sans', sans-serif" fill="#000" textLength="129.8" lengthAdjust="spacingAndGlyphs" >Radial velocity along the PA axis</text>
<text x="649.4" y="339.8" font-size="8.48" text-anchor="middle" font-family="'Liberation Sans', sans-serif" fill="#000" textLength="121" lengthAdjust="spacingAndGlyphs" >Radius along the PA axis (kpc)</text>
<text x="509.4" y="243.6" font-size="8.48" text-anchor="middle" font-family="'Liberation Sans', sans-serif" fill="#000" textLength="86.6" lengthAdjust="spacingAndGlyphs" transform="rotate(-90 509.4 243.6)">Radial velocity (km/s)</text>
<polygon points="31.7,504.1 109.6,468.4 109,367 29.3,393.1" fill="#f2f2f2" stroke="#f2f2f2" stroke-width="0.5"/>
<polygon points="109.6,468.4 234.1,488.1 236.3,381.3 109,367" fill="#f8f8f8" stroke="#f8f8f8" stroke-width="0.5"/>
<polygon points="31.7,504.1 109.6,468.4 234.1,488.1 164.8,528.1" fill="#f5f5f5" stroke="#f5f5f5" stroke-width="0.5"/>
<path d="M31.3 486L109.5 451.8M109.5 451.8L234.5 470.6M30.9 467.7L109.4 435.1M109.4 435.1L234.9 453M30.5 449.3L109.3 418.2M109.3 418.2L235.2 435.3M30.1 430.7L109.2 401.3M109.2 401.3L235.6 417.4M29.7 411.9L109.1 384.2M109.1 384.2L236 399.4M52.6 494.6L50.7 386.1M52.6 494.6L183.5 517.3M72.5 485.4L71.1 379.4M72.5 485.4L201.2 507.1M91.5 476.7L90.5 373M91.5 476.7L218.1 497.3M96.2 515.8L170.2 478M170.2 478L170.9 374M33.7 504.5L111.5 468.7M111.5 468.7L111 367.2" stroke="#c8c8c8" stroke-width="0.8" fill="none"/>
<line x1="109.57" y1="468.41" x2="109.04" y2="367" stroke="#d0d0d0" stroke-width="0.8" />
<line x1="31.65" y1="504.15" x2="29.25" y2="393.08" stroke="#444" stroke-width="1.0" />
<line x1="31.65" y1="504.15" x2="164.79" y2="528.09" stroke="#444" stroke-width="1.0" />
<line x1="164.79" y1="528.09" x2="234.14" y2="488.06" stroke="#444" stroke-width="1.0" />
<path d="M31.3 486l-2 0.6M30.9 467.7l-2 0.6M30.5 449.3l-2 0.6M30.1 430.7l-2 0.6M29.7 411.9l-2 0.6M164.8 528.1l1.5 1.8M183.5 517.3l1.5 1.8M201.2 507.1l1.5 1.8M218.1 497.3l1.5 1.8M234.1 488.1l1.5 1.8M96.2 515.8l-0.5 2" stroke="#333" stroke-width="0.9" fill="none"/>
<text x="18.3" y="418.75" font-size="8.48" text-anchor="middle" font-family="'Liberation Sans', sans-serif" fill="#000" textLength="5.09" lengthAdjust="spacingAndGlyphs" >5</text>
<text x="18.3" y="456.05" font-size="8.48" text-anchor="middle" font-family="'Liberation Sans', sans-serif" fill="#000" textLength="5.09" lengthAdjust="spacingAndGlyphs" >0</text>
<text x="17.3" y="492.79" font-size="8.48" text-anchor="middle" font-family="'Liberation Sans', sans-serif" fill="#000" textLength="11.79" lengthAdjust="spacingAndGlyphs" >−5</text>
<text x="91.3" y="530.1" font-size="8.48" text-anchor="middle" font-family="'Liberation Sans', sans-serif" fill="#000" textLength="5.09" lengthAdjust="spacingAndGlyphs" >0</text>
<text x="173.4" y="541.7" font-size="8.48" text-anchor="middle" font-family="'Liberation Sans', sans-serif" fill="#000" textLength="11.79" lengthAdjust="spacingAndGlyphs" >−5</text>
<text x="207.6" y="520.7" font-size="8.48" text-anchor="middle" font-family="'Liberation Sans', sans-serif" fill="#000" textLength="5.09" lengthAdjust="spacingAndGlyphs" >0</text>
<text x="239.2" y="501.6" font-size="8.48" text-anchor="middle" font-family="'Liberation Sans', sans-serif" fill="#000" textLength="5.09" lengthAdjust="spacingAndGlyphs" >5</text>
<text x="85.8" y="537.4" font-size="8.48" text-anchor="middle" font-family="'Liberation Sans', sans-serif" fill="#000" textLength="22.68" lengthAdjust="spacingAndGlyphs" transform="rotate(12 85.8 534.6)"><tspan font-style="italic">Y</tspan><tspan> (</tspan><tspan font-style="italic">R</tspan><tspan font-size="5.93" dy="1.6" font-style="italic">e</tspan><tspan dy="-1.6">)</tspan></text>
<text x="216.8" y="526.5" font-size="8.48" text-anchor="middle" font-family="'Liberation Sans', sans-serif" fill="#000" textLength="23.27" lengthAdjust="spacingAndGlyphs" transform="rotate(-33 216.8 523.7)"><tspan font-style="italic">X</tspan><tspan> (</tspan><tspan font-style="italic">R</tspan><tspan font-size="5.93" dy="1.6" font-style="italic">e</tspan><tspan dy="-1.6">)</tspan></text>
<text x="1.2" y="451.4" font-size="8.48" text-anchor="middle" font-family="'Liberation Sans', sans-serif" fill="#000" textLength="23.27" lengthAdjust="spacingAndGlyphs" transform="rotate(90 1.2 451.4)"><tspan font-style="italic">Z</tspan><tspan> (</tspan><tspan font-style="italic">R</tspan><tspan font-size="5.93" dy="1.6" font-style="italic">e</tspan><tspan dy="-1.6">)</tspan></text>
<defs><linearGradient id="edg" x1="0" x2="1" y1="0" y2="0"><stop offset="0" stop-color="#3b4cc0"/><stop offset="0.03" stop-color="#8db0fe"/><stop offset="0.1" stop-color="#e6d7cf"/><stop offset="0.25" stop-color="#f29274"/><stop offset="0.45" stop-color="#b40426"/><stop offset="0.55" stop-color="#b40426"/><stop offset="0.75" stop-color="#f29274"/><stop offset="0.9" stop-color="#e6d7cf"/><stop offset="0.97" stop-color="#8db0fe"/><stop offset="1" stop-color="#3b4cc0"/></linearGradient></defs>
<rect x="354.3" y="445.3" width="80.4" height="2.2" rx="1.1" fill="url(#edg)"/>
<clipPath id="yzclip"><rect x="316.6" y="368.5" width="155.8" height="155.8"/></clipPath>
<line x1="394.5" y1="446.4" x2="342.22" y2="367.5" stroke="#000" stroke-width="1.5" clip-path="url(#yzclip)"/>
<line x1="394.5" y1="446.1" x2="394.5" y2="430.6" stroke="#ff0000" stroke-width="1.3" />
<rect x="316.6" y="368.5" width="155.8" height="155.8" fill="none" stroke="#222" stroke-width="0.8"/>
<path d="M332.2 524.3v-2.5M332.2 368.5v2.5M363.3 524.3v-2.5M363.3 368.5v2.5M394.5 524.3v-2.5M394.5 368.5v2.5M425.7 524.3v-2.5M425.7 368.5v2.5M456.8 524.3v-2.5M456.8 368.5v2.5M316.6 508.7h2.5M472.4 508.7h-2.5M316.6 493.1h2.5M472.4 493.1h-2.5M316.6 477.6h2.5M472.4 477.6h-2.5M316.6 462h2.5M472.4 462h-2.5M316.6 446.4h2.5M472.4 446.4h-2.5M316.6 430.8h2.5M472.4 430.8h-2.5M316.6 415.2h2.5M472.4 415.2h-2.5M316.6 399.7h2.5M472.4 399.7h-2.5M316.6 384.1h2.5M472.4 384.1h-2.5" stroke="#000" stroke-width="0.9" fill="none"/>
<text x="394.5" y="532.5" font-size="8.48" text-anchor="middle" font-family="'Liberation Sans', sans-serif" fill="#000" textLength="5.09" lengthAdjust="spacingAndGlyphs" >0</text>
<text x="314.1" y="449.3" font-size="8.48" text-anchor="end" font-family="'Liberation Sans', sans-serif" fill="#000" textLength="5.09" lengthAdjust="spacingAndGlyphs" >0</text>
<text x="314.1" y="372.4" font-size="8.48" text-anchor="end" font-family="'Liberation Sans', sans-serif" fill="#000" textLength="5.09" lengthAdjust="spacingAndGlyphs" >5</text>
<text x="314.1" y="527.9" font-size="8.48" text-anchor="end" font-family="'Liberation Sans', sans-serif" fill="#000" textLength="11.79" lengthAdjust="spacingAndGlyphs" >−5</text>
<text x="394.5" y="540.4" font-size="8.48" text-anchor="middle" font-family="'Liberation Sans', sans-serif" fill="#000" textLength="22.68" lengthAdjust="spacingAndGlyphs" ><tspan font-style="italic">Y</tspan><tspan> (</tspan><tspan font-style="italic">R</tspan><tspan font-size="5.93" dy="1.6" font-style="italic">e</tspan><tspan dy="-1.6">)</tspan></text>
<text x="301.2" y="446.4" font-size="8.48" text-anchor="middle" font-family="'Liberation Sans', sans-serif" fill="#000" textLength="23.27" lengthAdjust="spacingAndGlyphs" transform="rotate(-90 301.2 446.4)"><tspan font-style="italic">Z</tspan><tspan> (</tspan><tspan font-style="italic">R</tspan><tspan font-size="5.93" dy="1.6" font-style="italic">e</tspan><tspan dy="-1.6">)</tspan></text>
<rect x="571.7" y="368.5" width="155.8" height="155.8" fill="none" stroke="#222" stroke-width="0.8"/>
<path d="M587.3 524.3v-2.5M587.3 368.5v2.5M618.4 524.3v-2.5M618.4 368.5v2.5M649.6 524.3v-2.5M649.6 368.5v2.5M680.8 524.3v-2.5M680.8 368.5v2.5M711.9 524.3v-2.5M711.9 368.5v2.5M571.7 508.7h2.5M727.5 508.7h-2.5M571.7 477.6h2.5M727.5 477.6h-2.5M571.7 446.4h2.5M727.5 446.4h-2.5M571.7 415.2h2.5M727.5 415.2h-2.5M571.7 384.1h2.5M727.5 384.1h-2.5" stroke="#000" stroke-width="0.9" fill="none"/>
<text x="649.6" y="532.5" font-size="8.48" text-anchor="middle" font-family="'Liberation Sans', sans-serif" fill="#000" textLength="5.09" lengthAdjust="spacingAndGlyphs" >0</text>
<text x="569.2" y="449.3" font-size="8.48" text-anchor="end" font-family="'Liberation Sans', sans-serif" fill="#000" textLength="5.09" lengthAdjust="spacingAndGlyphs" >0</text>
<text x="649.6" y="540.4" font-size="8.48" text-anchor="middle" font-family="'Liberation Sans', sans-serif" fill="#000" textLength="23.27" lengthAdjust="spacingAndGlyphs" ><tspan font-style="italic">X</tspan><tspan> (</tspan><tspan font-style="italic">R</tspan><tspan font-size="5.93" dy="1.6" font-style="italic">e</tspan><tspan dy="-1.6">)</tspan></text>
<text x="562.5" y="446.4" font-size="8.48" text-anchor="middle" font-family="'Liberation Sans', sans-serif" fill="#000" textLength="22.68" lengthAdjust="spacingAndGlyphs" transform="rotate(-90 562.5 446.4)"><tspan font-style="italic">Y</tspan><tspan> (</tspan><tspan font-style="italic">R</tspan><tspan font-size="5.93" dy="1.6" font-style="italic">e</tspan><tspan dy="-1.6">)</tspan></text>
</svg><div style="position:absolute;left:85.03px;top:393.41px;width:100px;height:100px;border-radius:50%;background:conic-gradient(#dddcdc 0deg, #f0cdbb 10deg, #f7b79b 20deg, #f4987a 30deg, #e97a5f 40deg, #da5a49 50deg, #cc403a 60deg, #be242e 70deg, #b50927 80deg, #b40426 90deg, #b50927 100deg, #be242e 110deg, #cc403a 120deg, #da5a49 130deg, #e97a5f 140deg, #f4987a 150deg, #f7b79b 160deg, #f0cdbb 170deg, #dddcdc 180deg, #c4d5f3 190deg, #a9c6fd 200deg, #8caffe 210deg, #7396f5 220deg, #5e7de7 230deg, #4f69d9 240deg, #4358cb 250deg, #3c4ec2 260deg, #3b4cc0 270deg, #3c4ec2 280deg, #4358cb 290deg, #4f69d9 300deg, #5e7de7 310deg, #7396f5 320deg, #8caffe 330deg, #a9c6fd 340deg, #c4d5f3 350deg, #dcdddd 360deg);filter:brightness(0.8);transform:matrix(0.3710,-0.1628,0.6539,0.0944,0,0);transform-origin:50px 50px"></div><div style="position:absolute;left:85.03px;top:392.11px;width:100px;height:100px;border-radius:50%;background:conic-gradient(#dddcdc 0deg, #f0cdbb 10deg, #f7b79b 20deg, #f4987a 30deg, #e97a5f 40deg, #da5a49 50deg, #cc403a 60deg, #be242e 70deg, #b50927 80deg, #b40426 90deg, #b50927 100deg, #be242e 110deg, #cc403a 120deg, #da5a49 130deg, #e97a5f 140deg, #f4987a 150deg, #f7b79b 160deg, #f0cdbb 170deg, #dddcdc 180deg, #c4d5f3 190deg, #a9c6fd 200deg, #8caffe 210deg, #7396f5 220deg, #5e7de7 230deg, #4f69d9 240deg, #4358cb 250deg, #3c4ec2 260deg, #3b4cc0 270deg, #3c4ec2 280deg, #4358cb 290deg, #4f69d9 300deg, #5e7de7 310deg, #7396f5 320deg, #8caffe 330deg, #a9c6fd 340deg, #c4d5f3 350deg, #dcdddd 360deg);transform:matrix(0.3710,-0.1628,0.6539,0.0944,0,0);transform-origin:50px 50px"></div><svg style="position:absolute;left:0;top:0" width="760" height="545" viewBox="0 0 760 545"><path d="M147.2 432.8L192.4 398.2" stroke="#111" stroke-width="1.4" fill="none"/><path d="M192.4 398.2L210.5 385.4" stroke="#111" stroke-width="1.4" stroke-dasharray="2.6,1.8" fill="none"/><polygon points="217.8,385.1 210.2,380.3 211.2,389.6" fill="#000"/></svg><div style="position:absolute;left:609.30px;top:406.10px;width:80.6px;height:80.6px;border-radius:50%;background:conic-gradient(#dddcdc 0deg, #f0cdbb 10deg, #f7b79b 20deg, #f4987a 30deg, #e97a5f 40deg, #da5a49 50deg, #cc403a 60deg, #be242e 70deg, #b50927 80deg, #b40426 90deg, #b40426 100deg, #b40426 110deg, #cc403a 113deg, #d44e41 120deg, #e26952 130deg, #ee8669 140deg, #f6a385 150deg, #f6bea4 160deg, #f0cdbb 170deg, #dddcdc 180deg, #c4d5f3 190deg, #a9c6fd 200deg, #8caffe 210deg, #7396f5 220deg, #5e7de7 230deg, #4f69d9 240deg, #4358cb 250deg, #3c4ec2 260deg, #3b4cc0 270deg, #3c4ec2 280deg, #4358cb 290deg, #4f69d9 300deg, #5e7de7 310deg, #7396f5 320deg, #8caffe 330deg, #a9c6fd 340deg, #c4d5f3 350deg, #dcdddd 360deg)"></div><svg style="position:absolute;left:0;top:0" width="760" height="545" viewBox="0 0 760 545"><path d="M649.6 446.4V524.3" stroke="#000" stroke-width="1.5"/><circle cx="649.6" cy="446.4" r="1.3" fill="#fff" stroke="#000" stroke-width="0.6"/></svg></body></html>
